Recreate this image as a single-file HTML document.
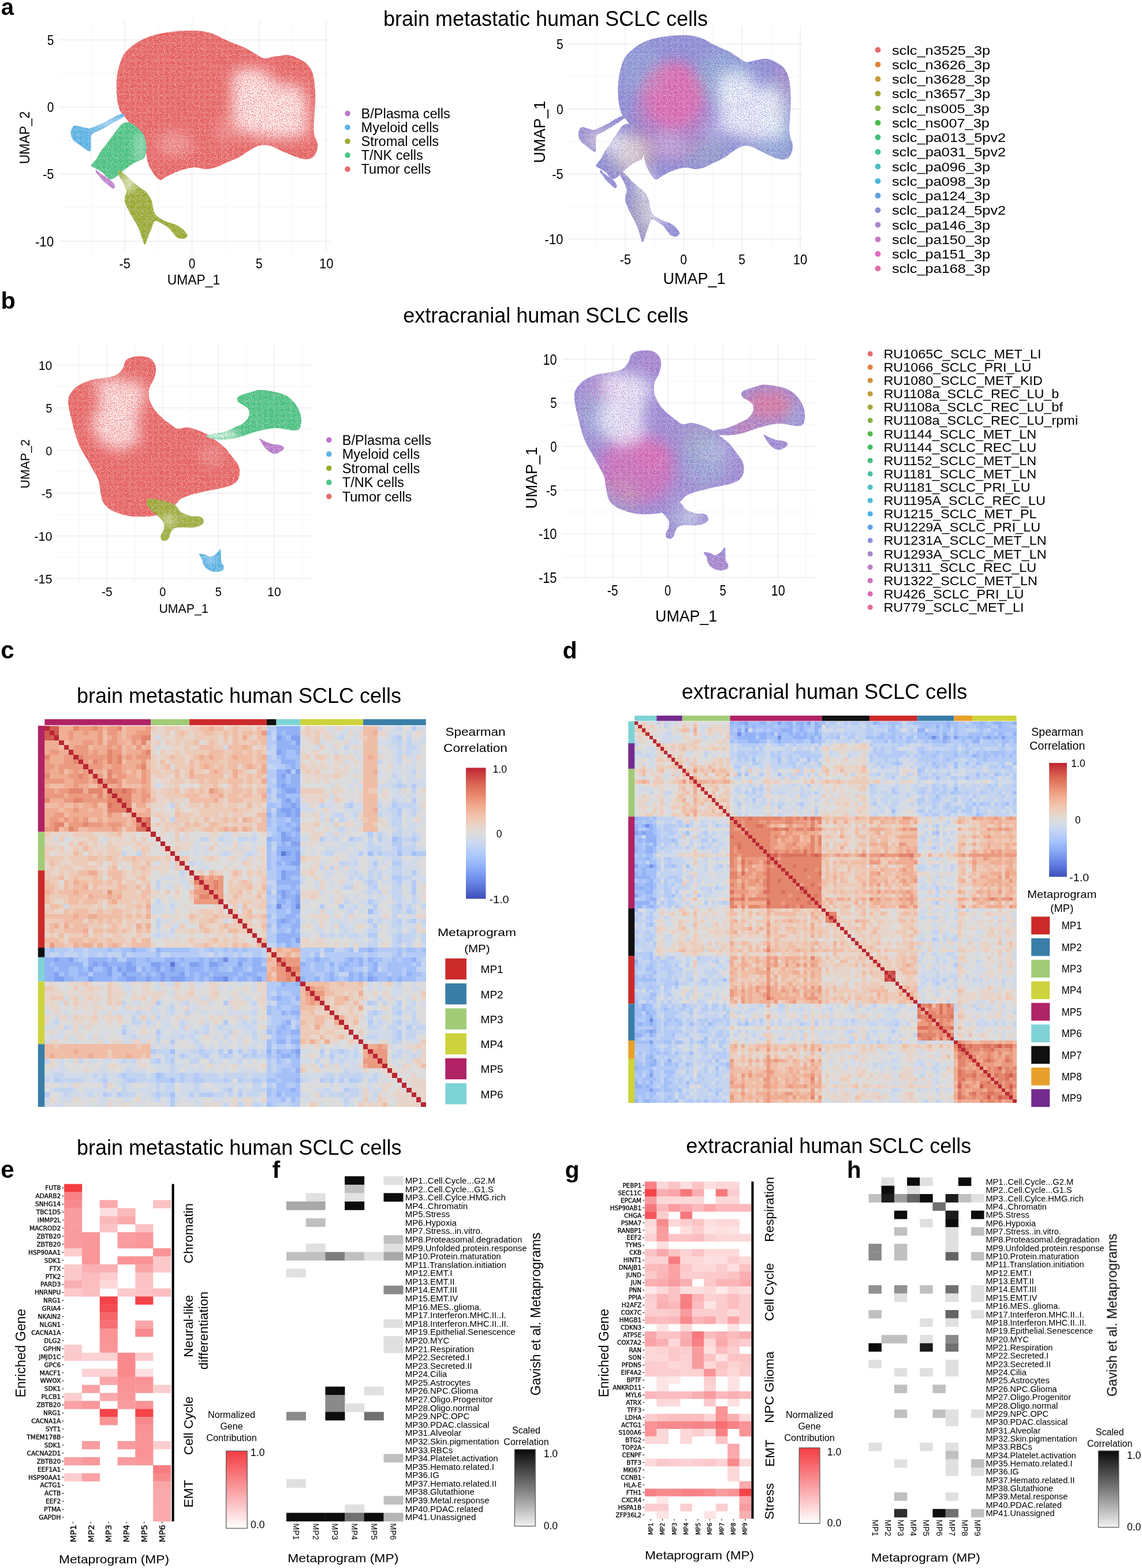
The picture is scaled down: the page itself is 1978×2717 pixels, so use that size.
<!DOCTYPE html><html><head><meta charset="utf-8"><title>SCLC figure</title><style>html,body{margin:0;padding:0;background:#fff;}svg{display:block;}</style></head><body><svg width="1978" height="2717" viewBox="0 0 1978 2717" font-family="Liberation Sans, Arial, sans-serif"><defs><filter id="blur6" x="-50%" y="-50%" width="200%" height="200%"><feGaussianBlur stdDeviation="6"/></filter><filter id="blur12" x="-50%" y="-50%" width="200%" height="200%"><feGaussianBlur stdDeviation="12"/></filter><filter id="rough" x="-5%" y="-5%" width="110%" height="110%"><feTurbulence type="fractalNoise" baseFrequency="0.9" numOctaves="1" seed="3" result="n"/><feColorMatrix in="n" type="matrix" values="0 0 0 0 1  0 0 0 0 1  0 0 0 0 1  0 0 0 3.0 -1.6" result="w"/><feComposite in="w" in2="SourceGraphic" operator="in" result="wm"/><feMerge><feMergeNode in="SourceGraphic"/><feMergeNode in="wm"/></feMerge></filter><filter id="dW" x="0" y="0" width="100%" height="100%"><feTurbulence type="fractalNoise" baseFrequency="0.7" numOctaves="1" seed="5" result="n"/><feColorMatrix in="n" type="matrix" values="0 0 0 0 1.000  0 0 0 0 1.000  0 0 0 0 1.000  0 0 0 10 -3.5"/></filter><filter id="dT" x="0" y="0" width="100%" height="100%"><feTurbulence type="fractalNoise" baseFrequency="0.7" numOctaves="1" seed="9" result="n"/><feColorMatrix in="n" type="matrix" values="0 0 0 0 0.322  0 0 0 0 0.761  0 0 0 0 0.706  0 0 0 9 -4.6"/></filter><filter id="dP" x="0" y="0" width="100%" height="100%"><feTurbulence type="fractalNoise" baseFrequency="0.7" numOctaves="1" seed="13" result="n"/><feColorMatrix in="n" type="matrix" values="0 0 0 0 0.902  0 0 0 0 0.376  0 0 0 0 0.624  0 0 0 8 -3.4"/></filter><filter id="dL" x="0" y="0" width="100%" height="100%"><feTurbulence type="fractalNoise" baseFrequency="0.7" numOctaves="1" seed="17" result="n"/><feColorMatrix in="n" type="matrix" values="0 0 0 0 0.561  0 0 0 0 0.561  0 0 0 0 0.847  0 0 0 8 -3.4"/></filter><filter id="dG" x="0" y="0" width="100%" height="100%"><feTurbulence type="fractalNoise" baseFrequency="0.7" numOctaves="1" seed="21" result="n"/><feColorMatrix in="n" type="matrix" values="0 0 0 0 0.424  0 0 0 0 0.749  0 0 0 0 0.353  0 0 0 9 -4.8"/></filter></defs>
<text x="1.7" y="25.6" font-size="40" font-weight="bold">a</text>
<text x="664.0" y="45.0" font-size="36" textLength="562.0" lengthAdjust="spacingAndGlyphs">brain metastatic human SCLC cells</text>
<text x="1.5" y="535.4" font-size="41.5" font-weight="bold">b</text>
<text x="698.3" y="558.6" font-size="36" textLength="494.0" lengthAdjust="spacingAndGlyphs">extracranial human SCLC cells</text>
<line x1="158.2" y1="36" x2="158.2" y2="438" stroke="#f4f4f4" stroke-width="1.0"/><line x1="216.3" y1="36" x2="216.3" y2="438" stroke="#ebebeb" stroke-width="1.3"/><line x1="274.5" y1="36" x2="274.5" y2="438" stroke="#f4f4f4" stroke-width="1.0"/><line x1="332.6" y1="36" x2="332.6" y2="438" stroke="#ebebeb" stroke-width="1.3"/><line x1="390.8" y1="36" x2="390.8" y2="438" stroke="#f4f4f4" stroke-width="1.0"/><line x1="448.9" y1="36" x2="448.9" y2="438" stroke="#ebebeb" stroke-width="1.3"/><line x1="507.1" y1="36" x2="507.1" y2="438" stroke="#f4f4f4" stroke-width="1.0"/><line x1="565.2" y1="36" x2="565.2" y2="438" stroke="#ebebeb" stroke-width="1.3"/><line x1="102" y1="418.0" x2="571" y2="418.0" stroke="#ebebeb" stroke-width="1.3"/><line x1="102" y1="359.9" x2="571" y2="359.9" stroke="#f4f4f4" stroke-width="1.0"/><line x1="102" y1="301.7" x2="571" y2="301.7" stroke="#ebebeb" stroke-width="1.3"/><line x1="102" y1="243.6" x2="571" y2="243.6" stroke="#f4f4f4" stroke-width="1.0"/><line x1="102" y1="185.4" x2="571" y2="185.4" stroke="#ebebeb" stroke-width="1.3"/><line x1="102" y1="127.2" x2="571" y2="127.2" stroke="#f4f4f4" stroke-width="1.0"/><line x1="102" y1="69.1" x2="571" y2="69.1" stroke="#ebebeb" stroke-width="1.3"/>
<clipPath id="clipT1"><path d="M214.8,93.8C218.5,88.0 222.8,84.8 227.9,80.7C233.0,76.6 238.6,72.5 245.4,69.1C252.1,65.7 259.9,62.7 268.6,60.4C277.3,58.0 288.0,56.3 297.7,55.1C307.4,53.9 317.6,53.2 326.8,53.1C336.0,53.0 345.2,53.3 352.9,54.5C360.7,55.7 367.0,57.9 373.3,60.4C379.6,62.8 384.9,66.4 390.7,69.1C396.5,71.7 402.4,73.9 408.2,76.3C414.0,78.8 419.8,80.7 425.6,83.6C431.4,86.5 437.7,90.9 443.1,93.8C448.4,96.7 452.3,100.3 457.6,101.1C462.9,101.8 468.3,99.1 475.0,98.1C481.8,97.2 491.5,94.8 498.3,95.2C505.1,95.7 510.4,98.6 515.7,101.1C521.1,103.5 526.2,105.9 530.3,109.8C534.4,113.7 538.0,118.5 540.5,124.3C542.9,130.1 543.9,136.9 544.8,144.7C545.8,152.4 546.3,162.1 546.3,170.8C546.3,179.6 545.3,188.8 544.8,197.0C544.3,205.2 543.4,214.0 543.4,220.3C543.4,226.6 543.7,229.9 544.8,234.8C545.9,239.6 549.6,244.5 550.1,249.3C550.5,254.2 549.6,259.7 547.7,263.9C545.9,268.0 542.9,272.1 539.0,274.0C535.1,276.0 529.8,276.2 524.5,275.5C519.1,274.8 513.3,272.1 507.0,269.7C500.7,267.3 493.5,263.9 486.7,261.0C479.9,258.0 472.6,253.7 466.3,252.2C460.0,250.8 454.7,250.8 448.9,252.2C443.1,253.7 437.2,257.6 431.4,261.0C425.6,264.3 420.3,269.2 414.0,272.6C407.7,276.0 400.4,278.4 393.6,281.3C386.9,284.2 379.6,288.1 373.3,290.0C367.0,292.0 361.7,292.9 355.8,292.9C350.0,292.9 344.2,290.0 338.4,290.0C332.6,290.0 326.8,291.5 321.0,292.9C315.1,294.4 309.3,296.3 303.5,298.8C297.7,301.2 290.4,305.3 286.1,307.5C281.7,309.7 280.3,312.3 277.3,311.8C274.4,311.3 271.0,307.2 268.6,304.6C266.2,301.9 264.7,299.2 262.8,295.8C260.9,292.5 258.4,288.1 257.0,284.2C255.5,280.3 255.1,277.4 254.1,272.6C253.1,267.7 252.6,261.0 251.2,255.1C249.7,249.3 248.8,243.5 245.4,237.7C242.0,231.9 235.7,226.1 230.8,220.3C226.0,214.4 220.2,207.7 216.3,202.8C212.4,198.0 209.8,196.0 207.6,191.2C205.4,186.3 204.2,179.6 203.2,173.7C202.2,167.9 201.9,162.6 201.8,156.3C201.6,150.0 201.6,142.7 202.3,135.9C203.1,129.2 204.0,122.6 206.1,115.6C208.2,108.6 211.2,99.6 214.8,93.8Z"/></clipPath>
<g filter="url(#rough)">
<path d="M214.8,93.8C218.5,88.0 222.8,84.8 227.9,80.7C233.0,76.6 238.6,72.5 245.4,69.1C252.1,65.7 259.9,62.7 268.6,60.4C277.3,58.0 288.0,56.3 297.7,55.1C307.4,53.9 317.6,53.2 326.8,53.1C336.0,53.0 345.2,53.3 352.9,54.5C360.7,55.7 367.0,57.9 373.3,60.4C379.6,62.8 384.9,66.4 390.7,69.1C396.5,71.7 402.4,73.9 408.2,76.3C414.0,78.8 419.8,80.7 425.6,83.6C431.4,86.5 437.7,90.9 443.1,93.8C448.4,96.7 452.3,100.3 457.6,101.1C462.9,101.8 468.3,99.1 475.0,98.1C481.8,97.2 491.5,94.8 498.3,95.2C505.1,95.7 510.4,98.6 515.7,101.1C521.1,103.5 526.2,105.9 530.3,109.8C534.4,113.7 538.0,118.5 540.5,124.3C542.9,130.1 543.9,136.9 544.8,144.7C545.8,152.4 546.3,162.1 546.3,170.8C546.3,179.6 545.3,188.8 544.8,197.0C544.3,205.2 543.4,214.0 543.4,220.3C543.4,226.6 543.7,229.9 544.8,234.8C545.9,239.6 549.6,244.5 550.1,249.3C550.5,254.2 549.6,259.7 547.7,263.9C545.9,268.0 542.9,272.1 539.0,274.0C535.1,276.0 529.8,276.2 524.5,275.5C519.1,274.8 513.3,272.1 507.0,269.7C500.7,267.3 493.5,263.9 486.7,261.0C479.9,258.0 472.6,253.7 466.3,252.2C460.0,250.8 454.7,250.8 448.9,252.2C443.1,253.7 437.2,257.6 431.4,261.0C425.6,264.3 420.3,269.2 414.0,272.6C407.7,276.0 400.4,278.4 393.6,281.3C386.9,284.2 379.6,288.1 373.3,290.0C367.0,292.0 361.7,292.9 355.8,292.9C350.0,292.9 344.2,290.0 338.4,290.0C332.6,290.0 326.8,291.5 321.0,292.9C315.1,294.4 309.3,296.3 303.5,298.8C297.7,301.2 290.4,305.3 286.1,307.5C281.7,309.7 280.3,312.3 277.3,311.8C274.4,311.3 271.0,307.2 268.6,304.6C266.2,301.9 264.7,299.2 262.8,295.8C260.9,292.5 258.4,288.1 257.0,284.2C255.5,280.3 255.1,277.4 254.1,272.6C253.1,267.7 252.6,261.0 251.2,255.1C249.7,249.3 248.8,243.5 245.4,237.7C242.0,231.9 235.7,226.1 230.8,220.3C226.0,214.4 220.2,207.7 216.3,202.8C212.4,198.0 209.8,196.0 207.6,191.2C205.4,186.3 204.2,179.6 203.2,173.7C202.2,167.9 201.9,162.6 201.8,156.3C201.6,150.0 201.6,142.7 202.3,135.9C203.1,129.2 204.0,122.6 206.1,115.6C208.2,108.6 211.2,99.6 214.8,93.8Z" fill="#e55f5e"/>
</g>
<mask id="m2" maskUnits="userSpaceOnUse" x="0" y="0" width="1978" height="2717"><g filter="url(#blur12)"><path d="M404.2,127.2C408.7,120.2 419.4,119.3 428.5,118.7C437.5,118.1 449.7,118.9 458.7,123.6C467.8,128.2 473.9,142.8 483.0,146.6C492.1,150.4 505.6,143.2 513.3,146.6C520.9,150.0 525.6,156.7 529.0,167.2C532.4,177.7 533.6,198.5 533.8,209.6C534.0,220.7 535.7,229.0 530.2,233.8C524.8,238.7 512.0,237.9 501.1,238.7C490.2,239.5 475.9,239.7 464.8,238.7C453.7,237.7 443.4,234.6 434.5,232.6C425.6,230.6 416.7,232.4 411.5,226.6C406.2,220.7 404.6,208.4 403.0,197.5C401.4,186.6 401.6,172.8 401.8,161.1C402.0,149.4 399.8,134.3 404.2,127.2Z" fill="#fff" opacity="0.85"/><ellipse cx="303.5" cy="249.3" rx="32.0" ry="20.4" fill="#fff" opacity="0.35"/><ellipse cx="390.7" cy="226.1" rx="17.4" ry="26.2" fill="#fff" opacity="0.25"/></g></mask>
<g clip-path="url(#clipT1)" mask="url(#m2)"><rect x="197" y="48" width="358" height="269" filter="url(#dW)"/></g>
<g filter="url(#rough)">
<path d="M123.3,226.1C124.2,223.3 125.7,218.8 129.1,217.9C132.5,217.1 139.5,220.1 143.6,220.8C147.7,221.6 149.9,223.1 153.8,222.6C157.7,222.1 162.3,219.8 166.9,217.9C171.5,216.1 177.0,213.7 181.4,211.5C185.8,209.4 189.2,207.2 193.0,205.1C196.9,203.1 201.3,200.7 204.7,199.3C208.1,198.0 211.5,196.8 213.4,197.0C215.2,197.2 216.7,198.9 215.7,200.5C214.7,202.0 210.9,204.2 207.6,206.3C204.3,208.4 199.8,210.8 195.9,213.0C192.1,215.2 188.2,217.5 184.3,219.7C180.4,221.9 176.8,223.9 172.7,226.1C168.6,228.2 162.1,229.6 159.6,232.5C157.1,235.4 158.0,238.8 157.6,243.5C157.1,248.3 158.3,258.3 157.0,261.0C155.6,263.6 152.6,261.2 149.4,259.5C146.2,257.8 141.4,253.4 137.8,250.8C134.2,248.1 130.0,246.2 127.6,243.5C125.2,240.8 124.0,237.7 123.3,234.8C122.5,231.9 122.3,228.9 123.3,226.1Z" fill="#55b0e2" opacity="0.9"/>
<path d="M123.3,226.1C124.2,223.3 125.7,218.8 129.1,217.9C132.5,217.1 139.5,219.9 143.6,220.8C147.7,221.8 151.6,220.9 153.8,223.7C156.0,226.6 156.2,231.5 156.7,237.7C157.2,243.9 157.9,257.5 156.7,261.0C155.5,264.4 152.6,260.3 149.4,258.6C146.3,256.9 141.4,253.3 137.8,250.8C134.2,248.3 130.0,246.2 127.6,243.5C125.2,240.8 124.0,237.7 123.3,234.8C122.5,231.9 122.3,228.9 123.3,226.1Z" fill="#55b0e2" opacity="1"/>
<path d="M157.9,286.5C158.0,283.8 164.2,279.5 166.9,275.5C169.6,271.5 171.5,266.7 174.1,262.7C176.8,258.7 180.2,255.2 182.9,251.7C185.5,248.1 187.7,244.5 190.1,241.2C192.5,237.9 195.2,234.7 197.4,231.9C199.6,229.0 200.9,226.9 203.2,224.0C205.5,221.2 208.0,216.7 211.4,214.7C214.7,212.7 219.1,211.2 223.3,212.1C227.5,213.0 233.0,217.2 236.6,220.0C240.3,222.7 243.1,225.7 245.4,228.4C247.6,231.1 248.6,231.6 250.0,236.0C251.4,240.3 253.8,248.4 253.8,254.6C253.8,260.8 252.4,269.1 250.0,273.2C247.6,277.2 242.9,277.2 239.6,279.0C236.2,280.8 233.8,281.5 230.0,283.9C226.1,286.3 221.0,289.7 216.6,293.2C212.1,296.8 207.2,302.2 203.2,305.1C199.2,308.1 195.6,310.5 192.5,310.7C189.3,310.8 186.5,307.8 184.3,306.0C182.1,304.2 181.0,301.6 179.1,299.9C177.1,298.2 174.9,297.2 172.7,295.8C170.5,294.5 168.5,293.6 166.0,292.1C163.5,290.5 157.7,289.3 157.9,286.5Z" fill="#44c07f" opacity="1"/>
<path d="M166.9,294.4C168.4,294.9 172.2,299.2 175.6,301.7C179.0,304.1 183.8,306.5 187.2,308.9C190.6,311.3 193.9,313.6 195.9,316.2C198.0,318.8 199.7,322.6 199.4,324.3C199.2,326.1 196.5,327.3 194.5,326.7C192.5,326.0 189.9,322.8 187.2,320.6C184.6,318.3 181.2,316.0 178.5,313.3C175.8,310.6 173.3,307.0 171.2,304.6C169.2,302.1 167.0,300.4 166.3,298.8C165.6,297.1 165.3,293.9 166.9,294.4Z" fill="#b874c9" opacity="0.9"/>
<path d="M204.7,295.8C206.4,295.4 212.4,298.8 216.3,301.7C220.2,304.6 223.6,309.4 227.9,313.3C232.3,317.2 238.1,321.5 242.5,324.9C246.8,328.3 250.7,329.8 254.1,333.6C257.5,337.5 260.9,343.3 262.8,348.2C264.7,353.0 264.3,358.4 265.7,362.7C267.2,367.1 268.1,370.9 271.5,374.3C274.9,377.7 280.7,380.6 286.1,383.1C291.4,385.5 298.9,386.9 303.5,388.9C308.1,390.8 310.5,392.3 313.7,394.7C316.8,397.1 320.6,401.0 322.4,403.4C324.2,405.8 325.2,407.5 324.4,409.2C323.7,410.9 320.8,413.1 318.0,413.6C315.3,414.1 310.8,413.6 307.9,412.1C305.0,410.7 303.3,407.8 300.6,404.9C297.9,402.0 295.3,397.6 291.9,394.7C288.5,391.8 284.1,389.4 280.3,387.4C276.4,385.5 271.5,381.9 268.6,383.1C265.7,384.3 264.7,390.3 262.8,394.7C260.9,399.1 258.9,404.4 257.0,409.2C255.1,414.1 252.9,422.8 251.2,423.8C249.5,424.7 248.8,419.9 246.8,415.0C244.9,410.2 242.7,401.5 239.6,394.7C236.4,387.9 231.6,381.1 227.9,374.3C224.3,367.6 219.7,359.3 217.7,354.0C215.8,348.7 216.1,346.2 216.3,342.4C216.5,338.5 219.7,335.1 219.2,330.7C218.7,326.4 215.6,320.6 213.4,316.2C211.2,311.8 207.6,308.0 206.1,304.6C204.7,301.2 203.0,296.3 204.7,295.8Z" fill="#98a82c" opacity="1"/>
</g>
<clipPath id="clipE3"><path d="M123.3,226.1C124.2,223.3 125.7,218.8 129.1,217.9C132.5,217.1 139.5,220.1 143.6,220.8C147.7,221.6 149.9,223.1 153.8,222.6C157.7,222.1 162.3,219.8 166.9,217.9C171.5,216.1 177.0,213.7 181.4,211.5C185.8,209.4 189.2,207.2 193.0,205.1C196.9,203.1 201.3,200.7 204.7,199.3C208.1,198.0 211.5,196.8 213.4,197.0C215.2,197.2 216.7,198.9 215.7,200.5C214.7,202.0 210.9,204.2 207.6,206.3C204.3,208.4 199.8,210.8 195.9,213.0C192.1,215.2 188.2,217.5 184.3,219.7C180.4,221.9 176.8,223.9 172.7,226.1C168.6,228.2 162.1,229.6 159.6,232.5C157.1,235.4 158.0,238.8 157.6,243.5C157.1,248.3 158.3,258.3 157.0,261.0C155.6,263.6 152.6,261.2 149.4,259.5C146.2,257.8 141.4,253.4 137.8,250.8C134.2,248.1 130.0,246.2 127.6,243.5C125.2,240.8 124.0,237.7 123.3,234.8C122.5,231.9 122.3,228.9 123.3,226.1Z"/><path d="M123.3,226.1C124.2,223.3 125.7,218.8 129.1,217.9C132.5,217.1 139.5,219.9 143.6,220.8C147.7,221.8 151.6,220.9 153.8,223.7C156.0,226.6 156.2,231.5 156.7,237.7C157.2,243.9 157.9,257.5 156.7,261.0C155.5,264.4 152.6,260.3 149.4,258.6C146.3,256.9 141.4,253.3 137.8,250.8C134.2,248.3 130.0,246.2 127.6,243.5C125.2,240.8 124.0,237.7 123.3,234.8C122.5,231.9 122.3,228.9 123.3,226.1Z"/><path d="M157.9,286.5C158.0,283.8 164.2,279.5 166.9,275.5C169.6,271.5 171.5,266.7 174.1,262.7C176.8,258.7 180.2,255.2 182.9,251.7C185.5,248.1 187.7,244.5 190.1,241.2C192.5,237.9 195.2,234.7 197.4,231.9C199.6,229.0 200.9,226.9 203.2,224.0C205.5,221.2 208.0,216.7 211.4,214.7C214.7,212.7 219.1,211.2 223.3,212.1C227.5,213.0 233.0,217.2 236.6,220.0C240.3,222.7 243.1,225.7 245.4,228.4C247.6,231.1 248.6,231.6 250.0,236.0C251.4,240.3 253.8,248.4 253.8,254.6C253.8,260.8 252.4,269.1 250.0,273.2C247.6,277.2 242.9,277.2 239.6,279.0C236.2,280.8 233.8,281.5 230.0,283.9C226.1,286.3 221.0,289.7 216.6,293.2C212.1,296.8 207.2,302.2 203.2,305.1C199.2,308.1 195.6,310.5 192.5,310.7C189.3,310.8 186.5,307.8 184.3,306.0C182.1,304.2 181.0,301.6 179.1,299.9C177.1,298.2 174.9,297.2 172.7,295.8C170.5,294.5 168.5,293.6 166.0,292.1C163.5,290.5 157.7,289.3 157.9,286.5Z"/><path d="M166.9,294.4C168.4,294.9 172.2,299.2 175.6,301.7C179.0,304.1 183.8,306.5 187.2,308.9C190.6,311.3 193.9,313.6 195.9,316.2C198.0,318.8 199.7,322.6 199.4,324.3C199.2,326.1 196.5,327.3 194.5,326.7C192.5,326.0 189.9,322.8 187.2,320.6C184.6,318.3 181.2,316.0 178.5,313.3C175.8,310.6 173.3,307.0 171.2,304.6C169.2,302.1 167.0,300.4 166.3,298.8C165.6,297.1 165.3,293.9 166.9,294.4Z"/><path d="M204.7,295.8C206.4,295.4 212.4,298.8 216.3,301.7C220.2,304.6 223.6,309.4 227.9,313.3C232.3,317.2 238.1,321.5 242.5,324.9C246.8,328.3 250.7,329.8 254.1,333.6C257.5,337.5 260.9,343.3 262.8,348.2C264.7,353.0 264.3,358.4 265.7,362.7C267.2,367.1 268.1,370.9 271.5,374.3C274.9,377.7 280.7,380.6 286.1,383.1C291.4,385.5 298.9,386.9 303.5,388.9C308.1,390.8 310.5,392.3 313.7,394.7C316.8,397.1 320.6,401.0 322.4,403.4C324.2,405.8 325.2,407.5 324.4,409.2C323.7,410.9 320.8,413.1 318.0,413.6C315.3,414.1 310.8,413.6 307.9,412.1C305.0,410.7 303.3,407.8 300.6,404.9C297.9,402.0 295.3,397.6 291.9,394.7C288.5,391.8 284.1,389.4 280.3,387.4C276.4,385.5 271.5,381.9 268.6,383.1C265.7,384.3 264.7,390.3 262.8,394.7C260.9,399.1 258.9,404.4 257.0,409.2C255.1,414.1 252.9,422.8 251.2,423.8C249.5,424.7 248.8,419.9 246.8,415.0C244.9,410.2 242.7,401.5 239.6,394.7C236.4,387.9 231.6,381.1 227.9,374.3C224.3,367.6 219.7,359.3 217.7,354.0C215.8,348.7 216.1,346.2 216.3,342.4C216.5,338.5 219.7,335.1 219.2,330.7C218.7,326.4 215.6,320.6 213.4,316.2C211.2,311.8 207.6,308.0 206.1,304.6C204.7,301.2 203.0,296.3 204.7,295.8Z"/></clipPath>
<mask id="m4" maskUnits="userSpaceOnUse" x="0" y="0" width="1978" height="2717"><g filter="url(#blur6)"><ellipse cx="187.2" cy="213.0" rx="23.3" ry="7.3" fill="#fff" opacity="0.5"/><ellipse cx="222.1" cy="316.2" rx="14.5" ry="17.4" fill="#fff" opacity="0.6"/><ellipse cx="242.5" cy="255.1" rx="11.6" ry="26.2" fill="#fff" opacity="0.35"/></g></mask>
<g clip-path="url(#clipE3)" mask="url(#m4)"><rect x="118" y="192" width="211" height="237" filter="url(#dW)"/></g>
<text x="216.3" y="464.5" font-size="24.2" text-anchor="middle" textLength="19.4" lengthAdjust="spacingAndGlyphs">-5</text>
<text x="332.6" y="464.5" font-size="24.2" text-anchor="middle" textLength="11.6" lengthAdjust="spacingAndGlyphs">0</text>
<text x="448.9" y="464.5" font-size="24.2" text-anchor="middle" textLength="11.6" lengthAdjust="spacingAndGlyphs">5</text>
<text x="565.2" y="464.5" font-size="24.2" text-anchor="middle" textLength="24.6" lengthAdjust="spacingAndGlyphs">10</text>
<text x="93.3" y="77.7" font-size="24.2" text-anchor="end" textLength="11.6" lengthAdjust="spacingAndGlyphs">5</text>
<text x="93.3" y="194.0" font-size="24.2" text-anchor="end" textLength="11.6" lengthAdjust="spacingAndGlyphs">0</text>
<text x="93.3" y="310.3" font-size="24.2" text-anchor="end" textLength="19.4" lengthAdjust="spacingAndGlyphs">-5</text>
<text x="93.3" y="426.6" font-size="24.2" text-anchor="end" textLength="32.4" lengthAdjust="spacingAndGlyphs">-10</text>
<text x="335.4" y="492.7" font-size="23.5" text-anchor="middle" textLength="91.5" lengthAdjust="spacingAndGlyphs">UMAP_1</text>
<text x="51.4" y="238.5" font-size="23.5" text-anchor="middle" textLength="91.5" lengthAdjust="spacingAndGlyphs" transform="rotate(-90 51.4 238.5)">UMAP_2</text>
<circle cx="602" cy="196.6" r="4.8" fill="#bb78cc"/>
<text x="625.6" y="205.0" font-size="23.5">B/Plasma cells</text>
<circle cx="602" cy="220.7" r="4.8" fill="#5ab3e6"/>
<text x="625.6" y="229.1" font-size="23.5">Myeloid cells</text>
<circle cx="602" cy="244.8" r="4.8" fill="#9dab33"/>
<text x="625.6" y="253.2" font-size="23.5">Stromal cells</text>
<circle cx="602" cy="268.9" r="4.8" fill="#4cc487"/>
<text x="625.6" y="277.3" font-size="23.5">T/NK cells</text>
<circle cx="602" cy="293.0" r="4.8" fill="#e86e6c"/>
<text x="625.6" y="301.4" font-size="23.5">Tumor cells</text>
<line x1="1032.6" y1="46" x2="1032.6" y2="434" stroke="#f4f4f4" stroke-width="1.0"/><line x1="1083.1" y1="46" x2="1083.1" y2="434" stroke="#ebebeb" stroke-width="1.3"/><line x1="1133.6" y1="46" x2="1133.6" y2="434" stroke="#f4f4f4" stroke-width="1.0"/><line x1="1184.1" y1="46" x2="1184.1" y2="434" stroke="#ebebeb" stroke-width="1.3"/><line x1="1234.6" y1="46" x2="1234.6" y2="434" stroke="#f4f4f4" stroke-width="1.0"/><line x1="1285.1" y1="46" x2="1285.1" y2="434" stroke="#ebebeb" stroke-width="1.3"/><line x1="1335.6" y1="46" x2="1335.6" y2="434" stroke="#f4f4f4" stroke-width="1.0"/><line x1="1386.1" y1="46" x2="1386.1" y2="434" stroke="#ebebeb" stroke-width="1.3"/><line x1="983.5" y1="414.0" x2="1391" y2="414.0" stroke="#ebebeb" stroke-width="1.3"/><line x1="983.5" y1="357.8" x2="1391" y2="357.8" stroke="#f4f4f4" stroke-width="1.0"/><line x1="983.5" y1="301.5" x2="1391" y2="301.5" stroke="#ebebeb" stroke-width="1.3"/><line x1="983.5" y1="245.2" x2="1391" y2="245.2" stroke="#f4f4f4" stroke-width="1.0"/><line x1="983.5" y1="189.0" x2="1391" y2="189.0" stroke="#ebebeb" stroke-width="1.3"/><line x1="983.5" y1="132.8" x2="1391" y2="132.8" stroke="#f4f4f4" stroke-width="1.0"/><line x1="983.5" y1="76.5" x2="1391" y2="76.5" stroke="#ebebeb" stroke-width="1.3"/>
<clipPath id="clipS5"><path d="M1081.8,100.4C1085.0,94.8 1088.8,91.7 1093.2,87.7C1097.6,83.7 1102.5,79.8 1108.3,76.5C1114.2,73.2 1121.0,70.3 1128.5,68.0C1136.1,65.8 1145.4,64.1 1153.8,63.0C1162.2,61.8 1171.0,61.1 1179.0,61.0C1187.0,60.9 1195.0,61.2 1201.8,62.4C1208.5,63.6 1214.0,65.7 1219.4,68.0C1224.9,70.4 1229.5,73.9 1234.6,76.5C1239.6,79.1 1244.7,81.2 1249.7,83.5C1254.8,85.8 1259.8,87.7 1264.9,90.5C1269.9,93.3 1275.4,97.6 1280.0,100.4C1284.7,103.2 1288.0,106.7 1292.7,107.4C1297.3,108.1 1301.9,105.5 1307.8,104.6C1313.7,103.7 1322.1,101.3 1328.0,101.8C1333.9,102.3 1338.5,105.1 1343.2,107.4C1347.8,109.8 1352.2,112.1 1355.8,115.8C1359.4,119.6 1362.5,124.3 1364.6,129.9C1366.7,135.5 1367.6,142.1 1368.4,149.6C1369.2,157.1 1369.7,166.5 1369.7,174.9C1369.7,183.3 1368.8,192.2 1368.4,200.2C1368.0,208.2 1367.1,216.6 1367.1,222.7C1367.1,228.8 1367.4,232.1 1368.4,236.8C1369.4,241.5 1372.5,246.2 1372.9,250.8C1373.4,255.5 1372.5,260.9 1370.9,264.9C1369.3,268.9 1366.7,272.9 1363.4,274.7C1360.0,276.6 1355.4,276.9 1350.7,276.1C1346.1,275.4 1341.0,272.9 1335.6,270.5C1330.1,268.2 1323.8,264.9 1317.9,262.1C1312.0,259.3 1305.7,255.1 1300.2,253.7C1294.8,252.2 1290.1,252.2 1285.1,253.7C1280.0,255.1 1275.0,258.8 1269.9,262.1C1264.9,265.4 1260.3,270.1 1254.8,273.3C1249.3,276.6 1243.0,279.0 1237.1,281.8C1231.2,284.6 1224.9,288.3 1219.4,290.2C1214.0,292.1 1209.3,293.0 1204.3,293.0C1199.2,293.0 1194.2,290.2 1189.1,290.2C1184.1,290.2 1179.0,291.6 1174.0,293.0C1168.9,294.4 1163.9,296.3 1158.8,298.6C1153.8,301.0 1147.5,305.0 1143.7,307.1C1139.9,309.2 1138.6,311.8 1136.1,311.3C1133.6,310.8 1130.6,306.8 1128.5,304.3C1126.4,301.7 1125.2,299.1 1123.5,295.8C1121.8,292.6 1119.7,288.3 1118.4,284.6C1117.2,280.8 1116.8,278.0 1115.9,273.3C1115.1,268.6 1114.7,262.1 1113.4,256.5C1112.1,250.8 1111.3,245.2 1108.3,239.6C1105.4,234.0 1099.9,228.3 1095.7,222.7C1091.5,217.1 1086.5,210.5 1083.1,205.8C1079.7,201.2 1077.4,199.3 1075.5,194.6C1073.6,189.9 1072.6,183.3 1071.7,177.7C1070.9,172.1 1070.6,166.9 1070.5,160.8C1070.3,154.8 1070.3,147.7 1071.0,141.2C1071.6,134.6 1072.4,128.3 1074.3,121.5C1076.1,114.7 1078.7,106.0 1081.8,100.4Z"/><path d="M1032.3,286.8C1032.5,284.2 1037.8,280.0 1040.2,276.1C1042.5,272.3 1044.2,267.6 1046.5,263.8C1048.8,259.9 1051.7,256.6 1054.1,253.1C1056.4,249.6 1058.3,246.2 1060.4,243.0C1062.5,239.8 1064.8,236.7 1066.7,234.0C1068.6,231.2 1069.7,229.1 1071.7,226.4C1073.8,223.6 1075.9,219.3 1078.8,217.4C1081.7,215.4 1085.5,214.0 1089.2,214.8C1092.8,215.7 1097.6,219.8 1100.8,222.4C1104.0,225.1 1106.4,228.0 1108.3,230.6C1110.3,233.2 1111.2,233.7 1112.4,237.9C1113.6,242.1 1115.7,249.9 1115.7,255.9C1115.7,261.9 1114.4,270.0 1112.4,273.9C1110.3,277.8 1106.2,277.8 1103.3,279.5C1100.4,281.3 1098.3,282.0 1095.0,284.3C1091.6,286.6 1087.2,289.9 1083.3,293.3C1079.5,296.7 1075.2,302.0 1071.7,304.8C1068.2,307.6 1065.1,310.0 1062.4,310.2C1059.7,310.3 1057.3,307.4 1055.3,305.7C1053.4,303.9 1052.5,301.4 1050.8,299.8C1049.1,298.1 1047.1,297.1 1045.2,295.8C1043.3,294.6 1041.6,293.7 1039.4,292.2C1037.3,290.7 1032.2,289.5 1032.3,286.8Z"/><path d="M1002.3,228.3C1003.1,225.6 1004.4,221.3 1007.3,220.5C1010.3,219.6 1016.4,222.5 1020.0,223.3C1023.5,224.0 1025.4,225.4 1028.8,225.0C1032.2,224.5 1036.2,222.2 1040.2,220.5C1044.2,218.7 1049.0,216.3 1052.8,214.3C1056.6,212.2 1059.5,210.1 1062.9,208.1C1066.3,206.1 1070.0,203.8 1073.0,202.5C1075.9,201.2 1079.0,200.0 1080.6,200.2C1082.2,200.4 1083.4,202.1 1082.6,203.6C1081.7,205.1 1078.4,207.2 1075.5,209.2C1072.7,211.2 1068.8,213.5 1065.4,215.7C1062.1,217.8 1058.7,220.0 1055.3,222.2C1052.0,224.3 1048.8,226.3 1045.2,228.3C1041.6,230.4 1036.0,231.7 1033.9,234.5C1031.7,237.3 1032.5,240.6 1032.1,245.2C1031.7,249.8 1032.8,259.5 1031.6,262.1C1030.4,264.7 1027.8,262.3 1025.0,260.7C1022.2,259.0 1018.1,254.8 1014.9,252.2C1011.8,249.7 1008.2,247.8 1006.1,245.2C1004.0,242.6 1002.9,239.6 1002.3,236.8C1001.7,234.0 1001.5,231.1 1002.3,228.3Z"/><path d="M1040.2,294.4C1041.5,294.9 1044.8,299.1 1047.7,301.5C1050.7,303.8 1054.9,306.1 1057.8,308.5C1060.8,310.8 1063.7,313.0 1065.4,315.5C1067.2,318.0 1068.7,321.7 1068.4,323.4C1068.2,325.1 1065.9,326.3 1064.2,325.6C1062.4,325.0 1060.2,321.9 1057.8,319.7C1055.5,317.6 1052.6,315.3 1050.3,312.7C1048.0,310.1 1045.7,306.6 1044.0,304.3C1042.2,301.9 1040.3,300.3 1039.7,298.6C1039.0,297.0 1038.8,294.0 1040.2,294.4Z"/><path d="M1073.0,295.8C1074.5,295.4 1079.7,298.6 1083.1,301.5C1086.5,304.3 1089.4,309.0 1093.2,312.7C1097.0,316.5 1102.0,320.7 1105.8,324.0C1109.6,327.2 1113.0,328.6 1115.9,332.4C1118.9,336.1 1121.8,341.8 1123.5,346.5C1125.2,351.1 1124.8,356.3 1126.0,360.5C1127.3,364.7 1128.1,368.5 1131.1,371.8C1134.0,375.0 1139.1,377.9 1143.7,380.2C1148.3,382.5 1154.8,384.0 1158.8,385.8C1162.8,387.7 1164.9,389.1 1167.7,391.5C1170.4,393.8 1173.7,397.5 1175.3,399.9C1176.8,402.2 1177.6,403.9 1177.0,405.5C1176.4,407.2 1173.9,409.3 1171.5,409.7C1169.1,410.2 1165.2,409.7 1162.6,408.3C1160.1,406.9 1158.6,404.1 1156.3,401.3C1154.0,398.5 1151.7,394.3 1148.7,391.5C1145.8,388.6 1142.0,386.3 1138.6,384.4C1135.3,382.5 1131.1,379.0 1128.5,380.2C1126.0,381.4 1125.2,387.2 1123.5,391.5C1121.8,395.7 1120.1,400.8 1118.4,405.5C1116.8,410.2 1114.9,418.6 1113.4,419.6C1111.9,420.5 1111.3,415.8 1109.6,411.1C1107.9,406.5 1106.0,398.0 1103.3,391.5C1100.6,384.9 1096.3,378.3 1093.2,371.8C1090.0,365.2 1086.0,357.2 1084.4,352.1C1082.7,346.9 1082.9,344.6 1083.1,340.8C1083.3,337.1 1086.0,333.8 1085.6,329.6C1085.2,325.4 1082.5,319.7 1080.6,315.5C1078.7,311.3 1075.5,307.6 1074.3,304.3C1073.0,301.0 1071.5,296.3 1073.0,295.8Z"/></clipPath>
<g filter="url(#rough)">
<path d="M1081.8,100.4C1085.0,94.8 1088.8,91.7 1093.2,87.7C1097.6,83.7 1102.5,79.8 1108.3,76.5C1114.2,73.2 1121.0,70.3 1128.5,68.0C1136.1,65.8 1145.4,64.1 1153.8,63.0C1162.2,61.8 1171.0,61.1 1179.0,61.0C1187.0,60.9 1195.0,61.2 1201.8,62.4C1208.5,63.6 1214.0,65.7 1219.4,68.0C1224.9,70.4 1229.5,73.9 1234.6,76.5C1239.6,79.1 1244.7,81.2 1249.7,83.5C1254.8,85.8 1259.8,87.7 1264.9,90.5C1269.9,93.3 1275.4,97.6 1280.0,100.4C1284.7,103.2 1288.0,106.7 1292.7,107.4C1297.3,108.1 1301.9,105.5 1307.8,104.6C1313.7,103.7 1322.1,101.3 1328.0,101.8C1333.9,102.3 1338.5,105.1 1343.2,107.4C1347.8,109.8 1352.2,112.1 1355.8,115.8C1359.4,119.6 1362.5,124.3 1364.6,129.9C1366.7,135.5 1367.6,142.1 1368.4,149.6C1369.2,157.1 1369.7,166.5 1369.7,174.9C1369.7,183.3 1368.8,192.2 1368.4,200.2C1368.0,208.2 1367.1,216.6 1367.1,222.7C1367.1,228.8 1367.4,232.1 1368.4,236.8C1369.4,241.5 1372.5,246.2 1372.9,250.8C1373.4,255.5 1372.5,260.9 1370.9,264.9C1369.3,268.9 1366.7,272.9 1363.4,274.7C1360.0,276.6 1355.4,276.9 1350.7,276.1C1346.1,275.4 1341.0,272.9 1335.6,270.5C1330.1,268.2 1323.8,264.9 1317.9,262.1C1312.0,259.3 1305.7,255.1 1300.2,253.7C1294.8,252.2 1290.1,252.2 1285.1,253.7C1280.0,255.1 1275.0,258.8 1269.9,262.1C1264.9,265.4 1260.3,270.1 1254.8,273.3C1249.3,276.6 1243.0,279.0 1237.1,281.8C1231.2,284.6 1224.9,288.3 1219.4,290.2C1214.0,292.1 1209.3,293.0 1204.3,293.0C1199.2,293.0 1194.2,290.2 1189.1,290.2C1184.1,290.2 1179.0,291.6 1174.0,293.0C1168.9,294.4 1163.9,296.3 1158.8,298.6C1153.8,301.0 1147.5,305.0 1143.7,307.1C1139.9,309.2 1138.6,311.8 1136.1,311.3C1133.6,310.8 1130.6,306.8 1128.5,304.3C1126.4,301.7 1125.2,299.1 1123.5,295.8C1121.8,292.6 1119.7,288.3 1118.4,284.6C1117.2,280.8 1116.8,278.0 1115.9,273.3C1115.1,268.6 1114.7,262.1 1113.4,256.5C1112.1,250.8 1111.3,245.2 1108.3,239.6C1105.4,234.0 1099.9,228.3 1095.7,222.7C1091.5,217.1 1086.5,210.5 1083.1,205.8C1079.7,201.2 1077.4,199.3 1075.5,194.6C1073.6,189.9 1072.6,183.3 1071.7,177.7C1070.9,172.1 1070.6,166.9 1070.5,160.8C1070.3,154.8 1070.3,147.7 1071.0,141.2C1071.6,134.6 1072.4,128.3 1074.3,121.5C1076.1,114.7 1078.7,106.0 1081.8,100.4Z" fill="#8a86d2"/>
<path d="M1032.3,286.8C1032.5,284.2 1037.8,280.0 1040.2,276.1C1042.5,272.3 1044.2,267.6 1046.5,263.8C1048.8,259.9 1051.7,256.6 1054.1,253.1C1056.4,249.6 1058.3,246.2 1060.4,243.0C1062.5,239.8 1064.8,236.7 1066.7,234.0C1068.6,231.2 1069.7,229.1 1071.7,226.4C1073.8,223.6 1075.9,219.3 1078.8,217.4C1081.7,215.4 1085.5,214.0 1089.2,214.8C1092.8,215.7 1097.6,219.8 1100.8,222.4C1104.0,225.1 1106.4,228.0 1108.3,230.6C1110.3,233.2 1111.2,233.7 1112.4,237.9C1113.6,242.1 1115.7,249.9 1115.7,255.9C1115.7,261.9 1114.4,270.0 1112.4,273.9C1110.3,277.8 1106.2,277.8 1103.3,279.5C1100.4,281.3 1098.3,282.0 1095.0,284.3C1091.6,286.6 1087.2,289.9 1083.3,293.3C1079.5,296.7 1075.2,302.0 1071.7,304.8C1068.2,307.6 1065.1,310.0 1062.4,310.2C1059.7,310.3 1057.3,307.4 1055.3,305.7C1053.4,303.9 1052.5,301.4 1050.8,299.8C1049.1,298.1 1047.1,297.1 1045.2,295.8C1043.3,294.6 1041.6,293.7 1039.4,292.2C1037.3,290.7 1032.2,289.5 1032.3,286.8Z" fill="#8a86d2"/>
<path d="M1002.3,228.3C1003.1,225.6 1004.4,221.3 1007.3,220.5C1010.3,219.6 1016.4,222.5 1020.0,223.3C1023.5,224.0 1025.4,225.4 1028.8,225.0C1032.2,224.5 1036.2,222.2 1040.2,220.5C1044.2,218.7 1049.0,216.3 1052.8,214.3C1056.6,212.2 1059.5,210.1 1062.9,208.1C1066.3,206.1 1070.0,203.8 1073.0,202.5C1075.9,201.2 1079.0,200.0 1080.6,200.2C1082.2,200.4 1083.4,202.1 1082.6,203.6C1081.7,205.1 1078.4,207.2 1075.5,209.2C1072.7,211.2 1068.8,213.5 1065.4,215.7C1062.1,217.8 1058.7,220.0 1055.3,222.2C1052.0,224.3 1048.8,226.3 1045.2,228.3C1041.6,230.4 1036.0,231.7 1033.9,234.5C1031.7,237.3 1032.5,240.6 1032.1,245.2C1031.7,249.8 1032.8,259.5 1031.6,262.1C1030.4,264.7 1027.8,262.3 1025.0,260.7C1022.2,259.0 1018.1,254.8 1014.9,252.2C1011.8,249.7 1008.2,247.8 1006.1,245.2C1004.0,242.6 1002.9,239.6 1002.3,236.8C1001.7,234.0 1001.5,231.1 1002.3,228.3Z" fill="#8a86d2"/>
<path d="M1040.2,294.4C1041.5,294.9 1044.8,299.1 1047.7,301.5C1050.7,303.8 1054.9,306.1 1057.8,308.5C1060.8,310.8 1063.7,313.0 1065.4,315.5C1067.2,318.0 1068.7,321.7 1068.4,323.4C1068.2,325.1 1065.9,326.3 1064.2,325.6C1062.4,325.0 1060.2,321.9 1057.8,319.7C1055.5,317.6 1052.6,315.3 1050.3,312.7C1048.0,310.1 1045.7,306.6 1044.0,304.3C1042.2,301.9 1040.3,300.3 1039.7,298.6C1039.0,297.0 1038.8,294.0 1040.2,294.4Z" fill="#8a86d2"/>
<path d="M1073.0,295.8C1074.5,295.4 1079.7,298.6 1083.1,301.5C1086.5,304.3 1089.4,309.0 1093.2,312.7C1097.0,316.5 1102.0,320.7 1105.8,324.0C1109.6,327.2 1113.0,328.6 1115.9,332.4C1118.9,336.1 1121.8,341.8 1123.5,346.5C1125.2,351.1 1124.8,356.3 1126.0,360.5C1127.3,364.7 1128.1,368.5 1131.1,371.8C1134.0,375.0 1139.1,377.9 1143.7,380.2C1148.3,382.5 1154.8,384.0 1158.8,385.8C1162.8,387.7 1164.9,389.1 1167.7,391.5C1170.4,393.8 1173.7,397.5 1175.3,399.9C1176.8,402.2 1177.6,403.9 1177.0,405.5C1176.4,407.2 1173.9,409.3 1171.5,409.7C1169.1,410.2 1165.2,409.7 1162.6,408.3C1160.1,406.9 1158.6,404.1 1156.3,401.3C1154.0,398.5 1151.7,394.3 1148.7,391.5C1145.8,388.6 1142.0,386.3 1138.6,384.4C1135.3,382.5 1131.1,379.0 1128.5,380.2C1126.0,381.4 1125.2,387.2 1123.5,391.5C1121.8,395.7 1120.1,400.8 1118.4,405.5C1116.8,410.2 1114.9,418.6 1113.4,419.6C1111.9,420.5 1111.3,415.8 1109.6,411.1C1107.9,406.5 1106.0,398.0 1103.3,391.5C1100.6,384.9 1096.3,378.3 1093.2,371.8C1090.0,365.2 1086.0,357.2 1084.4,352.1C1082.7,346.9 1082.9,344.6 1083.1,340.8C1083.3,337.1 1086.0,333.8 1085.6,329.6C1085.2,325.4 1082.5,319.7 1080.6,315.5C1078.7,311.3 1075.5,307.6 1074.3,304.3C1073.0,301.0 1071.5,296.3 1073.0,295.8Z" fill="#8a86d2"/>
<g clip-path="url(#clipS5)">
<ellipse cx="1165.9" cy="166.5" rx="52.5" ry="58.5" fill="#e65aa6" opacity="0.95" filter="url(#blur12)"/>
<ellipse cx="1163.9" cy="200.2" rx="64.6" ry="81.0" fill="#c56ab8" opacity="0.45" filter="url(#blur12)"/>
<ellipse cx="1355.8" cy="155.2" rx="16.2" ry="45.0" fill="#c070b8" opacity="0.5" filter="url(#blur12)"/>
<ellipse cx="1099.3" cy="267.8" rx="32.3" ry="36.0" fill="#cf7e98" opacity="0.55" filter="url(#blur12)"/>
<ellipse cx="1026.5" cy="240.8" rx="16.2" ry="20.2" fill="#b880a0" opacity="0.5" filter="url(#blur12)"/>
<ellipse cx="1115.4" cy="369.0" rx="20.2" ry="45.0" fill="#c08ab0" opacity="0.45" filter="url(#blur12)"/>
</g></g>
<mask id="m6" maskUnits="userSpaceOnUse" x="0" y="0" width="1978" height="2717"><g filter="url(#blur12)"><ellipse cx="1254.8" cy="132.8" rx="50.5" ry="45.0" fill="#fff" opacity="1.0"/><ellipse cx="1345.7" cy="211.5" rx="32.3" ry="78.8" fill="#fff" opacity="1.0"/><ellipse cx="1315.4" cy="270.0" rx="50.5" ry="18.0" fill="#fff" opacity="1.0"/><ellipse cx="1113.4" cy="121.5" rx="40.4" ry="45.0" fill="#fff" opacity="0.6"/></g></mask>
<g clip-path="url(#clipS5)" mask="url(#m6)"><rect x="997" y="56" width="381" height="369" filter="url(#dT)"/></g>
<mask id="m7" maskUnits="userSpaceOnUse" x="0" y="0" width="1978" height="2717"><g filter="url(#blur12)"><ellipse cx="1093.2" cy="267.8" rx="36.4" ry="33.8" fill="#fff" opacity="1.0"/><ellipse cx="1113.4" cy="357.8" rx="20.2" ry="56.2" fill="#fff" opacity="1.0"/><ellipse cx="1224.5" cy="267.8" rx="40.4" ry="27.0" fill="#fff" opacity="0.7"/></g></mask>
<g clip-path="url(#clipS5)" mask="url(#m7)"><rect x="997" y="56" width="381" height="369" filter="url(#dG)"/></g>
<mask id="m8" maskUnits="userSpaceOnUse" x="0" y="0" width="1978" height="2717"><g filter="url(#blur12)"><path d="M1246.3,132.7C1250.2,125.9 1259.5,125.1 1267.3,124.5C1275.2,123.9 1285.8,124.7 1293.6,129.2C1301.5,133.7 1306.8,147.8 1314.7,151.5C1322.6,155.2 1334.3,148.1 1341.0,151.5C1347.6,154.8 1351.7,161.2 1354.7,171.4C1357.6,181.5 1358.7,201.7 1358.9,212.4C1359.0,223.1 1360.4,231.2 1355.7,235.8C1351.0,240.5 1339.9,239.7 1330.5,240.5C1321.0,241.3 1308.5,241.5 1298.9,240.5C1289.3,239.6 1280.3,236.6 1272.6,234.7C1264.9,232.7 1257.2,234.5 1252.6,228.8C1248.1,223.1 1246.7,211.2 1245.3,200.7C1243.8,190.1 1244.0,176.9 1244.2,165.5C1244.4,154.2 1242.4,139.6 1246.3,132.7Z" fill="#fff" opacity="0.85"/><ellipse cx="1158.8" cy="250.8" rx="30.6" ry="21.7" fill="#fff" opacity="0.2975"/><ellipse cx="1234.6" cy="228.3" rx="16.7" ry="27.8" fill="#fff" opacity="0.2125"/><ellipse cx="1058.9" cy="245.2" rx="24.2" ry="18.0" fill="#fff" opacity="0.8"/><ellipse cx="1117.4" cy="319.5" rx="16.2" ry="27.0" fill="#fff" opacity="0.75"/><ellipse cx="1133.6" cy="369.0" rx="24.2" ry="27.0" fill="#fff" opacity="0.6"/><ellipse cx="1091.2" cy="265.5" rx="28.3" ry="29.2" fill="#fff" opacity="0.55"/><ellipse cx="1030.6" cy="243.0" rx="18.2" ry="18.0" fill="#fff" opacity="0.45"/></g></mask>
<g clip-path="url(#clipS5)" mask="url(#m8)"><rect x="997" y="56" width="381" height="369" filter="url(#dW)"/></g>
<text x="1083.1" y="457.7" font-size="24.2" text-anchor="middle" textLength="19.4" lengthAdjust="spacingAndGlyphs">-5</text>
<text x="1184.1" y="457.7" font-size="24.2" text-anchor="middle" textLength="11.6" lengthAdjust="spacingAndGlyphs">0</text>
<text x="1285.1" y="457.7" font-size="24.2" text-anchor="middle" textLength="11.6" lengthAdjust="spacingAndGlyphs">5</text>
<text x="1386.1" y="457.7" font-size="24.2" text-anchor="middle" textLength="24.6" lengthAdjust="spacingAndGlyphs">10</text>
<text x="975.6" y="85.1" font-size="24.2" text-anchor="end" textLength="11.6" lengthAdjust="spacingAndGlyphs">5</text>
<text x="975.6" y="197.6" font-size="24.2" text-anchor="end" textLength="11.6" lengthAdjust="spacingAndGlyphs">0</text>
<text x="975.6" y="310.1" font-size="24.2" text-anchor="end" textLength="19.4" lengthAdjust="spacingAndGlyphs">-5</text>
<text x="975.6" y="422.6" font-size="24.2" text-anchor="end" textLength="32.4" lengthAdjust="spacingAndGlyphs">-10</text>
<text x="1202.6" y="491.8" font-size="27.3" text-anchor="middle" textLength="108.0" lengthAdjust="spacingAndGlyphs">UMAP_1</text>
<text x="944.2" y="228.6" font-size="27.3" text-anchor="middle" textLength="108.0" lengthAdjust="spacingAndGlyphs" transform="rotate(-90 944.2 228.6)">UMAP_1</text>
<circle cx="1520.5" cy="86.5" r="4.9" fill="#e36c6c"/>
<text x="1544.9" y="94.6" font-size="22.6" textLength="170.3" lengthAdjust="spacingAndGlyphs">sclc_n3525_3p</text>
<circle cx="1520.5" cy="111.8" r="4.9" fill="#dc873a"/>
<text x="1544.9" y="119.8" font-size="22.6" textLength="170.3" lengthAdjust="spacingAndGlyphs">sclc_n3626_3p</text>
<circle cx="1520.5" cy="137.0" r="4.9" fill="#c99a3c"/>
<text x="1544.9" y="145.1" font-size="22.6" textLength="170.3" lengthAdjust="spacingAndGlyphs">sclc_n3628_3p</text>
<circle cx="1520.5" cy="162.2" r="4.9" fill="#a8a63c"/>
<text x="1544.9" y="170.3" font-size="22.6" textLength="170.3" lengthAdjust="spacingAndGlyphs">sclc_n3657_3p</text>
<circle cx="1520.5" cy="187.5" r="4.9" fill="#80b642"/>
<text x="1544.9" y="195.6" font-size="22.6" textLength="168.9" lengthAdjust="spacingAndGlyphs">sclc_ns005_3p</text>
<circle cx="1520.5" cy="212.8" r="4.9" fill="#48bb4c"/>
<text x="1544.9" y="220.8" font-size="22.6" textLength="168.9" lengthAdjust="spacingAndGlyphs">sclc_ns007_3p</text>
<circle cx="1520.5" cy="238.0" r="4.9" fill="#3fbf78"/>
<text x="1544.9" y="246.1" font-size="22.6" textLength="197.3" lengthAdjust="spacingAndGlyphs">sclc_pa013_5pv2</text>
<circle cx="1520.5" cy="263.2" r="4.9" fill="#42c09c"/>
<text x="1544.9" y="271.4" font-size="22.6" textLength="197.3" lengthAdjust="spacingAndGlyphs">sclc_pa031_5pv2</text>
<circle cx="1520.5" cy="288.5" r="4.9" fill="#4cbdc2"/>
<text x="1544.9" y="296.6" font-size="22.6" textLength="170.3" lengthAdjust="spacingAndGlyphs">sclc_pa096_3p</text>
<circle cx="1520.5" cy="313.8" r="4.9" fill="#4ab4e0"/>
<text x="1544.9" y="321.9" font-size="22.6" textLength="170.3" lengthAdjust="spacingAndGlyphs">sclc_pa098_3p</text>
<circle cx="1520.5" cy="339.0" r="4.9" fill="#5c9fdc"/>
<text x="1544.9" y="347.1" font-size="22.6" textLength="170.3" lengthAdjust="spacingAndGlyphs">sclc_pa124_3p</text>
<circle cx="1520.5" cy="364.2" r="4.9" fill="#8a8fd6"/>
<text x="1544.9" y="372.4" font-size="22.6" textLength="197.3" lengthAdjust="spacingAndGlyphs">sclc_pa124_5pv2</text>
<circle cx="1520.5" cy="389.5" r="4.9" fill="#aa86cc"/>
<text x="1544.9" y="397.6" font-size="22.6" textLength="170.3" lengthAdjust="spacingAndGlyphs">sclc_pa146_3p</text>
<circle cx="1520.5" cy="414.8" r="4.9" fill="#c47ac4"/>
<text x="1544.9" y="422.9" font-size="22.6" textLength="170.3" lengthAdjust="spacingAndGlyphs">sclc_pa150_3p</text>
<circle cx="1520.5" cy="440.0" r="4.9" fill="#de6cc0"/>
<text x="1544.9" y="448.1" font-size="22.6" textLength="170.3" lengthAdjust="spacingAndGlyphs">sclc_pa151_3p</text>
<circle cx="1520.5" cy="465.2" r="4.9" fill="#e46aa4"/>
<text x="1544.9" y="473.4" font-size="22.6" textLength="170.3" lengthAdjust="spacingAndGlyphs">sclc_pa168_3p</text>
<line x1="137.1" y1="599" x2="137.1" y2="1009" stroke="#f4f4f4" stroke-width="1.0"/><line x1="185.4" y1="599" x2="185.4" y2="1009" stroke="#ebebeb" stroke-width="1.3"/><line x1="233.6" y1="599" x2="233.6" y2="1009" stroke="#f4f4f4" stroke-width="1.0"/><line x1="281.9" y1="599" x2="281.9" y2="1009" stroke="#ebebeb" stroke-width="1.3"/><line x1="330.1" y1="599" x2="330.1" y2="1009" stroke="#f4f4f4" stroke-width="1.0"/><line x1="378.4" y1="599" x2="378.4" y2="1009" stroke="#ebebeb" stroke-width="1.3"/><line x1="426.6" y1="599" x2="426.6" y2="1009" stroke="#f4f4f4" stroke-width="1.0"/><line x1="474.9" y1="599" x2="474.9" y2="1009" stroke="#ebebeb" stroke-width="1.3"/><line x1="523.1" y1="599" x2="523.1" y2="1009" stroke="#f4f4f4" stroke-width="1.0"/><line x1="97" y1="1002.6" x2="542" y2="1002.6" stroke="#ebebeb" stroke-width="1.3"/><line x1="97" y1="965.6" x2="542" y2="965.6" stroke="#f4f4f4" stroke-width="1.0"/><line x1="97" y1="928.6" x2="542" y2="928.6" stroke="#ebebeb" stroke-width="1.3"/><line x1="97" y1="891.6" x2="542" y2="891.6" stroke="#f4f4f4" stroke-width="1.0"/><line x1="97" y1="854.6" x2="542" y2="854.6" stroke="#ebebeb" stroke-width="1.3"/><line x1="97" y1="817.6" x2="542" y2="817.6" stroke="#f4f4f4" stroke-width="1.0"/><line x1="97" y1="780.6" x2="542" y2="780.6" stroke="#ebebeb" stroke-width="1.3"/><line x1="97" y1="743.6" x2="542" y2="743.6" stroke="#f4f4f4" stroke-width="1.0"/><line x1="97" y1="706.6" x2="542" y2="706.6" stroke="#ebebeb" stroke-width="1.3"/><line x1="97" y1="669.6" x2="542" y2="669.6" stroke="#f4f4f4" stroke-width="1.0"/><line x1="97" y1="632.6" x2="542" y2="632.6" stroke="#ebebeb" stroke-width="1.3"/>
<clipPath id="clipT9"><path d="M118.1,693.9C118.5,688.7 119.8,685.5 122.5,681.3C125.2,677.1 129.3,672.3 134.5,668.7C139.6,665.2 147.1,662.0 153.4,659.9C159.7,657.8 166.0,657.3 172.3,656.1C178.6,655.0 185.9,654.3 191.2,653.0C196.4,651.7 200.1,650.9 203.8,648.3C207.5,645.6 210.9,641.2 213.2,637.2C215.6,633.3 215.3,627.7 218.0,624.6C220.6,621.6 224.0,620.1 229.0,619.0C234.0,617.8 242.6,617.3 247.9,617.7C253.1,618.1 257.1,619.3 260.5,621.5C263.9,623.7 266.8,627.3 268.3,630.9C269.9,634.6 270.3,639.1 269.9,643.5C269.6,648.0 268.0,653.0 266.1,657.7C264.3,662.4 260.3,666.9 258.9,671.9C257.5,676.9 257.4,682.9 258.0,687.6C258.5,692.4 260.1,696.0 262.0,700.2C264.0,704.4 266.5,708.6 269.9,712.8C273.3,717.0 278.3,721.8 282.5,725.4C286.7,729.1 290.9,732.0 295.1,734.9C299.3,737.8 303.0,741.8 307.7,742.8C312.4,743.7 318.2,740.3 323.5,740.6C328.7,740.8 333.4,742.4 339.2,744.3C345.0,746.3 352.3,749.1 358.1,752.2C363.9,755.4 368.6,759.3 373.9,763.2C379.1,767.2 384.9,771.1 389.6,775.8C394.3,780.6 398.3,786.3 402.2,791.6C406.1,796.8 411.1,802.1 413.2,807.3C415.3,812.6 415.6,818.3 414.8,823.1C414.0,827.8 412.2,832.3 408.5,835.7C404.8,839.1 399.1,841.4 392.8,843.5C386.5,845.6 378.1,846.7 370.7,848.3C363.4,849.8 355.5,851.4 348.7,853.0C341.8,854.6 335.5,855.9 329.8,857.7C324.0,859.6 318.2,861.4 314.0,864.0C309.8,866.6 308.2,870.1 304.6,873.5C300.9,876.9 297.2,881.3 292.0,884.5C286.7,887.6 279.4,890.6 273.1,892.4C266.8,894.1 261.5,894.5 254.2,894.9C246.8,895.3 236.3,895.6 229.0,894.9C221.6,894.2 216.4,892.8 210.1,890.8C203.8,888.8 196.4,886.3 191.2,882.9C185.9,879.5 181.5,875.6 178.6,870.3C175.7,865.1 175.2,857.7 173.9,851.4C172.5,845.1 172.5,838.3 170.7,832.5C168.9,826.7 166.2,823.1 162.8,816.8C159.4,810.5 154.4,802.1 150.2,794.7C146.0,787.4 141.0,780.0 137.6,772.7C134.2,765.3 132.0,758.0 129.8,750.6C127.6,743.3 126.0,734.9 124.4,728.6C122.8,722.3 121.4,718.6 120.3,712.8C119.3,707.1 117.7,699.2 118.1,693.9Z"/></clipPath>
<g filter="url(#rough)">
<path d="M118.1,693.9C118.5,688.7 119.8,685.5 122.5,681.3C125.2,677.1 129.3,672.3 134.5,668.7C139.6,665.2 147.1,662.0 153.4,659.9C159.7,657.8 166.0,657.3 172.3,656.1C178.6,655.0 185.9,654.3 191.2,653.0C196.4,651.7 200.1,650.9 203.8,648.3C207.5,645.6 210.9,641.2 213.2,637.2C215.6,633.3 215.3,627.7 218.0,624.6C220.6,621.6 224.0,620.1 229.0,619.0C234.0,617.8 242.6,617.3 247.9,617.7C253.1,618.1 257.1,619.3 260.5,621.5C263.9,623.7 266.8,627.3 268.3,630.9C269.9,634.6 270.3,639.1 269.9,643.5C269.6,648.0 268.0,653.0 266.1,657.7C264.3,662.4 260.3,666.9 258.9,671.9C257.5,676.9 257.4,682.9 258.0,687.6C258.5,692.4 260.1,696.0 262.0,700.2C264.0,704.4 266.5,708.6 269.9,712.8C273.3,717.0 278.3,721.8 282.5,725.4C286.7,729.1 290.9,732.0 295.1,734.9C299.3,737.8 303.0,741.8 307.7,742.8C312.4,743.7 318.2,740.3 323.5,740.6C328.7,740.8 333.4,742.4 339.2,744.3C345.0,746.3 352.3,749.1 358.1,752.2C363.9,755.4 368.6,759.3 373.9,763.2C379.1,767.2 384.9,771.1 389.6,775.8C394.3,780.6 398.3,786.3 402.2,791.6C406.1,796.8 411.1,802.1 413.2,807.3C415.3,812.6 415.6,818.3 414.8,823.1C414.0,827.8 412.2,832.3 408.5,835.7C404.8,839.1 399.1,841.4 392.8,843.5C386.5,845.6 378.1,846.7 370.7,848.3C363.4,849.8 355.5,851.4 348.7,853.0C341.8,854.6 335.5,855.9 329.8,857.7C324.0,859.6 318.2,861.4 314.0,864.0C309.8,866.6 308.2,870.1 304.6,873.5C300.9,876.9 297.2,881.3 292.0,884.5C286.7,887.6 279.4,890.6 273.1,892.4C266.8,894.1 261.5,894.5 254.2,894.9C246.8,895.3 236.3,895.6 229.0,894.9C221.6,894.2 216.4,892.8 210.1,890.8C203.8,888.8 196.4,886.3 191.2,882.9C185.9,879.5 181.5,875.6 178.6,870.3C175.7,865.1 175.2,857.7 173.9,851.4C172.5,845.1 172.5,838.3 170.7,832.5C168.9,826.7 166.2,823.1 162.8,816.8C159.4,810.5 154.4,802.1 150.2,794.7C146.0,787.4 141.0,780.0 137.6,772.7C134.2,765.3 132.0,758.0 129.8,750.6C127.6,743.3 126.0,734.9 124.4,728.6C122.8,722.3 121.4,718.6 120.3,712.8C119.3,707.1 117.7,699.2 118.1,693.9Z" fill="#e55f5e"/>
</g>
<mask id="m10" maskUnits="userSpaceOnUse" x="0" y="0" width="1978" height="2717"><g filter="url(#blur12)"><path d="M162.5,661.1C165.4,656.9 178.3,655.7 187.2,655.2C196.2,654.8 206.6,656.5 216.3,658.1C226.0,659.8 239.3,660.6 245.4,665.4C251.4,670.3 253.1,680.0 252.6,687.2C252.2,694.5 244.9,700.5 242.5,709.0C240.0,717.5 238.1,729.6 238.1,738.1C238.1,746.6 244.9,753.8 242.5,759.9C240.0,766.0 230.3,771.1 223.6,774.4C216.8,777.8 209.8,781.5 201.8,780.3C193.8,779.0 182.4,773.0 175.6,767.2C168.8,761.4 163.5,752.6 161.1,745.4C158.6,738.1 159.1,730.8 161.1,723.6C163.0,716.3 171.2,709.0 172.7,701.8C174.1,694.5 171.5,686.7 169.8,680.0C168.1,673.2 159.6,665.2 162.5,661.1Z" fill="#fff" opacity="0.8"/><ellipse cx="367.6" cy="788.4" rx="22.0" ry="18.9" fill="#fff" opacity="0.25"/><ellipse cx="298.3" cy="867.2" rx="12.6" ry="9.4" fill="#fff" opacity="0.2"/></g></mask>
<g clip-path="url(#clipT9)" mask="url(#m10)"><rect x="113" y="613" width="307" height="287" filter="url(#dW)"/></g>
<g filter="url(#rough)">
<path d="M411.0,689.2C412.0,687.2 414.2,686.1 418.0,684.5C421.7,682.9 428.5,681.2 433.7,679.8C439.0,678.3 443.1,675.9 449.4,675.7C455.7,675.4 464.1,676.7 471.5,678.2C478.8,679.7 487.2,681.3 493.5,684.5C499.8,687.6 505.1,692.4 509.3,697.1C513.5,701.8 516.6,707.6 518.7,712.8C520.8,718.1 521.9,723.6 521.9,728.6C521.9,733.6 520.8,739.9 518.7,742.8C516.6,745.6 513.5,745.7 509.3,745.9C505.1,746.1 498.8,744.4 493.5,743.7C488.3,743.0 483.6,741.7 477.8,741.8C472.0,741.9 465.2,743.1 458.9,744.3C452.6,745.5 446.3,747.2 440.0,749.1C433.7,750.9 427.4,753.5 421.1,755.4C414.8,757.2 408.5,759.0 402.2,760.1C395.9,761.1 389.1,761.7 383.3,761.7C377.5,761.7 372.0,761.0 367.6,760.1C363.1,759.2 356.5,757.6 356.5,756.3C356.5,755.0 362.6,753.4 367.6,752.2C372.5,751.0 380.2,750.9 386.5,749.1C392.8,747.2 399.6,743.8 405.4,741.2C411.1,738.6 416.9,736.5 421.1,733.3C425.3,730.2 429.0,726.2 430.6,722.3C432.1,718.3 432.1,713.1 430.6,709.7C429.0,706.3 424.1,704.0 421.1,701.8C418.1,699.6 414.0,698.6 412.3,696.5C410.6,694.4 410.1,691.2 411.0,689.2Z" fill="#44c07f" opacity="1"/>
<path d="M449.4,760.1C450.5,759.8 455.2,763.2 458.9,764.8C462.6,766.4 467.3,768.5 471.5,769.5C475.7,770.6 480.7,770.1 484.1,771.1C487.5,772.2 491.2,774.3 492.0,775.8C492.8,777.4 490.7,779.0 488.8,780.6C487.0,782.1 483.6,784.4 480.9,785.3C478.3,786.2 476.0,786.7 473.1,785.9C470.2,785.1 466.4,782.8 463.6,780.6C460.8,778.3 458.2,775.0 456.4,772.7C454.5,770.3 453.8,768.5 452.6,766.4C451.4,764.3 448.4,760.3 449.4,760.1Z" fill="#b874c9" opacity="1"/>
<path d="M257.3,864.0C260.5,862.7 267.3,864.5 273.1,865.6C278.8,866.6 286.7,868.5 292.0,870.3C297.2,872.2 300.9,873.7 304.6,876.6C308.2,879.5 309.8,884.8 314.0,887.6C318.2,890.5 324.5,892.7 329.8,893.9C335.0,895.1 341.7,893.8 345.5,894.9C349.3,895.9 351.4,898.3 352.4,900.2C353.5,902.2 353.2,904.6 351.8,906.5C350.4,908.5 347.6,910.6 343.9,911.9C340.3,913.2 334.8,914.1 329.8,914.4C324.8,914.7 318.7,913.5 314.0,913.8C309.3,914.0 304.6,914.3 301.4,916.0C298.3,917.7 296.7,921.0 295.1,923.9C293.5,926.7 293.5,931.1 292.0,933.3C290.4,935.5 287.8,936.8 285.7,937.1C283.6,937.3 280.5,936.6 279.4,934.9C278.2,933.2 278.1,929.6 278.7,927.0C279.4,924.4 282.3,922.3 283.1,919.1C284.0,916.0 284.7,911.3 284.1,908.1C283.5,905.0 281.5,902.9 279.4,900.2C277.3,897.6 274.6,895.2 271.5,892.4C268.3,889.5 263.4,886.1 260.5,882.9C257.6,879.8 254.7,876.6 254.2,873.5C253.6,870.3 254.2,865.3 257.3,864.0Z" fill="#98a82c" opacity="0.95"/>
<path d="M344.9,960.1C345.7,958.7 351.7,960.2 355.0,961.0C358.2,961.8 361.3,965.0 364.4,964.8C367.6,964.6 371.0,962.3 373.9,960.1C376.7,957.9 380.3,951.3 381.7,951.6C383.2,951.8 382.4,957.9 382.7,961.7C382.9,965.4 382.5,971.1 383.3,974.3C384.1,977.4 386.9,978.3 387.4,980.6C387.9,982.8 388.2,985.8 386.5,987.5C384.7,989.2 380.2,990.2 377.0,990.6C373.9,991.0 370.7,990.9 367.6,990.0C364.4,989.1 360.7,987.4 358.1,985.3C355.5,983.2 353.1,980.0 351.8,977.4C350.5,974.8 351.4,972.4 350.2,969.5C349.1,966.6 344.1,961.5 344.9,960.1Z" fill="#55b0e2" opacity="1"/>
</g>
<clipPath id="clipE11"><path d="M411.0,689.2C412.0,687.2 414.2,686.1 418.0,684.5C421.7,682.9 428.5,681.2 433.7,679.8C439.0,678.3 443.1,675.9 449.4,675.7C455.7,675.4 464.1,676.7 471.5,678.2C478.8,679.7 487.2,681.3 493.5,684.5C499.8,687.6 505.1,692.4 509.3,697.1C513.5,701.8 516.6,707.6 518.7,712.8C520.8,718.1 521.9,723.6 521.9,728.6C521.9,733.6 520.8,739.9 518.7,742.8C516.6,745.6 513.5,745.7 509.3,745.9C505.1,746.1 498.8,744.4 493.5,743.7C488.3,743.0 483.6,741.7 477.8,741.8C472.0,741.9 465.2,743.1 458.9,744.3C452.6,745.5 446.3,747.2 440.0,749.1C433.7,750.9 427.4,753.5 421.1,755.4C414.8,757.2 408.5,759.0 402.2,760.1C395.9,761.1 389.1,761.7 383.3,761.7C377.5,761.7 372.0,761.0 367.6,760.1C363.1,759.2 356.5,757.6 356.5,756.3C356.5,755.0 362.6,753.4 367.6,752.2C372.5,751.0 380.2,750.9 386.5,749.1C392.8,747.2 399.6,743.8 405.4,741.2C411.1,738.6 416.9,736.5 421.1,733.3C425.3,730.2 429.0,726.2 430.6,722.3C432.1,718.3 432.1,713.1 430.6,709.7C429.0,706.3 424.1,704.0 421.1,701.8C418.1,699.6 414.0,698.6 412.3,696.5C410.6,694.4 410.1,691.2 411.0,689.2Z"/><path d="M449.4,760.1C450.5,759.8 455.2,763.2 458.9,764.8C462.6,766.4 467.3,768.5 471.5,769.5C475.7,770.6 480.7,770.1 484.1,771.1C487.5,772.2 491.2,774.3 492.0,775.8C492.8,777.4 490.7,779.0 488.8,780.6C487.0,782.1 483.6,784.4 480.9,785.3C478.3,786.2 476.0,786.7 473.1,785.9C470.2,785.1 466.4,782.8 463.6,780.6C460.8,778.3 458.2,775.0 456.4,772.7C454.5,770.3 453.8,768.5 452.6,766.4C451.4,764.3 448.4,760.3 449.4,760.1Z"/><path d="M257.3,864.0C260.5,862.7 267.3,864.5 273.1,865.6C278.8,866.6 286.7,868.5 292.0,870.3C297.2,872.2 300.9,873.7 304.6,876.6C308.2,879.5 309.8,884.8 314.0,887.6C318.2,890.5 324.5,892.7 329.8,893.9C335.0,895.1 341.7,893.8 345.5,894.9C349.3,895.9 351.4,898.3 352.4,900.2C353.5,902.2 353.2,904.6 351.8,906.5C350.4,908.5 347.6,910.6 343.9,911.9C340.3,913.2 334.8,914.1 329.8,914.4C324.8,914.7 318.7,913.5 314.0,913.8C309.3,914.0 304.6,914.3 301.4,916.0C298.3,917.7 296.7,921.0 295.1,923.9C293.5,926.7 293.5,931.1 292.0,933.3C290.4,935.5 287.8,936.8 285.7,937.1C283.6,937.3 280.5,936.6 279.4,934.9C278.2,933.2 278.1,929.6 278.7,927.0C279.4,924.4 282.3,922.3 283.1,919.1C284.0,916.0 284.7,911.3 284.1,908.1C283.5,905.0 281.5,902.9 279.4,900.2C277.3,897.6 274.6,895.2 271.5,892.4C268.3,889.5 263.4,886.1 260.5,882.9C257.6,879.8 254.7,876.6 254.2,873.5C253.6,870.3 254.2,865.3 257.3,864.0Z"/><path d="M344.9,960.1C345.7,958.7 351.7,960.2 355.0,961.0C358.2,961.8 361.3,965.0 364.4,964.8C367.6,964.6 371.0,962.3 373.9,960.1C376.7,957.9 380.3,951.3 381.7,951.6C383.2,951.8 382.4,957.9 382.7,961.7C382.9,965.4 382.5,971.1 383.3,974.3C384.1,977.4 386.9,978.3 387.4,980.6C387.9,982.8 388.2,985.8 386.5,987.5C384.7,989.2 380.2,990.2 377.0,990.6C373.9,991.0 370.7,990.9 367.6,990.0C364.4,989.1 360.7,987.4 358.1,985.3C355.5,983.2 353.1,980.0 351.8,977.4C350.5,974.8 351.4,972.4 350.2,969.5C349.1,966.6 344.1,961.5 344.9,960.1Z"/></clipPath>
<mask id="m12" maskUnits="userSpaceOnUse" x="0" y="0" width="1978" height="2717"><g filter="url(#blur6)"><ellipse cx="383.3" cy="753.8" rx="29.9" ry="9.4" fill="#fff" opacity="0.8"/><ellipse cx="364.4" cy="969.5" rx="6.9" ry="4.4" fill="#fff" opacity="0.9"/><ellipse cx="292.0" cy="901.8" rx="12.6" ry="9.4" fill="#fff" opacity="0.45"/></g></mask>
<g clip-path="url(#clipE11)" mask="url(#m12)"><rect x="249" y="671" width="278" height="325" filter="url(#dW)"/></g>
<text x="185.4" y="1033.3" font-size="22.6" text-anchor="middle" textLength="18.6" lengthAdjust="spacingAndGlyphs">-5</text>
<text x="281.9" y="1033.3" font-size="22.6" text-anchor="middle" textLength="11.1" lengthAdjust="spacingAndGlyphs">0</text>
<text x="378.4" y="1033.3" font-size="22.6" text-anchor="middle" textLength="11.1" lengthAdjust="spacingAndGlyphs">5</text>
<text x="474.9" y="1033.3" font-size="22.6" text-anchor="middle" textLength="23.6" lengthAdjust="spacingAndGlyphs">10</text>
<text x="90.4" y="640.6" font-size="22.6" text-anchor="end" textLength="23.6" lengthAdjust="spacingAndGlyphs">10</text>
<text x="90.4" y="714.6" font-size="22.6" text-anchor="end" textLength="11.1" lengthAdjust="spacingAndGlyphs">5</text>
<text x="90.4" y="788.6" font-size="22.6" text-anchor="end" textLength="11.1" lengthAdjust="spacingAndGlyphs">0</text>
<text x="90.4" y="862.6" font-size="22.6" text-anchor="end" textLength="18.6" lengthAdjust="spacingAndGlyphs">-5</text>
<text x="90.4" y="936.6" font-size="22.6" text-anchor="end" textLength="31.2" lengthAdjust="spacingAndGlyphs">-10</text>
<text x="90.4" y="1010.6" font-size="22.6" text-anchor="end" textLength="31.2" lengthAdjust="spacingAndGlyphs">-15</text>
<text x="318.1" y="1061.8" font-size="21.5" text-anchor="middle" textLength="85.4" lengthAdjust="spacingAndGlyphs">UMAP_1</text>
<text x="51.4" y="803.8" font-size="21.5" text-anchor="middle" textLength="85.4" lengthAdjust="spacingAndGlyphs" transform="rotate(-90 51.4 803.8)">UMAP_2</text>
<circle cx="569.8" cy="762.3" r="4.8" fill="#bb78cc"/>
<text x="592.8" y="770.7" font-size="23.5">B/Plasma cells</text>
<circle cx="569.8" cy="786.8" r="4.8" fill="#5ab3e6"/>
<text x="592.8" y="795.2" font-size="23.5">Myeloid cells</text>
<circle cx="569.8" cy="811.3" r="4.8" fill="#9dab33"/>
<text x="592.8" y="819.7" font-size="23.5">Stromal cells</text>
<circle cx="569.8" cy="835.8" r="4.8" fill="#4cc487"/>
<text x="592.8" y="844.2" font-size="23.5">T/NK cells</text>
<circle cx="569.8" cy="860.3" r="4.8" fill="#e86e6c"/>
<text x="592.8" y="868.7" font-size="23.5">Tumor cells</text>
<line x1="1013.5" y1="594" x2="1013.5" y2="1007" stroke="#f4f4f4" stroke-width="1.0"/><line x1="1061.2" y1="594" x2="1061.2" y2="1007" stroke="#ebebeb" stroke-width="1.3"/><line x1="1109.0" y1="594" x2="1109.0" y2="1007" stroke="#f4f4f4" stroke-width="1.0"/><line x1="1156.7" y1="594" x2="1156.7" y2="1007" stroke="#ebebeb" stroke-width="1.3"/><line x1="1204.5" y1="594" x2="1204.5" y2="1007" stroke="#f4f4f4" stroke-width="1.0"/><line x1="1252.2" y1="594" x2="1252.2" y2="1007" stroke="#ebebeb" stroke-width="1.3"/><line x1="1300.0" y1="594" x2="1300.0" y2="1007" stroke="#f4f4f4" stroke-width="1.0"/><line x1="1347.7" y1="594" x2="1347.7" y2="1007" stroke="#ebebeb" stroke-width="1.3"/><line x1="1395.5" y1="594" x2="1395.5" y2="1007" stroke="#f4f4f4" stroke-width="1.0"/><line x1="974" y1="1000.5" x2="1413" y2="1000.5" stroke="#ebebeb" stroke-width="1.3"/><line x1="974" y1="962.7" x2="1413" y2="962.7" stroke="#f4f4f4" stroke-width="1.0"/><line x1="974" y1="924.9" x2="1413" y2="924.9" stroke="#ebebeb" stroke-width="1.3"/><line x1="974" y1="887.1" x2="1413" y2="887.1" stroke="#f4f4f4" stroke-width="1.0"/><line x1="974" y1="849.3" x2="1413" y2="849.3" stroke="#ebebeb" stroke-width="1.3"/><line x1="974" y1="811.5" x2="1413" y2="811.5" stroke="#f4f4f4" stroke-width="1.0"/><line x1="974" y1="773.7" x2="1413" y2="773.7" stroke="#ebebeb" stroke-width="1.3"/><line x1="974" y1="735.9" x2="1413" y2="735.9" stroke="#f4f4f4" stroke-width="1.0"/><line x1="974" y1="698.1" x2="1413" y2="698.1" stroke="#ebebeb" stroke-width="1.3"/><line x1="974" y1="660.3" x2="1413" y2="660.3" stroke="#f4f4f4" stroke-width="1.0"/><line x1="974" y1="622.5" x2="1413" y2="622.5" stroke="#ebebeb" stroke-width="1.3"/>
<clipPath id="clipS13"><path d="M994.6,685.2C995.0,679.8 996.3,676.6 999.0,672.3C1001.7,668.0 1005.7,663.1 1010.8,659.4C1015.9,655.8 1023.3,652.6 1029.5,650.4C1035.8,648.3 1042.0,647.7 1048.2,646.6C1054.5,645.4 1061.7,644.7 1066.9,643.3C1072.1,642.0 1075.8,641.2 1079.4,638.5C1083.0,635.8 1086.4,631.3 1088.7,627.2C1091.1,623.2 1090.8,617.5 1093.4,614.4C1096.0,611.3 1099.4,609.8 1104.3,608.6C1109.3,607.4 1117.8,606.9 1123.0,607.3C1128.2,607.7 1132.1,608.9 1135.5,611.2C1138.9,613.4 1141.7,617.1 1143.3,620.8C1144.8,624.6 1145.2,629.1 1144.8,633.7C1144.5,638.2 1142.9,643.3 1141.1,648.2C1139.3,653.0 1135.3,657.5 1133.9,662.6C1132.6,667.7 1132.5,673.9 1133.0,678.7C1133.5,683.6 1135.1,687.3 1137.1,691.6C1139.0,695.9 1141.5,700.2 1144.8,704.5C1148.2,708.8 1153.2,713.6 1157.3,717.3C1161.5,721.1 1165.6,724.0 1169.8,727.0C1173.9,729.9 1177.6,734.1 1182.2,735.0C1186.9,736.0 1192.6,732.5 1197.8,732.8C1203.0,733.1 1207.7,734.7 1213.4,736.6C1219.1,738.6 1226.4,741.5 1232.1,744.7C1237.8,747.9 1242.5,751.9 1247.7,756.0C1252.9,760.0 1258.6,764.0 1263.3,768.8C1268.0,773.7 1271.9,779.5 1275.8,784.9C1279.7,790.3 1284.6,795.6 1286.7,801.0C1288.7,806.4 1289.0,812.3 1288.2,817.1C1287.4,821.9 1285.6,826.5 1282.0,830.0C1278.4,833.4 1272.6,835.9 1266.4,838.0C1260.2,840.1 1251.9,841.2 1244.6,842.8C1237.3,844.4 1229.5,846.0 1222.8,847.7C1216.0,849.3 1209.8,850.6 1204.1,852.5C1198.4,854.4 1192.6,856.2 1188.5,858.9C1184.3,861.6 1182.8,865.1 1179.1,868.6C1175.5,872.1 1171.9,876.6 1166.7,879.8C1161.5,883.1 1154.2,886.1 1148.0,887.9C1141.7,889.6 1136.5,890.0 1129.3,890.5C1122.0,890.9 1111.6,891.2 1104.3,890.5C1097.1,889.8 1091.9,888.3 1085.6,886.3C1079.4,884.2 1072.1,881.7 1066.9,878.2C1061.7,874.7 1057.3,870.7 1054.5,865.4C1051.6,860.0 1051.1,852.5 1049.8,846.0C1048.5,839.6 1048.5,832.6 1046.7,826.7C1044.8,820.8 1042.2,817.1 1038.9,810.7C1035.5,804.2 1030.6,795.6 1026.4,788.1C1022.2,780.6 1017.3,773.1 1013.9,765.6C1010.6,758.1 1008.3,750.6 1006.1,743.1C1004.0,735.6 1002.4,727.0 1000.8,720.6C999.3,714.1 997.8,710.4 996.8,704.5C995.8,698.6 994.2,690.5 994.6,685.2Z"/><path d="M1284.5,680.3C1285.4,678.3 1287.6,677.1 1291.3,675.5C1295.1,673.9 1301.7,672.2 1306.9,670.7C1312.1,669.2 1316.3,666.8 1322.5,666.5C1328.7,666.2 1337.1,667.6 1344.3,669.1C1351.6,670.6 1359.9,672.3 1366.2,675.5C1372.4,678.7 1377.6,683.6 1381.7,688.4C1385.9,693.2 1389.0,699.1 1391.1,704.5C1393.2,709.8 1394.2,715.5 1394.2,720.6C1394.2,725.7 1393.2,732.1 1391.1,735.0C1389.0,738.0 1385.9,738.1 1381.7,738.3C1377.6,738.4 1371.3,736.7 1366.2,736.0C1361.0,735.3 1356.3,734.0 1350.6,734.1C1344.9,734.2 1338.1,735.4 1331.9,736.6C1325.6,737.9 1319.4,739.6 1313.2,741.5C1306.9,743.4 1300.7,746.0 1294.5,747.9C1288.2,749.8 1282.0,751.7 1275.8,752.7C1269.5,753.8 1262.8,754.3 1257.1,754.3C1251.3,754.3 1245.9,753.6 1241.5,752.7C1237.1,751.8 1230.6,750.2 1230.6,748.9C1230.6,747.5 1236.5,745.9 1241.5,744.7C1246.4,743.5 1253.9,743.4 1260.2,741.5C1266.4,739.6 1273.2,736.1 1278.9,733.4C1284.6,730.7 1290.3,728.6 1294.5,725.4C1298.6,722.2 1302.3,718.1 1303.8,714.1C1305.4,710.1 1305.4,704.7 1303.8,701.3C1302.3,697.8 1297.5,695.5 1294.5,693.2C1291.4,691.0 1287.4,689.9 1285.7,687.7C1284.1,685.6 1283.6,682.4 1284.5,680.3Z"/><path d="M1322.5,752.7C1323.6,752.5 1328.2,756.0 1331.9,757.6C1335.5,759.2 1340.2,761.3 1344.3,762.4C1348.5,763.5 1353.4,762.9 1356.8,764.0C1360.2,765.1 1363.8,767.2 1364.6,768.8C1365.4,770.4 1363.3,772.0 1361.5,773.7C1359.7,775.3 1356.3,777.6 1353.7,778.5C1351.1,779.4 1348.7,779.9 1345.9,779.1C1343.0,778.3 1339.3,775.9 1336.5,773.7C1333.8,771.4 1331.2,768.0 1329.4,765.6C1327.6,763.2 1326.8,761.3 1325.6,759.2C1324.5,757.0 1321.5,753.0 1322.5,752.7Z"/><path d="M1132.4,858.9C1135.5,857.6 1142.2,859.5 1148.0,860.5C1153.7,861.6 1161.5,863.5 1166.7,865.4C1171.9,867.2 1175.5,868.8 1179.1,871.8C1182.8,874.7 1184.3,880.1 1188.5,883.1C1192.6,886.0 1198.9,888.3 1204.1,889.5C1209.3,890.7 1215.9,889.4 1219.7,890.5C1223.4,891.5 1225.5,893.9 1226.5,895.9C1227.5,897.9 1227.3,900.4 1225.9,902.4C1224.5,904.3 1221.7,906.5 1218.1,907.8C1214.5,909.2 1209.0,910.1 1204.1,910.4C1199.1,910.7 1193.2,909.5 1188.5,909.8C1183.8,910.0 1179.1,910.3 1176.0,912.0C1172.9,913.7 1171.3,917.1 1169.8,920.1C1168.2,923.0 1168.2,927.5 1166.7,929.7C1165.1,932.0 1162.5,933.3 1160.4,933.6C1158.4,933.8 1155.3,933.0 1154.2,931.3C1153.1,929.6 1152.9,926.0 1153.6,923.3C1154.2,920.6 1157.1,918.4 1157.9,915.2C1158.8,912.0 1159.5,907.2 1158.9,904.0C1158.2,900.7 1156.3,898.6 1154.2,895.9C1152.1,893.2 1149.5,890.8 1146.4,887.9C1143.3,884.9 1138.4,881.4 1135.5,878.2C1132.6,875.0 1129.8,871.8 1129.3,868.6C1128.7,865.4 1129.3,860.3 1132.4,858.9Z"/><path d="M1219.0,957.1C1219.8,955.6 1225.8,957.2 1229.0,958.0C1232.2,958.8 1235.2,962.0 1238.4,961.9C1241.5,961.7 1244.8,959.3 1247.7,957.1C1250.6,954.8 1254.0,948.1 1255.5,948.4C1257.0,948.6 1256.2,954.8 1256.4,958.7C1256.7,962.5 1256.3,968.3 1257.1,971.5C1257.8,974.8 1260.6,975.7 1261.1,978.0C1261.6,980.2 1261.9,983.3 1260.2,985.1C1258.5,986.8 1253.9,987.8 1250.8,988.3C1247.7,988.7 1244.6,988.5 1241.5,987.6C1238.4,986.7 1234.7,984.9 1232.1,982.8C1229.5,980.7 1227.2,977.4 1225.9,974.8C1224.6,972.1 1225.5,969.7 1224.3,966.7C1223.2,963.8 1218.2,958.5 1219.0,957.1Z"/></clipPath>
<g filter="url(#rough)">
<path d="M994.6,685.2C995.0,679.8 996.3,676.6 999.0,672.3C1001.7,668.0 1005.7,663.1 1010.8,659.4C1015.9,655.8 1023.3,652.6 1029.5,650.4C1035.8,648.3 1042.0,647.7 1048.2,646.6C1054.5,645.4 1061.7,644.7 1066.9,643.3C1072.1,642.0 1075.8,641.2 1079.4,638.5C1083.0,635.8 1086.4,631.3 1088.7,627.2C1091.1,623.2 1090.8,617.5 1093.4,614.4C1096.0,611.3 1099.4,609.8 1104.3,608.6C1109.3,607.4 1117.8,606.9 1123.0,607.3C1128.2,607.7 1132.1,608.9 1135.5,611.2C1138.9,613.4 1141.7,617.1 1143.3,620.8C1144.8,624.6 1145.2,629.1 1144.8,633.7C1144.5,638.2 1142.9,643.3 1141.1,648.2C1139.3,653.0 1135.3,657.5 1133.9,662.6C1132.6,667.7 1132.5,673.9 1133.0,678.7C1133.5,683.6 1135.1,687.3 1137.1,691.6C1139.0,695.9 1141.5,700.2 1144.8,704.5C1148.2,708.8 1153.2,713.6 1157.3,717.3C1161.5,721.1 1165.6,724.0 1169.8,727.0C1173.9,729.9 1177.6,734.1 1182.2,735.0C1186.9,736.0 1192.6,732.5 1197.8,732.8C1203.0,733.1 1207.7,734.7 1213.4,736.6C1219.1,738.6 1226.4,741.5 1232.1,744.7C1237.8,747.9 1242.5,751.9 1247.7,756.0C1252.9,760.0 1258.6,764.0 1263.3,768.8C1268.0,773.7 1271.9,779.5 1275.8,784.9C1279.7,790.3 1284.6,795.6 1286.7,801.0C1288.7,806.4 1289.0,812.3 1288.2,817.1C1287.4,821.9 1285.6,826.5 1282.0,830.0C1278.4,833.4 1272.6,835.9 1266.4,838.0C1260.2,840.1 1251.9,841.2 1244.6,842.8C1237.3,844.4 1229.5,846.0 1222.8,847.7C1216.0,849.3 1209.8,850.6 1204.1,852.5C1198.4,854.4 1192.6,856.2 1188.5,858.9C1184.3,861.6 1182.8,865.1 1179.1,868.6C1175.5,872.1 1171.9,876.6 1166.7,879.8C1161.5,883.1 1154.2,886.1 1148.0,887.9C1141.7,889.6 1136.5,890.0 1129.3,890.5C1122.0,890.9 1111.6,891.2 1104.3,890.5C1097.1,889.8 1091.9,888.3 1085.6,886.3C1079.4,884.2 1072.1,881.7 1066.9,878.2C1061.7,874.7 1057.3,870.7 1054.5,865.4C1051.6,860.0 1051.1,852.5 1049.8,846.0C1048.5,839.6 1048.5,832.6 1046.7,826.7C1044.8,820.8 1042.2,817.1 1038.9,810.7C1035.5,804.2 1030.6,795.6 1026.4,788.1C1022.2,780.6 1017.3,773.1 1013.9,765.6C1010.6,758.1 1008.3,750.6 1006.1,743.1C1004.0,735.6 1002.4,727.0 1000.8,720.6C999.3,714.1 997.8,710.4 996.8,704.5C995.8,698.6 994.2,690.5 994.6,685.2Z" fill="#9a84d0"/>
<path d="M1284.5,680.3C1285.4,678.3 1287.6,677.1 1291.3,675.5C1295.1,673.9 1301.7,672.2 1306.9,670.7C1312.1,669.2 1316.3,666.8 1322.5,666.5C1328.7,666.2 1337.1,667.6 1344.3,669.1C1351.6,670.6 1359.9,672.3 1366.2,675.5C1372.4,678.7 1377.6,683.6 1381.7,688.4C1385.9,693.2 1389.0,699.1 1391.1,704.5C1393.2,709.8 1394.2,715.5 1394.2,720.6C1394.2,725.7 1393.2,732.1 1391.1,735.0C1389.0,738.0 1385.9,738.1 1381.7,738.3C1377.6,738.4 1371.3,736.7 1366.2,736.0C1361.0,735.3 1356.3,734.0 1350.6,734.1C1344.9,734.2 1338.1,735.4 1331.9,736.6C1325.6,737.9 1319.4,739.6 1313.2,741.5C1306.9,743.4 1300.7,746.0 1294.5,747.9C1288.2,749.8 1282.0,751.7 1275.8,752.7C1269.5,753.8 1262.8,754.3 1257.1,754.3C1251.3,754.3 1245.9,753.6 1241.5,752.7C1237.1,751.8 1230.6,750.2 1230.6,748.9C1230.6,747.5 1236.5,745.9 1241.5,744.7C1246.4,743.5 1253.9,743.4 1260.2,741.5C1266.4,739.6 1273.2,736.1 1278.9,733.4C1284.6,730.7 1290.3,728.6 1294.5,725.4C1298.6,722.2 1302.3,718.1 1303.8,714.1C1305.4,710.1 1305.4,704.7 1303.8,701.3C1302.3,697.8 1297.5,695.5 1294.5,693.2C1291.4,691.0 1287.4,689.9 1285.7,687.7C1284.1,685.6 1283.6,682.4 1284.5,680.3Z" fill="#9a84d0"/>
<path d="M1322.5,752.7C1323.6,752.5 1328.2,756.0 1331.9,757.6C1335.5,759.2 1340.2,761.3 1344.3,762.4C1348.5,763.5 1353.4,762.9 1356.8,764.0C1360.2,765.1 1363.8,767.2 1364.6,768.8C1365.4,770.4 1363.3,772.0 1361.5,773.7C1359.7,775.3 1356.3,777.6 1353.7,778.5C1351.1,779.4 1348.7,779.9 1345.9,779.1C1343.0,778.3 1339.3,775.9 1336.5,773.7C1333.8,771.4 1331.2,768.0 1329.4,765.6C1327.6,763.2 1326.8,761.3 1325.6,759.2C1324.5,757.0 1321.5,753.0 1322.5,752.7Z" fill="#9a84d0"/>
<path d="M1132.4,858.9C1135.5,857.6 1142.2,859.5 1148.0,860.5C1153.7,861.6 1161.5,863.5 1166.7,865.4C1171.9,867.2 1175.5,868.8 1179.1,871.8C1182.8,874.7 1184.3,880.1 1188.5,883.1C1192.6,886.0 1198.9,888.3 1204.1,889.5C1209.3,890.7 1215.9,889.4 1219.7,890.5C1223.4,891.5 1225.5,893.9 1226.5,895.9C1227.5,897.9 1227.3,900.4 1225.9,902.4C1224.5,904.3 1221.7,906.5 1218.1,907.8C1214.5,909.2 1209.0,910.1 1204.1,910.4C1199.1,910.7 1193.2,909.5 1188.5,909.8C1183.8,910.0 1179.1,910.3 1176.0,912.0C1172.9,913.7 1171.3,917.1 1169.8,920.1C1168.2,923.0 1168.2,927.5 1166.7,929.7C1165.1,932.0 1162.5,933.3 1160.4,933.6C1158.4,933.8 1155.3,933.0 1154.2,931.3C1153.1,929.6 1152.9,926.0 1153.6,923.3C1154.2,920.6 1157.1,918.4 1157.9,915.2C1158.8,912.0 1159.5,907.2 1158.9,904.0C1158.2,900.7 1156.3,898.6 1154.2,895.9C1152.1,893.2 1149.5,890.8 1146.4,887.9C1143.3,884.9 1138.4,881.4 1135.5,878.2C1132.6,875.0 1129.8,871.8 1129.3,868.6C1128.7,865.4 1129.3,860.3 1132.4,858.9Z" fill="#9a84d0"/>
<path d="M1219.0,957.1C1219.8,955.6 1225.8,957.2 1229.0,958.0C1232.2,958.8 1235.2,962.0 1238.4,961.9C1241.5,961.7 1244.8,959.3 1247.7,957.1C1250.6,954.8 1254.0,948.1 1255.5,948.4C1257.0,948.6 1256.2,954.8 1256.4,958.7C1256.7,962.5 1256.3,968.3 1257.1,971.5C1257.8,974.8 1260.6,975.7 1261.1,978.0C1261.6,980.2 1261.9,983.3 1260.2,985.1C1258.5,986.8 1253.9,987.8 1250.8,988.3C1247.7,988.7 1244.6,988.5 1241.5,987.6C1238.4,986.7 1234.7,984.9 1232.1,982.8C1229.5,980.7 1227.2,977.4 1225.9,974.8C1224.6,972.1 1225.5,969.7 1224.3,966.7C1223.2,963.8 1218.2,958.5 1219.0,957.1Z" fill="#9a84d0"/>
<g clip-path="url(#clipS13)">
<ellipse cx="1103.2" cy="813.0" rx="64.9" ry="60.5" fill="#d45eb2" opacity="0.75" filter="url(#blur12)"/>
<ellipse cx="1128.0" cy="788.8" rx="28.7" ry="22.7" fill="#e060a8" opacity="0.5" filter="url(#blur12)"/>
<ellipse cx="1045.9" cy="678.4" rx="30.6" ry="21.2" fill="#c874c4" opacity="0.55" filter="url(#blur12)"/>
<ellipse cx="1128.0" cy="625.5" rx="19.1" ry="15.1" fill="#c070c0" opacity="0.5" filter="url(#blur12)"/>
<ellipse cx="1332.4" cy="701.1" rx="42.0" ry="27.2" fill="#e36a90" opacity="0.75" filter="url(#blur12)"/>
<ellipse cx="1290.4" cy="743.5" rx="22.9" ry="12.1" fill="#e36a90" opacity="0.6" filter="url(#blur12)"/>
<ellipse cx="1246.5" cy="977.8" rx="15.3" ry="9.1" fill="#d070b0" opacity="0.5" filter="url(#blur12)"/>
</g></g>
<mask id="m14" maskUnits="userSpaceOnUse" x="0" y="0" width="1978" height="2717"><g filter="url(#blur12)"><ellipse cx="1032.5" cy="713.2" rx="28.7" ry="45.4" fill="#fff" opacity="0.9"/><ellipse cx="1223.5" cy="796.4" rx="38.2" ry="45.4" fill="#fff" opacity="1.0"/><ellipse cx="1376.4" cy="720.8" rx="15.3" ry="18.1" fill="#fff" opacity="1.0"/><ellipse cx="1185.4" cy="902.2" rx="28.7" ry="18.1" fill="#fff" opacity="1.0"/></g></mask>
<g clip-path="url(#clipS13)" mask="url(#m14)"><rect x="990" y="602" width="410" height="391" filter="url(#dT)"/></g>
<mask id="m15" maskUnits="userSpaceOnUse" x="0" y="0" width="1978" height="2717"><g filter="url(#blur12)"><ellipse cx="1080.3" cy="856.9" rx="28.7" ry="30.2" fill="#fff" opacity="0.8"/><ellipse cx="1204.5" cy="758.6" rx="28.7" ry="22.7" fill="#fff" opacity="0.7"/></g></mask>
<g clip-path="url(#clipS13)" mask="url(#m15)"><rect x="990" y="602" width="410" height="391" filter="url(#dG)"/></g>
<mask id="m16" maskUnits="userSpaceOnUse" x="0" y="0" width="1978" height="2717"><g filter="url(#blur12)"><path d="M1038.5,651.6C1041.4,647.4 1054.1,646.1 1063.0,645.6C1071.9,645.1 1082.2,646.9 1091.8,648.6C1101.4,650.3 1114.6,651.1 1120.5,656.0C1126.5,661.0 1128.2,670.9 1127.7,678.3C1127.3,685.7 1120.1,691.9 1117.7,700.6C1115.3,709.2 1113.4,721.6 1113.4,730.3C1113.4,738.9 1120.1,746.4 1117.7,752.6C1115.3,758.7 1105.7,763.9 1099.0,767.4C1092.3,770.9 1085.3,774.6 1077.4,773.4C1069.5,772.1 1058.2,765.9 1051.5,760.0C1044.8,754.0 1039.5,745.1 1037.1,737.7C1034.7,730.3 1035.2,722.9 1037.1,715.4C1039.0,708.0 1047.2,700.6 1048.6,693.2C1050.1,685.7 1047.4,677.8 1045.7,670.9C1044.1,663.9 1035.7,655.8 1038.5,651.6Z" fill="#fff" opacity="0.8"/><ellipse cx="1241.5" cy="781.7" rx="21.8" ry="19.3" fill="#fff" opacity="0.2375"/><ellipse cx="1172.9" cy="862.1" rx="12.5" ry="9.7" fill="#fff" opacity="0.19"/><ellipse cx="1194.9" cy="894.7" rx="22.9" ry="15.1" fill="#fff" opacity="0.5"/></g></mask>
<g clip-path="url(#clipS13)" mask="url(#m16)"><rect x="990" y="602" width="410" height="391" filter="url(#dW)"/></g>
<text x="1061.2" y="1031.8" font-size="26" text-anchor="middle" textLength="18.8" lengthAdjust="spacingAndGlyphs">-5</text>
<text x="1156.7" y="1031.8" font-size="26" text-anchor="middle" textLength="11.2" lengthAdjust="spacingAndGlyphs">0</text>
<text x="1252.2" y="1031.8" font-size="26" text-anchor="middle" textLength="11.2" lengthAdjust="spacingAndGlyphs">5</text>
<text x="1347.7" y="1031.8" font-size="26" text-anchor="middle" textLength="24.0" lengthAdjust="spacingAndGlyphs">10</text>
<text x="964.5" y="631.7" font-size="26" text-anchor="end" textLength="24.0" lengthAdjust="spacingAndGlyphs">10</text>
<text x="964.5" y="707.3" font-size="26" text-anchor="end" textLength="11.2" lengthAdjust="spacingAndGlyphs">5</text>
<text x="964.5" y="782.9" font-size="26" text-anchor="end" textLength="11.2" lengthAdjust="spacingAndGlyphs">0</text>
<text x="964.5" y="858.5" font-size="26" text-anchor="end" textLength="18.8" lengthAdjust="spacingAndGlyphs">-5</text>
<text x="964.5" y="934.1" font-size="26" text-anchor="end" textLength="31.6" lengthAdjust="spacingAndGlyphs">-10</text>
<text x="964.5" y="1009.7" font-size="26" text-anchor="end" textLength="31.6" lengthAdjust="spacingAndGlyphs">-15</text>
<text x="1188.6" y="1077.1" font-size="27.3" text-anchor="middle" textLength="107.0" lengthAdjust="spacingAndGlyphs">UMAP_1</text>
<text x="929.6" y="827.9" font-size="27.3" text-anchor="middle" textLength="107.0" lengthAdjust="spacingAndGlyphs" transform="rotate(-90 929.6 827.9)">UMAP_1</text>
<circle cx="1507.2" cy="613.1" r="4.5" fill="#e36c6c"/>
<text x="1530.4" y="620.9" font-size="21.5" textLength="273.0" lengthAdjust="spacingAndGlyphs">RU1065C_SCLC_MET_LI</text>
<circle cx="1507.2" cy="636.2" r="4.5" fill="#e0803e"/>
<text x="1530.4" y="644.0" font-size="21.5" textLength="256.1" lengthAdjust="spacingAndGlyphs">RU1066_SCLC_PRI_LU</text>
<circle cx="1507.2" cy="659.3" r="4.5" fill="#d48e3a"/>
<text x="1530.4" y="667.1" font-size="21.5" textLength="275.6" lengthAdjust="spacingAndGlyphs">RU1080_SCLC_MET_KID</text>
<circle cx="1507.2" cy="682.4" r="4.5" fill="#c29a3a"/>
<text x="1530.4" y="690.2" font-size="21.5" textLength="304.0" lengthAdjust="spacingAndGlyphs">RU1108a_SCLC_REC_LU_b</text>
<circle cx="1507.2" cy="705.5" r="4.5" fill="#a8a63c"/>
<text x="1530.4" y="713.3" font-size="21.5" textLength="310.5" lengthAdjust="spacingAndGlyphs">RU1108a_SCLC_REC_LU_bf</text>
<circle cx="1507.2" cy="728.6" r="4.5" fill="#84b042"/>
<text x="1530.4" y="736.4" font-size="21.5" textLength="336.7" lengthAdjust="spacingAndGlyphs">RU1108a_SCLC_REC_LU_rpmi</text>
<circle cx="1507.2" cy="751.7" r="4.5" fill="#56b84a"/>
<text x="1530.4" y="759.5" font-size="21.5" textLength="264.8" lengthAdjust="spacingAndGlyphs">RU1144_SCLC_MET_LN</text>
<circle cx="1507.2" cy="774.8" r="4.5" fill="#44bc5e"/>
<text x="1530.4" y="782.6" font-size="21.5" textLength="264.8" lengthAdjust="spacingAndGlyphs">RU1144_SCLC_REC_LU</text>
<circle cx="1507.2" cy="798.0" r="4.5" fill="#44be80"/>
<text x="1530.4" y="805.8" font-size="21.5" textLength="264.8" lengthAdjust="spacingAndGlyphs">RU1152_SCLC_MET_LN</text>
<circle cx="1507.2" cy="821.1" r="4.5" fill="#46c0a0"/>
<text x="1530.4" y="828.9" font-size="21.5" textLength="264.8" lengthAdjust="spacingAndGlyphs">RU1181_SCLC_MET_LN</text>
<circle cx="1507.2" cy="844.2" r="4.5" fill="#4cbfc0"/>
<text x="1530.4" y="852.0" font-size="21.5" textLength="254.3" lengthAdjust="spacingAndGlyphs">RU1181_SCLC_PRI_LU</text>
<circle cx="1507.2" cy="867.3" r="4.5" fill="#4cbadc"/>
<text x="1530.4" y="875.1" font-size="21.5" textLength="280.5" lengthAdjust="spacingAndGlyphs">RU1195A_SCLC_REC_LU</text>
<circle cx="1507.2" cy="890.4" r="4.5" fill="#4cb0ee"/>
<text x="1530.4" y="898.2" font-size="21.5" textLength="265.2" lengthAdjust="spacingAndGlyphs">RU1215_SCLC_MET_PL</text>
<circle cx="1507.2" cy="913.5" r="4.5" fill="#5aa2ec"/>
<text x="1530.4" y="921.3" font-size="21.5" textLength="271.7" lengthAdjust="spacingAndGlyphs">RU1229A_SCLC_PRI_LU</text>
<circle cx="1507.2" cy="936.6" r="4.5" fill="#8c92dc"/>
<text x="1530.4" y="944.4" font-size="21.5" textLength="282.2" lengthAdjust="spacingAndGlyphs">RU1231A_SCLC_MET_LN</text>
<circle cx="1507.2" cy="959.7" r="4.5" fill="#aa86d0"/>
<text x="1530.4" y="967.5" font-size="21.5" textLength="282.2" lengthAdjust="spacingAndGlyphs">RU1293A_SCLC_MET_LN</text>
<circle cx="1507.2" cy="982.8" r="4.5" fill="#c07ccc"/>
<text x="1530.4" y="990.6" font-size="21.5" textLength="264.8" lengthAdjust="spacingAndGlyphs">RU1311_SCLC_REC_LU</text>
<circle cx="1507.2" cy="1006.0" r="4.5" fill="#d070c4"/>
<text x="1530.4" y="1013.8" font-size="21.5" textLength="266.5" lengthAdjust="spacingAndGlyphs">RU1322_SCLC_MET_LN</text>
<circle cx="1507.2" cy="1029.1" r="4.5" fill="#de68b4"/>
<text x="1530.4" y="1036.9" font-size="21.5" textLength="243.0" lengthAdjust="spacingAndGlyphs">RU426_SCLC_PRI_LU</text>
<circle cx="1507.2" cy="1052.2" r="4.5" fill="#e46a98"/>
<text x="1530.4" y="1060.0" font-size="21.5" textLength="243.0" lengthAdjust="spacingAndGlyphs">RU779_SCLC_MET_LI</text>
<text x="1.2" y="1141.4" font-size="42" font-weight="bold">c</text>
<text x="133.0" y="1218.1" font-size="36" textLength="562.0" lengthAdjust="spacingAndGlyphs">brain metastatic human SCLC cells</text>
<g transform="translate(77.30 1257.50) scale(8.3600)" shape-rendering="crispEdges">
<path fill="#617bd9" d="M49 26h1v1h-1zM26 49h1v1h-1z"/>
<path fill="#718ee6" d="M48 37h1v1h-1zM52 37h1v1h-1zM37 48h1v1h-1zM37 52h1v1h-1z"/>
<path fill="#82a1f0" d="M48 2h1v1h-1zM51 2h2v1h-2zM52 3h1v1h-1zM48 5h1v1h-1zM50 9h1v1h-1zM52 9h1v1h-1zM49 10h1v1h-1zM49 12h1v1h-1zM50 13h2v1h-2zM50 15h1v1h-1zM51 16h1v1h-1zM49 17h2v1h-2zM52 17h1v1h-1zM50 18h1v1h-1zM52 18h1v1h-1zM52 21h1v1h-1zM49 22h1v1h-1zM49 23h2v1h-2zM51 24h2v1h-2zM50 26h1v1h-1zM52 26h1v1h-1zM52 27h1v1h-1zM51 28h2v1h-2zM49 30h1v1h-1zM49 31h1v1h-1zM49 34h1v1h-1zM49 35h1v1h-1zM52 35h1v1h-1zM52 36h1v1h-1zM49 40h1v1h-1zM52 44h1v1h-1zM2 48h1v1h-1zM5 48h1v1h-1zM10 49h1v1h-1zM12 49h1v1h-1zM17 49h1v1h-1zM22 49h2v1h-2zM30 49h2v1h-2zM34 49h2v1h-2zM40 49h1v1h-1zM9 50h1v1h-1zM13 50h1v1h-1zM15 50h1v1h-1zM17 50h2v1h-2zM23 50h1v1h-1zM26 50h1v1h-1zM2 51h1v1h-1zM13 51h1v1h-1zM16 51h1v1h-1zM24 51h1v1h-1zM28 51h1v1h-1zM2 52h2v1h-2zM9 52h1v1h-1zM17 52h2v1h-2zM21 52h1v1h-1zM24 52h1v1h-1zM26 52h3v1h-3zM35 52h2v1h-2zM44 52h1v1h-1zM67 52h1v1h-1zM52 67h1v1h-1z"/>
<path fill="#93b2f6" d="M48 0h5v1h-5zM48 1h1v1h-1zM50 1h3v1h-3zM49 2h1v1h-1zM48 3h3v1h-3zM48 4h5v1h-5zM49 5h1v1h-1zM52 5h1v1h-1zM49 6h1v1h-1zM49 7h3v1h-3zM51 8h1v1h-1zM48 9h2v1h-2zM48 10h1v1h-1zM51 10h2v1h-2zM48 11h2v1h-2zM51 11h2v1h-2zM48 12h1v1h-1zM50 12h3v1h-3zM49 13h1v1h-1zM52 13h1v1h-1zM48 14h2v1h-2zM49 15h1v1h-1zM52 15h1v1h-1zM49 16h2v1h-2zM52 16h1v1h-1zM48 17h1v1h-1zM51 17h1v1h-1zM46 18h1v1h-1zM48 18h2v1h-2zM51 18h1v1h-1zM51 19h2v1h-2zM50 20h1v1h-1zM52 20h1v1h-1zM48 21h1v1h-1zM51 21h1v1h-1zM50 22h1v1h-1zM52 22h1v1h-1zM46 23h1v1h-1zM51 23h2v1h-2zM49 24h1v1h-1zM48 25h5v1h-5zM48 26h1v1h-1zM51 26h1v1h-1zM49 27h3v1h-3zM48 28h1v1h-1zM50 28h1v1h-1zM52 29h1v1h-1zM50 30h3v1h-3zM50 31h1v1h-1zM48 32h5v1h-5zM51 33h1v1h-1zM48 34h1v1h-1zM50 34h1v1h-1zM52 34h1v1h-1zM50 35h2v1h-2zM48 36h2v1h-2zM51 36h1v1h-1zM51 37h1v1h-1zM51 38h2v1h-2zM50 39h2v1h-2zM48 40h1v1h-1zM50 40h1v1h-1zM52 40h1v1h-1zM48 41h1v1h-1zM51 41h2v1h-2zM51 42h1v1h-1zM48 43h5v1h-5zM48 44h3v1h-3zM50 45h1v1h-1zM18 46h1v1h-1zM23 46h1v1h-1zM67 46h1v1h-1zM0 48h2v1h-2zM3 48h2v1h-2zM9 48h4v1h-4zM14 48h1v1h-1zM17 48h2v1h-2zM21 48h1v1h-1zM25 48h2v1h-2zM28 48h1v1h-1zM32 48h1v1h-1zM34 48h1v1h-1zM36 48h1v1h-1zM40 48h2v1h-2zM43 48h2v1h-2zM56 48h1v1h-1zM63 48h1v1h-1zM65 48h1v1h-1zM67 48h1v1h-1zM76 48h1v1h-1zM0 49h1v1h-1zM2 49h6v1h-6zM9 49h1v1h-1zM11 49h1v1h-1zM13 49h4v1h-4zM18 49h1v1h-1zM24 49h2v1h-2zM27 49h1v1h-1zM32 49h1v1h-1zM36 49h1v1h-1zM43 49h2v1h-2zM53 49h1v1h-1zM59 49h1v1h-1zM62 49h1v1h-1zM65 49h1v1h-1zM68 49h1v1h-1zM0 50h2v1h-2zM3 50h2v1h-2zM7 50h1v1h-1zM12 50h1v1h-1zM16 50h1v1h-1zM20 50h1v1h-1zM22 50h1v1h-1zM25 50h1v1h-1zM27 50h2v1h-2zM30 50h3v1h-3zM34 50h2v1h-2zM39 50h2v1h-2zM43 50h3v1h-3zM61 50h1v1h-1zM68 50h1v1h-1zM0 51h2v1h-2zM4 51h1v1h-1zM7 51h2v1h-2zM10 51h3v1h-3zM17 51h3v1h-3zM21 51h1v1h-1zM23 51h1v1h-1zM25 51h3v1h-3zM30 51h1v1h-1zM32 51h2v1h-2zM35 51h5v1h-5zM41 51h3v1h-3zM59 51h1v1h-1zM63 51h1v1h-1zM65 51h1v1h-1zM67 51h1v1h-1zM75 51h1v1h-1zM0 52h2v1h-2zM4 52h2v1h-2zM10 52h4v1h-4zM15 52h2v1h-2zM19 52h2v1h-2zM22 52h2v1h-2zM25 52h1v1h-1zM29 52h2v1h-2zM32 52h1v1h-1zM34 52h1v1h-1zM38 52h1v1h-1zM40 52h2v1h-2zM43 52h1v1h-1zM53 52h1v1h-1zM56 52h1v1h-1zM59 52h1v1h-1zM63 52h1v1h-1zM65 52h1v1h-1zM68 52h1v1h-1zM71 52h1v1h-1zM73 52h1v1h-1zM49 53h1v1h-1zM52 53h1v1h-1zM48 56h1v1h-1zM52 56h1v1h-1zM49 59h1v1h-1zM51 59h2v1h-2zM50 61h1v1h-1zM49 62h1v1h-1zM48 63h1v1h-1zM51 63h2v1h-2zM48 65h2v1h-2zM51 65h2v1h-2zM46 67h1v1h-1zM48 67h1v1h-1zM51 67h1v1h-1zM49 68h2v1h-2zM52 68h1v1h-1zM52 71h1v1h-1zM52 73h1v1h-1zM51 75h1v1h-1zM48 76h1v1h-1z"/>
<path fill="#a4c0f8" d="M46 1h1v1h-1zM49 1h1v1h-1zM50 2h1v1h-1zM51 3h1v1h-1zM50 5h2v1h-2zM48 6h1v1h-1zM50 6h3v1h-3zM52 7h1v1h-1zM50 8h1v1h-1zM52 8h1v1h-1zM50 10h1v1h-1zM50 11h1v1h-1zM46 13h1v1h-1zM48 13h1v1h-1zM50 14h3v1h-3zM51 15h1v1h-1zM46 16h2v1h-2zM46 17h1v1h-1zM46 19h1v1h-1zM48 19h2v1h-2zM46 20h1v1h-1zM48 20h2v1h-2zM51 20h1v1h-1zM49 21h2v1h-2zM48 22h1v1h-1zM51 22h1v1h-1zM47 23h2v1h-2zM72 23h1v1h-1zM46 24h1v1h-1zM48 24h1v1h-1zM50 24h1v1h-1zM46 25h1v1h-1zM46 26h1v1h-1zM67 26h1v1h-1zM73 26h1v1h-1zM76 26h1v1h-1zM46 27h1v1h-1zM48 27h1v1h-1zM46 28h1v1h-1zM49 28h1v1h-1zM46 29h1v1h-1zM48 29h4v1h-4zM48 30h1v1h-1zM48 31h1v1h-1zM51 31h2v1h-2zM48 33h3v1h-3zM52 33h1v1h-1zM46 34h1v1h-1zM51 34h1v1h-1zM48 35h1v1h-1zM50 36h1v1h-1zM46 37h1v1h-1zM49 37h2v1h-2zM48 38h2v1h-2zM67 38h1v1h-1zM46 39h1v1h-1zM48 39h2v1h-2zM52 39h1v1h-1zM51 40h1v1h-1zM46 41h1v1h-1zM49 41h2v1h-2zM48 42h2v1h-2zM52 42h1v1h-1zM51 44h1v1h-1zM48 45h1v1h-1zM51 45h2v1h-2zM1 46h1v1h-1zM13 46h1v1h-1zM16 46h2v1h-2zM19 46h2v1h-2zM24 46h6v1h-6zM34 46h1v1h-1zM37 46h1v1h-1zM39 46h1v1h-1zM41 46h1v1h-1zM58 46h2v1h-2zM63 46h1v1h-1zM65 46h2v1h-2zM68 46h1v1h-1zM73 46h1v1h-1zM75 46h2v1h-2zM78 46h1v1h-1zM16 47h1v1h-1zM23 47h1v1h-1zM56 47h1v1h-1zM73 47h1v1h-1zM6 48h1v1h-1zM13 48h1v1h-1zM19 48h2v1h-2zM22 48h3v1h-3zM27 48h1v1h-1zM29 48h3v1h-3zM33 48h1v1h-1zM35 48h1v1h-1zM38 48h2v1h-2zM42 48h1v1h-1zM45 48h1v1h-1zM54 48h2v1h-2zM57 48h2v1h-2zM62 48h1v1h-1zM64 48h1v1h-1zM68 48h2v1h-2zM72 48h1v1h-1zM74 48h2v1h-2zM1 49h1v1h-1zM19 49h3v1h-3zM28 49h2v1h-2zM33 49h1v1h-1zM37 49h3v1h-3zM41 49h2v1h-2zM54 49h1v1h-1zM56 49h2v1h-2zM61 49h1v1h-1zM63 49h2v1h-2zM67 49h1v1h-1zM71 49h5v1h-5zM77 49h1v1h-1zM2 50h1v1h-1zM5 50h2v1h-2zM8 50h1v1h-1zM10 50h2v1h-2zM14 50h1v1h-1zM21 50h1v1h-1zM24 50h1v1h-1zM29 50h1v1h-1zM33 50h1v1h-1zM36 50h2v1h-2zM41 50h1v1h-1zM53 50h2v1h-2zM56 50h2v1h-2zM59 50h1v1h-1zM62 50h2v1h-2zM67 50h1v1h-1zM71 50h3v1h-3zM75 50h2v1h-2zM3 51h1v1h-1zM5 51h2v1h-2zM14 51h2v1h-2zM20 51h1v1h-1zM22 51h1v1h-1zM29 51h1v1h-1zM31 51h1v1h-1zM34 51h1v1h-1zM40 51h1v1h-1zM44 51h2v1h-2zM53 51h3v1h-3zM58 51h1v1h-1zM64 51h1v1h-1zM68 51h3v1h-3zM72 51h2v1h-2zM76 51h2v1h-2zM6 52h3v1h-3zM14 52h1v1h-1zM31 52h1v1h-1zM33 52h1v1h-1zM39 52h1v1h-1zM42 52h1v1h-1zM45 52h1v1h-1zM54 52h2v1h-2zM58 52h1v1h-1zM60 52h1v1h-1zM62 52h1v1h-1zM64 52h1v1h-1zM66 52h1v1h-1zM69 52h2v1h-2zM72 52h1v1h-1zM74 52h3v1h-3zM50 53h2v1h-2zM48 54h5v1h-5zM48 55h1v1h-1zM51 55h2v1h-2zM47 56h1v1h-1zM49 56h2v1h-2zM48 57h3v1h-3zM46 58h1v1h-1zM48 58h1v1h-1zM51 58h2v1h-2zM46 59h1v1h-1zM50 59h1v1h-1zM52 60h1v1h-1zM49 61h1v1h-1zM48 62h1v1h-1zM50 62h1v1h-1zM52 62h1v1h-1zM46 63h1v1h-1zM49 63h2v1h-2zM48 64h2v1h-2zM51 64h2v1h-2zM46 65h1v1h-1zM46 66h1v1h-1zM52 66h1v1h-1zM26 67h1v1h-1zM38 67h1v1h-1zM49 67h2v1h-2zM46 68h1v1h-1zM48 68h1v1h-1zM51 68h1v1h-1zM48 69h1v1h-1zM51 69h2v1h-2zM51 70h2v1h-2zM49 71h2v1h-2zM23 72h1v1h-1zM48 72h5v1h-5zM26 73h1v1h-1zM46 73h2v1h-2zM49 73h3v1h-3zM48 74h2v1h-2zM52 74h1v1h-1zM46 75h1v1h-1zM48 75h3v1h-3zM52 75h1v1h-1zM26 76h1v1h-1zM46 76h1v1h-1zM50 76h3v1h-3zM49 77h1v1h-1zM51 77h1v1h-1zM46 78h1v1h-1z"/>
<path fill="#b4cbf6" d="M46 0h2v1h-2zM76 0h1v1h-1zM46 2h1v1h-1zM73 2h1v1h-1zM46 3h2v1h-2zM46 4h1v1h-1zM46 6h1v1h-1zM46 7h3v1h-3zM48 8h2v1h-2zM46 9h2v1h-2zM51 9h1v1h-1zM46 10h2v1h-2zM46 11h1v1h-1zM46 12h2v1h-2zM73 12h1v1h-1zM76 12h1v1h-1zM46 14h1v1h-1zM46 15h1v1h-1zM48 15h1v1h-1zM76 15h1v1h-1zM48 16h1v1h-1zM63 16h1v1h-1zM72 16h1v1h-1zM73 17h1v1h-1zM47 18h1v1h-1zM73 18h1v1h-1zM47 19h1v1h-1zM50 19h1v1h-1zM47 20h1v1h-1zM46 21h2v1h-2zM47 22h1v1h-1zM67 22h1v1h-1zM57 23h1v1h-1zM63 23h1v1h-1zM69 23h1v1h-1zM73 23h1v1h-1zM76 23h1v1h-1zM72 24h2v1h-2zM73 25h1v1h-1zM47 26h1v1h-1zM65 26h1v1h-1zM69 26h1v1h-1zM77 26h2v1h-2zM47 27h1v1h-1zM47 28h1v1h-1zM68 28h1v1h-1zM72 28h2v1h-2zM47 29h1v1h-1zM46 30h2v1h-2zM76 30h1v1h-1zM46 31h2v1h-2zM72 31h2v1h-2zM67 32h1v1h-1zM73 32h1v1h-1zM76 32h1v1h-1zM46 33h1v1h-1zM68 33h1v1h-1zM76 33h1v1h-1zM76 34h1v1h-1zM46 35h2v1h-2zM46 36h1v1h-1zM67 36h1v1h-1zM47 37h1v1h-1zM57 37h1v1h-1zM61 37h1v1h-1zM68 37h1v1h-1zM73 37h1v1h-1zM46 38h2v1h-2zM50 38h1v1h-1zM75 38h1v1h-1zM46 40h2v1h-2zM67 40h1v1h-1zM73 40h1v1h-1zM76 40h1v1h-1zM68 41h1v1h-1zM46 42h1v1h-1zM50 42h1v1h-1zM46 43h2v1h-2zM67 43h2v1h-2zM73 43h1v1h-1zM46 44h2v1h-2zM73 44h1v1h-1zM49 45h1v1h-1zM0 46h1v1h-1zM2 46h3v1h-3zM6 46h2v1h-2zM9 46h4v1h-4zM14 46h2v1h-2zM21 46h1v1h-1zM30 46h2v1h-2zM33 46h1v1h-1zM35 46h2v1h-2zM38 46h1v1h-1zM40 46h1v1h-1zM42 46h3v1h-3zM53 46h4v1h-4zM62 46h1v1h-1zM69 46h4v1h-4zM74 46h1v1h-1zM77 46h1v1h-1zM0 47h1v1h-1zM3 47h1v1h-1zM7 47h1v1h-1zM9 47h2v1h-2zM12 47h1v1h-1zM18 47h5v1h-5zM26 47h6v1h-6zM35 47h1v1h-1zM37 47h2v1h-2zM40 47h1v1h-1zM43 47h2v1h-2zM53 47h2v1h-2zM58 47h8v1h-8zM67 47h2v1h-2zM72 47h1v1h-1zM75 47h4v1h-4zM7 48h2v1h-2zM15 48h2v1h-2zM53 48h1v1h-1zM59 48h3v1h-3zM66 48h1v1h-1zM70 48h2v1h-2zM73 48h1v1h-1zM77 48h1v1h-1zM8 49h1v1h-1zM45 49h1v1h-1zM55 49h1v1h-1zM58 49h1v1h-1zM60 49h1v1h-1zM66 49h1v1h-1zM69 49h2v1h-2zM76 49h1v1h-1zM19 50h1v1h-1zM38 50h1v1h-1zM42 50h1v1h-1zM55 50h1v1h-1zM58 50h1v1h-1zM60 50h1v1h-1zM64 50h2v1h-2zM70 50h1v1h-1zM74 50h1v1h-1zM9 51h1v1h-1zM56 51h2v1h-2zM60 51h1v1h-1zM66 51h1v1h-1zM71 51h1v1h-1zM74 51h1v1h-1zM78 51h1v1h-1zM57 52h1v1h-1zM61 52h1v1h-1zM77 52h2v1h-2zM46 53h3v1h-3zM46 54h2v1h-2zM46 55h1v1h-1zM49 55h2v1h-2zM46 56h1v1h-1zM51 56h1v1h-1zM23 57h1v1h-1zM37 57h1v1h-1zM51 57h2v1h-2zM67 57h1v1h-1zM73 57h1v1h-1zM47 58h1v1h-1zM49 58h2v1h-2zM47 59h2v1h-2zM68 59h1v1h-1zM73 59h1v1h-1zM47 60h5v1h-5zM37 61h1v1h-1zM47 61h2v1h-2zM52 61h1v1h-1zM67 61h1v1h-1zM73 61h1v1h-1zM46 62h2v1h-2zM75 62h1v1h-1zM16 63h1v1h-1zM23 63h1v1h-1zM47 63h1v1h-1zM73 63h1v1h-1zM47 64h1v1h-1zM50 64h1v1h-1zM73 64h1v1h-1zM26 65h1v1h-1zM47 65h1v1h-1zM50 65h1v1h-1zM48 66h2v1h-2zM51 66h1v1h-1zM22 67h1v1h-1zM32 67h1v1h-1zM36 67h1v1h-1zM40 67h1v1h-1zM43 67h1v1h-1zM47 67h1v1h-1zM57 67h1v1h-1zM61 67h1v1h-1zM28 68h1v1h-1zM33 68h1v1h-1zM37 68h1v1h-1zM41 68h1v1h-1zM43 68h1v1h-1zM47 68h1v1h-1zM59 68h1v1h-1zM23 69h1v1h-1zM26 69h1v1h-1zM46 69h1v1h-1zM49 69h1v1h-1zM46 70h1v1h-1zM48 70h3v1h-3zM46 71h1v1h-1zM48 71h1v1h-1zM51 71h1v1h-1zM16 72h1v1h-1zM24 72h1v1h-1zM28 72h1v1h-1zM31 72h1v1h-1zM46 72h2v1h-2zM2 73h1v1h-1zM12 73h1v1h-1zM17 73h2v1h-2zM23 73h3v1h-3zM28 73h1v1h-1zM31 73h2v1h-2zM37 73h1v1h-1zM40 73h1v1h-1zM43 73h2v1h-2zM48 73h1v1h-1zM57 73h1v1h-1zM59 73h1v1h-1zM61 73h1v1h-1zM63 73h2v1h-2zM46 74h1v1h-1zM50 74h2v1h-2zM38 75h1v1h-1zM47 75h1v1h-1zM62 75h1v1h-1zM0 76h1v1h-1zM12 76h1v1h-1zM15 76h1v1h-1zM23 76h1v1h-1zM30 76h1v1h-1zM32 76h3v1h-3zM40 76h1v1h-1zM47 76h1v1h-1zM49 76h1v1h-1zM26 77h1v1h-1zM46 77h3v1h-3zM52 77h1v1h-1zM26 78h1v1h-1zM47 78h1v1h-1zM51 78h2v1h-2z"/>
<path fill="#c3d4f1" d="M69 0h1v1h-1zM73 0h1v1h-1zM47 1h1v1h-1zM47 2h1v1h-1zM61 2h1v1h-1zM72 2h1v1h-1zM75 2h1v1h-1zM72 3h2v1h-2zM75 3h1v1h-1zM47 4h1v1h-1zM62 4h1v1h-1zM73 4h1v1h-1zM75 4h2v1h-2zM46 5h2v1h-2zM73 5h1v1h-1zM75 5h1v1h-1zM47 6h1v1h-1zM73 6h1v1h-1zM69 7h1v1h-1zM73 7h1v1h-1zM46 8h2v1h-2zM76 9h1v1h-1zM72 10h1v1h-1zM47 11h1v1h-1zM73 11h1v1h-1zM72 12h1v1h-1zM74 12h1v1h-1zM47 13h1v1h-1zM76 13h1v1h-1zM47 14h1v1h-1zM47 15h1v1h-1zM72 15h1v1h-1zM26 16h1v1h-1zM57 16h1v1h-1zM62 16h1v1h-1zM69 16h1v1h-1zM73 16h4v1h-4zM47 17h1v1h-1zM71 17h2v1h-2zM76 17h1v1h-1zM60 18h2v1h-2zM64 18h1v1h-1zM69 18h1v1h-1zM72 18h1v1h-1zM76 18h1v1h-1zM26 19h1v1h-1zM59 19h1v1h-1zM61 19h1v1h-1zM72 19h2v1h-2zM72 20h2v1h-2zM61 21h1v1h-1zM73 21h1v1h-1zM46 22h1v1h-1zM69 22h1v1h-1zM72 22h2v1h-2zM76 22h1v1h-1zM32 23h2v1h-2zM36 23h1v1h-1zM40 23h2v1h-2zM43 23h1v1h-1zM60 23h1v1h-1zM64 23h2v1h-2zM67 23h1v1h-1zM74 23h2v1h-2zM77 23h1v1h-1zM47 24h1v1h-1zM67 24h1v1h-1zM76 24h1v1h-1zM47 25h1v1h-1zM67 25h3v1h-3zM72 25h1v1h-1zM74 25h3v1h-3zM16 26h1v1h-1zM19 26h1v1h-1zM37 26h1v1h-1zM42 26h1v1h-1zM58 26h2v1h-2zM68 26h1v1h-1zM70 26h3v1h-3zM74 26h2v1h-2zM72 27h2v1h-2zM30 28h1v1h-1zM61 28h2v1h-2zM64 28h1v1h-1zM57 29h1v1h-1zM59 29h1v1h-1zM68 29h1v1h-1zM72 29h2v1h-2zM28 30h1v1h-1zM64 30h1v1h-1zM67 30h1v1h-1zM69 30h1v1h-1zM72 30h2v1h-2zM63 31h1v1h-1zM65 31h1v1h-1zM67 31h1v1h-1zM69 31h1v1h-1zM74 31h2v1h-2zM23 32h1v1h-1zM46 32h2v1h-2zM66 32h1v1h-1zM68 32h1v1h-1zM72 32h1v1h-1zM23 33h1v1h-1zM47 33h1v1h-1zM62 33h2v1h-2zM67 33h1v1h-1zM72 33h2v1h-2zM67 34h1v1h-1zM69 34h1v1h-1zM72 34h2v1h-2zM72 35h2v1h-2zM76 35h1v1h-1zM23 36h1v1h-1zM47 36h1v1h-1zM62 36h1v1h-1zM68 36h1v1h-1zM73 36h1v1h-1zM76 36h1v1h-1zM26 37h1v1h-1zM64 37h1v1h-1zM72 37h1v1h-1zM75 37h1v1h-1zM78 37h1v1h-1zM63 38h1v1h-1zM68 38h1v1h-1zM72 38h2v1h-2zM76 38h1v1h-1zM47 39h1v1h-1zM72 39h1v1h-1zM23 40h1v1h-1zM69 40h1v1h-1zM72 40h1v1h-1zM75 40h1v1h-1zM78 40h1v1h-1zM23 41h1v1h-1zM47 41h1v1h-1zM61 41h1v1h-1zM72 41h2v1h-2zM26 42h1v1h-1zM47 42h1v1h-1zM62 42h1v1h-1zM67 42h2v1h-2zM73 42h1v1h-1zM76 42h1v1h-1zM23 43h1v1h-1zM57 43h1v1h-1zM59 43h1v1h-1zM61 43h1v1h-1zM63 43h2v1h-2zM72 43h1v1h-1zM74 43h3v1h-3zM78 43h1v1h-1zM68 44h1v1h-1zM72 44h1v1h-1zM74 44h2v1h-2zM78 44h1v1h-1zM46 45h2v1h-2zM67 45h2v1h-2zM72 45h2v1h-2zM75 45h1v1h-1zM5 46h1v1h-1zM8 46h1v1h-1zM22 46h1v1h-1zM32 46h1v1h-1zM45 46h1v1h-1zM57 46h1v1h-1zM60 46h2v1h-2zM1 47h2v1h-2zM4 47h3v1h-3zM8 47h1v1h-1zM11 47h1v1h-1zM13 47h3v1h-3zM17 47h1v1h-1zM24 47h2v1h-2zM32 47h2v1h-2zM36 47h1v1h-1zM39 47h1v1h-1zM41 47h2v1h-2zM45 47h1v1h-1zM55 47h1v1h-1zM66 47h1v1h-1zM69 47h3v1h-3zM74 47h1v1h-1zM78 48h1v1h-1zM78 49h1v1h-1zM66 50h1v1h-1zM69 50h1v1h-1zM77 50h2v1h-2zM61 51h2v1h-2zM73 53h1v1h-1zM47 55h1v1h-1zM69 56h1v1h-1zM16 57h1v1h-1zM29 57h1v1h-1zM43 57h1v1h-1zM46 57h1v1h-1zM68 57h1v1h-1zM70 57h1v1h-1zM76 57h1v1h-1zM26 58h1v1h-1zM72 58h2v1h-2zM75 58h1v1h-1zM19 59h1v1h-1zM26 59h1v1h-1zM29 59h1v1h-1zM43 59h1v1h-1zM67 59h1v1h-1zM69 59h1v1h-1zM72 59h1v1h-1zM76 59h1v1h-1zM18 60h1v1h-1zM23 60h1v1h-1zM46 60h1v1h-1zM67 60h1v1h-1zM76 60h1v1h-1zM2 61h1v1h-1zM18 61h2v1h-2zM21 61h1v1h-1zM28 61h1v1h-1zM41 61h1v1h-1zM43 61h1v1h-1zM46 61h1v1h-1zM51 61h1v1h-1zM69 61h1v1h-1zM72 61h1v1h-1zM76 61h1v1h-1zM4 62h1v1h-1zM16 62h1v1h-1zM28 62h1v1h-1zM33 62h1v1h-1zM36 62h1v1h-1zM42 62h1v1h-1zM51 62h1v1h-1zM67 62h2v1h-2zM71 62h2v1h-2zM77 62h2v1h-2zM31 63h1v1h-1zM33 63h1v1h-1zM38 63h1v1h-1zM43 63h1v1h-1zM72 63h1v1h-1zM75 63h2v1h-2zM18 64h1v1h-1zM23 64h1v1h-1zM28 64h1v1h-1zM30 64h1v1h-1zM37 64h1v1h-1zM43 64h1v1h-1zM67 64h2v1h-2zM72 64h1v1h-1zM75 64h2v1h-2zM23 65h1v1h-1zM31 65h1v1h-1zM72 65h2v1h-2zM32 66h1v1h-1zM47 66h1v1h-1zM50 66h1v1h-1zM23 67h3v1h-3zM30 67h2v1h-2zM33 67h2v1h-2zM42 67h1v1h-1zM45 67h1v1h-1zM59 67h2v1h-2zM62 67h1v1h-1zM64 67h1v1h-1zM73 67h1v1h-1zM25 68h2v1h-2zM29 68h1v1h-1zM32 68h1v1h-1zM36 68h1v1h-1zM38 68h1v1h-1zM42 68h1v1h-1zM44 68h2v1h-2zM57 68h1v1h-1zM62 68h1v1h-1zM64 68h1v1h-1zM72 68h2v1h-2zM76 68h1v1h-1zM0 69h1v1h-1zM7 69h1v1h-1zM16 69h1v1h-1zM18 69h1v1h-1zM22 69h1v1h-1zM25 69h1v1h-1zM30 69h2v1h-2zM34 69h1v1h-1zM40 69h1v1h-1zM47 69h1v1h-1zM50 69h1v1h-1zM56 69h1v1h-1zM59 69h1v1h-1zM61 69h1v1h-1zM26 70h1v1h-1zM47 70h1v1h-1zM57 70h1v1h-1zM17 71h1v1h-1zM26 71h1v1h-1zM47 71h1v1h-1zM62 71h1v1h-1zM2 72h2v1h-2zM10 72h1v1h-1zM12 72h1v1h-1zM15 72h1v1h-1zM17 72h4v1h-4zM22 72h1v1h-1zM25 72h3v1h-3zM29 72h2v1h-2zM32 72h4v1h-4zM37 72h5v1h-5zM43 72h3v1h-3zM58 72h2v1h-2zM61 72h5v1h-5zM68 72h1v1h-1zM0 73h1v1h-1zM3 73h5v1h-5zM11 73h1v1h-1zM16 73h1v1h-1zM19 73h4v1h-4zM27 73h1v1h-1zM29 73h2v1h-2zM33 73h4v1h-4zM38 73h1v1h-1zM41 73h2v1h-2zM45 73h1v1h-1zM53 73h1v1h-1zM58 73h1v1h-1zM65 73h1v1h-1zM67 73h2v1h-2zM12 74h1v1h-1zM16 74h1v1h-1zM23 74h1v1h-1zM25 74h2v1h-2zM31 74h1v1h-1zM43 74h2v1h-2zM47 74h1v1h-1zM2 75h4v1h-4zM16 75h1v1h-1zM23 75h1v1h-1zM25 75h2v1h-2zM31 75h1v1h-1zM37 75h1v1h-1zM40 75h1v1h-1zM43 75h3v1h-3zM58 75h1v1h-1zM63 75h2v1h-2zM4 76h1v1h-1zM9 76h1v1h-1zM13 76h1v1h-1zM16 76h3v1h-3zM22 76h1v1h-1zM24 76h2v1h-2zM35 76h2v1h-2zM38 76h1v1h-1zM42 76h2v1h-2zM57 76h1v1h-1zM59 76h3v1h-3zM63 76h2v1h-2zM68 76h1v1h-1zM23 77h1v1h-1zM50 77h1v1h-1zM62 77h1v1h-1zM37 78h1v1h-1zM40 78h1v1h-1zM43 78h2v1h-2zM48 78h3v1h-3zM62 78h1v1h-1z"/>
<path fill="#d1dae8" d="M59 0h1v1h-1zM62 0h1v1h-1zM65 0h1v1h-1zM72 0h1v1h-1zM77 0h2v1h-2zM61 1h2v1h-2zM64 1h1v1h-1zM71 1h3v1h-3zM75 1h1v1h-1zM23 2h1v1h-1zM60 2h1v1h-1zM64 2h1v1h-1zM71 2h1v1h-1zM78 2h1v1h-1zM57 3h1v1h-1zM63 3h2v1h-2zM69 3h3v1h-3zM74 3h1v1h-1zM76 3h3v1h-3zM23 4h1v1h-1zM37 4h1v1h-1zM56 4h1v1h-1zM59 4h1v1h-1zM71 4h2v1h-2zM77 4h1v1h-1zM60 5h1v1h-1zM62 5h1v1h-1zM64 5h1v1h-1zM69 5h1v1h-1zM72 5h1v1h-1zM74 5h1v1h-1zM76 5h2v1h-2zM65 6h1v1h-1zM72 6h1v1h-1zM75 6h2v1h-2zM62 7h1v1h-1zM72 7h1v1h-1zM76 7h1v1h-1zM72 8h2v1h-2zM75 8h2v1h-2zM64 9h1v1h-1zM69 9h1v1h-1zM72 9h2v1h-2zM75 9h1v1h-1zM78 9h1v1h-1zM69 10h1v1h-1zM73 10h1v1h-1zM75 10h2v1h-2zM64 11h1v1h-1zM71 11h2v1h-2zM75 11h4v1h-4zM23 12h1v1h-1zM59 12h1v1h-1zM63 12h1v1h-1zM65 12h1v1h-1zM69 12h3v1h-3zM75 12h1v1h-1zM77 12h2v1h-2zM69 13h1v1h-1zM72 13h2v1h-2zM59 14h1v1h-1zM72 14h2v1h-2zM75 14h2v1h-2zM59 15h1v1h-1zM63 15h1v1h-1zM69 15h1v1h-1zM73 15h2v1h-2zM53 16h2v1h-2zM58 16h2v1h-2zM64 16h2v1h-2zM71 16h1v1h-1zM77 16h1v1h-1zM53 17h3v1h-3zM59 17h1v1h-1zM62 17h4v1h-4zM69 17h2v1h-2zM74 17h2v1h-2zM77 17h1v1h-1zM57 18h1v1h-1zM59 18h1v1h-1zM63 18h1v1h-1zM70 18h2v1h-2zM75 18h1v1h-1zM57 19h1v1h-1zM62 19h1v1h-1zM64 19h1v1h-1zM71 19h1v1h-1zM75 19h1v1h-1zM78 19h1v1h-1zM59 20h1v1h-1zM65 20h1v1h-1zM71 20h1v1h-1zM75 20h3v1h-3zM60 21h1v1h-1zM62 21h1v1h-1zM64 21h1v1h-1zM72 21h1v1h-1zM74 21h3v1h-3zM37 22h2v1h-2zM43 22h1v1h-1zM58 22h2v1h-2zM61 22h1v1h-1zM66 22h1v1h-1zM68 22h1v1h-1zM70 22h1v1h-1zM74 22h2v1h-2zM77 22h1v1h-1zM2 23h1v1h-1zM4 23h1v1h-1zM12 23h1v1h-1zM28 23h1v1h-1zM37 23h2v1h-2zM42 23h1v1h-1zM53 23h2v1h-2zM58 23h2v1h-2zM70 23h2v1h-2zM31 24h1v1h-1zM37 24h2v1h-2zM40 24h1v1h-1zM43 24h1v1h-1zM57 24h1v1h-1zM61 24h4v1h-4zM66 24h1v1h-1zM68 24h4v1h-4zM74 24h2v1h-2zM31 25h1v1h-1zM33 25h1v1h-1zM40 25h1v1h-1zM43 25h1v1h-1zM53 25h1v1h-1zM58 25h5v1h-5zM64 25h1v1h-1zM66 25h1v1h-1zM70 25h2v1h-2zM77 25h2v1h-2zM28 26h2v1h-2zM31 26h1v1h-1zM33 26h1v1h-1zM36 26h1v1h-1zM38 26h1v1h-1zM41 26h1v1h-1zM43 26h1v1h-1zM53 26h1v1h-1zM55 26h1v1h-1zM57 26h1v1h-1zM63 26h2v1h-2zM66 26h1v1h-1zM41 27h1v1h-1zM63 27h2v1h-2zM67 27h2v1h-2zM70 27h2v1h-2zM76 27h2v1h-2zM23 28h1v1h-1zM26 28h1v1h-1zM31 28h2v1h-2zM57 28h1v1h-1zM63 28h1v1h-1zM67 28h1v1h-1zM69 28h2v1h-2zM74 28h3v1h-3zM26 29h1v1h-1zM32 29h2v1h-2zM40 29h1v1h-1zM61 29h1v1h-1zM63 29h2v1h-2zM67 29h1v1h-1zM71 29h1v1h-1zM74 29h4v1h-4zM58 30h2v1h-2zM62 30h2v1h-2zM65 30h1v1h-1zM68 30h1v1h-1zM70 30h2v1h-2zM74 30h2v1h-2zM77 30h1v1h-1zM24 31h3v1h-3zM28 31h1v1h-1zM53 31h1v1h-1zM58 31h1v1h-1zM64 31h1v1h-1zM66 31h1v1h-1zM68 31h1v1h-1zM71 31h1v1h-1zM76 31h3v1h-3zM28 32h2v1h-2zM53 32h1v1h-1zM56 32h1v1h-1zM59 32h1v1h-1zM62 32h2v1h-2zM70 32h2v1h-2zM74 32h2v1h-2zM78 32h1v1h-1zM25 33h2v1h-2zM29 33h1v1h-1zM56 33h1v1h-1zM59 33h1v1h-1zM61 33h1v1h-1zM75 33h1v1h-1zM47 34h1v1h-1zM57 34h1v1h-1zM66 34h1v1h-1zM68 34h1v1h-1zM71 34h1v1h-1zM75 34h1v1h-1zM59 35h1v1h-1zM62 35h1v1h-1zM64 35h1v1h-1zM67 35h1v1h-1zM69 35h2v1h-2zM74 35h1v1h-1zM77 35h1v1h-1zM26 36h1v1h-1zM54 36h1v1h-1zM59 36h1v1h-1zM63 36h1v1h-1zM65 36h2v1h-2zM69 36h1v1h-1zM72 36h1v1h-1zM74 36h2v1h-2zM77 36h1v1h-1zM4 37h1v1h-1zM22 37h3v1h-3zM40 37h1v1h-1zM62 37h2v1h-2zM66 37h2v1h-2zM71 37h1v1h-1zM74 37h1v1h-1zM76 37h1v1h-1zM22 38h3v1h-3zM26 38h1v1h-1zM54 38h1v1h-1zM56 38h1v1h-1zM58 38h2v1h-2zM62 38h1v1h-1zM65 38h1v1h-1zM69 38h1v1h-1zM74 38h1v1h-1zM59 39h1v1h-1zM62 39h1v1h-1zM67 39h3v1h-3zM74 39h1v1h-1zM76 39h1v1h-1zM24 40h2v1h-2zM29 40h1v1h-1zM37 40h1v1h-1zM53 40h1v1h-1zM55 40h1v1h-1zM59 40h4v1h-4zM64 40h3v1h-3zM68 40h1v1h-1zM70 40h2v1h-2zM74 40h1v1h-1zM77 40h1v1h-1zM26 41h2v1h-2zM56 41h1v1h-1zM59 41h1v1h-1zM62 41h2v1h-2zM67 41h1v1h-1zM71 41h1v1h-1zM74 41h3v1h-3zM78 41h1v1h-1zM23 42h1v1h-1zM56 42h2v1h-2zM59 42h1v1h-1zM61 42h1v1h-1zM63 42h1v1h-1zM66 42h1v1h-1zM69 42h1v1h-1zM71 42h2v1h-2zM75 42h1v1h-1zM22 43h1v1h-1zM24 43h3v1h-3zM53 43h2v1h-2zM58 43h1v1h-1zM60 43h1v1h-1zM62 43h1v1h-1zM65 43h2v1h-2zM71 43h1v1h-1zM77 43h1v1h-1zM64 44h2v1h-2zM67 44h1v1h-1zM69 44h1v1h-1zM76 44h1v1h-1zM63 45h1v1h-1zM65 45h2v1h-2zM78 45h1v1h-1zM64 46h1v1h-1zM34 47h1v1h-1zM57 47h1v1h-1zM16 53h2v1h-2zM23 53h1v1h-1zM25 53h2v1h-2zM31 53h2v1h-2zM40 53h1v1h-1zM43 53h1v1h-1zM67 53h1v1h-1zM69 53h1v1h-1zM72 53h1v1h-1zM76 53h1v1h-1zM16 54h2v1h-2zM23 54h1v1h-1zM36 54h1v1h-1zM38 54h1v1h-1zM43 54h1v1h-1zM67 54h1v1h-1zM69 54h1v1h-1zM72 54h2v1h-2zM76 54h2v1h-2zM17 55h1v1h-1zM26 55h1v1h-1zM40 55h1v1h-1zM72 55h2v1h-2zM4 56h1v1h-1zM32 56h2v1h-2zM38 56h1v1h-1zM41 56h2v1h-2zM72 56h1v1h-1zM75 56h1v1h-1zM3 57h1v1h-1zM18 57h2v1h-2zM24 57h1v1h-1zM26 57h1v1h-1zM28 57h1v1h-1zM34 57h1v1h-1zM42 57h1v1h-1zM47 57h1v1h-1zM66 57h1v1h-1zM72 57h1v1h-1zM75 57h1v1h-1zM78 57h1v1h-1zM16 58h1v1h-1zM22 58h2v1h-2zM25 58h1v1h-1zM30 58h2v1h-2zM38 58h1v1h-1zM43 58h1v1h-1zM68 58h1v1h-1zM76 58h1v1h-1zM0 59h1v1h-1zM4 59h1v1h-1zM12 59h1v1h-1zM14 59h5v1h-5zM20 59h1v1h-1zM22 59h2v1h-2zM25 59h1v1h-1zM30 59h1v1h-1zM32 59h2v1h-2zM35 59h2v1h-2zM38 59h5v1h-5zM70 59h1v1h-1zM74 59h2v1h-2zM2 60h1v1h-1zM5 60h1v1h-1zM21 60h1v1h-1zM25 60h1v1h-1zM40 60h1v1h-1zM43 60h1v1h-1zM66 60h1v1h-1zM68 60h2v1h-2zM72 60h2v1h-2zM1 61h1v1h-1zM22 61h1v1h-1zM24 61h2v1h-2zM29 61h1v1h-1zM33 61h1v1h-1zM40 61h1v1h-1zM42 61h1v1h-1zM68 61h1v1h-1zM70 61h1v1h-1zM74 61h2v1h-2zM77 61h1v1h-1zM0 62h2v1h-2zM5 62h1v1h-1zM7 62h1v1h-1zM17 62h1v1h-1zM19 62h1v1h-1zM21 62h1v1h-1zM24 62h2v1h-2zM30 62h1v1h-1zM32 62h1v1h-1zM35 62h1v1h-1zM37 62h5v1h-5zM43 62h1v1h-1zM69 62h1v1h-1zM73 62h2v1h-2zM76 62h1v1h-1zM3 63h1v1h-1zM12 63h1v1h-1zM15 63h1v1h-1zM17 63h2v1h-2zM24 63h1v1h-1zM26 63h5v1h-5zM32 63h1v1h-1zM36 63h2v1h-2zM41 63h2v1h-2zM45 63h1v1h-1zM67 63h5v1h-5zM74 63h1v1h-1zM77 63h2v1h-2zM1 64h3v1h-3zM5 64h1v1h-1zM9 64h1v1h-1zM11 64h1v1h-1zM16 64h2v1h-2zM19 64h1v1h-1zM21 64h1v1h-1zM24 64h4v1h-4zM29 64h1v1h-1zM31 64h1v1h-1zM35 64h1v1h-1zM40 64h1v1h-1zM44 64h1v1h-1zM46 64h1v1h-1zM66 64h1v1h-1zM69 64h3v1h-3zM74 64h1v1h-1zM0 65h1v1h-1zM6 65h1v1h-1zM12 65h1v1h-1zM16 65h2v1h-2zM20 65h1v1h-1zM30 65h1v1h-1zM36 65h1v1h-1zM38 65h1v1h-1zM40 65h1v1h-1zM43 65h3v1h-3zM68 65h1v1h-1zM71 65h1v1h-1zM75 65h3v1h-3zM22 66h1v1h-1zM24 66h3v1h-3zM31 66h1v1h-1zM34 66h1v1h-1zM36 66h2v1h-2zM40 66h1v1h-1zM42 66h2v1h-2zM45 66h1v1h-1zM57 66h1v1h-1zM60 66h1v1h-1zM64 66h1v1h-1zM72 66h1v1h-1zM27 67h3v1h-3zM35 67h1v1h-1zM37 67h1v1h-1zM39 67h1v1h-1zM41 67h1v1h-1zM44 67h1v1h-1zM53 67h2v1h-2zM63 67h1v1h-1zM72 67h1v1h-1zM74 67h2v1h-2zM77 67h1v1h-1zM22 68h1v1h-1zM24 68h1v1h-1zM27 68h1v1h-1zM30 68h2v1h-2zM34 68h1v1h-1zM39 68h2v1h-2zM58 68h1v1h-1zM60 68h2v1h-2zM63 68h1v1h-1zM65 68h1v1h-1zM75 68h1v1h-1zM77 68h1v1h-1zM3 69h1v1h-1zM5 69h1v1h-1zM9 69h2v1h-2zM12 69h2v1h-2zM15 69h1v1h-1zM17 69h1v1h-1zM24 69h1v1h-1zM28 69h1v1h-1zM35 69h2v1h-2zM38 69h2v1h-2zM42 69h1v1h-1zM44 69h1v1h-1zM53 69h2v1h-2zM60 69h1v1h-1zM62 69h3v1h-3zM72 69h1v1h-1zM75 69h1v1h-1zM3 70h1v1h-1zM12 70h1v1h-1zM17 70h2v1h-2zM22 70h4v1h-4zM27 70h2v1h-2zM30 70h1v1h-1zM32 70h1v1h-1zM35 70h1v1h-1zM40 70h1v1h-1zM59 70h1v1h-1zM61 70h1v1h-1zM63 70h2v1h-2zM73 70h1v1h-1zM1 71h4v1h-4zM11 71h2v1h-2zM16 71h1v1h-1zM18 71h3v1h-3zM23 71h3v1h-3zM27 71h1v1h-1zM29 71h4v1h-4zM34 71h1v1h-1zM37 71h1v1h-1zM40 71h4v1h-4zM63 71h3v1h-3zM0 72h2v1h-2zM4 72h6v1h-6zM11 72h1v1h-1zM13 72h2v1h-2zM21 72h1v1h-1zM36 72h1v1h-1zM42 72h1v1h-1zM53 72h5v1h-5zM60 72h1v1h-1zM66 72h2v1h-2zM69 72h1v1h-1zM1 73h1v1h-1zM8 73h3v1h-3zM13 73h3v1h-3zM54 73h2v1h-2zM60 73h1v1h-1zM62 73h1v1h-1zM70 73h1v1h-1zM3 74h1v1h-1zM5 74h1v1h-1zM15 74h1v1h-1zM17 74h1v1h-1zM21 74h2v1h-2zM24 74h1v1h-1zM28 74h3v1h-3zM32 74h1v1h-1zM35 74h7v1h-7zM59 74h1v1h-1zM61 74h4v1h-4zM67 74h1v1h-1zM1 75h1v1h-1zM6 75h1v1h-1zM8 75h5v1h-5zM14 75h1v1h-1zM17 75h6v1h-6zM24 75h1v1h-1zM28 75h3v1h-3zM32 75h3v1h-3zM36 75h1v1h-1zM41 75h2v1h-2zM56 75h2v1h-2zM59 75h1v1h-1zM61 75h1v1h-1zM65 75h1v1h-1zM67 75h3v1h-3zM3 76h1v1h-1zM5 76h4v1h-4zM10 76h2v1h-2zM14 76h1v1h-1zM20 76h2v1h-2zM27 76h3v1h-3zM31 76h1v1h-1zM37 76h1v1h-1zM39 76h1v1h-1zM41 76h1v1h-1zM44 76h1v1h-1zM53 76h2v1h-2zM58 76h1v1h-1zM62 76h1v1h-1zM65 76h1v1h-1zM0 77h1v1h-1zM3 77h3v1h-3zM11 77h2v1h-2zM16 77h2v1h-2zM20 77h1v1h-1zM22 77h1v1h-1zM25 77h1v1h-1zM27 77h1v1h-1zM29 77h3v1h-3zM35 77h2v1h-2zM40 77h1v1h-1zM43 77h1v1h-1zM54 77h1v1h-1zM61 77h1v1h-1zM63 77h1v1h-1zM65 77h1v1h-1zM67 77h2v1h-2zM0 78h1v1h-1zM2 78h2v1h-2zM9 78h1v1h-1zM11 78h2v1h-2zM19 78h1v1h-1zM25 78h1v1h-1zM31 78h2v1h-2zM41 78h1v1h-1zM45 78h1v1h-1zM57 78h1v1h-1zM63 78h1v1h-1z"/>
<path fill="#dddcdc" d="M53 0h1v1h-1zM58 0h1v1h-1zM63 0h2v1h-2zM70 0h2v1h-2zM74 0h2v1h-2zM26 1h1v1h-1zM59 1h2v1h-2zM74 1h1v1h-1zM76 1h1v1h-1zM78 1h1v1h-1zM53 2h1v1h-1zM57 2h1v1h-1zM62 2h2v1h-2zM69 2h2v1h-2zM74 2h1v1h-1zM76 2h2v1h-2zM24 3h1v1h-1zM32 3h1v1h-1zM53 3h2v1h-2zM58 3h2v1h-2zM61 3h1v1h-1zM65 3h1v1h-1zM24 4h2v1h-2zM53 4h3v1h-3zM58 4h1v1h-1zM61 4h1v1h-1zM63 4h1v1h-1zM65 4h1v1h-1zM69 4h2v1h-2zM74 4h1v1h-1zM78 4h1v1h-1zM23 5h1v1h-1zM54 5h1v1h-1zM57 5h3v1h-3zM61 5h1v1h-1zM63 5h1v1h-1zM65 5h1v1h-1zM70 5h2v1h-2zM78 5h1v1h-1zM55 6h1v1h-1zM59 6h1v1h-1zM64 6h1v1h-1zM70 6h2v1h-2zM78 6h1v1h-1zM54 7h1v1h-1zM56 7h1v1h-1zM58 7h2v1h-2zM63 7h1v1h-1zM65 7h1v1h-1zM70 7h2v1h-2zM74 7h2v1h-2zM77 7h2v1h-2zM26 8h1v1h-1zM59 8h1v1h-1zM61 8h1v1h-1zM63 8h3v1h-3zM69 8h2v1h-2zM74 8h1v1h-1zM77 8h2v1h-2zM57 9h3v1h-3zM63 9h1v1h-1zM65 9h1v1h-1zM70 9h2v1h-2zM74 9h1v1h-1zM77 9h1v1h-1zM53 10h1v1h-1zM62 10h2v1h-2zM65 10h1v1h-1zM70 10h2v1h-2zM74 10h1v1h-1zM77 10h2v1h-2zM23 11h1v1h-1zM53 11h1v1h-1zM55 11h1v1h-1zM57 11h1v1h-1zM59 11h5v1h-5zM69 11h2v1h-2zM74 11h1v1h-1zM24 12h1v1h-1zM28 12h2v1h-2zM31 12h1v1h-1zM37 12h1v1h-1zM53 12h6v1h-6zM61 12h2v1h-2zM64 12h1v1h-1zM58 13h1v1h-1zM62 13h4v1h-4zM71 13h1v1h-1zM75 13h1v1h-1zM77 13h1v1h-1zM61 14h4v1h-4zM69 14h1v1h-1zM71 14h1v1h-1zM74 14h1v1h-1zM77 14h2v1h-2zM29 15h1v1h-1zM53 15h1v1h-1zM58 15h1v1h-1zM62 15h1v1h-1zM64 15h1v1h-1zM70 15h2v1h-2zM75 15h1v1h-1zM77 15h2v1h-2zM25 16h1v1h-1zM28 16h1v1h-1zM56 16h1v1h-1zM60 16h2v1h-2zM70 16h1v1h-1zM23 17h1v1h-1zM25 17h2v1h-2zM29 17h1v1h-1zM56 17h2v1h-2zM60 17h2v1h-2zM78 17h1v1h-1zM26 18h1v1h-1zM54 18h1v1h-1zM58 18h1v1h-1zM62 18h1v1h-1zM74 18h1v1h-1zM77 18h2v1h-2zM22 19h2v1h-2zM53 19h3v1h-3zM60 19h1v1h-1zM63 19h1v1h-1zM70 19h1v1h-1zM74 19h1v1h-1zM76 19h1v1h-1zM57 20h2v1h-2zM61 20h1v1h-1zM64 20h1v1h-1zM69 20h1v1h-1zM74 20h1v1h-1zM78 20h1v1h-1zM23 21h1v1h-1zM56 21h2v1h-2zM59 21h1v1h-1zM63 21h1v1h-1zM69 21h3v1h-3zM77 21h2v1h-2zM19 22h1v1h-1zM23 22h1v1h-1zM25 22h2v1h-2zM28 22h1v1h-1zM30 22h4v1h-4zM36 22h1v1h-1zM40 22h3v1h-3zM44 22h1v1h-1zM53 22h2v1h-2zM62 22h4v1h-4zM71 22h1v1h-1zM78 22h1v1h-1zM5 23h1v1h-1zM11 23h1v1h-1zM17 23h1v1h-1zM19 23h1v1h-1zM21 23h2v1h-2zM24 23h3v1h-3zM30 23h2v1h-2zM35 23h1v1h-1zM39 23h1v1h-1zM44 23h2v1h-2zM61 23h2v1h-2zM66 23h1v1h-1zM68 23h1v1h-1zM78 23h1v1h-1zM3 24h2v1h-2zM12 24h1v1h-1zM23 24h1v1h-1zM26 24h1v1h-1zM32 24h3v1h-3zM36 24h1v1h-1zM41 24h2v1h-2zM44 24h2v1h-2zM54 24h1v1h-1zM56 24h1v1h-1zM58 24h3v1h-3zM65 24h1v1h-1zM77 24h2v1h-2zM4 25h1v1h-1zM16 25h2v1h-2zM22 25h2v1h-2zM30 25h1v1h-1zM32 25h1v1h-1zM35 25h4v1h-4zM42 25h1v1h-1zM54 25h4v1h-4zM63 25h1v1h-1zM65 25h1v1h-1zM1 26h1v1h-1zM8 26h1v1h-1zM17 26h2v1h-2zM22 26h3v1h-3zM30 26h1v1h-1zM32 26h1v1h-1zM34 26h2v1h-2zM39 26h1v1h-1zM44 26h1v1h-1zM54 26h1v1h-1zM56 26h1v1h-1zM60 26h3v1h-3zM30 27h3v1h-3zM36 27h2v1h-2zM40 27h1v1h-1zM43 27h1v1h-1zM57 27h3v1h-3zM61 27h2v1h-2zM65 27h2v1h-2zM69 27h1v1h-1zM74 27h2v1h-2zM78 27h1v1h-1zM12 28h1v1h-1zM16 28h1v1h-1zM22 28h1v1h-1zM33 28h8v1h-8zM43 28h2v1h-2zM53 28h3v1h-3zM58 28h3v1h-3zM65 28h2v1h-2zM71 28h1v1h-1zM77 28h2v1h-2zM12 29h1v1h-1zM15 29h1v1h-1zM17 29h1v1h-1zM30 29h2v1h-2zM34 29h3v1h-3zM38 29h1v1h-1zM41 29h1v1h-1zM43 29h1v1h-1zM53 29h2v1h-2zM65 29h2v1h-2zM69 29h2v1h-2zM78 29h1v1h-1zM22 30h2v1h-2zM25 30h3v1h-3zM29 30h1v1h-1zM33 30h1v1h-1zM37 30h1v1h-1zM41 30h1v1h-1zM56 30h2v1h-2zM60 30h2v1h-2zM66 30h1v1h-1zM78 30h1v1h-1zM12 31h1v1h-1zM22 31h2v1h-2zM27 31h1v1h-1zM29 31h1v1h-1zM37 31h1v1h-1zM41 31h1v1h-1zM43 31h1v1h-1zM54 31h2v1h-2zM57 31h1v1h-1zM59 31h4v1h-4zM70 31h1v1h-1zM3 32h1v1h-1zM22 32h1v1h-1zM24 32h4v1h-4zM37 32h1v1h-1zM43 32h1v1h-1zM54 32h2v1h-2zM58 32h1v1h-1zM60 32h1v1h-1zM64 32h2v1h-2zM69 32h1v1h-1zM77 32h1v1h-1zM22 33h1v1h-1zM24 33h1v1h-1zM28 33h1v1h-1zM30 33h1v1h-1zM37 33h1v1h-1zM53 33h3v1h-3zM58 33h1v1h-1zM60 33h1v1h-1zM65 33h2v1h-2zM69 33h3v1h-3zM74 33h1v1h-1zM77 33h1v1h-1zM24 34h1v1h-1zM26 34h1v1h-1zM28 34h2v1h-2zM37 34h1v1h-1zM43 34h1v1h-1zM58 34h2v1h-2zM61 34h5v1h-5zM74 34h1v1h-1zM77 34h2v1h-2zM23 35h1v1h-1zM25 35h2v1h-2zM28 35h2v1h-2zM57 35h2v1h-2zM60 35h1v1h-1zM63 35h1v1h-1zM65 35h2v1h-2zM68 35h1v1h-1zM71 35h1v1h-1zM75 35h1v1h-1zM22 36h1v1h-1zM24 36h2v1h-2zM27 36h3v1h-3zM53 36h1v1h-1zM55 36h4v1h-4zM61 36h1v1h-1zM64 36h1v1h-1zM70 36h2v1h-2zM78 36h1v1h-1zM12 37h1v1h-1zM25 37h1v1h-1zM27 37h2v1h-2zM30 37h5v1h-5zM38 37h1v1h-1zM53 37h4v1h-4zM58 37h3v1h-3zM65 37h1v1h-1zM69 37h2v1h-2zM77 37h1v1h-1zM25 38h1v1h-1zM28 38h2v1h-2zM37 38h1v1h-1zM40 38h1v1h-1zM43 38h1v1h-1zM53 38h1v1h-1zM55 38h1v1h-1zM60 38h2v1h-2zM64 38h1v1h-1zM66 38h1v1h-1zM70 38h2v1h-2zM77 38h2v1h-2zM23 39h1v1h-1zM26 39h1v1h-1zM28 39h1v1h-1zM53 39h2v1h-2zM61 39h1v1h-1zM64 39h3v1h-3zM71 39h1v1h-1zM73 39h1v1h-1zM75 39h1v1h-1zM22 40h1v1h-1zM27 40h2v1h-2zM38 40h1v1h-1zM43 40h1v1h-1zM54 40h1v1h-1zM56 40h1v1h-1zM58 40h1v1h-1zM63 40h1v1h-1zM22 41h1v1h-1zM24 41h1v1h-1zM29 41h3v1h-3zM53 41h1v1h-1zM55 41h1v1h-1zM58 41h1v1h-1zM64 41h1v1h-1zM66 41h1v1h-1zM69 41h2v1h-2zM22 42h1v1h-1zM24 42h2v1h-2zM44 42h1v1h-1zM53 42h3v1h-3zM58 42h1v1h-1zM60 42h1v1h-1zM64 42h2v1h-2zM70 42h1v1h-1zM74 42h1v1h-1zM27 43h3v1h-3zM31 43h2v1h-2zM34 43h1v1h-1zM38 43h1v1h-1zM40 43h1v1h-1zM55 43h2v1h-2zM69 43h2v1h-2zM22 44h3v1h-3zM26 44h1v1h-1zM28 44h1v1h-1zM42 44h1v1h-1zM55 44h1v1h-1zM58 44h6v1h-6zM66 44h1v1h-1zM70 44h2v1h-2zM77 44h1v1h-1zM23 45h2v1h-2zM59 45h1v1h-1zM61 45h1v1h-1zM69 45h1v1h-1zM71 45h1v1h-1zM74 45h1v1h-1zM76 45h1v1h-1zM0 53h1v1h-1zM2 53h3v1h-3zM10 53h3v1h-3zM15 53h1v1h-1zM19 53h1v1h-1zM22 53h1v1h-1zM28 53h2v1h-2zM33 53h1v1h-1zM36 53h4v1h-4zM41 53h2v1h-2zM68 53h1v1h-1zM74 53h2v1h-2zM77 53h2v1h-2zM3 54h3v1h-3zM7 54h1v1h-1zM12 54h1v1h-1zM18 54h2v1h-2zM22 54h1v1h-1zM24 54h3v1h-3zM28 54h2v1h-2zM31 54h3v1h-3zM37 54h1v1h-1zM39 54h2v1h-2zM42 54h1v1h-1zM66 54h1v1h-1zM68 54h1v1h-1zM70 54h2v1h-2zM74 54h2v1h-2zM78 54h1v1h-1zM4 55h1v1h-1zM6 55h1v1h-1zM11 55h2v1h-2zM19 55h1v1h-1zM25 55h1v1h-1zM28 55h1v1h-1zM31 55h3v1h-3zM36 55h3v1h-3zM41 55h4v1h-4zM66 55h2v1h-2zM69 55h1v1h-1zM71 55h1v1h-1zM74 55h4v1h-4zM7 56h1v1h-1zM12 56h1v1h-1zM16 56h2v1h-2zM21 56h1v1h-1zM24 56h3v1h-3zM30 56h1v1h-1zM36 56h2v1h-2zM40 56h1v1h-1zM43 56h1v1h-1zM67 56h2v1h-2zM70 56h1v1h-1zM73 56h2v1h-2zM77 56h1v1h-1zM2 57h1v1h-1zM5 57h1v1h-1zM9 57h1v1h-1zM11 57h2v1h-2zM17 57h1v1h-1zM20 57h2v1h-2zM25 57h1v1h-1zM27 57h1v1h-1zM30 57h2v1h-2zM35 57h2v1h-2zM69 57h1v1h-1zM71 57h1v1h-1zM74 57h1v1h-1zM77 57h1v1h-1zM0 58h1v1h-1zM3 58h3v1h-3zM7 58h1v1h-1zM9 58h1v1h-1zM12 58h2v1h-2zM15 58h1v1h-1zM18 58h1v1h-1zM20 58h1v1h-1zM24 58h1v1h-1zM27 58h2v1h-2zM32 58h6v1h-6zM40 58h3v1h-3zM44 58h1v1h-1zM66 58h2v1h-2zM69 58h1v1h-1zM71 58h1v1h-1zM74 58h1v1h-1zM77 58h2v1h-2zM1 59h1v1h-1zM3 59h1v1h-1zM5 59h5v1h-5zM11 59h1v1h-1zM21 59h1v1h-1zM24 59h1v1h-1zM27 59h2v1h-2zM31 59h1v1h-1zM34 59h1v1h-1zM37 59h1v1h-1zM44 59h2v1h-2zM66 59h1v1h-1zM71 59h1v1h-1zM77 59h2v1h-2zM1 60h1v1h-1zM11 60h1v1h-1zM16 60h2v1h-2zM19 60h1v1h-1zM24 60h1v1h-1zM26 60h1v1h-1zM28 60h1v1h-1zM30 60h4v1h-4zM35 60h1v1h-1zM37 60h2v1h-2zM42 60h1v1h-1zM44 60h1v1h-1zM71 60h1v1h-1zM74 60h2v1h-2zM77 60h2v1h-2zM3 61h3v1h-3zM8 61h1v1h-1zM11 61h2v1h-2zM14 61h1v1h-1zM16 61h2v1h-2zM20 61h1v1h-1zM23 61h1v1h-1zM26 61h2v1h-2zM30 61h2v1h-2zM34 61h1v1h-1zM36 61h1v1h-1zM38 61h2v1h-2zM44 61h2v1h-2zM65 61h2v1h-2zM71 61h1v1h-1zM78 61h1v1h-1zM2 62h1v1h-1zM10 62h6v1h-6zM18 62h1v1h-1zM22 62h2v1h-2zM26 62h2v1h-2zM31 62h1v1h-1zM34 62h1v1h-1zM44 62h1v1h-1zM65 62h2v1h-2zM70 62h1v1h-1zM0 63h1v1h-1zM2 63h1v1h-1zM4 63h2v1h-2zM7 63h5v1h-5zM13 63h2v1h-2zM19 63h1v1h-1zM21 63h2v1h-2zM25 63h1v1h-1zM34 63h2v1h-2zM40 63h1v1h-1zM44 63h1v1h-1zM64 63h1v1h-1zM66 63h1v1h-1zM0 64h1v1h-1zM6 64h1v1h-1zM8 64h1v1h-1zM12 64h4v1h-4zM20 64h1v1h-1zM22 64h1v1h-1zM32 64h1v1h-1zM34 64h1v1h-1zM36 64h1v1h-1zM38 64h2v1h-2zM41 64h2v1h-2zM63 64h1v1h-1zM77 64h2v1h-2zM3 65h3v1h-3zM7 65h4v1h-4zM13 65h1v1h-1zM22 65h1v1h-1zM24 65h2v1h-2zM27 65h3v1h-3zM32 65h4v1h-4zM37 65h1v1h-1zM39 65h1v1h-1zM42 65h1v1h-1zM61 65h2v1h-2zM66 65h2v1h-2zM69 65h1v1h-1zM74 65h1v1h-1zM23 66h1v1h-1zM27 66h4v1h-4zM33 66h1v1h-1zM35 66h1v1h-1zM38 66h2v1h-2zM41 66h1v1h-1zM44 66h1v1h-1zM54 66h2v1h-2zM58 66h2v1h-2zM61 66h3v1h-3zM65 66h1v1h-1zM73 66h2v1h-2zM55 67h2v1h-2zM58 67h1v1h-1zM65 67h1v1h-1zM71 67h1v1h-1zM76 67h1v1h-1zM23 68h1v1h-1zM35 68h1v1h-1zM53 68h2v1h-2zM56 68h1v1h-1zM71 68h1v1h-1zM74 68h1v1h-1zM2 69h1v1h-1zM4 69h1v1h-1zM8 69h1v1h-1zM11 69h1v1h-1zM14 69h1v1h-1zM20 69h2v1h-2zM27 69h1v1h-1zM29 69h1v1h-1zM32 69h2v1h-2zM37 69h1v1h-1zM41 69h1v1h-1zM43 69h1v1h-1zM45 69h1v1h-1zM55 69h1v1h-1zM57 69h2v1h-2zM65 69h1v1h-1zM71 69h1v1h-1zM73 69h2v1h-2zM0 70h1v1h-1zM2 70h1v1h-1zM4 70h8v1h-8zM15 70h2v1h-2zM19 70h1v1h-1zM21 70h1v1h-1zM29 70h1v1h-1zM31 70h1v1h-1zM33 70h1v1h-1zM36 70h3v1h-3zM41 70h4v1h-4zM54 70h1v1h-1zM56 70h1v1h-1zM62 70h1v1h-1zM72 70h1v1h-1zM76 70h1v1h-1zM0 71h1v1h-1zM5 71h3v1h-3zM9 71h2v1h-2zM13 71h3v1h-3zM21 71h2v1h-2zM28 71h1v1h-1zM33 71h1v1h-1zM35 71h2v1h-2zM38 71h2v1h-2zM44 71h2v1h-2zM54 71h2v1h-2zM57 71h5v1h-5zM67 71h3v1h-3zM73 71h1v1h-1zM75 71h4v1h-4zM70 72h1v1h-1zM73 72h3v1h-3zM77 72h2v1h-2zM39 73h1v1h-1zM56 73h1v1h-1zM66 73h1v1h-1zM69 73h1v1h-1zM71 73h2v1h-2zM74 73h1v1h-1zM0 74h3v1h-3zM4 74h1v1h-1zM7 74h5v1h-5zM14 74h1v1h-1zM18 74h3v1h-3zM27 74h1v1h-1zM33 74h2v1h-2zM42 74h1v1h-1zM45 74h1v1h-1zM53 74h6v1h-6zM60 74h1v1h-1zM65 74h2v1h-2zM68 74h2v1h-2zM72 74h2v1h-2zM75 74h1v1h-1zM0 75h1v1h-1zM7 75h1v1h-1zM13 75h1v1h-1zM15 75h1v1h-1zM27 75h1v1h-1zM35 75h1v1h-1zM39 75h1v1h-1zM53 75h3v1h-3zM60 75h1v1h-1zM71 75h2v1h-2zM74 75h1v1h-1zM1 76h2v1h-2zM19 76h1v1h-1zM45 76h1v1h-1zM55 76h1v1h-1zM67 76h1v1h-1zM70 76h2v1h-2zM2 77h1v1h-1zM7 77h4v1h-4zM13 77h3v1h-3zM18 77h1v1h-1zM21 77h1v1h-1zM24 77h1v1h-1zM28 77h1v1h-1zM32 77h3v1h-3zM37 77h2v1h-2zM44 77h1v1h-1zM53 77h1v1h-1zM55 77h6v1h-6zM64 77h1v1h-1zM71 77h2v1h-2zM1 78h1v1h-1zM4 78h5v1h-5zM10 78h1v1h-1zM14 78h2v1h-2zM17 78h2v1h-2zM20 78h5v1h-5zM27 78h4v1h-4zM34 78h1v1h-1zM36 78h1v1h-1zM38 78h1v1h-1zM53 78h2v1h-2zM58 78h4v1h-4zM64 78h1v1h-1zM71 78h2v1h-2z"/>
<path fill="#e7d5cb" d="M23 0h2v1h-2zM28 0h2v1h-2zM37 0h1v1h-1zM43 0h1v1h-1zM55 0h3v1h-3zM60 0h2v1h-2zM22 1h3v1h-3zM30 1h1v1h-1zM53 1h1v1h-1zM55 1h1v1h-1zM57 1h2v1h-2zM63 1h1v1h-1zM65 1h1v1h-1zM69 1h2v1h-2zM77 1h1v1h-1zM22 2h1v1h-1zM24 2h3v1h-3zM29 2h2v1h-2zM36 2h1v1h-1zM38 2h1v1h-1zM43 2h1v1h-1zM54 2h2v1h-2zM58 2h2v1h-2zM65 2h1v1h-1zM22 3h1v1h-1zM26 3h1v1h-1zM28 3h1v1h-1zM33 3h1v1h-1zM36 3h1v1h-1zM38 3h1v1h-1zM55 3h1v1h-1zM60 3h1v1h-1zM62 3h1v1h-1zM22 4h1v1h-1zM26 4h3v1h-3zM30 4h2v1h-2zM43 4h2v1h-2zM60 4h1v1h-1zM64 4h1v1h-1zM22 5h1v1h-1zM25 5h2v1h-2zM28 5h1v1h-1zM53 5h1v1h-1zM55 5h2v1h-2zM23 6h2v1h-2zM29 6h1v1h-1zM53 6h1v1h-1zM58 6h1v1h-1zM61 6h3v1h-3zM69 6h1v1h-1zM74 6h1v1h-1zM77 6h1v1h-1zM23 7h1v1h-1zM25 7h1v1h-1zM29 7h1v1h-1zM53 7h1v1h-1zM55 7h1v1h-1zM57 7h1v1h-1zM60 7h2v1h-2zM64 7h1v1h-1zM23 8h1v1h-1zM40 8h1v1h-1zM54 8h5v1h-5zM60 8h1v1h-1zM62 8h1v1h-1zM71 8h1v1h-1zM24 9h1v1h-1zM28 9h1v1h-1zM33 9h1v1h-1zM42 9h2v1h-2zM53 9h1v1h-1zM55 9h1v1h-1zM60 9h3v1h-3zM22 10h1v1h-1zM25 10h2v1h-2zM28 10h1v1h-1zM37 10h1v1h-1zM54 10h6v1h-6zM61 10h1v1h-1zM64 10h1v1h-1zM22 11h1v1h-1zM24 11h2v1h-2zM29 11h1v1h-1zM54 11h1v1h-1zM56 11h1v1h-1zM58 11h1v1h-1zM65 11h1v1h-1zM22 12h1v1h-1zM25 12h2v1h-2zM30 12h1v1h-1zM36 12h1v1h-1zM41 12h1v1h-1zM43 12h1v1h-1zM60 12h1v1h-1zM23 13h1v1h-1zM28 13h1v1h-1zM43 13h1v1h-1zM59 13h3v1h-3zM70 13h1v1h-1zM74 13h1v1h-1zM78 13h1v1h-1zM23 14h2v1h-2zM53 14h6v1h-6zM60 14h1v1h-1zM65 14h1v1h-1zM70 14h1v1h-1zM23 15h3v1h-3zM27 15h2v1h-2zM37 15h1v1h-1zM54 15h3v1h-3zM61 15h1v1h-1zM65 15h1v1h-1zM22 16h3v1h-3zM29 16h1v1h-1zM32 16h1v1h-1zM37 16h1v1h-1zM40 16h2v1h-2zM43 16h1v1h-1zM45 16h1v1h-1zM55 16h1v1h-1zM78 16h1v1h-1zM22 17h1v1h-1zM24 17h1v1h-1zM28 17h1v1h-1zM30 17h2v1h-2zM43 17h2v1h-2zM58 17h1v1h-1zM22 18h1v1h-1zM24 18h2v1h-2zM31 18h1v1h-1zM36 18h1v1h-1zM38 18h1v1h-1zM41 18h3v1h-3zM53 18h1v1h-1zM55 18h2v1h-2zM65 18h1v1h-1zM25 19h1v1h-1zM30 19h1v1h-1zM32 19h1v1h-1zM34 19h1v1h-1zM40 19h1v1h-1zM44 19h1v1h-1zM56 19h1v1h-1zM58 19h1v1h-1zM65 19h1v1h-1zM69 19h1v1h-1zM77 19h1v1h-1zM22 20h1v1h-1zM24 20h1v1h-1zM28 20h1v1h-1zM33 20h1v1h-1zM38 20h1v1h-1zM43 20h1v1h-1zM53 20h3v1h-3zM62 20h2v1h-2zM70 20h1v1h-1zM22 21h1v1h-1zM24 21h1v1h-1zM26 21h1v1h-1zM31 21h1v1h-1zM43 21h1v1h-1zM53 21h3v1h-3zM58 21h1v1h-1zM65 21h1v1h-1zM1 22h5v1h-5zM10 22h3v1h-3zM16 22h3v1h-3zM20 22h2v1h-2zM24 22h1v1h-1zM29 22h1v1h-1zM34 22h2v1h-2zM39 22h1v1h-1zM45 22h1v1h-1zM55 22h3v1h-3zM60 22h1v1h-1zM0 23h2v1h-2zM6 23h3v1h-3zM13 23h4v1h-4zM29 23h1v1h-1zM34 23h1v1h-1zM55 23h2v1h-2zM0 24h3v1h-3zM6 24h1v1h-1zM9 24h1v1h-1zM11 24h1v1h-1zM14 24h5v1h-5zM20 24h3v1h-3zM25 24h1v1h-1zM27 24h4v1h-4zM35 24h1v1h-1zM39 24h1v1h-1zM53 24h1v1h-1zM55 24h1v1h-1zM2 25h1v1h-1zM5 25h1v1h-1zM7 25h1v1h-1zM10 25h3v1h-3zM15 25h1v1h-1zM18 25h2v1h-2zM24 25h1v1h-1zM26 25h1v1h-1zM28 25h2v1h-2zM39 25h1v1h-1zM41 25h1v1h-1zM44 25h2v1h-2zM2 26h4v1h-4zM10 26h1v1h-1zM12 26h1v1h-1zM21 26h1v1h-1zM25 26h1v1h-1zM27 26h1v1h-1zM40 26h1v1h-1zM45 26h1v1h-1zM4 27h1v1h-1zM15 27h1v1h-1zM24 27h1v1h-1zM26 27h1v1h-1zM33 27h1v1h-1zM35 27h1v1h-1zM38 27h2v1h-2zM42 27h1v1h-1zM44 27h2v1h-2zM54 27h3v1h-3zM60 27h1v1h-1zM0 28h1v1h-1zM3 28h3v1h-3zM9 28h2v1h-2zM13 28h1v1h-1zM15 28h1v1h-1zM17 28h1v1h-1zM20 28h1v1h-1zM24 28h2v1h-2zM29 28h1v1h-1zM42 28h1v1h-1zM45 28h1v1h-1zM56 28h1v1h-1zM0 29h1v1h-1zM2 29h1v1h-1zM6 29h2v1h-2zM11 29h1v1h-1zM16 29h1v1h-1zM22 29h4v1h-4zM28 29h1v1h-1zM37 29h1v1h-1zM39 29h1v1h-1zM42 29h1v1h-1zM44 29h2v1h-2zM55 29h2v1h-2zM58 29h1v1h-1zM60 29h1v1h-1zM62 29h1v1h-1zM1 30h2v1h-2zM4 30h1v1h-1zM12 30h1v1h-1zM17 30h1v1h-1zM19 30h1v1h-1zM24 30h1v1h-1zM31 30h1v1h-1zM36 30h1v1h-1zM38 30h1v1h-1zM43 30h1v1h-1zM45 30h1v1h-1zM53 30h2v1h-2zM4 31h1v1h-1zM17 31h2v1h-2zM21 31h1v1h-1zM30 31h1v1h-1zM38 31h1v1h-1zM40 31h1v1h-1zM42 31h1v1h-1zM44 31h1v1h-1zM56 31h1v1h-1zM16 32h1v1h-1zM19 32h1v1h-1zM39 32h1v1h-1zM44 32h1v1h-1zM57 32h1v1h-1zM61 32h1v1h-1zM3 33h1v1h-1zM9 33h1v1h-1zM20 33h1v1h-1zM27 33h1v1h-1zM43 33h2v1h-2zM57 33h1v1h-1zM64 33h1v1h-1zM78 33h1v1h-1zM19 34h1v1h-1zM22 34h2v1h-2zM41 34h1v1h-1zM53 34h4v1h-4zM60 34h1v1h-1zM70 34h1v1h-1zM22 35h1v1h-1zM24 35h1v1h-1zM27 35h1v1h-1zM37 35h2v1h-2zM41 35h3v1h-3zM45 35h1v1h-1zM53 35h2v1h-2zM56 35h1v1h-1zM61 35h1v1h-1zM78 35h1v1h-1zM2 36h2v1h-2zM12 36h1v1h-1zM18 36h1v1h-1zM30 36h1v1h-1zM37 36h1v1h-1zM40 36h1v1h-1zM43 36h2v1h-2zM60 36h1v1h-1zM0 37h1v1h-1zM10 37h1v1h-1zM15 37h2v1h-2zM29 37h1v1h-1zM35 37h2v1h-2zM42 37h2v1h-2zM2 38h2v1h-2zM18 38h1v1h-1zM20 38h1v1h-1zM27 38h1v1h-1zM30 38h2v1h-2zM35 38h1v1h-1zM44 38h2v1h-2zM57 38h1v1h-1zM22 39h1v1h-1zM24 39h2v1h-2zM27 39h1v1h-1zM29 39h1v1h-1zM32 39h1v1h-1zM55 39h4v1h-4zM60 39h1v1h-1zM63 39h1v1h-1zM70 39h1v1h-1zM77 39h2v1h-2zM8 40h1v1h-1zM16 40h1v1h-1zM19 40h1v1h-1zM26 40h1v1h-1zM31 40h1v1h-1zM36 40h1v1h-1zM44 40h1v1h-1zM57 40h1v1h-1zM12 41h1v1h-1zM16 41h1v1h-1zM18 41h1v1h-1zM25 41h1v1h-1zM34 41h2v1h-2zM43 41h2v1h-2zM54 41h1v1h-1zM57 41h1v1h-1zM60 41h1v1h-1zM65 41h1v1h-1zM77 41h1v1h-1zM9 42h1v1h-1zM18 42h1v1h-1zM27 42h3v1h-3zM31 42h1v1h-1zM35 42h1v1h-1zM37 42h1v1h-1zM43 42h1v1h-1zM77 42h2v1h-2zM0 43h1v1h-1zM2 43h1v1h-1zM4 43h1v1h-1zM9 43h1v1h-1zM12 43h2v1h-2zM16 43h3v1h-3zM20 43h2v1h-2zM30 43h1v1h-1zM33 43h1v1h-1zM35 43h3v1h-3zM41 43h2v1h-2zM44 43h2v1h-2zM4 44h1v1h-1zM17 44h1v1h-1zM19 44h1v1h-1zM25 44h1v1h-1zM27 44h1v1h-1zM29 44h1v1h-1zM31 44h3v1h-3zM36 44h1v1h-1zM38 44h1v1h-1zM40 44h2v1h-2zM43 44h1v1h-1zM53 44h2v1h-2zM56 44h2v1h-2zM16 45h1v1h-1zM22 45h1v1h-1zM25 45h6v1h-6zM35 45h1v1h-1zM38 45h1v1h-1zM43 45h1v1h-1zM53 45h6v1h-6zM60 45h1v1h-1zM62 45h1v1h-1zM64 45h1v1h-1zM70 45h1v1h-1zM77 45h1v1h-1zM1 53h1v1h-1zM5 53h3v1h-3zM9 53h1v1h-1zM14 53h1v1h-1zM18 53h1v1h-1zM20 53h2v1h-2zM24 53h1v1h-1zM30 53h1v1h-1zM34 53h2v1h-2zM44 53h2v1h-2zM66 53h1v1h-1zM70 53h1v1h-1zM2 54h1v1h-1zM8 54h1v1h-1zM10 54h2v1h-2zM14 54h2v1h-2zM20 54h2v1h-2zM27 54h1v1h-1zM30 54h1v1h-1zM34 54h2v1h-2zM41 54h1v1h-1zM44 54h2v1h-2zM0 55h4v1h-4zM5 55h1v1h-1zM7 55h4v1h-4zM14 55h3v1h-3zM18 55h1v1h-1zM20 55h5v1h-5zM27 55h1v1h-1zM29 55h1v1h-1zM34 55h1v1h-1zM39 55h1v1h-1zM45 55h1v1h-1zM62 55h1v1h-1zM64 55h1v1h-1zM68 55h1v1h-1zM70 55h1v1h-1zM0 56h1v1h-1zM5 56h1v1h-1zM8 56h1v1h-1zM10 56h2v1h-2zM14 56h2v1h-2zM18 56h2v1h-2zM22 56h2v1h-2zM27 56h3v1h-3zM31 56h1v1h-1zM34 56h2v1h-2zM39 56h1v1h-1zM44 56h2v1h-2zM59 56h1v1h-1zM64 56h1v1h-1zM66 56h1v1h-1zM71 56h1v1h-1zM76 56h1v1h-1zM78 56h1v1h-1zM0 57h2v1h-2zM7 57h2v1h-2zM10 57h1v1h-1zM14 57h1v1h-1zM22 57h1v1h-1zM32 57h2v1h-2zM38 57h4v1h-4zM44 57h2v1h-2zM59 57h1v1h-1zM63 57h1v1h-1zM65 57h1v1h-1zM1 58h2v1h-2zM6 58h1v1h-1zM8 58h1v1h-1zM10 58h2v1h-2zM14 58h1v1h-1zM17 58h1v1h-1zM19 58h1v1h-1zM21 58h1v1h-1zM29 58h1v1h-1zM39 58h1v1h-1zM45 58h1v1h-1zM61 58h2v1h-2zM64 58h1v1h-1zM70 58h1v1h-1zM2 59h1v1h-1zM10 59h1v1h-1zM13 59h1v1h-1zM56 59h2v1h-2zM61 59h2v1h-2zM64 59h2v1h-2zM0 60h1v1h-1zM3 60h2v1h-2zM7 60h3v1h-3zM12 60h3v1h-3zM22 60h1v1h-1zM27 60h1v1h-1zM29 60h1v1h-1zM34 60h1v1h-1zM36 60h1v1h-1zM39 60h1v1h-1zM41 60h1v1h-1zM45 60h1v1h-1zM63 60h1v1h-1zM65 60h1v1h-1zM70 60h1v1h-1zM0 61h1v1h-1zM6 61h2v1h-2zM9 61h2v1h-2zM13 61h1v1h-1zM15 61h1v1h-1zM32 61h1v1h-1zM35 61h1v1h-1zM58 61h2v1h-2zM63 61h1v1h-1zM3 62h1v1h-1zM6 62h1v1h-1zM8 62h2v1h-2zM20 62h1v1h-1zM29 62h1v1h-1zM45 62h1v1h-1zM55 62h1v1h-1zM58 62h2v1h-2zM63 62h2v1h-2zM1 63h1v1h-1zM6 63h1v1h-1zM20 63h1v1h-1zM39 63h1v1h-1zM57 63h1v1h-1zM60 63h3v1h-3zM4 64h1v1h-1zM7 64h1v1h-1zM10 64h1v1h-1zM33 64h1v1h-1zM45 64h1v1h-1zM55 64h2v1h-2zM58 64h2v1h-2zM62 64h1v1h-1zM65 64h1v1h-1zM1 65h2v1h-2zM11 65h1v1h-1zM14 65h2v1h-2zM18 65h2v1h-2zM21 65h1v1h-1zM41 65h1v1h-1zM57 65h1v1h-1zM59 65h2v1h-2zM64 65h1v1h-1zM70 65h1v1h-1zM53 66h1v1h-1zM56 66h1v1h-1zM71 66h1v1h-1zM75 66h2v1h-2zM78 66h1v1h-1zM78 67h1v1h-1zM55 68h1v1h-1zM78 68h1v1h-1zM1 69h1v1h-1zM6 69h1v1h-1zM19 69h1v1h-1zM76 69h1v1h-1zM78 69h1v1h-1zM1 70h1v1h-1zM13 70h2v1h-2zM20 70h1v1h-1zM34 70h1v1h-1zM39 70h1v1h-1zM45 70h1v1h-1zM53 70h1v1h-1zM55 70h1v1h-1zM58 70h1v1h-1zM60 70h1v1h-1zM65 70h1v1h-1zM71 70h1v1h-1zM74 70h2v1h-2zM77 70h1v1h-1zM8 71h1v1h-1zM56 71h1v1h-1zM66 71h1v1h-1zM70 71h1v1h-1zM72 71h1v1h-1zM74 71h1v1h-1zM71 72h1v1h-1zM76 72h1v1h-1zM75 73h4v1h-4zM6 74h1v1h-1zM13 74h1v1h-1zM70 74h2v1h-2zM76 74h3v1h-3zM66 75h1v1h-1zM70 75h1v1h-1zM73 75h1v1h-1zM76 75h3v1h-3zM56 76h1v1h-1zM66 76h1v1h-1zM69 76h1v1h-1zM72 76h4v1h-4zM77 76h2v1h-2zM1 77h1v1h-1zM6 77h1v1h-1zM19 77h1v1h-1zM39 77h1v1h-1zM41 77h2v1h-2zM45 77h1v1h-1zM70 77h1v1h-1zM73 77h4v1h-4zM78 77h1v1h-1zM13 78h1v1h-1zM16 78h1v1h-1zM33 78h1v1h-1zM35 78h1v1h-1zM39 78h1v1h-1zM42 78h1v1h-1zM56 78h1v1h-1zM66 78h4v1h-4zM73 78h5v1h-5z"/>
<path fill="#edcbb9" d="M22 0h1v1h-1zM25 0h3v1h-3zM30 0h2v1h-2zM38 0h1v1h-1zM40 0h3v1h-3zM45 0h1v1h-1zM54 0h1v1h-1zM25 1h1v1h-1zM27 1h1v1h-1zM29 1h1v1h-1zM31 1h2v1h-2zM35 1h2v1h-2zM38 1h1v1h-1zM40 1h1v1h-1zM43 1h1v1h-1zM54 1h1v1h-1zM56 1h1v1h-1zM27 2h2v1h-2zM31 2h5v1h-5zM40 2h1v1h-1zM42 2h1v1h-1zM56 2h1v1h-1zM66 2h1v1h-1zM23 3h1v1h-1zM25 3h1v1h-1zM27 3h1v1h-1zM29 3h2v1h-2zM35 3h1v1h-1zM37 3h1v1h-1zM40 3h3v1h-3zM44 3h1v1h-1zM56 3h1v1h-1zM29 4h1v1h-1zM35 4h2v1h-2zM45 4h1v1h-1zM57 4h1v1h-1zM24 5h1v1h-1zM27 5h1v1h-1zM29 5h5v1h-5zM37 5h2v1h-2zM41 5h1v1h-1zM43 5h1v1h-1zM45 5h1v1h-1zM22 6h1v1h-1zM25 6h1v1h-1zM27 6h2v1h-2zM30 6h1v1h-1zM37 6h1v1h-1zM43 6h1v1h-1zM54 6h1v1h-1zM56 6h2v1h-2zM60 6h1v1h-1zM22 7h1v1h-1zM26 7h3v1h-3zM31 7h1v1h-1zM36 7h2v1h-2zM43 7h1v1h-1zM22 8h1v1h-1zM24 8h1v1h-1zM27 8h3v1h-3zM31 8h1v1h-1zM35 8h1v1h-1zM37 8h1v1h-1zM44 8h1v1h-1zM53 8h1v1h-1zM22 9h2v1h-2zM25 9h2v1h-2zM29 9h1v1h-1zM31 9h2v1h-2zM37 9h2v1h-2zM41 9h1v1h-1zM54 9h1v1h-1zM56 9h1v1h-1zM23 10h2v1h-2zM29 10h1v1h-1zM38 10h1v1h-1zM40 10h2v1h-2zM43 10h1v1h-1zM45 10h1v1h-1zM60 10h1v1h-1zM26 11h3v1h-3zM30 11h2v1h-2zM33 11h1v1h-1zM36 11h2v1h-2zM41 11h1v1h-1zM43 11h2v1h-2zM27 12h1v1h-1zM32 12h3v1h-3zM38 12h1v1h-1zM40 12h1v1h-1zM42 12h1v1h-1zM44 12h2v1h-2zM22 13h1v1h-1zM24 13h3v1h-3zM29 13h1v1h-1zM31 13h1v1h-1zM33 13h1v1h-1zM37 13h2v1h-2zM41 13h1v1h-1zM53 13h5v1h-5zM67 13h2v1h-2zM22 14h1v1h-1zM25 14h4v1h-4zM32 14h2v1h-2zM37 14h1v1h-1zM40 14h1v1h-1zM43 14h2v1h-2zM26 15h1v1h-1zM36 15h1v1h-1zM41 15h4v1h-4zM57 15h1v1h-1zM60 15h1v1h-1zM18 16h1v1h-1zM21 16h1v1h-1zM27 16h1v1h-1zM30 16h2v1h-2zM34 16h3v1h-3zM38 16h2v1h-2zM44 16h1v1h-1zM27 17h1v1h-1zM32 17h7v1h-7zM40 17h3v1h-3zM45 17h1v1h-1zM16 18h1v1h-1zM23 18h1v1h-1zM28 18h3v1h-3zM32 18h4v1h-4zM37 18h1v1h-1zM39 18h2v1h-2zM24 19h1v1h-1zM27 19h3v1h-3zM31 19h1v1h-1zM35 19h2v1h-2zM38 19h1v1h-1zM43 19h1v1h-1zM66 19h1v1h-1zM23 20h1v1h-1zM25 20h3v1h-3zM30 20h1v1h-1zM32 20h1v1h-1zM36 20h2v1h-2zM39 20h4v1h-4zM56 20h1v1h-1zM60 20h1v1h-1zM68 20h1v1h-1zM16 21h1v1h-1zM25 21h1v1h-1zM27 21h1v1h-1zM29 21h2v1h-2zM32 21h1v1h-1zM35 21h1v1h-1zM40 21h1v1h-1zM0 22h1v1h-1zM6 22h4v1h-4zM13 22h2v1h-2zM27 22h1v1h-1zM3 23h1v1h-1zM9 23h2v1h-2zM18 23h1v1h-1zM20 23h1v1h-1zM27 23h1v1h-1zM5 24h1v1h-1zM8 24h1v1h-1zM10 24h1v1h-1zM13 24h1v1h-1zM19 24h1v1h-1zM0 25h2v1h-2zM3 25h1v1h-1zM6 25h1v1h-1zM9 25h1v1h-1zM13 25h2v1h-2zM20 25h2v1h-2zM27 25h1v1h-1zM34 25h1v1h-1zM0 26h1v1h-1zM7 26h1v1h-1zM9 26h1v1h-1zM11 26h1v1h-1zM13 26h3v1h-3zM20 26h1v1h-1zM0 27h4v1h-4zM5 27h4v1h-4zM11 27h2v1h-2zM14 27h1v1h-1zM16 27h2v1h-2zM19 27h5v1h-5zM25 27h1v1h-1zM28 27h2v1h-2zM34 27h1v1h-1zM53 27h1v1h-1zM2 28h1v1h-1zM6 28h3v1h-3zM11 28h1v1h-1zM14 28h1v1h-1zM18 28h2v1h-2zM27 28h1v1h-1zM41 28h1v1h-1zM1 29h1v1h-1zM3 29h3v1h-3zM8 29h3v1h-3zM13 29h1v1h-1zM18 29h2v1h-2zM21 29h1v1h-1zM27 29h1v1h-1zM0 30h1v1h-1zM3 30h1v1h-1zM5 30h2v1h-2zM11 30h1v1h-1zM16 30h1v1h-1zM18 30h1v1h-1zM20 30h2v1h-2zM32 30h1v1h-1zM35 30h1v1h-1zM40 30h1v1h-1zM42 30h1v1h-1zM44 30h1v1h-1zM55 30h1v1h-1zM0 31h3v1h-3zM5 31h1v1h-1zM7 31h3v1h-3zM11 31h1v1h-1zM13 31h1v1h-1zM16 31h1v1h-1zM19 31h1v1h-1zM39 31h1v1h-1zM45 31h1v1h-1zM1 32h2v1h-2zM5 32h1v1h-1zM9 32h1v1h-1zM12 32h1v1h-1zM14 32h1v1h-1zM17 32h2v1h-2zM20 32h2v1h-2zM30 32h1v1h-1zM38 32h1v1h-1zM40 32h1v1h-1zM42 32h1v1h-1zM45 32h1v1h-1zM2 33h1v1h-1zM5 33h1v1h-1zM11 33h4v1h-4zM17 33h2v1h-2zM38 33h4v1h-4zM2 34h1v1h-1zM12 34h1v1h-1zM16 34h3v1h-3zM25 34h1v1h-1zM27 34h1v1h-1zM38 34h2v1h-2zM42 34h1v1h-1zM44 34h2v1h-2zM1 35h4v1h-4zM8 35h1v1h-1zM16 35h4v1h-4zM21 35h1v1h-1zM30 35h1v1h-1zM40 35h1v1h-1zM55 35h1v1h-1zM1 36h1v1h-1zM4 36h1v1h-1zM7 36h1v1h-1zM11 36h1v1h-1zM15 36h3v1h-3zM19 36h2v1h-2zM38 36h2v1h-2zM41 36h2v1h-2zM45 36h1v1h-1zM3 37h1v1h-1zM5 37h5v1h-5zM11 37h1v1h-1zM13 37h2v1h-2zM17 37h2v1h-2zM20 37h1v1h-1zM39 37h1v1h-1zM44 37h2v1h-2zM0 38h2v1h-2zM5 38h1v1h-1zM9 38h2v1h-2zM12 38h2v1h-2zM16 38h2v1h-2zM19 38h1v1h-1zM32 38h3v1h-3zM36 38h1v1h-1zM39 38h1v1h-1zM41 38h1v1h-1zM16 39h1v1h-1zM18 39h1v1h-1zM20 39h1v1h-1zM31 39h1v1h-1zM33 39h2v1h-2zM36 39h3v1h-3zM40 39h2v1h-2zM43 39h2v1h-2zM0 40h4v1h-4zM10 40h1v1h-1zM12 40h1v1h-1zM14 40h1v1h-1zM17 40h2v1h-2zM20 40h2v1h-2zM30 40h1v1h-1zM32 40h2v1h-2zM35 40h1v1h-1zM39 40h1v1h-1zM41 40h2v1h-2zM45 40h1v1h-1zM0 41h1v1h-1zM3 41h1v1h-1zM5 41h1v1h-1zM9 41h3v1h-3zM13 41h1v1h-1zM15 41h1v1h-1zM17 41h1v1h-1zM20 41h1v1h-1zM28 41h1v1h-1zM33 41h1v1h-1zM36 41h1v1h-1zM38 41h3v1h-3zM42 41h1v1h-1zM0 42h1v1h-1zM2 42h2v1h-2zM12 42h1v1h-1zM15 42h1v1h-1zM17 42h1v1h-1zM20 42h1v1h-1zM30 42h1v1h-1zM32 42h1v1h-1zM34 42h1v1h-1zM36 42h1v1h-1zM40 42h2v1h-2zM45 42h1v1h-1zM1 43h1v1h-1zM5 43h3v1h-3zM10 43h2v1h-2zM14 43h2v1h-2zM19 43h1v1h-1zM39 43h1v1h-1zM3 44h1v1h-1zM8 44h1v1h-1zM11 44h2v1h-2zM14 44h3v1h-3zM30 44h1v1h-1zM34 44h1v1h-1zM37 44h1v1h-1zM39 44h1v1h-1zM0 45h1v1h-1zM4 45h2v1h-2zM10 45h1v1h-1zM12 45h1v1h-1zM17 45h1v1h-1zM31 45h2v1h-2zM34 45h1v1h-1zM36 45h2v1h-2zM40 45h1v1h-1zM42 45h1v1h-1zM47 46h1v1h-1zM46 47h1v1h-1zM51 47h1v1h-1zM47 51h1v1h-1zM8 53h1v1h-1zM13 53h1v1h-1zM27 53h1v1h-1zM59 53h2v1h-2zM62 53h3v1h-3zM71 53h1v1h-1zM0 54h2v1h-2zM6 54h1v1h-1zM9 54h1v1h-1zM13 54h1v1h-1zM59 54h7v1h-7zM13 55h1v1h-1zM30 55h1v1h-1zM35 55h1v1h-1zM60 55h2v1h-2zM63 55h1v1h-1zM78 55h1v1h-1zM1 56h3v1h-3zM6 56h1v1h-1zM9 56h1v1h-1zM13 56h1v1h-1zM20 56h1v1h-1zM58 56h1v1h-1zM63 56h1v1h-1zM65 56h1v1h-1zM4 57h1v1h-1zM6 57h1v1h-1zM13 57h1v1h-1zM15 57h1v1h-1zM58 57h1v1h-1zM62 57h1v1h-1zM56 58h2v1h-2zM59 58h2v1h-2zM63 58h1v1h-1zM53 59h2v1h-2zM58 59h1v1h-1zM60 59h1v1h-1zM63 59h1v1h-1zM6 60h1v1h-1zM10 60h1v1h-1zM15 60h1v1h-1zM20 60h1v1h-1zM53 60h3v1h-3zM58 60h2v1h-2zM62 60h1v1h-1zM64 60h1v1h-1zM54 61h2v1h-2zM62 61h1v1h-1zM53 62h2v1h-2zM57 62h1v1h-1zM60 62h2v1h-2zM53 63h4v1h-4zM58 63h2v1h-2zM65 63h1v1h-1zM53 64h2v1h-2zM60 64h1v1h-1zM54 65h1v1h-1zM56 65h1v1h-1zM63 65h1v1h-1zM78 65h1v1h-1zM2 66h1v1h-1zM19 66h1v1h-1zM77 66h1v1h-1zM13 67h1v1h-1zM13 68h1v1h-1zM20 68h1v1h-1zM77 69h1v1h-1zM53 71h1v1h-1zM66 77h1v1h-1zM69 77h1v1h-1zM55 78h1v1h-1zM65 78h1v1h-1z"/>
<path fill="#f0bda6" d="M16 0h1v1h-1zM32 0h2v1h-2zM35 0h2v1h-2zM39 0h1v1h-1zM44 0h1v1h-1zM66 0h3v1h-3zM12 1h1v1h-1zM16 1h1v1h-1zM28 1h1v1h-1zM33 1h2v1h-2zM37 1h1v1h-1zM39 1h1v1h-1zM41 1h2v1h-2zM44 1h1v1h-1zM66 1h2v1h-2zM12 2h1v1h-1zM16 2h1v1h-1zM37 2h1v1h-1zM39 2h1v1h-1zM44 2h2v1h-2zM67 2h2v1h-2zM4 3h1v1h-1zM12 3h1v1h-1zM17 3h1v1h-1zM21 3h1v1h-1zM31 3h1v1h-1zM34 3h1v1h-1zM39 3h1v1h-1zM43 3h1v1h-1zM45 3h1v1h-1zM66 3h3v1h-3zM3 4h1v1h-1zM9 4h1v1h-1zM16 4h1v1h-1zM18 4h1v1h-1zM20 4h1v1h-1zM32 4h3v1h-3zM38 4h3v1h-3zM42 4h1v1h-1zM66 4h3v1h-3zM16 5h1v1h-1zM34 5h3v1h-3zM39 5h2v1h-2zM42 5h1v1h-1zM44 5h1v1h-1zM66 5h3v1h-3zM26 6h1v1h-1zM31 6h1v1h-1zM33 6h1v1h-1zM35 6h2v1h-2zM38 6h1v1h-1zM40 6h3v1h-3zM44 6h1v1h-1zM66 6h1v1h-1zM68 6h1v1h-1zM16 7h1v1h-1zM21 7h1v1h-1zM24 7h1v1h-1zM30 7h1v1h-1zM32 7h4v1h-4zM38 7h5v1h-5zM44 7h2v1h-2zM66 7h3v1h-3zM21 8h1v1h-1zM25 8h1v1h-1zM30 8h1v1h-1zM32 8h1v1h-1zM34 8h1v1h-1zM36 8h1v1h-1zM38 8h2v1h-2zM41 8h1v1h-1zM43 8h1v1h-1zM66 8h3v1h-3zM4 9h1v1h-1zM12 9h1v1h-1zM17 9h1v1h-1zM19 9h1v1h-1zM27 9h1v1h-1zM34 9h1v1h-1zM36 9h1v1h-1zM40 9h1v1h-1zM44 9h1v1h-1zM66 9h2v1h-2zM12 10h1v1h-1zM19 10h1v1h-1zM27 10h1v1h-1zM31 10h6v1h-6zM42 10h1v1h-1zM44 10h1v1h-1zM66 10h3v1h-3zM16 11h1v1h-1zM32 11h1v1h-1zM34 11h2v1h-2zM38 11h3v1h-3zM42 11h1v1h-1zM66 11h3v1h-3zM1 12h3v1h-3zM9 12h2v1h-2zM16 12h4v1h-4zM35 12h1v1h-1zM39 12h1v1h-1zM66 12h3v1h-3zM27 13h1v1h-1zM30 13h1v1h-1zM32 13h1v1h-1zM36 13h1v1h-1zM39 13h2v1h-2zM42 13h1v1h-1zM44 13h2v1h-2zM66 13h1v1h-1zM29 14h3v1h-3zM34 14h2v1h-2zM38 14h2v1h-2zM41 14h2v1h-2zM66 14h3v1h-3zM22 15h1v1h-1zM30 15h5v1h-5zM38 15h3v1h-3zM45 15h1v1h-1zM66 15h3v1h-3zM0 16h3v1h-3zM4 16h2v1h-2zM7 16h1v1h-1zM11 16h2v1h-2zM33 16h1v1h-1zM42 16h1v1h-1zM66 16h3v1h-3zM3 17h1v1h-1zM9 17h1v1h-1zM12 17h1v1h-1zM18 17h3v1h-3zM39 17h1v1h-1zM66 17h2v1h-2zM4 18h1v1h-1zM12 18h1v1h-1zM17 18h1v1h-1zM27 18h1v1h-1zM44 18h2v1h-2zM66 18h3v1h-3zM9 19h2v1h-2zM12 19h1v1h-1zM17 19h1v1h-1zM33 19h1v1h-1zM37 19h1v1h-1zM39 19h1v1h-1zM42 19h1v1h-1zM45 19h1v1h-1zM67 19h2v1h-2zM4 20h1v1h-1zM17 20h1v1h-1zM29 20h1v1h-1zM31 20h1v1h-1zM34 20h2v1h-2zM44 20h2v1h-2zM66 20h2v1h-2zM3 21h1v1h-1zM7 21h2v1h-2zM28 21h1v1h-1zM33 21h2v1h-2zM36 21h1v1h-1zM38 21h1v1h-1zM42 21h1v1h-1zM44 21h2v1h-2zM66 21h3v1h-3zM15 22h1v1h-1zM7 24h1v1h-1zM8 25h1v1h-1zM6 26h1v1h-1zM9 27h2v1h-2zM13 27h1v1h-1zM18 27h1v1h-1zM1 28h1v1h-1zM21 28h1v1h-1zM14 29h1v1h-1zM20 29h1v1h-1zM7 30h2v1h-2zM13 30h3v1h-3zM34 30h1v1h-1zM39 30h1v1h-1zM3 31h1v1h-1zM6 31h1v1h-1zM10 31h1v1h-1zM14 31h2v1h-2zM20 31h1v1h-1zM0 32h1v1h-1zM4 32h1v1h-1zM7 32h2v1h-2zM10 32h2v1h-2zM13 32h1v1h-1zM15 32h1v1h-1zM41 32h1v1h-1zM0 33h2v1h-2zM4 33h1v1h-1zM6 33h2v1h-2zM10 33h1v1h-1zM15 33h2v1h-2zM19 33h1v1h-1zM21 33h1v1h-1zM42 33h1v1h-1zM45 33h1v1h-1zM1 34h1v1h-1zM3 34h3v1h-3zM7 34h5v1h-5zM14 34h2v1h-2zM20 34h2v1h-2zM30 34h1v1h-1zM40 34h1v1h-1zM0 35h1v1h-1zM5 35h3v1h-3zM10 35h3v1h-3zM14 35h1v1h-1zM20 35h1v1h-1zM39 35h1v1h-1zM44 35h1v1h-1zM0 36h1v1h-1zM5 36h2v1h-2zM8 36h3v1h-3zM13 36h1v1h-1zM21 36h1v1h-1zM1 37h2v1h-2zM19 37h1v1h-1zM41 37h1v1h-1zM4 38h1v1h-1zM6 38h3v1h-3zM11 38h1v1h-1zM14 38h2v1h-2zM21 38h1v1h-1zM42 38h1v1h-1zM0 39h6v1h-6zM7 39h2v1h-2zM11 39h5v1h-5zM17 39h1v1h-1zM19 39h1v1h-1zM30 39h1v1h-1zM35 39h1v1h-1zM42 39h1v1h-1zM45 39h1v1h-1zM4 40h4v1h-4zM9 40h1v1h-1zM11 40h1v1h-1zM13 40h1v1h-1zM15 40h1v1h-1zM34 40h1v1h-1zM1 41h1v1h-1zM6 41h3v1h-3zM14 41h1v1h-1zM32 41h1v1h-1zM37 41h1v1h-1zM45 41h1v1h-1zM1 42h1v1h-1zM4 42h4v1h-4zM10 42h2v1h-2zM13 42h2v1h-2zM16 42h1v1h-1zM19 42h1v1h-1zM21 42h1v1h-1zM33 42h1v1h-1zM38 42h2v1h-2zM3 43h1v1h-1zM8 43h1v1h-1zM0 44h3v1h-3zM5 44h3v1h-3zM9 44h2v1h-2zM13 44h1v1h-1zM18 44h1v1h-1zM20 44h2v1h-2zM35 44h1v1h-1zM45 44h1v1h-1zM2 45h2v1h-2zM7 45h1v1h-1zM13 45h1v1h-1zM15 45h1v1h-1zM18 45h4v1h-4zM33 45h1v1h-1zM39 45h1v1h-1zM41 45h1v1h-1zM44 45h1v1h-1zM49 46h2v1h-2zM48 47h2v1h-2zM52 47h1v1h-1zM47 48h1v1h-1zM46 49h2v1h-2zM46 50h1v1h-1zM47 52h1v1h-1zM54 53h5v1h-5zM61 53h1v1h-1zM65 53h1v1h-1zM53 54h1v1h-1zM58 54h1v1h-1zM53 55h1v1h-1zM58 55h2v1h-2zM53 56h1v1h-1zM60 56h2v1h-2zM53 57h1v1h-1zM60 57h2v1h-2zM64 57h1v1h-1zM53 58h3v1h-3zM55 59h1v1h-1zM56 60h2v1h-2zM53 61h1v1h-1zM56 61h2v1h-2zM64 61h1v1h-1zM57 64h1v1h-1zM61 64h1v1h-1zM53 65h1v1h-1zM0 66h2v1h-2zM3 66h16v1h-16zM20 66h2v1h-2zM0 67h6v1h-6zM7 67h6v1h-6zM14 67h8v1h-8zM0 68h1v1h-1zM2 68h7v1h-7zM10 68h3v1h-3zM14 68h3v1h-3zM18 68h2v1h-2zM21 68h1v1h-1zM78 70h1v1h-1zM70 78h1v1h-1z"/>
<path fill="#efad93" d="M3 0h3v1h-3zM12 0h1v1h-1zM17 0h4v1h-4zM34 0h1v1h-1zM3 1h2v1h-2zM6 1h2v1h-2zM9 1h2v1h-2zM15 1h1v1h-1zM17 1h2v1h-2zM68 1h1v1h-1zM3 2h2v1h-2zM6 2h5v1h-5zM13 2h1v1h-1zM15 2h1v1h-1zM17 2h1v1h-1zM41 2h1v1h-1zM0 3h3v1h-3zM5 3h3v1h-3zM10 3h1v1h-1zM15 3h2v1h-2zM19 3h1v1h-1zM0 4h3v1h-3zM5 4h1v1h-1zM10 4h3v1h-3zM14 4h1v1h-1zM17 4h1v1h-1zM21 4h1v1h-1zM41 4h1v1h-1zM0 5h1v1h-1zM3 5h2v1h-2zM9 5h1v1h-1zM11 5h2v1h-2zM17 5h3v1h-3zM1 6h3v1h-3zM16 6h1v1h-1zM18 6h1v1h-1zM32 6h1v1h-1zM34 6h1v1h-1zM39 6h1v1h-1zM45 6h1v1h-1zM67 6h1v1h-1zM1 7h3v1h-3zM9 7h1v1h-1zM12 7h1v1h-1zM17 7h3v1h-3zM2 8h1v1h-1zM12 8h2v1h-2zM16 8h3v1h-3zM33 8h1v1h-1zM42 8h1v1h-1zM45 8h1v1h-1zM1 9h2v1h-2zM5 9h1v1h-1zM7 9h1v1h-1zM10 9h2v1h-2zM16 9h1v1h-1zM18 9h1v1h-1zM21 9h1v1h-1zM30 9h1v1h-1zM35 9h1v1h-1zM39 9h1v1h-1zM45 9h1v1h-1zM68 9h1v1h-1zM1 10h4v1h-4zM9 10h1v1h-1zM14 10h1v1h-1zM17 10h2v1h-2zM21 10h1v1h-1zM30 10h1v1h-1zM39 10h1v1h-1zM4 11h2v1h-2zM9 11h1v1h-1zM17 11h3v1h-3zM21 11h1v1h-1zM45 11h1v1h-1zM0 12h1v1h-1zM4 12h2v1h-2zM7 12h2v1h-2zM13 12h2v1h-2zM20 12h2v1h-2zM2 13h1v1h-1zM8 13h1v1h-1zM12 13h1v1h-1zM19 13h1v1h-1zM21 13h1v1h-1zM35 13h1v1h-1zM4 14h1v1h-1zM10 14h1v1h-1zM12 14h1v1h-1zM18 14h2v1h-2zM36 14h1v1h-1zM45 14h1v1h-1zM1 15h3v1h-3zM18 15h2v1h-2zM21 15h1v1h-1zM35 15h1v1h-1zM3 16h1v1h-1zM6 16h1v1h-1zM8 16h2v1h-2zM19 16h2v1h-2zM0 17h3v1h-3zM4 17h2v1h-2zM7 17h2v1h-2zM10 17h2v1h-2zM21 17h1v1h-1zM68 17h1v1h-1zM0 18h2v1h-2zM5 18h7v1h-7zM14 18h2v1h-2zM19 18h3v1h-3zM0 19h1v1h-1zM3 19h1v1h-1zM5 19h1v1h-1zM7 19h1v1h-1zM11 19h1v1h-1zM13 19h4v1h-4zM18 19h1v1h-1zM41 19h1v1h-1zM0 20h1v1h-1zM12 20h1v1h-1zM16 20h1v1h-1zM18 20h1v1h-1zM4 21h1v1h-1zM9 21h5v1h-5zM15 21h1v1h-1zM17 21h2v1h-2zM37 21h1v1h-1zM39 21h1v1h-1zM41 21h1v1h-1zM9 30h2v1h-2zM33 31h1v1h-1zM35 31h1v1h-1zM6 32h1v1h-1zM8 33h1v1h-1zM31 33h1v1h-1zM0 34h1v1h-1zM6 34h1v1h-1zM9 35h1v1h-1zM13 35h1v1h-1zM15 35h1v1h-1zM31 35h1v1h-1zM14 36h1v1h-1zM21 37h1v1h-1zM6 39h1v1h-1zM9 39h2v1h-2zM21 39h1v1h-1zM2 41h1v1h-1zM4 41h1v1h-1zM19 41h1v1h-1zM21 41h1v1h-1zM8 42h1v1h-1zM6 45h1v1h-1zM8 45h2v1h-2zM11 45h1v1h-1zM14 45h1v1h-1zM48 46h1v1h-1zM51 46h2v1h-2zM50 47h1v1h-1zM46 48h1v1h-1zM47 50h1v1h-1zM46 51h1v1h-1zM46 52h1v1h-1zM56 54h2v1h-2zM65 55h1v1h-1zM54 56h1v1h-1zM57 56h1v1h-1zM62 56h1v1h-1zM54 57h1v1h-1zM56 57h1v1h-1zM65 58h1v1h-1zM61 60h1v1h-1zM60 61h1v1h-1zM56 62h1v1h-1zM55 65h1v1h-1zM58 65h1v1h-1zM67 66h2v1h-2zM70 66h1v1h-1zM6 67h1v1h-1zM66 67h1v1h-1zM1 68h1v1h-1zM9 68h1v1h-1zM17 68h1v1h-1zM66 68h1v1h-1zM66 70h1v1h-1z"/>
<path fill="#eb9a80" d="M7 0h3v1h-3zM11 0h1v1h-1zM13 0h2v1h-2zM21 0h1v1h-1zM5 1h1v1h-1zM8 1h1v1h-1zM11 1h1v1h-1zM13 1h2v1h-2zM19 1h3v1h-3zM45 1h1v1h-1zM5 2h1v1h-1zM11 2h1v1h-1zM14 2h1v1h-1zM18 2h2v1h-2zM8 3h2v1h-2zM11 3h1v1h-1zM13 3h2v1h-2zM18 3h1v1h-1zM6 4h3v1h-3zM13 4h1v1h-1zM15 4h1v1h-1zM19 4h1v1h-1zM1 5h2v1h-2zM6 5h3v1h-3zM10 5h1v1h-1zM14 5h2v1h-2zM20 5h1v1h-1zM4 6h2v1h-2zM8 6h5v1h-5zM14 6h1v1h-1zM17 6h1v1h-1zM19 6h3v1h-3zM0 7h1v1h-1zM4 7h2v1h-2zM8 7h1v1h-1zM11 7h1v1h-1zM14 7h1v1h-1zM20 7h1v1h-1zM0 8h2v1h-2zM3 8h5v1h-5zM9 8h3v1h-3zM14 8h2v1h-2zM19 8h1v1h-1zM0 9h1v1h-1zM3 9h1v1h-1zM6 9h1v1h-1zM8 9h1v1h-1zM14 9h2v1h-2zM20 9h1v1h-1zM5 10h2v1h-2zM8 10h1v1h-1zM11 10h1v1h-1zM15 10h2v1h-2zM20 10h1v1h-1zM0 11h4v1h-4zM6 11h3v1h-3zM10 11h1v1h-1zM12 11h1v1h-1zM15 11h1v1h-1zM20 11h1v1h-1zM6 12h1v1h-1zM11 12h1v1h-1zM15 12h1v1h-1zM0 13h2v1h-2zM3 13h2v1h-2zM18 13h1v1h-1zM20 13h1v1h-1zM34 13h1v1h-1zM0 14h4v1h-4zM5 14h5v1h-5zM20 14h2v1h-2zM4 15h2v1h-2zM8 15h5v1h-5zM20 15h1v1h-1zM10 16h1v1h-1zM6 17h1v1h-1zM2 18h2v1h-2zM13 18h1v1h-1zM1 19h2v1h-2zM4 19h1v1h-1zM6 19h1v1h-1zM8 19h1v1h-1zM1 20h1v1h-1zM5 20h3v1h-3zM9 20h3v1h-3zM13 20h3v1h-3zM0 21h2v1h-2zM6 21h1v1h-1zM14 21h1v1h-1zM34 31h1v1h-1zM36 31h1v1h-1zM33 32h2v1h-2zM36 32h1v1h-1zM32 33h1v1h-1zM34 33h1v1h-1zM36 33h1v1h-1zM13 34h1v1h-1zM31 34h3v1h-3zM35 34h2v1h-2zM34 35h1v1h-1zM36 35h1v1h-1zM31 36h5v1h-5zM1 45h1v1h-1zM50 48h3v1h-3zM50 49h3v1h-3zM48 50h2v1h-2zM48 51h2v1h-2zM52 51h1v1h-1zM48 52h2v1h-2zM51 52h1v1h-1zM55 54h1v1h-1zM54 55h1v1h-1zM56 55h2v1h-2zM55 56h1v1h-1zM55 57h1v1h-1zM69 66h1v1h-1zM68 67h3v1h-3zM67 68h1v1h-1zM69 68h2v1h-2zM66 69h3v1h-3zM70 69h1v1h-1zM67 70h3v1h-3z"/>
<path fill="#e3866d" d="M6 0h1v1h-1zM10 0h1v1h-1zM15 0h1v1h-1zM20 2h2v1h-2zM20 3h1v1h-1zM13 5h1v1h-1zM21 5h1v1h-1zM0 6h1v1h-1zM7 6h1v1h-1zM13 6h1v1h-1zM15 6h1v1h-1zM6 7h1v1h-1zM10 7h1v1h-1zM13 7h1v1h-1zM15 7h1v1h-1zM20 8h1v1h-1zM13 9h1v1h-1zM0 10h1v1h-1zM7 10h1v1h-1zM13 10h1v1h-1zM13 11h2v1h-2zM5 13h3v1h-3zM9 13h3v1h-3zM14 13h2v1h-2zM17 13h1v1h-1zM11 14h1v1h-1zM13 14h1v1h-1zM15 14h3v1h-3zM0 15h1v1h-1zM6 15h2v1h-2zM13 15h2v1h-2zM16 15h2v1h-2zM14 16h2v1h-2zM17 16h1v1h-1zM13 17h4v1h-4zM20 19h1v1h-1zM2 20h2v1h-2zM8 20h1v1h-1zM19 20h1v1h-1zM2 21h1v1h-1zM5 21h1v1h-1zM32 31h1v1h-1zM31 32h1v1h-1zM35 32h1v1h-1zM35 33h1v1h-1zM32 35h2v1h-2zM49 48h1v1h-1zM48 49h1v1h-1zM51 50h2v1h-2zM50 51h1v1h-1zM50 52h1v1h-1z"/>
<path fill="#db725e" d="M16 13h1v1h-1zM13 16h1v1h-1zM21 19h1v1h-1zM21 20h1v1h-1zM19 21h2v1h-2z"/>
<path fill="#d25b4f" d="M1 0h2v1h-2zM0 1h1v1h-1zM2 1h1v1h-1zM0 2h2v1h-2z"/>
<path fill="#b92734" d="M0 0h1v1h-1zM1 1h1v1h-1zM2 2h1v1h-1zM3 3h1v1h-1zM4 4h1v1h-1zM5 5h1v1h-1zM6 6h1v1h-1zM7 7h1v1h-1zM8 8h1v1h-1zM9 9h1v1h-1zM10 10h1v1h-1zM11 11h1v1h-1zM12 12h1v1h-1zM13 13h1v1h-1zM14 14h1v1h-1zM15 15h1v1h-1zM16 16h1v1h-1zM17 17h1v1h-1zM18 18h1v1h-1zM19 19h1v1h-1zM20 20h1v1h-1zM21 21h1v1h-1zM22 22h1v1h-1zM23 23h1v1h-1zM24 24h1v1h-1zM25 25h1v1h-1zM26 26h1v1h-1zM27 27h1v1h-1zM28 28h1v1h-1zM29 29h1v1h-1zM30 30h1v1h-1zM31 31h1v1h-1zM32 32h1v1h-1zM33 33h1v1h-1zM34 34h1v1h-1zM35 35h1v1h-1zM36 36h1v1h-1zM37 37h1v1h-1zM38 38h1v1h-1zM39 39h1v1h-1zM40 40h1v1h-1zM41 41h1v1h-1zM42 42h1v1h-1zM43 43h1v1h-1zM44 44h1v1h-1zM45 45h1v1h-1zM46 46h1v1h-1zM47 47h1v1h-1zM48 48h1v1h-1zM49 49h1v1h-1zM50 50h1v1h-1zM51 51h1v1h-1zM52 52h1v1h-1zM53 53h1v1h-1zM54 54h1v1h-1zM55 55h1v1h-1zM56 56h1v1h-1zM57 57h1v1h-1zM58 58h1v1h-1zM59 59h1v1h-1zM60 60h1v1h-1zM61 61h1v1h-1zM62 62h1v1h-1zM63 63h1v1h-1zM64 64h1v1h-1zM65 65h1v1h-1zM66 66h1v1h-1zM67 67h1v1h-1zM68 68h1v1h-1zM69 69h1v1h-1zM70 70h1v1h-1zM71 71h1v1h-1zM72 72h1v1h-1zM73 73h1v1h-1zM74 74h1v1h-1zM75 75h1v1h-1zM76 76h1v1h-1zM77 77h1v1h-1zM78 78h1v1h-1z"/>
</g>
<rect x="77.30" y="1246.20" width="183.92" height="10.50" fill="#b02365"/>
<rect x="65.80" y="1257.50" width="11.40" height="183.92" fill="#b02365"/>
<rect x="261.22" y="1246.20" width="66.88" height="10.50" fill="#a1cb76"/>
<rect x="65.80" y="1441.42" width="11.40" height="66.88" fill="#a1cb76"/>
<rect x="328.10" y="1246.20" width="133.76" height="10.50" fill="#cc2a2a"/>
<rect x="65.80" y="1508.30" width="11.40" height="133.76" fill="#cc2a2a"/>
<rect x="461.86" y="1246.20" width="16.72" height="10.50" fill="#111111"/>
<rect x="65.80" y="1642.06" width="11.40" height="16.72" fill="#111111"/>
<rect x="478.58" y="1246.20" width="41.80" height="10.50" fill="#7ed3d6"/>
<rect x="65.80" y="1658.78" width="11.40" height="41.80" fill="#7ed3d6"/>
<rect x="520.38" y="1246.20" width="108.68" height="10.50" fill="#cdd33c"/>
<rect x="65.80" y="1700.58" width="11.40" height="108.68" fill="#cdd33c"/>
<rect x="629.06" y="1246.20" width="108.68" height="10.50" fill="#3a7ea8"/>
<rect x="65.80" y="1809.26" width="11.40" height="108.68" fill="#3a7ea8"/>
<text x="823.5" y="1275.2" font-size="21" text-anchor="middle" textLength="104.0" lengthAdjust="spacingAndGlyphs">Spearman</text>
<text x="823.5" y="1303.0" font-size="21" text-anchor="middle" textLength="111.0" lengthAdjust="spacingAndGlyphs">Correlation</text>
<defs><linearGradient id="cg17" x1="0" y1="0" x2="0" y2="1"><stop offset="0.0000" stop-color="#be2532"/><stop offset="0.0625" stop-color="#ce4642"/><stop offset="0.1250" stop-color="#db6754"/><stop offset="0.1875" stop-color="#e47f66"/><stop offset="0.2500" stop-color="#ee9a7e"/><stop offset="0.3125" stop-color="#f2b196"/><stop offset="0.3750" stop-color="#f2c5af"/><stop offset="0.4375" stop-color="#ead3c6"/><stop offset="0.5000" stop-color="#dddcdc"/><stop offset="0.5625" stop-color="#cdd9ec"/><stop offset="0.6250" stop-color="#bbd0f6"/><stop offset="0.6875" stop-color="#a6c3fa"/><stop offset="0.7500" stop-color="#91b1f9"/><stop offset="0.8125" stop-color="#7b9cf1"/><stop offset="0.8750" stop-color="#6684e4"/><stop offset="0.9375" stop-color="#526ad1"/><stop offset="1.0000" stop-color="#3f4fb9"/></linearGradient></defs>
<rect x="807.00" y="1330.40" width="34.50" height="227.00" fill="url(#cg17)"/>
<text x="853.5" y="1339.0" font-size="17.5" textLength="24.5" lengthAdjust="spacingAndGlyphs">1.0</text>
<text x="859.8" y="1451.3" font-size="17.5">0</text>
<text x="847.5" y="1565.2" font-size="17.5" textLength="34.0" lengthAdjust="spacingAndGlyphs">-1.0</text>
<text x="826.0" y="1622.4" font-size="18.5" text-anchor="middle" textLength="136.0" lengthAdjust="spacingAndGlyphs">Metaprogram</text>
<text x="826.4" y="1650.2" font-size="18.5" text-anchor="middle" textLength="44.5" lengthAdjust="spacingAndGlyphs">(MP)</text>
<rect x="771.30" y="1660.70" width="36.60" height="36.50" fill="#cc2a2a"/>
<text x="832.6" y="1686.4" font-size="18.3" textLength="39.0" lengthAdjust="spacingAndGlyphs">MP1</text>
<rect x="771.30" y="1703.95" width="36.60" height="36.50" fill="#3a7ea8"/>
<text x="832.6" y="1729.7" font-size="18.3" textLength="39.0" lengthAdjust="spacingAndGlyphs">MP2</text>
<rect x="771.30" y="1747.20" width="36.60" height="36.50" fill="#a1cb76"/>
<text x="832.6" y="1772.9" font-size="18.3" textLength="39.0" lengthAdjust="spacingAndGlyphs">MP3</text>
<rect x="771.30" y="1790.45" width="36.60" height="36.50" fill="#cdd33c"/>
<text x="832.6" y="1816.2" font-size="18.3" textLength="39.0" lengthAdjust="spacingAndGlyphs">MP4</text>
<rect x="771.30" y="1833.70" width="36.60" height="36.50" fill="#b02365"/>
<text x="832.6" y="1859.4" font-size="18.3" textLength="39.0" lengthAdjust="spacingAndGlyphs">MP5</text>
<rect x="771.30" y="1876.95" width="36.60" height="36.50" fill="#7ed3d6"/>
<text x="832.6" y="1902.7" font-size="18.3" textLength="39.0" lengthAdjust="spacingAndGlyphs">MP6</text>
<text x="974.4" y="1141.1" font-size="41" font-weight="bold">d</text>
<text x="1180.7" y="1211.0" font-size="36" textLength="494.5" lengthAdjust="spacingAndGlyphs">extracranial human SCLC cells</text>
<g transform="translate(1099.10 1249.70) scale(6.3600)" shape-rendering="crispEdges">
<path fill="#718ee6" d="M28 3h1v1h-1zM39 4h1v1h-1zM81 4h1v1h-1zM3 28h1v1h-1zM4 39h1v1h-1zM4 81h1v1h-1z"/>
<path fill="#82a1f0" d="M30 0h1v1h-1zM39 0h1v1h-1zM47 0h1v1h-1zM30 2h1v1h-1zM84 4h1v1h-1zM87 4h1v1h-1zM96 4h1v1h-1zM100 4h1v1h-1zM0 30h1v1h-1zM2 30h1v1h-1zM0 39h1v1h-1zM0 47h1v1h-1zM4 84h1v1h-1zM4 87h1v1h-1zM4 96h1v1h-1zM4 100h1v1h-1z"/>
<path fill="#93b2f6" d="M26 0h1v1h-1zM28 0h2v1h-2zM34 0h2v1h-2zM41 0h2v1h-2zM44 0h2v1h-2zM49 0h1v1h-1zM65 0h1v1h-1zM85 0h1v1h-1zM94 0h1v1h-1zM98 0h2v1h-2zM103 0h1v1h-1zM30 1h1v1h-1zM32 1h1v1h-1zM42 1h1v1h-1zM45 1h1v1h-1zM49 1h2v1h-2zM82 1h1v1h-1zM85 1h1v1h-1zM99 1h1v1h-1zM28 2h1v1h-1zM40 2h3v1h-3zM45 2h1v1h-1zM49 2h1v1h-1zM77 2h2v1h-2zM30 3h3v1h-3zM34 3h2v1h-2zM37 3h1v1h-1zM39 3h1v1h-1zM42 3h1v1h-1zM44 3h1v1h-1zM46 3h1v1h-1zM49 3h1v1h-1zM79 3h1v1h-1zM84 3h1v1h-1zM99 3h1v1h-1zM103 3h1v1h-1zM28 4h5v1h-5zM34 4h2v1h-2zM43 4h4v1h-4zM48 4h1v1h-1zM50 4h1v1h-1zM80 4h1v1h-1zM82 4h1v1h-1zM85 4h1v1h-1zM91 4h1v1h-1zM93 4h1v1h-1zM95 4h1v1h-1zM98 4h1v1h-1zM31 5h3v1h-3zM39 5h1v1h-1zM48 5h1v1h-1zM84 5h1v1h-1zM92 5h2v1h-2zM92 9h1v1h-1zM0 26h1v1h-1zM0 28h1v1h-1zM2 28h1v1h-1zM4 28h1v1h-1zM0 29h1v1h-1zM4 29h1v1h-1zM1 30h1v1h-1zM3 30h2v1h-2zM3 31h3v1h-3zM1 32h1v1h-1zM3 32h3v1h-3zM5 33h1v1h-1zM0 34h1v1h-1zM3 34h2v1h-2zM0 35h1v1h-1zM3 35h2v1h-2zM3 37h1v1h-1zM3 39h1v1h-1zM5 39h1v1h-1zM2 40h1v1h-1zM0 41h1v1h-1zM2 41h1v1h-1zM0 42h4v1h-4zM4 43h1v1h-1zM0 44h1v1h-1zM3 44h2v1h-2zM0 45h3v1h-3zM4 45h1v1h-1zM3 46h2v1h-2zM4 48h2v1h-2zM0 49h4v1h-4zM1 50h1v1h-1zM4 50h1v1h-1zM0 65h1v1h-1zM2 77h1v1h-1zM2 78h1v1h-1zM3 79h1v1h-1zM4 80h1v1h-1zM1 82h1v1h-1zM4 82h1v1h-1zM3 84h1v1h-1zM5 84h1v1h-1zM0 85h2v1h-2zM4 85h1v1h-1zM4 91h1v1h-1zM5 92h1v1h-1zM9 92h1v1h-1zM4 93h2v1h-2zM0 94h1v1h-1zM4 95h1v1h-1zM0 98h1v1h-1zM4 98h1v1h-1zM0 99h2v1h-2zM3 99h1v1h-1zM0 103h1v1h-1zM3 103h1v1h-1z"/>
<path fill="#a4c0f8" d="M27 0h1v1h-1zM31 0h3v1h-3zM37 0h2v1h-2zM40 0h1v1h-1zM46 0h1v1h-1zM50 0h2v1h-2zM66 0h1v1h-1zM69 0h3v1h-3zM76 0h9v1h-9zM86 0h2v1h-2zM92 0h2v1h-2zM95 0h1v1h-1zM97 0h1v1h-1zM100 0h3v1h-3zM26 1h3v1h-3zM31 1h1v1h-1zM33 1h5v1h-5zM39 1h3v1h-3zM43 1h2v1h-2zM46 1h2v1h-2zM70 1h1v1h-1zM78 1h3v1h-3zM84 1h1v1h-1zM87 1h1v1h-1zM90 1h1v1h-1zM93 1h4v1h-4zM100 1h2v1h-2zM26 2h1v1h-1zM32 2h1v1h-1zM35 2h1v1h-1zM37 2h3v1h-3zM44 2h1v1h-1zM46 2h1v1h-1zM69 2h2v1h-2zM82 2h1v1h-1zM84 2h2v1h-2zM87 2h1v1h-1zM94 2h1v1h-1zM97 2h7v1h-7zM26 3h2v1h-2zM29 3h1v1h-1zM33 3h1v1h-1zM36 3h1v1h-1zM40 3h2v1h-2zM43 3h1v1h-1zM45 3h1v1h-1zM47 3h2v1h-2zM50 3h1v1h-1zM67 3h1v1h-1zM70 3h1v1h-1zM77 3h2v1h-2zM80 3h3v1h-3zM87 3h1v1h-1zM91 3h4v1h-4zM96 3h2v1h-2zM100 3h1v1h-1zM27 4h1v1h-1zM36 4h3v1h-3zM40 4h3v1h-3zM47 4h1v1h-1zM55 4h1v1h-1zM63 4h2v1h-2zM66 4h2v1h-2zM69 4h2v1h-2zM72 4h1v1h-1zM74 4h2v1h-2zM77 4h3v1h-3zM88 4h3v1h-3zM92 4h1v1h-1zM94 4h1v1h-1zM97 4h1v1h-1zM99 4h1v1h-1zM101 4h3v1h-3zM26 5h1v1h-1zM28 5h3v1h-3zM34 5h2v1h-2zM38 5h1v1h-1zM40 5h3v1h-3zM44 5h2v1h-2zM49 5h2v1h-2zM68 5h1v1h-1zM70 5h1v1h-1zM74 5h1v1h-1zM79 5h1v1h-1zM81 5h3v1h-3zM85 5h1v1h-1zM89 5h1v1h-1zM97 5h1v1h-1zM100 5h2v1h-2zM103 5h1v1h-1zM90 6h1v1h-1zM100 6h1v1h-1zM78 8h1v1h-1zM82 8h1v1h-1zM87 8h1v1h-1zM90 8h1v1h-1zM93 8h1v1h-1zM95 8h1v1h-1zM97 8h4v1h-4zM103 8h1v1h-1zM81 9h1v1h-1zM87 9h1v1h-1zM93 9h1v1h-1zM95 9h2v1h-2zM98 9h1v1h-1zM100 9h1v1h-1zM102 9h1v1h-1zM32 10h1v1h-1zM39 10h1v1h-1zM47 10h1v1h-1zM85 10h1v1h-1zM95 10h1v1h-1zM71 11h1v1h-1zM81 11h1v1h-1zM87 11h1v1h-1zM90 11h1v1h-1zM93 11h1v1h-1zM103 11h1v1h-1zM82 12h1v1h-1zM87 12h1v1h-1zM100 12h1v1h-1zM77 13h1v1h-1zM28 14h1v1h-1zM30 14h1v1h-1zM39 14h1v1h-1zM93 14h1v1h-1zM98 14h1v1h-1zM82 15h1v1h-1zM90 15h1v1h-1zM87 18h1v1h-1zM86 19h1v1h-1zM103 19h1v1h-1zM82 20h1v1h-1zM92 22h1v1h-1zM94 22h1v1h-1zM101 22h1v1h-1zM70 24h1v1h-1zM93 25h1v1h-1zM1 26h3v1h-3zM5 26h1v1h-1zM0 27h2v1h-2zM3 27h2v1h-2zM1 28h1v1h-1zM5 28h1v1h-1zM14 28h1v1h-1zM3 29h1v1h-1zM5 29h1v1h-1zM5 30h1v1h-1zM14 30h1v1h-1zM82 30h1v1h-1zM0 31h2v1h-2zM0 32h1v1h-1zM2 32h1v1h-1zM10 32h1v1h-1zM0 33h2v1h-2zM3 33h1v1h-1zM1 34h1v1h-1zM5 34h1v1h-1zM1 35h2v1h-2zM5 35h1v1h-1zM1 36h1v1h-1zM3 36h2v1h-2zM0 37h3v1h-3zM4 37h1v1h-1zM0 38h1v1h-1zM2 38h1v1h-1zM4 38h2v1h-2zM1 39h2v1h-2zM10 39h1v1h-1zM14 39h1v1h-1zM0 40h2v1h-2zM3 40h3v1h-3zM1 41h1v1h-1zM3 41h3v1h-3zM4 42h2v1h-2zM1 43h1v1h-1zM3 43h1v1h-1zM1 44h2v1h-2zM5 44h1v1h-1zM3 45h1v1h-1zM5 45h1v1h-1zM0 46h3v1h-3zM1 47h1v1h-1zM3 47h2v1h-2zM10 47h1v1h-1zM3 48h1v1h-1zM5 49h1v1h-1zM0 50h1v1h-1zM3 50h1v1h-1zM5 50h1v1h-1zM0 51h1v1h-1zM4 55h1v1h-1zM4 63h1v1h-1zM4 64h1v1h-1zM0 66h1v1h-1zM4 66h1v1h-1zM3 67h2v1h-2zM5 68h1v1h-1zM0 69h1v1h-1zM2 69h1v1h-1zM4 69h1v1h-1zM0 70h6v1h-6zM24 70h1v1h-1zM0 71h1v1h-1zM11 71h1v1h-1zM4 72h1v1h-1zM4 74h2v1h-2zM4 75h1v1h-1zM0 76h1v1h-1zM0 77h1v1h-1zM3 77h2v1h-2zM13 77h1v1h-1zM0 78h2v1h-2zM3 78h2v1h-2zM8 78h1v1h-1zM0 79h2v1h-2zM4 79h2v1h-2zM0 80h2v1h-2zM3 80h1v1h-1zM0 81h1v1h-1zM3 81h1v1h-1zM5 81h1v1h-1zM9 81h1v1h-1zM11 81h1v1h-1zM0 82h1v1h-1zM2 82h2v1h-2zM5 82h1v1h-1zM8 82h1v1h-1zM12 82h1v1h-1zM15 82h1v1h-1zM20 82h1v1h-1zM30 82h1v1h-1zM0 83h1v1h-1zM5 83h1v1h-1zM0 84h3v1h-3zM2 85h1v1h-1zM5 85h1v1h-1zM10 85h1v1h-1zM0 86h1v1h-1zM19 86h1v1h-1zM0 87h4v1h-4zM8 87h2v1h-2zM11 87h2v1h-2zM18 87h1v1h-1zM4 88h1v1h-1zM4 89h2v1h-2zM1 90h1v1h-1zM4 90h1v1h-1zM6 90h1v1h-1zM8 90h1v1h-1zM11 90h1v1h-1zM15 90h1v1h-1zM3 91h1v1h-1zM0 92h1v1h-1zM3 92h2v1h-2zM22 92h1v1h-1zM0 93h2v1h-2zM3 93h1v1h-1zM8 93h2v1h-2zM11 93h1v1h-1zM14 93h1v1h-1zM25 93h1v1h-1zM1 94h4v1h-4zM22 94h1v1h-1zM0 95h2v1h-2zM8 95h3v1h-3zM1 96h1v1h-1zM3 96h1v1h-1zM9 96h1v1h-1zM0 97h1v1h-1zM2 97h4v1h-4zM8 97h1v1h-1zM2 98h1v1h-1zM8 98h2v1h-2zM14 98h1v1h-1zM2 99h1v1h-1zM4 99h1v1h-1zM8 99h1v1h-1zM0 100h4v1h-4zM5 100h2v1h-2zM8 100h2v1h-2zM12 100h1v1h-1zM0 101h3v1h-3zM4 101h2v1h-2zM22 101h1v1h-1zM0 102h1v1h-1zM2 102h1v1h-1zM4 102h1v1h-1zM9 102h1v1h-1zM2 103h1v1h-1zM4 103h2v1h-2zM8 103h1v1h-1zM11 103h1v1h-1zM19 103h1v1h-1z"/>
<path fill="#b4cbf6" d="M36 0h1v1h-1zM43 0h1v1h-1zM48 0h1v1h-1zM53 0h2v1h-2zM57 0h1v1h-1zM59 0h2v1h-2zM63 0h2v1h-2zM67 0h2v1h-2zM72 0h1v1h-1zM74 0h2v1h-2zM88 0h2v1h-2zM91 0h1v1h-1zM96 0h1v1h-1zM29 1h1v1h-1zM38 1h1v1h-1zM48 1h1v1h-1zM52 1h1v1h-1zM63 1h1v1h-1zM66 1h2v1h-2zM69 1h1v1h-1zM72 1h1v1h-1zM77 1h1v1h-1zM81 1h1v1h-1zM83 1h1v1h-1zM86 1h1v1h-1zM88 1h2v1h-2zM91 1h2v1h-2zM97 1h2v1h-2zM102 1h2v1h-2zM27 2h1v1h-1zM29 2h1v1h-1zM33 2h2v1h-2zM36 2h1v1h-1zM43 2h1v1h-1zM47 2h2v1h-2zM50 2h1v1h-1zM63 2h2v1h-2zM71 2h1v1h-1zM75 2h1v1h-1zM80 2h2v1h-2zM83 2h1v1h-1zM88 2h2v1h-2zM93 2h1v1h-1zM95 2h1v1h-1zM53 3h1v1h-1zM55 3h1v1h-1zM57 3h1v1h-1zM59 3h1v1h-1zM63 3h2v1h-2zM66 3h1v1h-1zM68 3h2v1h-2zM71 3h3v1h-3zM75 3h2v1h-2zM83 3h1v1h-1zM85 3h2v1h-2zM88 3h3v1h-3zM95 3h1v1h-1zM98 3h1v1h-1zM101 3h2v1h-2zM26 4h1v1h-1zM33 4h1v1h-1zM49 4h1v1h-1zM52 4h3v1h-3zM58 4h2v1h-2zM65 4h1v1h-1zM68 4h1v1h-1zM71 4h1v1h-1zM83 4h1v1h-1zM86 4h1v1h-1zM27 5h1v1h-1zM37 5h1v1h-1zM43 5h1v1h-1zM46 5h2v1h-2zM51 5h1v1h-1zM60 5h1v1h-1zM65 5h3v1h-3zM71 5h3v1h-3zM75 5h2v1h-2zM78 5h1v1h-1zM80 5h1v1h-1zM86 5h3v1h-3zM90 5h2v1h-2zM95 5h2v1h-2zM98 5h2v1h-2zM102 5h1v1h-1zM29 6h5v1h-5zM39 6h2v1h-2zM43 6h1v1h-1zM50 6h1v1h-1zM64 6h1v1h-1zM72 6h1v1h-1zM81 6h4v1h-4zM87 6h1v1h-1zM89 6h1v1h-1zM92 6h7v1h-7zM102 6h2v1h-2zM32 7h1v1h-1zM34 7h1v1h-1zM49 7h1v1h-1zM65 7h1v1h-1zM67 7h1v1h-1zM70 7h1v1h-1zM77 7h2v1h-2zM86 7h2v1h-2zM90 7h2v1h-2zM94 7h1v1h-1zM99 7h2v1h-2zM103 7h1v1h-1zM28 8h2v1h-2zM31 8h3v1h-3zM37 8h1v1h-1zM39 8h1v1h-1zM43 8h5v1h-5zM65 8h3v1h-3zM70 8h4v1h-4zM77 8h1v1h-1zM79 8h3v1h-3zM83 8h4v1h-4zM89 8h1v1h-1zM92 8h1v1h-1zM94 8h1v1h-1zM96 8h1v1h-1zM101 8h2v1h-2zM28 9h3v1h-3zM32 9h1v1h-1zM37 9h3v1h-3zM42 9h1v1h-1zM45 9h6v1h-6zM64 9h1v1h-1zM66 9h7v1h-7zM74 9h1v1h-1zM76 9h1v1h-1zM78 9h3v1h-3zM82 9h1v1h-1zM84 9h3v1h-3zM88 9h4v1h-4zM94 9h1v1h-1zM97 9h1v1h-1zM99 9h1v1h-1zM101 9h1v1h-1zM103 9h1v1h-1zM28 10h1v1h-1zM30 10h1v1h-1zM42 10h1v1h-1zM44 10h1v1h-1zM49 10h1v1h-1zM64 10h1v1h-1zM68 10h1v1h-1zM71 10h1v1h-1zM77 10h6v1h-6zM84 10h1v1h-1zM86 10h1v1h-1zM91 10h1v1h-1zM93 10h2v1h-2zM96 10h8v1h-8zM32 11h2v1h-2zM39 11h1v1h-1zM42 11h2v1h-2zM46 11h1v1h-1zM50 11h1v1h-1zM66 11h1v1h-1zM70 11h1v1h-1zM72 11h1v1h-1zM79 11h1v1h-1zM82 11h3v1h-3zM94 11h1v1h-1zM99 11h2v1h-2zM27 12h2v1h-2zM43 12h1v1h-1zM67 12h1v1h-1zM78 12h1v1h-1zM81 12h1v1h-1zM84 12h1v1h-1zM92 12h1v1h-1zM97 12h2v1h-2zM101 12h2v1h-2zM78 13h1v1h-1zM102 13h1v1h-1zM34 14h1v1h-1zM66 14h1v1h-1zM77 14h1v1h-1zM81 14h1v1h-1zM85 14h1v1h-1zM95 14h1v1h-1zM99 14h1v1h-1zM101 14h1v1h-1zM103 14h1v1h-1zM70 15h1v1h-1zM78 15h2v1h-2zM86 15h2v1h-2zM93 15h1v1h-1zM97 15h1v1h-1zM103 15h1v1h-1zM47 17h1v1h-1zM64 17h1v1h-1zM81 17h1v1h-1zM84 17h1v1h-1zM87 17h1v1h-1zM96 17h1v1h-1zM98 17h1v1h-1zM103 17h1v1h-1zM32 18h1v1h-1zM34 18h1v1h-1zM70 18h1v1h-1zM78 18h1v1h-1zM81 18h2v1h-2zM84 18h1v1h-1zM97 18h1v1h-1zM30 19h1v1h-1zM32 19h1v1h-1zM49 19h1v1h-1zM70 19h2v1h-2zM77 19h2v1h-2zM81 19h1v1h-1zM83 19h2v1h-2zM87 19h2v1h-2zM90 19h1v1h-1zM94 19h2v1h-2zM99 19h1v1h-1zM92 20h1v1h-1zM100 20h1v1h-1zM32 21h1v1h-1zM77 21h2v1h-2zM81 21h2v1h-2zM87 21h1v1h-1zM91 21h1v1h-1zM103 21h1v1h-1zM28 22h1v1h-1zM45 22h1v1h-1zM65 22h1v1h-1zM77 22h1v1h-1zM81 22h1v1h-1zM85 22h1v1h-1zM90 22h1v1h-1zM95 22h2v1h-2zM98 22h1v1h-1zM100 22h1v1h-1zM103 22h1v1h-1zM39 23h1v1h-1zM81 23h1v1h-1zM84 23h2v1h-2zM87 23h2v1h-2zM90 23h2v1h-2zM93 23h1v1h-1zM100 23h1v1h-1zM49 24h1v1h-1zM77 24h2v1h-2zM80 24h1v1h-1zM86 24h2v1h-2zM89 24h3v1h-3zM93 24h1v1h-1zM103 24h1v1h-1zM79 25h1v1h-1zM81 25h2v1h-2zM85 25h1v1h-1zM94 25h1v1h-1zM4 26h1v1h-1zM2 27h1v1h-1zM5 27h1v1h-1zM12 27h1v1h-1zM8 28h3v1h-3zM12 28h1v1h-1zM22 28h1v1h-1zM82 28h1v1h-1zM1 29h2v1h-2zM6 29h1v1h-1zM8 29h2v1h-2zM6 30h1v1h-1zM9 30h2v1h-2zM19 30h1v1h-1zM81 30h1v1h-1zM6 31h1v1h-1zM8 31h1v1h-1zM6 32h4v1h-4zM11 32h1v1h-1zM18 32h2v1h-2zM21 32h1v1h-1zM2 33h1v1h-1zM4 33h1v1h-1zM6 33h1v1h-1zM8 33h1v1h-1zM11 33h1v1h-1zM2 34h1v1h-1zM7 34h1v1h-1zM14 34h1v1h-1zM18 34h1v1h-1zM81 34h1v1h-1zM0 36h1v1h-1zM2 36h1v1h-1zM5 37h1v1h-1zM8 37h2v1h-2zM1 38h1v1h-1zM9 38h1v1h-1zM6 39h1v1h-1zM8 39h2v1h-2zM11 39h1v1h-1zM23 39h1v1h-1zM6 40h1v1h-1zM9 42h3v1h-3zM0 43h1v1h-1zM2 43h1v1h-1zM5 43h2v1h-2zM8 43h1v1h-1zM11 43h2v1h-2zM8 44h1v1h-1zM10 44h1v1h-1zM8 45h2v1h-2zM22 45h1v1h-1zM82 45h1v1h-1zM5 46h1v1h-1zM8 46h2v1h-2zM11 46h1v1h-1zM2 47h1v1h-1zM5 47h1v1h-1zM8 47h2v1h-2zM17 47h1v1h-1zM0 48h3v1h-3zM9 48h1v1h-1zM4 49h1v1h-1zM7 49h1v1h-1zM9 49h2v1h-2zM19 49h1v1h-1zM24 49h1v1h-1zM82 49h1v1h-1zM2 50h1v1h-1zM6 50h1v1h-1zM9 50h1v1h-1zM11 50h1v1h-1zM5 51h1v1h-1zM1 52h1v1h-1zM4 52h1v1h-1zM0 53h1v1h-1zM3 53h2v1h-2zM0 54h1v1h-1zM4 54h1v1h-1zM3 55h1v1h-1zM0 57h1v1h-1zM3 57h1v1h-1zM4 58h1v1h-1zM0 59h1v1h-1zM3 59h2v1h-2zM81 59h1v1h-1zM0 60h1v1h-1zM5 60h1v1h-1zM0 63h4v1h-4zM0 64h1v1h-1zM2 64h2v1h-2zM6 64h1v1h-1zM9 64h2v1h-2zM17 64h1v1h-1zM4 65h2v1h-2zM7 65h2v1h-2zM22 65h1v1h-1zM1 66h1v1h-1zM3 66h1v1h-1zM5 66h1v1h-1zM8 66h2v1h-2zM11 66h1v1h-1zM14 66h1v1h-1zM87 66h1v1h-1zM0 67h2v1h-2zM5 67h1v1h-1zM7 67h3v1h-3zM12 67h1v1h-1zM0 68h1v1h-1zM3 68h2v1h-2zM9 68h2v1h-2zM1 69h1v1h-1zM3 69h1v1h-1zM9 69h1v1h-1zM7 70h3v1h-3zM11 70h1v1h-1zM15 70h1v1h-1zM18 70h2v1h-2zM84 70h1v1h-1zM2 71h4v1h-4zM8 71h3v1h-3zM19 71h1v1h-1zM82 71h1v1h-1zM0 72h2v1h-2zM3 72h1v1h-1zM5 72h2v1h-2zM8 72h2v1h-2zM11 72h1v1h-1zM3 73h1v1h-1zM5 73h1v1h-1zM8 73h1v1h-1zM0 74h1v1h-1zM9 74h1v1h-1zM0 75h1v1h-1zM2 75h2v1h-2zM5 75h1v1h-1zM3 76h1v1h-1zM5 76h1v1h-1zM9 76h1v1h-1zM1 77h1v1h-1zM7 77h2v1h-2zM10 77h1v1h-1zM14 77h1v1h-1zM19 77h1v1h-1zM21 77h2v1h-2zM24 77h1v1h-1zM5 78h1v1h-1zM7 78h1v1h-1zM9 78h2v1h-2zM12 78h2v1h-2zM15 78h1v1h-1zM18 78h2v1h-2zM21 78h1v1h-1zM24 78h1v1h-1zM8 79h4v1h-4zM15 79h1v1h-1zM25 79h1v1h-1zM2 80h1v1h-1zM5 80h1v1h-1zM8 80h3v1h-3zM24 80h1v1h-1zM1 81h2v1h-2zM6 81h1v1h-1zM8 81h1v1h-1zM10 81h1v1h-1zM12 81h1v1h-1zM14 81h1v1h-1zM17 81h3v1h-3zM21 81h3v1h-3zM25 81h1v1h-1zM30 81h1v1h-1zM34 81h1v1h-1zM59 81h1v1h-1zM6 82h1v1h-1zM9 82h3v1h-3zM18 82h1v1h-1zM21 82h1v1h-1zM25 82h1v1h-1zM28 82h1v1h-1zM45 82h1v1h-1zM49 82h1v1h-1zM71 82h1v1h-1zM1 83h4v1h-4zM6 83h1v1h-1zM8 83h1v1h-1zM11 83h1v1h-1zM19 83h1v1h-1zM6 84h1v1h-1zM8 84h5v1h-5zM17 84h3v1h-3zM23 84h1v1h-1zM70 84h1v1h-1zM3 85h1v1h-1zM8 85h2v1h-2zM14 85h1v1h-1zM22 85h2v1h-2zM25 85h1v1h-1zM1 86h1v1h-1zM3 86h3v1h-3zM7 86h4v1h-4zM15 86h1v1h-1zM24 86h1v1h-1zM5 87h3v1h-3zM15 87h1v1h-1zM17 87h1v1h-1zM19 87h1v1h-1zM21 87h1v1h-1zM23 87h2v1h-2zM66 87h1v1h-1zM0 88h4v1h-4zM5 88h1v1h-1zM9 88h1v1h-1zM19 88h1v1h-1zM23 88h1v1h-1zM0 89h4v1h-4zM6 89h1v1h-1zM8 89h2v1h-2zM24 89h1v1h-1zM3 90h1v1h-1zM5 90h1v1h-1zM7 90h1v1h-1zM9 90h1v1h-1zM19 90h1v1h-1zM22 90h3v1h-3zM0 91h2v1h-2zM5 91h1v1h-1zM7 91h1v1h-1zM9 91h2v1h-2zM21 91h1v1h-1zM23 91h2v1h-2zM1 92h1v1h-1zM6 92h1v1h-1zM8 92h1v1h-1zM12 92h1v1h-1zM20 92h1v1h-1zM2 93h1v1h-1zM6 93h1v1h-1zM10 93h1v1h-1zM15 93h1v1h-1zM23 93h2v1h-2zM6 94h6v1h-6zM19 94h1v1h-1zM25 94h1v1h-1zM2 95h2v1h-2zM5 95h2v1h-2zM14 95h1v1h-1zM19 95h1v1h-1zM22 95h1v1h-1zM0 96h1v1h-1zM5 96h2v1h-2zM8 96h1v1h-1zM10 96h1v1h-1zM17 96h1v1h-1zM22 96h1v1h-1zM1 97h1v1h-1zM6 97h1v1h-1zM9 97h2v1h-2zM12 97h1v1h-1zM15 97h1v1h-1zM18 97h1v1h-1zM1 98h1v1h-1zM3 98h1v1h-1zM5 98h2v1h-2zM10 98h1v1h-1zM12 98h1v1h-1zM17 98h1v1h-1zM22 98h1v1h-1zM5 99h1v1h-1zM7 99h1v1h-1zM9 99h3v1h-3zM14 99h1v1h-1zM19 99h1v1h-1zM7 100h1v1h-1zM10 100h2v1h-2zM20 100h1v1h-1zM22 100h2v1h-2zM3 101h1v1h-1zM8 101h3v1h-3zM12 101h1v1h-1zM14 101h1v1h-1zM1 102h1v1h-1zM3 102h1v1h-1zM5 102h2v1h-2zM8 102h1v1h-1zM10 102h1v1h-1zM12 102h2v1h-2zM1 103h1v1h-1zM6 103h2v1h-2zM9 103h2v1h-2zM14 103h2v1h-2zM17 103h1v1h-1zM21 103h2v1h-2zM24 103h1v1h-1z"/>
<path fill="#c3d4f1" d="M6 0h1v1h-1zM8 0h1v1h-1zM52 0h1v1h-1zM56 0h1v1h-1zM58 0h1v1h-1zM61 0h2v1h-2zM90 0h1v1h-1zM8 1h1v1h-1zM53 1h5v1h-5zM59 1h3v1h-3zM64 1h2v1h-2zM68 1h1v1h-1zM71 1h1v1h-1zM73 1h4v1h-4zM54 2h1v1h-1zM57 2h6v1h-6zM65 2h4v1h-4zM72 2h1v1h-1zM74 2h1v1h-1zM79 2h1v1h-1zM86 2h1v1h-1zM90 2h3v1h-3zM96 2h1v1h-1zM9 3h1v1h-1zM38 3h1v1h-1zM51 3h2v1h-2zM54 3h1v1h-1zM56 3h1v1h-1zM58 3h1v1h-1zM60 3h3v1h-3zM65 3h1v1h-1zM74 3h1v1h-1zM19 4h1v1h-1zM51 4h1v1h-1zM57 4h1v1h-1zM61 4h2v1h-2zM73 4h1v1h-1zM76 4h1v1h-1zM36 5h1v1h-1zM53 5h1v1h-1zM55 5h4v1h-4zM61 5h1v1h-1zM64 5h1v1h-1zM69 5h1v1h-1zM77 5h1v1h-1zM94 5h1v1h-1zM0 6h1v1h-1zM26 6h1v1h-1zM28 6h1v1h-1zM34 6h2v1h-2zM37 6h2v1h-2zM42 6h1v1h-1zM44 6h5v1h-5zM65 6h7v1h-7zM73 6h2v1h-2zM78 6h3v1h-3zM85 6h2v1h-2zM88 6h1v1h-1zM91 6h1v1h-1zM99 6h1v1h-1zM101 6h1v1h-1zM26 7h1v1h-1zM28 7h4v1h-4zM41 7h2v1h-2zM44 7h2v1h-2zM47 7h1v1h-1zM66 7h1v1h-1zM68 7h2v1h-2zM71 7h1v1h-1zM76 7h1v1h-1zM79 7h1v1h-1zM81 7h5v1h-5zM89 7h1v1h-1zM92 7h2v1h-2zM95 7h4v1h-4zM101 7h2v1h-2zM0 8h2v1h-2zM19 8h1v1h-1zM26 8h2v1h-2zM30 8h1v1h-1zM34 8h2v1h-2zM38 8h1v1h-1zM40 8h3v1h-3zM48 8h3v1h-3zM53 8h1v1h-1zM64 8h1v1h-1zM68 8h2v1h-2zM74 8h2v1h-2zM88 8h1v1h-1zM91 8h1v1h-1zM3 9h1v1h-1zM19 9h1v1h-1zM26 9h2v1h-2zM31 9h1v1h-1zM33 9h3v1h-3zM40 9h2v1h-2zM43 9h2v1h-2zM58 9h1v1h-1zM65 9h1v1h-1zM73 9h1v1h-1zM77 9h1v1h-1zM83 9h1v1h-1zM26 10h1v1h-1zM29 10h1v1h-1zM31 10h1v1h-1zM34 10h1v1h-1zM37 10h2v1h-2zM41 10h1v1h-1zM43 10h1v1h-1zM48 10h1v1h-1zM65 10h3v1h-3zM69 10h2v1h-2zM75 10h1v1h-1zM83 10h1v1h-1zM87 10h2v1h-2zM90 10h1v1h-1zM92 10h1v1h-1zM27 11h4v1h-4zM34 11h1v1h-1zM37 11h2v1h-2zM40 11h2v1h-2zM45 11h1v1h-1zM47 11h1v1h-1zM49 11h1v1h-1zM65 11h1v1h-1zM67 11h3v1h-3zM76 11h3v1h-3zM80 11h1v1h-1zM85 11h2v1h-2zM88 11h2v1h-2zM91 11h2v1h-2zM95 11h4v1h-4zM31 12h1v1h-1zM34 12h1v1h-1zM37 12h6v1h-6zM44 12h2v1h-2zM47 12h2v1h-2zM50 12h1v1h-1zM65 12h1v1h-1zM68 12h2v1h-2zM71 12h1v1h-1zM75 12h1v1h-1zM77 12h1v1h-1zM79 12h2v1h-2zM83 12h1v1h-1zM85 12h1v1h-1zM89 12h3v1h-3zM93 12h2v1h-2zM96 12h1v1h-1zM99 12h1v1h-1zM28 13h1v1h-1zM30 13h1v1h-1zM38 13h1v1h-1zM45 13h1v1h-1zM71 13h1v1h-1zM80 13h1v1h-1zM82 13h1v1h-1zM85 13h1v1h-1zM87 13h1v1h-1zM90 13h1v1h-1zM93 13h2v1h-2zM96 13h4v1h-4zM101 13h1v1h-1zM103 13h1v1h-1zM42 14h1v1h-1zM44 14h2v1h-2zM47 14h1v1h-1zM49 14h1v1h-1zM59 14h1v1h-1zM64 14h2v1h-2zM68 14h4v1h-4zM74 14h2v1h-2zM78 14h2v1h-2zM82 14h3v1h-3zM90 14h3v1h-3zM94 14h1v1h-1zM96 14h1v1h-1zM100 14h1v1h-1zM27 15h2v1h-2zM32 15h2v1h-2zM40 15h1v1h-1zM42 15h2v1h-2zM50 15h1v1h-1zM68 15h2v1h-2zM73 15h1v1h-1zM77 15h1v1h-1zM80 15h2v1h-2zM83 15h2v1h-2zM88 15h2v1h-2zM91 15h2v1h-2zM94 15h3v1h-3zM98 15h1v1h-1zM100 15h1v1h-1zM102 15h1v1h-1zM77 16h1v1h-1zM82 16h1v1h-1zM87 16h1v1h-1zM98 16h1v1h-1zM103 16h1v1h-1zM31 17h1v1h-1zM34 17h1v1h-1zM43 17h1v1h-1zM65 17h1v1h-1zM71 17h1v1h-1zM76 17h1v1h-1zM79 17h1v1h-1zM82 17h2v1h-2zM89 17h1v1h-1zM92 17h2v1h-2zM95 17h1v1h-1zM97 17h1v1h-1zM100 17h3v1h-3zM27 18h2v1h-2zM30 18h1v1h-1zM33 18h1v1h-1zM45 18h1v1h-1zM64 18h2v1h-2zM71 18h1v1h-1zM76 18h2v1h-2zM79 18h1v1h-1zM83 18h1v1h-1zM85 18h2v1h-2zM88 18h5v1h-5zM94 18h3v1h-3zM98 18h6v1h-6zM4 19h1v1h-1zM8 19h2v1h-2zM28 19h1v1h-1zM31 19h1v1h-1zM34 19h1v1h-1zM37 19h1v1h-1zM39 19h2v1h-2zM45 19h1v1h-1zM47 19h1v1h-1zM64 19h2v1h-2zM67 19h2v1h-2zM74 19h1v1h-1zM79 19h2v1h-2zM82 19h1v1h-1zM85 19h1v1h-1zM89 19h1v1h-1zM91 19h3v1h-3zM96 19h3v1h-3zM101 19h2v1h-2zM31 20h1v1h-1zM33 20h2v1h-2zM45 20h2v1h-2zM64 20h1v1h-1zM68 20h2v1h-2zM74 20h1v1h-1zM78 20h1v1h-1zM80 20h2v1h-2zM83 20h3v1h-3zM87 20h1v1h-1zM89 20h2v1h-2zM93 20h1v1h-1zM96 20h4v1h-4zM102 20h2v1h-2zM27 21h1v1h-1zM30 21h1v1h-1zM35 21h1v1h-1zM49 21h1v1h-1zM65 21h1v1h-1zM67 21h2v1h-2zM70 21h2v1h-2zM80 21h1v1h-1zM83 21h1v1h-1zM86 21h1v1h-1zM89 21h2v1h-2zM93 21h1v1h-1zM95 21h3v1h-3zM99 21h4v1h-4zM32 22h1v1h-1zM34 22h2v1h-2zM37 22h1v1h-1zM39 22h2v1h-2zM44 22h1v1h-1zM64 22h1v1h-1zM68 22h1v1h-1zM70 22h2v1h-2zM75 22h1v1h-1zM78 22h3v1h-3zM82 22h1v1h-1zM84 22h1v1h-1zM86 22h1v1h-1zM91 22h1v1h-1zM93 22h1v1h-1zM99 22h1v1h-1zM102 22h1v1h-1zM28 23h1v1h-1zM33 23h1v1h-1zM45 23h1v1h-1zM49 23h1v1h-1zM66 23h1v1h-1zM69 23h2v1h-2zM78 23h1v1h-1zM82 23h1v1h-1zM86 23h1v1h-1zM92 23h1v1h-1zM95 23h5v1h-5zM102 23h2v1h-2zM67 24h1v1h-1zM81 24h5v1h-5zM94 24h2v1h-2zM98 24h2v1h-2zM101 24h1v1h-1zM28 25h1v1h-1zM30 25h1v1h-1zM39 25h1v1h-1zM49 25h1v1h-1zM65 25h1v1h-1zM70 25h1v1h-1zM78 25h1v1h-1zM80 25h1v1h-1zM84 25h1v1h-1zM87 25h1v1h-1zM90 25h3v1h-3zM95 25h1v1h-1zM97 25h5v1h-5zM6 26h5v1h-5zM8 27h2v1h-2zM11 27h1v1h-1zM15 27h1v1h-1zM18 27h1v1h-1zM21 27h1v1h-1zM85 27h1v1h-1zM6 28h2v1h-2zM11 28h1v1h-1zM13 28h1v1h-1zM15 28h1v1h-1zM18 28h2v1h-2zM23 28h1v1h-1zM25 28h1v1h-1zM79 28h1v1h-1zM81 28h1v1h-1zM84 28h1v1h-1zM7 29h1v1h-1zM10 29h2v1h-2zM82 29h1v1h-1zM7 30h2v1h-2zM11 30h1v1h-1zM13 30h1v1h-1zM18 30h1v1h-1zM21 30h1v1h-1zM25 30h1v1h-1zM79 30h1v1h-1zM84 30h1v1h-1zM86 30h1v1h-1zM7 31h1v1h-1zM9 31h2v1h-2zM12 31h1v1h-1zM17 31h1v1h-1zM19 31h2v1h-2zM78 31h1v1h-1zM82 31h1v1h-1zM15 32h1v1h-1zM22 32h1v1h-1zM78 32h1v1h-1zM81 32h2v1h-2zM85 32h1v1h-1zM9 33h1v1h-1zM15 33h1v1h-1zM18 33h1v1h-1zM20 33h1v1h-1zM23 33h1v1h-1zM6 34h1v1h-1zM8 34h5v1h-5zM17 34h1v1h-1zM19 34h2v1h-2zM22 34h1v1h-1zM77 34h1v1h-1zM82 34h1v1h-1zM86 34h1v1h-1zM6 35h1v1h-1zM8 35h2v1h-2zM21 35h2v1h-2zM5 36h1v1h-1zM6 37h1v1h-1zM10 37h3v1h-3zM19 37h1v1h-1zM22 37h1v1h-1zM82 37h1v1h-1zM3 38h1v1h-1zM6 38h1v1h-1zM8 38h1v1h-1zM10 38h4v1h-4zM12 39h1v1h-1zM19 39h1v1h-1zM22 39h1v1h-1zM25 39h1v1h-1zM77 39h2v1h-2zM81 39h2v1h-2zM86 39h1v1h-1zM8 40h2v1h-2zM11 40h2v1h-2zM15 40h1v1h-1zM19 40h1v1h-1zM22 40h1v1h-1zM77 40h2v1h-2zM86 40h1v1h-1zM7 41h6v1h-6zM6 42h3v1h-3zM12 42h1v1h-1zM14 42h2v1h-2zM82 42h1v1h-1zM9 43h2v1h-2zM15 43h1v1h-1zM17 43h1v1h-1zM6 44h2v1h-2zM9 44h1v1h-1zM12 44h1v1h-1zM14 44h1v1h-1zM22 44h1v1h-1zM81 44h1v1h-1zM6 45h2v1h-2zM11 45h4v1h-4zM18 45h3v1h-3zM23 45h1v1h-1zM78 45h1v1h-1zM84 45h1v1h-1zM86 45h1v1h-1zM6 46h1v1h-1zM20 46h1v1h-1zM82 46h1v1h-1zM6 47h2v1h-2zM11 47h2v1h-2zM14 47h1v1h-1zM19 47h1v1h-1zM82 47h1v1h-1zM6 48h1v1h-1zM8 48h1v1h-1zM10 48h1v1h-1zM12 48h1v1h-1zM8 49h1v1h-1zM11 49h1v1h-1zM14 49h1v1h-1zM21 49h1v1h-1zM23 49h1v1h-1zM25 49h1v1h-1zM81 49h1v1h-1zM8 50h1v1h-1zM12 50h1v1h-1zM15 50h1v1h-1zM3 51h2v1h-2zM87 51h1v1h-1zM90 51h1v1h-1zM0 52h1v1h-1zM3 52h1v1h-1zM1 53h1v1h-1zM5 53h1v1h-1zM8 53h1v1h-1zM78 53h1v1h-1zM81 53h2v1h-2zM87 53h1v1h-1zM1 54h3v1h-3zM1 55h1v1h-1zM5 55h1v1h-1zM0 56h2v1h-2zM3 56h1v1h-1zM5 56h1v1h-1zM1 57h2v1h-2zM4 57h2v1h-2zM81 57h2v1h-2zM0 58h1v1h-1zM2 58h2v1h-2zM5 58h1v1h-1zM9 58h1v1h-1zM84 58h1v1h-1zM87 58h1v1h-1zM1 59h2v1h-2zM14 59h1v1h-1zM78 59h1v1h-1zM82 59h1v1h-1zM84 59h1v1h-1zM86 59h2v1h-2zM1 60h3v1h-3zM0 61h6v1h-6zM77 61h1v1h-1zM0 62h1v1h-1zM2 62h3v1h-3zM78 63h1v1h-1zM81 63h1v1h-1zM85 63h2v1h-2zM1 64h1v1h-1zM5 64h1v1h-1zM8 64h1v1h-1zM14 64h1v1h-1zM18 64h3v1h-3zM22 64h1v1h-1zM82 64h1v1h-1zM87 64h1v1h-1zM1 65h3v1h-3zM6 65h1v1h-1zM9 65h4v1h-4zM14 65h1v1h-1zM17 65h3v1h-3zM21 65h1v1h-1zM25 65h1v1h-1zM77 65h1v1h-1zM82 65h1v1h-1zM84 65h1v1h-1zM93 65h1v1h-1zM2 66h1v1h-1zM6 66h2v1h-2zM10 66h1v1h-1zM23 66h1v1h-1zM2 67h1v1h-1zM6 67h1v1h-1zM10 67h2v1h-2zM19 67h1v1h-1zM21 67h1v1h-1zM24 67h1v1h-1zM81 67h1v1h-1zM1 68h2v1h-2zM6 68h3v1h-3zM11 68h2v1h-2zM14 68h2v1h-2zM19 68h4v1h-4zM82 68h1v1h-1zM5 69h4v1h-4zM10 69h3v1h-3zM14 69h2v1h-2zM20 69h1v1h-1zM23 69h1v1h-1zM78 69h1v1h-1zM82 69h1v1h-1zM86 69h2v1h-2zM90 69h1v1h-1zM6 70h1v1h-1zM10 70h1v1h-1zM14 70h1v1h-1zM21 70h3v1h-3zM25 70h1v1h-1zM79 70h1v1h-1zM81 70h2v1h-2zM87 70h1v1h-1zM92 70h1v1h-1zM94 70h1v1h-1zM100 70h1v1h-1zM1 71h1v1h-1zM6 71h2v1h-2zM12 71h3v1h-3zM17 71h2v1h-2zM21 71h2v1h-2zM78 71h1v1h-1zM81 71h1v1h-1zM100 71h1v1h-1zM2 72h1v1h-1zM77 72h1v1h-1zM85 72h1v1h-1zM87 72h1v1h-1zM1 73h1v1h-1zM4 73h1v1h-1zM6 73h1v1h-1zM9 73h1v1h-1zM15 73h1v1h-1zM1 74h3v1h-3zM6 74h1v1h-1zM8 74h1v1h-1zM14 74h1v1h-1zM19 74h2v1h-2zM82 74h1v1h-1zM1 75h1v1h-1zM8 75h1v1h-1zM10 75h1v1h-1zM12 75h1v1h-1zM14 75h1v1h-1zM22 75h1v1h-1zM1 76h1v1h-1zM4 76h1v1h-1zM7 76h1v1h-1zM11 76h1v1h-1zM17 76h2v1h-2zM85 76h1v1h-1zM5 77h1v1h-1zM9 77h1v1h-1zM11 77h2v1h-2zM15 77h2v1h-2zM18 77h1v1h-1zM34 77h1v1h-1zM39 77h2v1h-2zM61 77h1v1h-1zM65 77h1v1h-1zM72 77h1v1h-1zM87 77h1v1h-1zM92 77h1v1h-1zM100 77h1v1h-1zM6 78h1v1h-1zM11 78h1v1h-1zM14 78h1v1h-1zM20 78h1v1h-1zM22 78h2v1h-2zM25 78h1v1h-1zM31 78h2v1h-2zM39 78h2v1h-2zM45 78h1v1h-1zM53 78h1v1h-1zM59 78h1v1h-1zM63 78h1v1h-1zM69 78h1v1h-1zM71 78h1v1h-1zM87 78h1v1h-1zM93 78h1v1h-1zM96 78h1v1h-1zM2 79h1v1h-1zM6 79h2v1h-2zM12 79h1v1h-1zM14 79h1v1h-1zM17 79h3v1h-3zM22 79h1v1h-1zM28 79h1v1h-1zM30 79h1v1h-1zM70 79h1v1h-1zM103 79h1v1h-1zM6 80h1v1h-1zM11 80h3v1h-3zM15 80h1v1h-1zM19 80h4v1h-4zM25 80h1v1h-1zM7 81h1v1h-1zM15 81h1v1h-1zM20 81h1v1h-1zM24 81h1v1h-1zM28 81h1v1h-1zM32 81h1v1h-1zM39 81h1v1h-1zM44 81h1v1h-1zM49 81h1v1h-1zM53 81h1v1h-1zM57 81h1v1h-1zM63 81h1v1h-1zM67 81h1v1h-1zM70 81h2v1h-2zM94 81h1v1h-1zM7 82h1v1h-1zM13 82h2v1h-2zM16 82h2v1h-2zM19 82h1v1h-1zM22 82h3v1h-3zM29 82h1v1h-1zM31 82h2v1h-2zM34 82h1v1h-1zM37 82h1v1h-1zM39 82h1v1h-1zM42 82h1v1h-1zM46 82h2v1h-2zM53 82h1v1h-1zM57 82h1v1h-1zM59 82h1v1h-1zM64 82h2v1h-2zM68 82h3v1h-3zM74 82h1v1h-1zM93 82h1v1h-1zM95 82h1v1h-1zM98 82h1v1h-1zM100 82h1v1h-1zM103 82h1v1h-1zM7 83h1v1h-1zM9 83h2v1h-2zM12 83h1v1h-1zM14 83h2v1h-2zM17 83h2v1h-2zM20 83h2v1h-2zM24 83h1v1h-1zM7 84h1v1h-1zM14 84h2v1h-2zM20 84h1v1h-1zM22 84h1v1h-1zM24 84h2v1h-2zM28 84h1v1h-1zM30 84h1v1h-1zM45 84h1v1h-1zM58 84h2v1h-2zM65 84h1v1h-1zM6 85h2v1h-2zM11 85h3v1h-3zM18 85h3v1h-3zM24 85h1v1h-1zM27 85h1v1h-1zM32 85h1v1h-1zM63 85h1v1h-1zM72 85h1v1h-1zM76 85h1v1h-1zM2 86h1v1h-1zM6 86h1v1h-1zM11 86h1v1h-1zM18 86h1v1h-1zM21 86h3v1h-3zM30 86h1v1h-1zM34 86h1v1h-1zM39 86h2v1h-2zM45 86h1v1h-1zM59 86h1v1h-1zM63 86h1v1h-1zM69 86h1v1h-1zM10 87h1v1h-1zM13 87h1v1h-1zM16 87h1v1h-1zM20 87h1v1h-1zM25 87h1v1h-1zM51 87h1v1h-1zM53 87h1v1h-1zM58 87h2v1h-2zM64 87h1v1h-1zM69 87h2v1h-2zM72 87h1v1h-1zM77 87h2v1h-2zM6 88h1v1h-1zM8 88h1v1h-1zM10 88h2v1h-2zM15 88h1v1h-1zM18 88h1v1h-1zM7 89h1v1h-1zM11 89h2v1h-2zM15 89h1v1h-1zM17 89h5v1h-5zM0 90h1v1h-1zM2 90h1v1h-1zM10 90h1v1h-1zM12 90h3v1h-3zM18 90h1v1h-1zM20 90h2v1h-2zM25 90h1v1h-1zM51 90h1v1h-1zM69 90h1v1h-1zM2 91h1v1h-1zM6 91h1v1h-1zM8 91h1v1h-1zM11 91h2v1h-2zM14 91h2v1h-2zM18 91h2v1h-2zM22 91h1v1h-1zM25 91h1v1h-1zM2 92h1v1h-1zM7 92h1v1h-1zM10 92h2v1h-2zM14 92h2v1h-2zM17 92h3v1h-3zM23 92h1v1h-1zM25 92h1v1h-1zM70 92h1v1h-1zM77 92h1v1h-1zM7 93h1v1h-1zM12 93h2v1h-2zM17 93h1v1h-1zM19 93h4v1h-4zM65 93h1v1h-1zM78 93h1v1h-1zM82 93h1v1h-1zM5 94h1v1h-1zM12 94h4v1h-4zM18 94h1v1h-1zM24 94h1v1h-1zM70 94h1v1h-1zM81 94h1v1h-1zM7 95h1v1h-1zM11 95h1v1h-1zM15 95h1v1h-1zM17 95h2v1h-2zM21 95h1v1h-1zM23 95h3v1h-3zM82 95h1v1h-1zM2 96h1v1h-1zM7 96h1v1h-1zM11 96h5v1h-5zM18 96h4v1h-4zM23 96h1v1h-1zM78 96h1v1h-1zM7 97h1v1h-1zM11 97h1v1h-1zM13 97h1v1h-1zM17 97h1v1h-1zM19 97h3v1h-3zM23 97h1v1h-1zM25 97h1v1h-1zM7 98h1v1h-1zM11 98h1v1h-1zM13 98h1v1h-1zM15 98h2v1h-2zM18 98h3v1h-3zM23 98h3v1h-3zM82 98h1v1h-1zM6 99h1v1h-1zM12 99h2v1h-2zM18 99h1v1h-1zM20 99h6v1h-6zM14 100h2v1h-2zM17 100h2v1h-2zM21 100h1v1h-1zM25 100h1v1h-1zM70 100h2v1h-2zM77 100h1v1h-1zM82 100h1v1h-1zM6 101h2v1h-2zM13 101h1v1h-1zM17 101h3v1h-3zM21 101h1v1h-1zM24 101h2v1h-2zM7 102h1v1h-1zM15 102h1v1h-1zM17 102h7v1h-7zM13 103h1v1h-1zM16 103h1v1h-1zM18 103h1v1h-1zM20 103h1v1h-1zM23 103h1v1h-1zM79 103h1v1h-1zM82 103h1v1h-1z"/>
<path fill="#d1dae8" d="M5 0h1v1h-1zM9 0h3v1h-3zM55 0h1v1h-1zM73 0h1v1h-1zM9 1h1v1h-1zM18 1h2v1h-2zM58 1h1v1h-1zM62 1h1v1h-1zM9 2h1v1h-1zM11 2h1v1h-1zM15 2h1v1h-1zM18 2h1v1h-1zM31 2h1v1h-1zM51 2h3v1h-3zM55 2h2v1h-2zM76 2h1v1h-1zM7 3h2v1h-2zM18 3h1v1h-1zM22 3h1v1h-1zM7 4h6v1h-6zM18 4h1v1h-1zM21 4h1v1h-1zM56 4h1v1h-1zM60 4h1v1h-1zM0 5h1v1h-1zM7 5h3v1h-3zM11 5h1v1h-1zM52 5h1v1h-1zM54 5h1v1h-1zM59 5h1v1h-1zM62 5h2v1h-2zM27 6h1v1h-1zM41 6h1v1h-1zM49 6h1v1h-1zM52 6h2v1h-2zM75 6h3v1h-3zM3 7h3v1h-3zM27 7h1v1h-1zM33 7h1v1h-1zM35 7h6v1h-6zM46 7h1v1h-1zM50 7h1v1h-1zM64 7h1v1h-1zM73 7h2v1h-2zM80 7h1v1h-1zM88 7h1v1h-1zM3 8h3v1h-3zM14 8h2v1h-2zM20 8h1v1h-1zM22 8h1v1h-1zM36 8h1v1h-1zM54 8h2v1h-2zM58 8h4v1h-4zM63 8h1v1h-1zM76 8h1v1h-1zM0 9h3v1h-3zM4 9h2v1h-2zM14 9h1v1h-1zM21 9h1v1h-1zM24 9h1v1h-1zM36 9h1v1h-1zM51 9h1v1h-1zM53 9h3v1h-3zM59 9h2v1h-2zM63 9h1v1h-1zM75 9h1v1h-1zM0 10h1v1h-1zM4 10h1v1h-1zM27 10h1v1h-1zM33 10h1v1h-1zM35 10h2v1h-2zM40 10h1v1h-1zM45 10h2v1h-2zM50 10h1v1h-1zM72 10h3v1h-3zM76 10h1v1h-1zM89 10h1v1h-1zM0 11h1v1h-1zM2 11h1v1h-1zM4 11h2v1h-2zM14 11h1v1h-1zM26 11h1v1h-1zM31 11h1v1h-1zM35 11h2v1h-2zM44 11h1v1h-1zM63 11h2v1h-2zM73 11h2v1h-2zM101 11h2v1h-2zM4 12h1v1h-1zM30 12h1v1h-1zM32 12h2v1h-2zM35 12h1v1h-1zM46 12h1v1h-1zM49 12h1v1h-1zM63 12h2v1h-2zM66 12h1v1h-1zM70 12h1v1h-1zM72 12h2v1h-2zM76 12h1v1h-1zM86 12h1v1h-1zM88 12h1v1h-1zM95 12h1v1h-1zM103 12h1v1h-1zM27 13h1v1h-1zM32 13h1v1h-1zM34 13h1v1h-1zM37 13h1v1h-1zM41 13h1v1h-1zM49 13h1v1h-1zM64 13h1v1h-1zM66 13h5v1h-5zM79 13h1v1h-1zM81 13h1v1h-1zM83 13h2v1h-2zM86 13h1v1h-1zM88 13h1v1h-1zM91 13h2v1h-2zM100 13h1v1h-1zM8 14h2v1h-2zM11 14h1v1h-1zM31 14h1v1h-1zM35 14h1v1h-1zM37 14h2v1h-2zM40 14h2v1h-2zM80 14h1v1h-1zM86 14h4v1h-4zM97 14h1v1h-1zM102 14h1v1h-1zM2 15h1v1h-1zM8 15h1v1h-1zM30 15h2v1h-2zM34 15h1v1h-1zM37 15h1v1h-1zM39 15h1v1h-1zM44 15h1v1h-1zM46 15h2v1h-2zM55 15h1v1h-1zM64 15h2v1h-2zM67 15h1v1h-1zM71 15h2v1h-2zM74 15h1v1h-1zM76 15h1v1h-1zM85 15h1v1h-1zM101 15h1v1h-1zM32 16h1v1h-1zM67 16h1v1h-1zM71 16h1v1h-1zM78 16h1v1h-1zM81 16h1v1h-1zM83 16h4v1h-4zM90 16h3v1h-3zM94 16h1v1h-1zM97 16h1v1h-1zM99 16h4v1h-4zM28 17h3v1h-3zM32 17h1v1h-1zM38 17h1v1h-1zM40 17h3v1h-3zM44 17h2v1h-2zM50 17h1v1h-1zM66 17h5v1h-5zM72 17h2v1h-2zM75 17h1v1h-1zM77 17h2v1h-2zM80 17h1v1h-1zM85 17h2v1h-2zM88 17h1v1h-1zM90 17h2v1h-2zM94 17h1v1h-1zM1 18h4v1h-4zM31 18h1v1h-1zM35 18h1v1h-1zM37 18h6v1h-6zM46 18h2v1h-2zM50 18h1v1h-1zM66 18h4v1h-4zM72 18h2v1h-2zM75 18h1v1h-1zM80 18h1v1h-1zM93 18h1v1h-1zM1 19h1v1h-1zM26 19h2v1h-2zM29 19h1v1h-1zM33 19h1v1h-1zM35 19h1v1h-1zM38 19h1v1h-1zM41 19h4v1h-4zM46 19h1v1h-1zM48 19h1v1h-1zM50 19h1v1h-1zM53 19h1v1h-1zM60 19h1v1h-1zM62 19h1v1h-1zM66 19h1v1h-1zM69 19h1v1h-1zM72 19h2v1h-2zM75 19h2v1h-2zM100 19h1v1h-1zM8 20h1v1h-1zM27 20h1v1h-1zM30 20h1v1h-1zM32 20h1v1h-1zM42 20h2v1h-2zM47 20h1v1h-1zM50 20h1v1h-1zM55 20h1v1h-1zM65 20h3v1h-3zM70 20h4v1h-4zM75 20h1v1h-1zM77 20h1v1h-1zM79 20h1v1h-1zM86 20h1v1h-1zM88 20h1v1h-1zM91 20h1v1h-1zM94 20h2v1h-2zM101 20h1v1h-1zM4 21h1v1h-1zM9 21h1v1h-1zM28 21h1v1h-1zM31 21h1v1h-1zM33 21h2v1h-2zM37 21h1v1h-1zM39 21h2v1h-2zM43 21h1v1h-1zM45 21h3v1h-3zM50 21h1v1h-1zM53 21h1v1h-1zM64 21h1v1h-1zM69 21h1v1h-1zM72 21h2v1h-2zM76 21h1v1h-1zM79 21h1v1h-1zM84 21h2v1h-2zM92 21h1v1h-1zM94 21h1v1h-1zM98 21h1v1h-1zM3 22h1v1h-1zM8 22h1v1h-1zM27 22h1v1h-1zM30 22h2v1h-2zM38 22h1v1h-1zM41 22h2v1h-2zM46 22h2v1h-2zM49 22h1v1h-1zM61 22h1v1h-1zM66 22h2v1h-2zM69 22h1v1h-1zM72 22h1v1h-1zM74 22h1v1h-1zM76 22h1v1h-1zM83 22h1v1h-1zM87 22h3v1h-3zM97 22h1v1h-1zM27 23h1v1h-1zM30 23h3v1h-3zM34 23h1v1h-1zM37 23h1v1h-1zM40 23h1v1h-1zM42 23h2v1h-2zM46 23h1v1h-1zM64 23h1v1h-1zM67 23h1v1h-1zM71 23h3v1h-3zM75 23h1v1h-1zM77 23h1v1h-1zM79 23h2v1h-2zM83 23h1v1h-1zM89 23h1v1h-1zM94 23h1v1h-1zM101 23h1v1h-1zM9 24h1v1h-1zM27 24h2v1h-2zM30 24h5v1h-5zM37 24h1v1h-1zM40 24h3v1h-3zM44 24h2v1h-2zM47 24h1v1h-1zM64 24h3v1h-3zM71 24h2v1h-2zM76 24h1v1h-1zM79 24h1v1h-1zM88 24h1v1h-1zM92 24h1v1h-1zM96 24h2v1h-2zM100 24h1v1h-1zM102 24h1v1h-1zM32 25h2v1h-2zM35 25h1v1h-1zM37 25h1v1h-1zM40 25h1v1h-1zM42 25h1v1h-1zM45 25h1v1h-1zM47 25h1v1h-1zM59 25h1v1h-1zM64 25h1v1h-1zM66 25h1v1h-1zM69 25h1v1h-1zM71 25h1v1h-1zM77 25h1v1h-1zM83 25h1v1h-1zM86 25h1v1h-1zM88 25h2v1h-2zM96 25h1v1h-1zM102 25h2v1h-2zM11 26h1v1h-1zM19 26h1v1h-1zM78 26h1v1h-1zM81 26h2v1h-2zM6 27h2v1h-2zM10 27h1v1h-1zM13 27h1v1h-1zM19 27h2v1h-2zM22 27h3v1h-3zM79 27h1v1h-1zM81 27h1v1h-1zM84 27h1v1h-1zM17 28h1v1h-1zM21 28h1v1h-1zM24 28h1v1h-1zM77 28h2v1h-2zM86 28h1v1h-1zM17 29h1v1h-1zM19 29h1v1h-1zM77 29h2v1h-2zM12 30h1v1h-1zM15 30h1v1h-1zM17 30h1v1h-1zM20 30h1v1h-1zM22 30h3v1h-3zM87 30h1v1h-1zM2 31h1v1h-1zM11 31h1v1h-1zM14 31h2v1h-2zM18 31h1v1h-1zM21 31h4v1h-4zM77 31h1v1h-1zM79 31h2v1h-2zM84 31h2v1h-2zM12 32h2v1h-2zM16 32h2v1h-2zM20 32h1v1h-1zM23 32h3v1h-3zM77 32h1v1h-1zM79 32h1v1h-1zM84 32h1v1h-1zM86 32h2v1h-2zM7 33h1v1h-1zM10 33h1v1h-1zM12 33h1v1h-1zM19 33h1v1h-1zM21 33h1v1h-1zM24 33h2v1h-2zM77 33h2v1h-2zM81 33h2v1h-2zM84 33h2v1h-2zM13 34h1v1h-1zM15 34h1v1h-1zM21 34h1v1h-1zM23 34h2v1h-2zM78 34h3v1h-3zM84 34h1v1h-1zM7 35h1v1h-1zM10 35h3v1h-3zM14 35h1v1h-1zM18 35h2v1h-2zM25 35h1v1h-1zM77 35h1v1h-1zM81 35h2v1h-2zM84 35h1v1h-1zM86 35h1v1h-1zM7 36h5v1h-5zM7 37h1v1h-1zM13 37h3v1h-3zM18 37h1v1h-1zM21 37h1v1h-1zM23 37h3v1h-3zM78 37h1v1h-1zM81 37h1v1h-1zM84 37h1v1h-1zM7 38h1v1h-1zM14 38h1v1h-1zM17 38h3v1h-3zM22 38h1v1h-1zM78 38h1v1h-1zM84 38h1v1h-1zM7 39h1v1h-1zM15 39h1v1h-1zM18 39h1v1h-1zM21 39h1v1h-1zM79 39h1v1h-1zM84 39h1v1h-1zM87 39h1v1h-1zM7 40h1v1h-1zM10 40h1v1h-1zM14 40h1v1h-1zM17 40h2v1h-2zM21 40h1v1h-1zM23 40h3v1h-3zM79 40h4v1h-4zM84 40h2v1h-2zM6 41h1v1h-1zM13 41h2v1h-2zM17 41h3v1h-3zM22 41h1v1h-1zM24 41h1v1h-1zM82 41h1v1h-1zM17 42h4v1h-4zM22 42h4v1h-4zM78 42h1v1h-1zM81 42h1v1h-1zM84 42h1v1h-1zM86 42h1v1h-1zM19 43h3v1h-3zM23 43h1v1h-1zM77 43h2v1h-2zM81 43h1v1h-1zM85 43h2v1h-2zM11 44h1v1h-1zM15 44h1v1h-1zM17 44h1v1h-1zM19 44h1v1h-1zM24 44h1v1h-1zM78 44h2v1h-2zM82 44h1v1h-1zM84 44h1v1h-1zM10 45h1v1h-1zM17 45h1v1h-1zM21 45h1v1h-1zM24 45h2v1h-2zM77 45h1v1h-1zM79 45h3v1h-3zM85 45h1v1h-1zM7 46h1v1h-1zM10 46h1v1h-1zM12 46h1v1h-1zM15 46h1v1h-1zM18 46h2v1h-2zM21 46h3v1h-3zM15 47h1v1h-1zM18 47h1v1h-1zM20 47h3v1h-3zM24 47h2v1h-2zM77 47h5v1h-5zM84 47h1v1h-1zM90 47h1v1h-1zM19 48h1v1h-1zM6 49h1v1h-1zM12 49h2v1h-2zM22 49h1v1h-1zM78 49h1v1h-1zM84 49h1v1h-1zM87 49h1v1h-1zM7 50h1v1h-1zM10 50h1v1h-1zM17 50h5v1h-5zM85 50h2v1h-2zM2 51h1v1h-1zM9 51h1v1h-1zM78 51h2v1h-2zM81 51h2v1h-2zM84 51h2v1h-2zM94 51h1v1h-1zM2 52h1v1h-1zM5 52h2v1h-2zM77 52h2v1h-2zM84 52h1v1h-1zM87 52h1v1h-1zM103 52h1v1h-1zM2 53h1v1h-1zM6 53h1v1h-1zM9 53h1v1h-1zM19 53h1v1h-1zM21 53h1v1h-1zM77 53h1v1h-1zM79 53h2v1h-2zM84 53h2v1h-2zM92 53h2v1h-2zM98 53h1v1h-1zM100 53h1v1h-1zM103 53h1v1h-1zM5 54h1v1h-1zM8 54h2v1h-2zM81 54h1v1h-1zM84 54h1v1h-1zM100 54h1v1h-1zM0 55h1v1h-1zM2 55h1v1h-1zM8 55h2v1h-2zM15 55h1v1h-1zM20 55h1v1h-1zM77 55h1v1h-1zM81 55h2v1h-2zM86 55h2v1h-2zM98 55h1v1h-1zM103 55h1v1h-1zM2 56h1v1h-1zM4 56h1v1h-1zM81 56h2v1h-2zM87 56h1v1h-1zM90 56h1v1h-1zM78 57h1v1h-1zM84 57h2v1h-2zM93 57h2v1h-2zM100 57h1v1h-1zM1 58h1v1h-1zM8 58h1v1h-1zM77 58h2v1h-2zM81 58h2v1h-2zM85 58h2v1h-2zM90 58h1v1h-1zM5 59h1v1h-1zM8 59h2v1h-2zM25 59h1v1h-1zM77 59h1v1h-1zM79 59h1v1h-1zM90 59h1v1h-1zM92 59h2v1h-2zM100 59h1v1h-1zM4 60h1v1h-1zM8 60h2v1h-2zM19 60h1v1h-1zM81 60h2v1h-2zM84 60h1v1h-1zM90 60h1v1h-1zM97 60h1v1h-1zM100 60h1v1h-1zM8 61h1v1h-1zM22 61h1v1h-1zM81 61h2v1h-2zM86 61h2v1h-2zM93 61h1v1h-1zM1 62h1v1h-1zM5 62h1v1h-1zM19 62h1v1h-1zM79 62h1v1h-1zM82 62h1v1h-1zM87 62h1v1h-1zM103 62h1v1h-1zM5 63h1v1h-1zM8 63h2v1h-2zM11 63h2v1h-2zM82 63h1v1h-1zM84 63h1v1h-1zM87 63h1v1h-1zM93 63h1v1h-1zM100 63h1v1h-1zM103 63h1v1h-1zM7 64h1v1h-1zM11 64h3v1h-3zM15 64h1v1h-1zM21 64h1v1h-1zM23 64h3v1h-3zM77 64h2v1h-2zM83 64h2v1h-2zM86 64h1v1h-1zM103 64h1v1h-1zM15 65h1v1h-1zM20 65h1v1h-1zM24 65h1v1h-1zM79 65h1v1h-1zM81 65h1v1h-1zM85 65h1v1h-1zM87 65h1v1h-1zM94 65h1v1h-1zM100 65h1v1h-1zM12 66h2v1h-2zM17 66h4v1h-4zM22 66h1v1h-1zM24 66h2v1h-2zM78 66h1v1h-1zM81 66h2v1h-2zM84 66h1v1h-1zM86 66h1v1h-1zM89 66h1v1h-1zM93 66h1v1h-1zM98 66h1v1h-1zM100 66h1v1h-1zM13 67h1v1h-1zM15 67h4v1h-4zM20 67h1v1h-1zM22 67h2v1h-2zM78 67h1v1h-1zM82 67h1v1h-1zM84 67h1v1h-1zM87 67h1v1h-1zM90 67h1v1h-1zM93 67h3v1h-3zM101 67h1v1h-1zM103 67h1v1h-1zM13 68h1v1h-1zM17 68h2v1h-2zM78 68h4v1h-4zM84 68h1v1h-1zM86 68h2v1h-2zM92 68h2v1h-2zM100 68h1v1h-1zM13 69h1v1h-1zM17 69h3v1h-3zM21 69h2v1h-2zM25 69h1v1h-1zM77 69h1v1h-1zM79 69h3v1h-3zM83 69h3v1h-3zM93 69h1v1h-1zM95 69h1v1h-1zM101 69h1v1h-1zM103 69h1v1h-1zM12 70h2v1h-2zM17 70h1v1h-1zM20 70h1v1h-1zM78 70h1v1h-1zM80 70h1v1h-1zM83 70h1v1h-1zM85 70h1v1h-1zM90 70h1v1h-1zM93 70h1v1h-1zM96 70h1v1h-1zM98 70h1v1h-1zM101 70h3v1h-3zM15 71h2v1h-2zM20 71h1v1h-1zM23 71h3v1h-3zM79 71h1v1h-1zM83 71h2v1h-2zM86 71h2v1h-2zM91 71h4v1h-4zM96 71h1v1h-1zM98 71h1v1h-1zM103 71h1v1h-1zM10 72h1v1h-1zM12 72h1v1h-1zM15 72h1v1h-1zM17 72h8v1h-8zM78 72h1v1h-1zM81 72h2v1h-2zM90 72h1v1h-1zM94 72h1v1h-1zM100 72h1v1h-1zM103 72h1v1h-1zM0 73h1v1h-1zM7 73h1v1h-1zM10 73h3v1h-3zM17 73h5v1h-5zM23 73h1v1h-1zM77 73h1v1h-1zM81 73h2v1h-2zM98 73h1v1h-1zM7 74h1v1h-1zM10 74h2v1h-2zM15 74h1v1h-1zM22 74h1v1h-1zM78 74h1v1h-1zM87 74h1v1h-1zM6 75h1v1h-1zM9 75h1v1h-1zM17 75h4v1h-4zM23 75h1v1h-1zM78 75h1v1h-1zM86 75h1v1h-1zM2 76h1v1h-1zM6 76h1v1h-1zM8 76h1v1h-1zM10 76h1v1h-1zM12 76h1v1h-1zM15 76h1v1h-1zM19 76h1v1h-1zM21 76h2v1h-2zM24 76h1v1h-1zM77 76h2v1h-2zM80 76h2v1h-2zM93 76h3v1h-3zM98 76h1v1h-1zM6 77h1v1h-1zM17 77h1v1h-1zM20 77h1v1h-1zM23 77h1v1h-1zM25 77h1v1h-1zM28 77h2v1h-2zM31 77h3v1h-3zM35 77h1v1h-1zM43 77h1v1h-1zM45 77h1v1h-1zM47 77h1v1h-1zM52 77h2v1h-2zM55 77h1v1h-1zM58 77h2v1h-2zM64 77h1v1h-1zM69 77h1v1h-1zM73 77h1v1h-1zM76 77h1v1h-1zM89 77h2v1h-2zM93 77h1v1h-1zM96 77h2v1h-2zM16 78h2v1h-2zM26 78h1v1h-1zM28 78h2v1h-2zM33 78h2v1h-2zM37 78h2v1h-2zM42 78h3v1h-3zM47 78h1v1h-1zM49 78h1v1h-1zM51 78h2v1h-2zM57 78h2v1h-2zM64 78h1v1h-1zM66 78h3v1h-3zM70 78h1v1h-1zM72 78h1v1h-1zM74 78h3v1h-3zM90 78h1v1h-1zM92 78h1v1h-1zM94 78h2v1h-2zM98 78h1v1h-1zM100 78h1v1h-1zM103 78h1v1h-1zM13 79h1v1h-1zM20 79h2v1h-2zM23 79h2v1h-2zM27 79h1v1h-1zM31 79h2v1h-2zM34 79h1v1h-1zM39 79h2v1h-2zM44 79h2v1h-2zM47 79h1v1h-1zM51 79h1v1h-1zM53 79h1v1h-1zM59 79h1v1h-1zM62 79h1v1h-1zM65 79h1v1h-1zM68 79h2v1h-2zM71 79h1v1h-1zM87 79h1v1h-1zM94 79h1v1h-1zM100 79h1v1h-1zM7 80h1v1h-1zM14 80h1v1h-1zM17 80h2v1h-2zM23 80h1v1h-1zM31 80h1v1h-1zM34 80h1v1h-1zM40 80h1v1h-1zM45 80h1v1h-1zM47 80h1v1h-1zM53 80h1v1h-1zM68 80h3v1h-3zM76 80h1v1h-1zM92 80h1v1h-1zM13 81h1v1h-1zM16 81h1v1h-1zM26 81h2v1h-2zM33 81h1v1h-1zM35 81h1v1h-1zM37 81h1v1h-1zM40 81h1v1h-1zM42 81h2v1h-2zM45 81h1v1h-1zM47 81h1v1h-1zM51 81h1v1h-1zM54 81h3v1h-3zM58 81h1v1h-1zM60 81h2v1h-2zM65 81h2v1h-2zM68 81h2v1h-2zM72 81h2v1h-2zM76 81h1v1h-1zM87 81h1v1h-1zM93 81h1v1h-1zM95 81h1v1h-1zM97 81h4v1h-4zM26 82h1v1h-1zM33 82h1v1h-1zM35 82h1v1h-1zM40 82h2v1h-2zM44 82h1v1h-1zM51 82h1v1h-1zM55 82h2v1h-2zM58 82h1v1h-1zM60 82h4v1h-4zM66 82h2v1h-2zM72 82h2v1h-2zM87 82h1v1h-1zM90 82h2v1h-2zM94 82h1v1h-1zM96 82h2v1h-2zM101 82h1v1h-1zM13 83h1v1h-1zM16 83h1v1h-1zM22 83h2v1h-2zM25 83h1v1h-1zM64 83h1v1h-1zM69 83h3v1h-3zM94 83h1v1h-1zM103 83h1v1h-1zM13 84h1v1h-1zM16 84h1v1h-1zM21 84h1v1h-1zM27 84h1v1h-1zM31 84h5v1h-5zM37 84h4v1h-4zM42 84h1v1h-1zM44 84h1v1h-1zM47 84h1v1h-1zM49 84h1v1h-1zM51 84h4v1h-4zM57 84h1v1h-1zM60 84h1v1h-1zM63 84h2v1h-2zM66 84h4v1h-4zM71 84h1v1h-1zM87 84h1v1h-1zM93 84h2v1h-2zM98 84h1v1h-1zM100 84h1v1h-1zM15 85h3v1h-3zM21 85h1v1h-1zM31 85h1v1h-1zM33 85h1v1h-1zM40 85h1v1h-1zM43 85h1v1h-1zM45 85h1v1h-1zM50 85h2v1h-2zM53 85h1v1h-1zM57 85h2v1h-2zM65 85h1v1h-1zM69 85h2v1h-2zM90 85h1v1h-1zM100 85h1v1h-1zM12 86h3v1h-3zM16 86h2v1h-2zM20 86h1v1h-1zM25 86h1v1h-1zM28 86h1v1h-1zM32 86h1v1h-1zM35 86h1v1h-1zM42 86h2v1h-2zM50 86h1v1h-1zM55 86h1v1h-1zM58 86h1v1h-1zM61 86h1v1h-1zM64 86h1v1h-1zM66 86h1v1h-1zM68 86h1v1h-1zM71 86h1v1h-1zM75 86h1v1h-1zM87 86h1v1h-1zM93 86h1v1h-1zM100 86h1v1h-1zM103 86h1v1h-1zM14 87h1v1h-1zM22 87h1v1h-1zM30 87h1v1h-1zM32 87h1v1h-1zM39 87h1v1h-1zM49 87h1v1h-1zM52 87h1v1h-1zM55 87h2v1h-2zM61 87h3v1h-3zM65 87h1v1h-1zM67 87h2v1h-2zM71 87h1v1h-1zM74 87h1v1h-1zM79 87h1v1h-1zM81 87h2v1h-2zM84 87h1v1h-1zM86 87h1v1h-1zM7 88h1v1h-1zM12 88h3v1h-3zM17 88h1v1h-1zM20 88h1v1h-1zM22 88h1v1h-1zM24 88h2v1h-2zM10 89h1v1h-1zM14 89h1v1h-1zM22 89h2v1h-2zM25 89h1v1h-1zM66 89h1v1h-1zM77 89h1v1h-1zM16 90h2v1h-2zM47 90h1v1h-1zM56 90h1v1h-1zM58 90h3v1h-3zM67 90h1v1h-1zM70 90h1v1h-1zM72 90h1v1h-1zM77 90h2v1h-2zM82 90h1v1h-1zM85 90h1v1h-1zM13 91h1v1h-1zM16 91h2v1h-2zM20 91h1v1h-1zM71 91h1v1h-1zM82 91h1v1h-1zM13 92h1v1h-1zM16 92h1v1h-1zM21 92h1v1h-1zM24 92h1v1h-1zM53 92h1v1h-1zM59 92h1v1h-1zM68 92h1v1h-1zM71 92h1v1h-1zM78 92h1v1h-1zM80 92h1v1h-1zM18 93h1v1h-1zM53 93h1v1h-1zM57 93h1v1h-1zM59 93h1v1h-1zM61 93h1v1h-1zM63 93h1v1h-1zM66 93h6v1h-6zM76 93h2v1h-2zM81 93h1v1h-1zM84 93h1v1h-1zM86 93h1v1h-1zM16 94h2v1h-2zM20 94h2v1h-2zM23 94h1v1h-1zM51 94h1v1h-1zM57 94h1v1h-1zM65 94h1v1h-1zM67 94h1v1h-1zM71 94h2v1h-2zM76 94h1v1h-1zM78 94h2v1h-2zM82 94h3v1h-3zM12 95h1v1h-1zM20 95h1v1h-1zM67 95h1v1h-1zM69 95h1v1h-1zM76 95h1v1h-1zM78 95h1v1h-1zM81 95h1v1h-1zM24 96h2v1h-2zM70 96h2v1h-2zM77 96h1v1h-1zM82 96h1v1h-1zM14 97h1v1h-1zM16 97h1v1h-1zM22 97h1v1h-1zM24 97h1v1h-1zM60 97h1v1h-1zM77 97h1v1h-1zM81 97h2v1h-2zM21 98h1v1h-1zM53 98h1v1h-1zM55 98h1v1h-1zM66 98h1v1h-1zM70 98h2v1h-2zM73 98h1v1h-1zM76 98h1v1h-1zM78 98h1v1h-1zM81 98h1v1h-1zM84 98h1v1h-1zM16 99h1v1h-1zM81 99h1v1h-1zM13 100h1v1h-1zM16 100h1v1h-1zM19 100h1v1h-1zM24 100h1v1h-1zM53 100h2v1h-2zM57 100h1v1h-1zM59 100h2v1h-2zM63 100h1v1h-1zM65 100h2v1h-2zM68 100h1v1h-1zM72 100h1v1h-1zM78 100h2v1h-2zM81 100h1v1h-1zM84 100h3v1h-3zM11 101h1v1h-1zM15 101h2v1h-2zM20 101h1v1h-1zM23 101h1v1h-1zM67 101h1v1h-1zM69 101h2v1h-2zM82 101h1v1h-1zM11 102h1v1h-1zM14 102h1v1h-1zM16 102h1v1h-1zM24 102h2v1h-2zM70 102h1v1h-1zM12 103h1v1h-1zM25 103h1v1h-1zM52 103h2v1h-2zM55 103h1v1h-1zM62 103h3v1h-3zM67 103h1v1h-1zM69 103h4v1h-4zM78 103h1v1h-1zM83 103h1v1h-1zM86 103h1v1h-1z"/>
<path fill="#dddcdc" d="M1 0h1v1h-1zM3 0h2v1h-2zM12 0h1v1h-1zM14 0h2v1h-2zM17 0h9v1h-9zM0 1h1v1h-1zM6 1h2v1h-2zM10 1h1v1h-1zM12 1h1v1h-1zM15 1h1v1h-1zM17 1h1v1h-1zM20 1h1v1h-1zM24 1h1v1h-1zM51 1h1v1h-1zM4 2h1v1h-1zM6 2h3v1h-3zM17 2h1v1h-1zM19 2h1v1h-1zM73 2h1v1h-1zM0 3h1v1h-1zM5 3h2v1h-2zM10 3h3v1h-3zM14 3h2v1h-2zM19 3h1v1h-1zM24 3h1v1h-1zM0 4h1v1h-1zM2 4h1v1h-1zM5 4h2v1h-2zM15 4h3v1h-3zM20 4h1v1h-1zM22 4h3v1h-3zM3 5h2v1h-2zM10 5h1v1h-1zM12 5h2v1h-2zM18 5h4v1h-4zM25 5h1v1h-1zM1 6h4v1h-4zM18 6h2v1h-2zM22 6h1v1h-1zM24 6h1v1h-1zM36 6h1v1h-1zM51 6h1v1h-1zM55 6h1v1h-1zM58 6h2v1h-2zM1 7h2v1h-2zM43 7h1v1h-1zM48 7h1v1h-1zM53 7h1v1h-1zM58 7h1v1h-1zM72 7h1v1h-1zM75 7h1v1h-1zM2 8h1v1h-1zM9 8h1v1h-1zM11 8h1v1h-1zM16 8h3v1h-3zM21 8h1v1h-1zM23 8h3v1h-3zM51 8h2v1h-2zM57 8h1v1h-1zM8 9h1v1h-1zM11 9h1v1h-1zM13 9h1v1h-1zM15 9h1v1h-1zM17 9h2v1h-2zM20 9h1v1h-1zM22 9h2v1h-2zM25 9h1v1h-1zM56 9h2v1h-2zM61 9h1v1h-1zM1 10h1v1h-1zM3 10h1v1h-1zM5 10h1v1h-1zM15 10h1v1h-1zM17 10h4v1h-4zM51 10h1v1h-1zM53 10h1v1h-1zM55 10h2v1h-2zM58 10h2v1h-2zM63 10h1v1h-1zM3 11h1v1h-1zM8 11h2v1h-2zM17 11h2v1h-2zM24 11h1v1h-1zM48 11h1v1h-1zM51 11h5v1h-5zM57 11h5v1h-5zM75 11h1v1h-1zM0 12h2v1h-2zM3 12h1v1h-1zM5 12h1v1h-1zM26 12h1v1h-1zM29 12h1v1h-1zM53 12h1v1h-1zM74 12h1v1h-1zM5 13h1v1h-1zM9 13h1v1h-1zM29 13h1v1h-1zM35 13h1v1h-1zM39 13h2v1h-2zM42 13h1v1h-1zM47 13h1v1h-1zM50 13h1v1h-1zM53 13h1v1h-1zM65 13h1v1h-1zM72 13h1v1h-1zM75 13h2v1h-2zM89 13h1v1h-1zM95 13h1v1h-1zM0 14h1v1h-1zM3 14h1v1h-1zM20 14h2v1h-2zM26 14h1v1h-1zM29 14h1v1h-1zM32 14h2v1h-2zM46 14h1v1h-1zM48 14h1v1h-1zM51 14h1v1h-1zM53 14h1v1h-1zM55 14h2v1h-2zM58 14h1v1h-1zM67 14h1v1h-1zM72 14h1v1h-1zM0 15h2v1h-2zM3 15h2v1h-2zM9 15h2v1h-2zM26 15h1v1h-1zM29 15h1v1h-1zM35 15h1v1h-1zM38 15h1v1h-1zM45 15h1v1h-1zM49 15h1v1h-1zM51 15h4v1h-4zM56 15h3v1h-3zM66 15h1v1h-1zM75 15h1v1h-1zM99 15h1v1h-1zM4 16h1v1h-1zM8 16h1v1h-1zM27 16h2v1h-2zM30 16h1v1h-1zM33 16h2v1h-2zM40 16h1v1h-1zM43 16h1v1h-1zM45 16h1v1h-1zM49 16h1v1h-1zM64 16h1v1h-1zM69 16h2v1h-2zM76 16h1v1h-1zM79 16h2v1h-2zM88 16h2v1h-2zM93 16h1v1h-1zM96 16h1v1h-1zM0 17h3v1h-3zM4 17h1v1h-1zM8 17h4v1h-4zM26 17h2v1h-2zM33 17h1v1h-1zM35 17h1v1h-1zM37 17h1v1h-1zM39 17h1v1h-1zM46 17h1v1h-1zM48 17h2v1h-2zM52 17h2v1h-2zM56 17h2v1h-2zM74 17h1v1h-1zM99 17h1v1h-1zM0 18h1v1h-1zM5 18h2v1h-2zM8 18h4v1h-4zM23 18h1v1h-1zM26 18h1v1h-1zM29 18h1v1h-1zM43 18h2v1h-2zM48 18h2v1h-2zM51 18h1v1h-1zM53 18h1v1h-1zM55 18h1v1h-1zM57 18h3v1h-3zM63 18h1v1h-1zM74 18h1v1h-1zM0 19h1v1h-1zM2 19h2v1h-2zM5 19h2v1h-2zM10 19h1v1h-1zM22 19h1v1h-1zM51 19h1v1h-1zM54 19h2v1h-2zM57 19h1v1h-1zM59 19h1v1h-1zM63 19h1v1h-1zM0 20h2v1h-2zM4 20h2v1h-2zM9 20h2v1h-2zM14 20h1v1h-1zM26 20h1v1h-1zM28 20h2v1h-2zM35 20h1v1h-1zM37 20h5v1h-5zM48 20h2v1h-2zM52 20h1v1h-1zM54 20h1v1h-1zM58 20h2v1h-2zM63 20h1v1h-1zM76 20h1v1h-1zM0 21h1v1h-1zM5 21h1v1h-1zM8 21h1v1h-1zM14 21h1v1h-1zM26 21h1v1h-1zM29 21h1v1h-1zM36 21h1v1h-1zM38 21h1v1h-1zM41 21h2v1h-2zM44 21h1v1h-1zM48 21h1v1h-1zM51 21h1v1h-1zM59 21h2v1h-2zM63 21h1v1h-1zM66 21h1v1h-1zM74 21h1v1h-1zM88 21h1v1h-1zM0 22h1v1h-1zM4 22h1v1h-1zM6 22h1v1h-1zM9 22h1v1h-1zM19 22h1v1h-1zM26 22h1v1h-1zM29 22h1v1h-1zM33 22h1v1h-1zM43 22h1v1h-1zM48 22h1v1h-1zM50 22h2v1h-2zM53 22h2v1h-2zM59 22h1v1h-1zM73 22h1v1h-1zM0 23h1v1h-1zM4 23h1v1h-1zM8 23h2v1h-2zM18 23h1v1h-1zM26 23h1v1h-1zM29 23h1v1h-1zM35 23h1v1h-1zM38 23h1v1h-1zM41 23h1v1h-1zM44 23h1v1h-1zM47 23h2v1h-2zM50 23h6v1h-6zM59 23h1v1h-1zM65 23h1v1h-1zM68 23h1v1h-1zM74 23h1v1h-1zM76 23h1v1h-1zM0 24h2v1h-2zM3 24h2v1h-2zM6 24h1v1h-1zM8 24h1v1h-1zM11 24h1v1h-1zM26 24h1v1h-1zM29 24h1v1h-1zM35 24h2v1h-2zM38 24h2v1h-2zM43 24h1v1h-1zM46 24h1v1h-1zM50 24h1v1h-1zM52 24h2v1h-2zM58 24h2v1h-2zM63 24h1v1h-1zM68 24h2v1h-2zM73 24h2v1h-2zM0 25h1v1h-1zM5 25h1v1h-1zM8 25h2v1h-2zM26 25h1v1h-1zM29 25h1v1h-1zM31 25h1v1h-1zM34 25h1v1h-1zM38 25h1v1h-1zM41 25h1v1h-1zM44 25h1v1h-1zM46 25h1v1h-1zM55 25h1v1h-1zM67 25h2v1h-2zM72 25h5v1h-5zM12 26h1v1h-1zM14 26h2v1h-2zM17 26h2v1h-2zM20 26h6v1h-6zM84 26h4v1h-4zM16 27h2v1h-2zM78 27h1v1h-1zM82 27h2v1h-2zM86 27h1v1h-1zM16 28h1v1h-1zM20 28h1v1h-1zM53 28h1v1h-1zM59 28h1v1h-1zM61 28h1v1h-1zM63 28h1v1h-1zM80 28h1v1h-1zM83 28h1v1h-1zM85 28h1v1h-1zM87 28h1v1h-1zM90 28h1v1h-1zM12 29h4v1h-4zM18 29h1v1h-1zM20 29h6v1h-6zM79 29h2v1h-2zM83 29h5v1h-5zM16 30h1v1h-1zM55 30h1v1h-1zM77 30h2v1h-2zM80 30h1v1h-1zM83 30h1v1h-1zM85 30h1v1h-1zM90 30h1v1h-1zM25 31h1v1h-1zM59 31h1v1h-1zM81 31h1v1h-1zM83 31h1v1h-1zM86 31h2v1h-2zM14 32h1v1h-1zM55 32h1v1h-1zM83 32h1v1h-1zM91 32h1v1h-1zM14 33h1v1h-1zM16 33h2v1h-2zM22 33h1v1h-1zM53 33h1v1h-1zM59 33h1v1h-1zM79 33h1v1h-1zM86 33h1v1h-1zM16 34h1v1h-1zM25 34h1v1h-1zM53 34h1v1h-1zM59 34h1v1h-1zM83 34h1v1h-1zM85 34h1v1h-1zM87 34h1v1h-1zM91 34h1v1h-1zM13 35h1v1h-1zM15 35h1v1h-1zM17 35h1v1h-1zM20 35h1v1h-1zM23 35h2v1h-2zM63 35h1v1h-1zM78 35h2v1h-2zM83 35h1v1h-1zM6 36h1v1h-1zM21 36h1v1h-1zM24 36h1v1h-1zM17 37h1v1h-1zM20 37h1v1h-1zM77 37h1v1h-1zM79 37h2v1h-2zM83 37h1v1h-1zM15 38h1v1h-1zM20 38h2v1h-2zM23 38h3v1h-3zM79 38h1v1h-1zM81 38h2v1h-2zM85 38h3v1h-3zM13 39h1v1h-1zM17 39h1v1h-1zM20 39h1v1h-1zM24 39h1v1h-1zM63 39h1v1h-1zM80 39h1v1h-1zM83 39h1v1h-1zM85 39h1v1h-1zM90 39h1v1h-1zM13 40h1v1h-1zM16 40h1v1h-1zM20 40h1v1h-1zM83 40h1v1h-1zM87 40h1v1h-1zM91 40h1v1h-1zM20 41h2v1h-2zM23 41h1v1h-1zM25 41h1v1h-1zM80 41h2v1h-2zM84 41h1v1h-1zM86 41h2v1h-2zM13 42h1v1h-1zM21 42h1v1h-1zM77 42h1v1h-1zM79 42h1v1h-1zM85 42h1v1h-1zM87 42h1v1h-1zM7 43h1v1h-1zM16 43h1v1h-1zM18 43h1v1h-1zM22 43h1v1h-1zM24 43h1v1h-1zM79 43h1v1h-1zM82 43h3v1h-3zM18 44h1v1h-1zM21 44h1v1h-1zM23 44h1v1h-1zM25 44h1v1h-1zM77 44h1v1h-1zM80 44h1v1h-1zM85 44h3v1h-3zM15 45h2v1h-2zM83 45h1v1h-1zM87 45h1v1h-1zM90 45h2v1h-2zM14 46h1v1h-1zM17 46h1v1h-1zM24 46h2v1h-2zM77 46h3v1h-3zM81 46h1v1h-1zM84 46h1v1h-1zM13 47h1v1h-1zM23 47h1v1h-1zM53 47h1v1h-1zM83 47h1v1h-1zM85 47h3v1h-3zM7 48h1v1h-1zM11 48h1v1h-1zM14 48h1v1h-1zM17 48h2v1h-2zM20 48h4v1h-4zM77 48h2v1h-2zM86 48h1v1h-1zM15 49h4v1h-4zM20 49h1v1h-1zM61 49h1v1h-1zM79 49h2v1h-2zM83 49h1v1h-1zM85 49h1v1h-1zM13 50h1v1h-1zM22 50h3v1h-3zM59 50h1v1h-1zM78 50h2v1h-2zM81 50h2v1h-2zM84 50h1v1h-1zM1 51h1v1h-1zM6 51h1v1h-1zM8 51h1v1h-1zM10 51h2v1h-2zM14 51h2v1h-2zM18 51h2v1h-2zM21 51h3v1h-3zM55 51h1v1h-1zM59 51h1v1h-1zM63 51h1v1h-1zM67 51h1v1h-1zM69 51h2v1h-2zM77 51h1v1h-1zM83 51h1v1h-1zM86 51h1v1h-1zM89 51h1v1h-1zM91 51h3v1h-3zM95 51h4v1h-4zM100 51h2v1h-2zM103 51h1v1h-1zM8 52h1v1h-1zM11 52h1v1h-1zM15 52h1v1h-1zM17 52h1v1h-1zM20 52h1v1h-1zM23 52h2v1h-2zM70 52h1v1h-1zM79 52h1v1h-1zM81 52h3v1h-3zM85 52h2v1h-2zM91 52h1v1h-1zM93 52h2v1h-2zM102 52h1v1h-1zM7 53h1v1h-1zM10 53h6v1h-6zM17 53h2v1h-2zM22 53h3v1h-3zM28 53h1v1h-1zM33 53h2v1h-2zM47 53h1v1h-1zM57 53h1v1h-1zM59 53h1v1h-1zM63 53h1v1h-1zM67 53h1v1h-1zM69 53h2v1h-2zM86 53h1v1h-1zM90 53h1v1h-1zM94 53h4v1h-4zM99 53h1v1h-1zM101 53h1v1h-1zM11 54h1v1h-1zM15 54h1v1h-1zM19 54h2v1h-2zM22 54h2v1h-2zM77 54h3v1h-3zM82 54h1v1h-1zM85 54h3v1h-3zM90 54h3v1h-3zM95 54h1v1h-1zM98 54h1v1h-1zM6 55h1v1h-1zM10 55h2v1h-2zM14 55h1v1h-1zM18 55h2v1h-2zM23 55h1v1h-1zM25 55h1v1h-1zM30 55h1v1h-1zM32 55h1v1h-1zM51 55h1v1h-1zM65 55h1v1h-1zM70 55h2v1h-2zM78 55h3v1h-3zM83 55h3v1h-3zM90 55h4v1h-4zM95 55h3v1h-3zM100 55h2v1h-2zM9 56h2v1h-2zM14 56h2v1h-2zM17 56h1v1h-1zM70 56h1v1h-1zM77 56h3v1h-3zM84 56h2v1h-2zM93 56h2v1h-2zM8 57h2v1h-2zM11 57h1v1h-1zM15 57h1v1h-1zM17 57h3v1h-3zM53 57h1v1h-1zM79 57h2v1h-2zM86 57h2v1h-2zM89 57h4v1h-4zM95 57h1v1h-1zM98 57h1v1h-1zM6 58h2v1h-2zM10 58h2v1h-2zM14 58h2v1h-2zM18 58h1v1h-1zM20 58h1v1h-1zM24 58h1v1h-1zM59 58h1v1h-1zM71 58h1v1h-1zM79 58h2v1h-2zM83 58h1v1h-1zM92 58h2v1h-2zM95 58h1v1h-1zM100 58h1v1h-1zM103 58h1v1h-1zM6 59h1v1h-1zM10 59h2v1h-2zM18 59h7v1h-7zM28 59h1v1h-1zM31 59h1v1h-1zM33 59h2v1h-2zM50 59h2v1h-2zM53 59h1v1h-1zM58 59h1v1h-1zM61 59h1v1h-1zM67 59h6v1h-6zM76 59h1v1h-1zM80 59h1v1h-1zM83 59h1v1h-1zM88 59h2v1h-2zM94 59h5v1h-5zM101 59h3v1h-3zM11 60h1v1h-1zM21 60h1v1h-1zM70 60h1v1h-1zM79 60h1v1h-1zM87 60h1v1h-1zM89 60h1v1h-1zM92 60h2v1h-2zM9 61h1v1h-1zM11 61h1v1h-1zM28 61h1v1h-1zM49 61h1v1h-1zM59 61h1v1h-1zM66 61h1v1h-1zM70 61h1v1h-1zM78 61h2v1h-2zM83 61h3v1h-3zM91 61h1v1h-1zM97 61h3v1h-3zM78 62h1v1h-1zM81 62h1v1h-1zM93 62h2v1h-2zM97 62h1v1h-1zM100 62h1v1h-1zM10 63h1v1h-1zM18 63h4v1h-4zM24 63h1v1h-1zM28 63h1v1h-1zM35 63h1v1h-1zM39 63h1v1h-1zM51 63h1v1h-1zM53 63h1v1h-1zM65 63h1v1h-1zM69 63h2v1h-2zM77 63h1v1h-1zM79 63h2v1h-2zM83 63h1v1h-1zM88 63h1v1h-1zM90 63h3v1h-3zM94 63h3v1h-3zM98 63h1v1h-1zM101 63h1v1h-1zM16 64h1v1h-1zM79 64h3v1h-3zM85 64h1v1h-1zM90 64h6v1h-6zM97 64h2v1h-2zM100 64h1v1h-1zM13 65h1v1h-1zM23 65h1v1h-1zM55 65h1v1h-1zM63 65h1v1h-1zM78 65h1v1h-1zM80 65h1v1h-1zM83 65h1v1h-1zM86 65h1v1h-1zM91 65h2v1h-2zM95 65h2v1h-2zM98 65h1v1h-1zM103 65h1v1h-1zM15 66h1v1h-1zM21 66h1v1h-1zM61 66h1v1h-1zM77 66h1v1h-1zM79 66h1v1h-1zM83 66h1v1h-1zM85 66h1v1h-1zM90 66h3v1h-3zM94 66h2v1h-2zM97 66h1v1h-1zM103 66h1v1h-1zM14 67h1v1h-1zM25 67h1v1h-1zM51 67h1v1h-1zM53 67h1v1h-1zM59 67h1v1h-1zM77 67h1v1h-1zM79 67h2v1h-2zM83 67h1v1h-1zM85 67h2v1h-2zM91 67h2v1h-2zM97 67h2v1h-2zM100 67h1v1h-1zM23 68h3v1h-3zM59 68h1v1h-1zM77 68h1v1h-1zM83 68h1v1h-1zM85 68h1v1h-1zM90 68h2v1h-2zM94 68h2v1h-2zM98 68h1v1h-1zM103 68h1v1h-1zM16 69h1v1h-1zM24 69h1v1h-1zM51 69h1v1h-1zM53 69h1v1h-1zM59 69h1v1h-1zM63 69h1v1h-1zM89 69h1v1h-1zM91 69h2v1h-2zM98 69h3v1h-3zM102 69h1v1h-1zM16 70h1v1h-1zM51 70h3v1h-3zM55 70h2v1h-2zM59 70h3v1h-3zM63 70h1v1h-1zM77 70h1v1h-1zM86 70h1v1h-1zM88 70h2v1h-2zM91 70h1v1h-1zM95 70h1v1h-1zM97 70h1v1h-1zM55 71h1v1h-1zM58 71h2v1h-2zM77 71h1v1h-1zM80 71h1v1h-1zM85 71h1v1h-1zM88 71h3v1h-3zM95 71h1v1h-1zM97 71h1v1h-1zM99 71h1v1h-1zM101 71h2v1h-2zM7 72h1v1h-1zM13 72h2v1h-2zM25 72h1v1h-1zM59 72h1v1h-1zM79 72h2v1h-2zM83 72h2v1h-2zM86 72h1v1h-1zM91 72h3v1h-3zM95 72h1v1h-1zM98 72h1v1h-1zM101 72h2v1h-2zM2 73h1v1h-1zM22 73h1v1h-1zM24 73h2v1h-2zM78 73h2v1h-2zM84 73h2v1h-2zM87 73h1v1h-1zM90 73h4v1h-4zM100 73h1v1h-1zM12 74h1v1h-1zM17 74h2v1h-2zM21 74h1v1h-1zM23 74h3v1h-3zM77 74h1v1h-1zM79 74h3v1h-3zM83 74h4v1h-4zM93 74h1v1h-1zM100 74h1v1h-1zM103 74h1v1h-1zM7 75h1v1h-1zM11 75h1v1h-1zM13 75h1v1h-1zM15 75h1v1h-1zM25 75h1v1h-1zM79 75h2v1h-2zM82 75h1v1h-1zM84 75h1v1h-1zM87 75h1v1h-1zM93 75h1v1h-1zM100 75h1v1h-1zM13 76h1v1h-1zM16 76h1v1h-1zM20 76h1v1h-1zM23 76h1v1h-1zM25 76h1v1h-1zM59 76h1v1h-1zM79 76h1v1h-1zM82 76h1v1h-1zM84 76h1v1h-1zM86 76h2v1h-2zM91 76h2v1h-2zM96 76h1v1h-1zM100 76h3v1h-3zM30 77h1v1h-1zM37 77h1v1h-1zM42 77h1v1h-1zM44 77h1v1h-1zM46 77h1v1h-1zM48 77h1v1h-1zM51 77h1v1h-1zM54 77h1v1h-1zM56 77h1v1h-1zM63 77h1v1h-1zM66 77h3v1h-3zM70 77h2v1h-2zM74 77h1v1h-1zM95 77h1v1h-1zM98 77h1v1h-1zM101 77h3v1h-3zM27 78h1v1h-1zM30 78h1v1h-1zM35 78h1v1h-1zM46 78h1v1h-1zM48 78h1v1h-1zM50 78h1v1h-1zM54 78h3v1h-3zM61 78h2v1h-2zM65 78h1v1h-1zM73 78h1v1h-1zM91 78h1v1h-1zM101 78h2v1h-2zM16 79h1v1h-1zM29 79h1v1h-1zM33 79h1v1h-1zM35 79h1v1h-1zM37 79h2v1h-2zM42 79h2v1h-2zM46 79h1v1h-1zM49 79h2v1h-2zM52 79h1v1h-1zM54 79h5v1h-5zM60 79h2v1h-2zM63 79h2v1h-2zM66 79h2v1h-2zM72 79h5v1h-5zM90 79h4v1h-4zM95 79h4v1h-4zM101 79h2v1h-2zM16 80h1v1h-1zM28 80h3v1h-3zM37 80h1v1h-1zM39 80h1v1h-1zM41 80h1v1h-1zM44 80h1v1h-1zM49 80h1v1h-1zM55 80h1v1h-1zM57 80h3v1h-3zM63 80h3v1h-3zM67 80h1v1h-1zM71 80h2v1h-2zM74 80h2v1h-2zM87 80h1v1h-1zM90 80h1v1h-1zM94 80h2v1h-2zM97 80h1v1h-1zM100 80h2v1h-2zM103 80h1v1h-1zM31 81h1v1h-1zM38 81h1v1h-1zM41 81h1v1h-1zM46 81h1v1h-1zM50 81h1v1h-1zM52 81h1v1h-1zM62 81h1v1h-1zM64 81h1v1h-1zM74 81h1v1h-1zM90 81h1v1h-1zM92 81h1v1h-1zM96 81h1v1h-1zM101 81h3v1h-3zM27 82h1v1h-1zM38 82h1v1h-1zM43 82h1v1h-1zM50 82h1v1h-1zM52 82h1v1h-1zM54 82h1v1h-1zM75 82h2v1h-2zM89 82h1v1h-1zM92 82h1v1h-1zM99 82h1v1h-1zM102 82h1v1h-1zM27 83h6v1h-6zM34 83h2v1h-2zM37 83h1v1h-1zM39 83h2v1h-2zM43 83h1v1h-1zM45 83h1v1h-1zM47 83h1v1h-1zM49 83h1v1h-1zM51 83h2v1h-2zM55 83h1v1h-1zM58 83h2v1h-2zM61 83h1v1h-1zM63 83h1v1h-1zM65 83h4v1h-4zM72 83h1v1h-1zM74 83h1v1h-1zM87 83h1v1h-1zM90 83h1v1h-1zM93 83h1v1h-1zM95 83h4v1h-4zM100 83h1v1h-1zM26 84h1v1h-1zM29 84h1v1h-1zM41 84h1v1h-1zM43 84h1v1h-1zM46 84h1v1h-1zM50 84h1v1h-1zM55 84h2v1h-2zM61 84h1v1h-1zM72 84h5v1h-5zM89 84h1v1h-1zM92 84h1v1h-1zM95 84h1v1h-1zM97 84h1v1h-1zM99 84h1v1h-1zM101 84h3v1h-3zM26 85h1v1h-1zM28 85h3v1h-3zM34 85h1v1h-1zM38 85h2v1h-2zM42 85h1v1h-1zM44 85h1v1h-1zM47 85h1v1h-1zM49 85h1v1h-1zM52 85h1v1h-1zM54 85h3v1h-3zM61 85h1v1h-1zM64 85h1v1h-1zM66 85h3v1h-3zM71 85h1v1h-1zM73 85h2v1h-2zM87 85h1v1h-1zM92 85h2v1h-2zM96 85h3v1h-3zM101 85h1v1h-1zM103 85h1v1h-1zM26 86h2v1h-2zM29 86h1v1h-1zM31 86h1v1h-1zM33 86h1v1h-1zM38 86h1v1h-1zM41 86h1v1h-1zM44 86h1v1h-1zM47 86h2v1h-2zM51 86h4v1h-4zM57 86h1v1h-1zM65 86h1v1h-1zM67 86h1v1h-1zM70 86h1v1h-1zM72 86h1v1h-1zM74 86h1v1h-1zM76 86h1v1h-1zM90 86h3v1h-3zM94 86h1v1h-1zM96 86h4v1h-4zM101 86h1v1h-1zM26 87h1v1h-1zM28 87h2v1h-2zM31 87h1v1h-1zM34 87h1v1h-1zM38 87h1v1h-1zM40 87h3v1h-3zM44 87h2v1h-2zM47 87h1v1h-1zM54 87h1v1h-1zM57 87h1v1h-1zM60 87h1v1h-1zM73 87h1v1h-1zM75 87h2v1h-2zM80 87h1v1h-1zM83 87h1v1h-1zM85 87h1v1h-1zM16 88h1v1h-1zM21 88h1v1h-1zM59 88h1v1h-1zM63 88h1v1h-1zM70 88h2v1h-2zM13 89h1v1h-1zM16 89h1v1h-1zM51 89h1v1h-1zM57 89h1v1h-1zM59 89h2v1h-2zM69 89h3v1h-3zM82 89h1v1h-1zM84 89h1v1h-1zM28 90h1v1h-1zM30 90h1v1h-1zM39 90h1v1h-1zM45 90h1v1h-1zM53 90h3v1h-3zM57 90h1v1h-1zM63 90h2v1h-2zM66 90h1v1h-1zM68 90h1v1h-1zM71 90h1v1h-1zM73 90h1v1h-1zM79 90h3v1h-3zM83 90h1v1h-1zM86 90h1v1h-1zM32 91h1v1h-1zM34 91h1v1h-1zM40 91h1v1h-1zM45 91h1v1h-1zM51 91h2v1h-2zM54 91h2v1h-2zM57 91h1v1h-1zM61 91h1v1h-1zM63 91h8v1h-8zM72 91h2v1h-2zM76 91h1v1h-1zM78 91h2v1h-2zM86 91h1v1h-1zM51 92h1v1h-1zM54 92h2v1h-2zM57 92h2v1h-2zM60 92h1v1h-1zM63 92h5v1h-5zM69 92h1v1h-1zM72 92h2v1h-2zM76 92h1v1h-1zM79 92h1v1h-1zM81 92h2v1h-2zM84 92h3v1h-3zM16 93h1v1h-1zM51 93h2v1h-2zM55 93h2v1h-2zM58 93h1v1h-1zM60 93h1v1h-1zM62 93h1v1h-1zM64 93h1v1h-1zM72 93h4v1h-4zM79 93h1v1h-1zM83 93h1v1h-1zM85 93h1v1h-1zM52 94h2v1h-2zM56 94h1v1h-1zM59 94h1v1h-1zM62 94h3v1h-3zM66 94h1v1h-1zM68 94h1v1h-1zM80 94h1v1h-1zM86 94h1v1h-1zM13 95h1v1h-1zM51 95h1v1h-1zM53 95h3v1h-3zM57 95h3v1h-3zM63 95h4v1h-4zM68 95h1v1h-1zM70 95h3v1h-3zM77 95h1v1h-1zM79 95h2v1h-2zM83 95h2v1h-2zM16 96h1v1h-1zM51 96h1v1h-1zM53 96h1v1h-1zM55 96h1v1h-1zM59 96h1v1h-1zM63 96h1v1h-1zM65 96h1v1h-1zM76 96h1v1h-1zM79 96h1v1h-1zM81 96h1v1h-1zM83 96h1v1h-1zM85 96h2v1h-2zM51 97h1v1h-1zM53 97h1v1h-1zM55 97h1v1h-1zM59 97h1v1h-1zM61 97h2v1h-2zM64 97h1v1h-1zM66 97h2v1h-2zM70 97h2v1h-2zM79 97h2v1h-2zM83 97h4v1h-4zM51 98h1v1h-1zM54 98h1v1h-1zM57 98h1v1h-1zM59 98h1v1h-1zM61 98h1v1h-1zM63 98h3v1h-3zM67 98h3v1h-3zM72 98h1v1h-1zM77 98h1v1h-1zM79 98h1v1h-1zM83 98h1v1h-1zM85 98h2v1h-2zM15 99h1v1h-1zM17 99h1v1h-1zM53 99h1v1h-1zM61 99h1v1h-1zM69 99h1v1h-1zM71 99h1v1h-1zM82 99h1v1h-1zM84 99h1v1h-1zM86 99h1v1h-1zM51 100h1v1h-1zM55 100h1v1h-1zM58 100h1v1h-1zM62 100h1v1h-1zM64 100h1v1h-1zM67 100h1v1h-1zM69 100h1v1h-1zM73 100h4v1h-4zM80 100h1v1h-1zM83 100h1v1h-1zM51 101h1v1h-1zM53 101h1v1h-1zM55 101h1v1h-1zM59 101h1v1h-1zM63 101h1v1h-1zM71 101h2v1h-2zM76 101h6v1h-6zM84 101h3v1h-3zM52 102h1v1h-1zM59 102h1v1h-1zM69 102h1v1h-1zM71 102h2v1h-2zM76 102h4v1h-4zM81 102h2v1h-2zM84 102h1v1h-1zM51 103h1v1h-1zM58 103h2v1h-2zM65 103h2v1h-2zM68 103h1v1h-1zM74 103h1v1h-1zM77 103h1v1h-1zM80 103h2v1h-2zM84 103h2v1h-2z"/>
<path fill="#e7d5cb" d="M7 0h1v1h-1zM13 0h1v1h-1zM3 1h1v1h-1zM5 1h1v1h-1zM11 1h1v1h-1zM14 1h1v1h-1zM21 1h3v1h-3zM25 1h1v1h-1zM5 2h1v1h-1zM10 2h1v1h-1zM21 2h5v1h-5zM1 3h1v1h-1zM4 3h1v1h-1zM13 3h1v1h-1zM17 3h1v1h-1zM20 3h2v1h-2zM23 3h1v1h-1zM3 4h1v1h-1zM13 4h2v1h-2zM1 5h2v1h-2zM6 5h1v1h-1zM14 5h2v1h-2zM22 5h2v1h-2zM5 6h1v1h-1zM8 6h2v1h-2zM11 6h1v1h-1zM14 6h1v1h-1zM17 6h1v1h-1zM20 6h2v1h-2zM23 6h1v1h-1zM25 6h1v1h-1zM54 6h1v1h-1zM57 6h1v1h-1zM60 6h2v1h-2zM63 6h1v1h-1zM0 7h1v1h-1zM9 7h1v1h-1zM11 7h1v1h-1zM14 7h2v1h-2zM17 7h4v1h-4zM23 7h1v1h-1zM25 7h1v1h-1zM51 7h1v1h-1zM54 7h4v1h-4zM59 7h5v1h-5zM6 8h1v1h-1zM10 8h1v1h-1zM12 8h2v1h-2zM56 8h1v1h-1zM62 8h1v1h-1zM6 9h2v1h-2zM16 9h1v1h-1zM52 9h1v1h-1zM62 9h1v1h-1zM2 10h1v1h-1zM8 10h1v1h-1zM13 10h1v1h-1zM21 10h2v1h-2zM24 10h1v1h-1zM54 10h1v1h-1zM60 10h3v1h-3zM1 11h1v1h-1zM6 11h2v1h-2zM13 11h1v1h-1zM19 11h2v1h-2zM22 11h1v1h-1zM56 11h1v1h-1zM62 11h1v1h-1zM8 12h1v1h-1zM13 12h3v1h-3zM19 12h1v1h-1zM22 12h1v1h-1zM24 12h2v1h-2zM36 12h1v1h-1zM52 12h1v1h-1zM57 12h3v1h-3zM61 12h1v1h-1zM0 13h1v1h-1zM3 13h2v1h-2zM8 13h1v1h-1zM10 13h3v1h-3zM26 13h1v1h-1zM33 13h1v1h-1zM36 13h1v1h-1zM43 13h1v1h-1zM46 13h1v1h-1zM54 13h2v1h-2zM57 13h4v1h-4zM63 13h1v1h-1zM73 13h2v1h-2zM1 14h1v1h-1zM4 14h4v1h-4zM12 14h1v1h-1zM15 14h1v1h-1zM17 14h2v1h-2zM36 14h1v1h-1zM43 14h1v1h-1zM50 14h1v1h-1zM54 14h1v1h-1zM60 14h4v1h-4zM73 14h1v1h-1zM76 14h1v1h-1zM5 15h1v1h-1zM7 15h1v1h-1zM12 15h1v1h-1zM14 15h1v1h-1zM18 15h2v1h-2zM21 15h2v1h-2zM25 15h1v1h-1zM36 15h1v1h-1zM41 15h1v1h-1zM48 15h1v1h-1zM59 15h1v1h-1zM61 15h1v1h-1zM63 15h1v1h-1zM9 16h1v1h-1zM29 16h1v1h-1zM37 16h1v1h-1zM39 16h1v1h-1zM41 16h2v1h-2zM44 16h1v1h-1zM47 16h1v1h-1zM50 16h1v1h-1zM57 16h1v1h-1zM68 16h1v1h-1zM72 16h4v1h-4zM95 16h1v1h-1zM3 17h1v1h-1zM6 17h2v1h-2zM14 17h1v1h-1zM19 17h1v1h-1zM23 17h1v1h-1zM25 17h1v1h-1zM36 17h1v1h-1zM51 17h1v1h-1zM54 17h2v1h-2zM58 17h4v1h-4zM63 17h1v1h-1zM7 18h1v1h-1zM14 18h2v1h-2zM20 18h1v1h-1zM24 18h1v1h-1zM52 18h1v1h-1zM56 18h1v1h-1zM60 18h1v1h-1zM7 19h1v1h-1zM11 19h2v1h-2zM15 19h1v1h-1zM17 19h1v1h-1zM20 19h1v1h-1zM23 19h1v1h-1zM36 19h1v1h-1zM52 19h1v1h-1zM56 19h1v1h-1zM58 19h1v1h-1zM61 19h1v1h-1zM3 20h1v1h-1zM6 20h2v1h-2zM11 20h1v1h-1zM18 20h2v1h-2zM22 20h1v1h-1zM24 20h1v1h-1zM36 20h1v1h-1zM44 20h1v1h-1zM53 20h1v1h-1zM56 20h2v1h-2zM61 20h1v1h-1zM1 21h3v1h-3zM6 21h1v1h-1zM10 21h1v1h-1zM15 21h1v1h-1zM52 21h1v1h-1zM54 21h5v1h-5zM61 21h1v1h-1zM75 21h1v1h-1zM1 22h2v1h-2zM5 22h1v1h-1zM10 22h3v1h-3zM15 22h1v1h-1zM20 22h1v1h-1zM24 22h1v1h-1zM36 22h1v1h-1zM52 22h1v1h-1zM56 22h1v1h-1zM58 22h1v1h-1zM62 22h2v1h-2zM1 23h3v1h-3zM5 23h3v1h-3zM17 23h1v1h-1zM19 23h1v1h-1zM36 23h1v1h-1zM56 23h3v1h-3zM60 23h2v1h-2zM63 23h1v1h-1zM2 24h1v1h-1zM10 24h1v1h-1zM12 24h1v1h-1zM18 24h1v1h-1zM20 24h1v1h-1zM22 24h1v1h-1zM48 24h1v1h-1zM51 24h1v1h-1zM54 24h4v1h-4zM60 24h1v1h-1zM62 24h1v1h-1zM75 24h1v1h-1zM1 25h2v1h-2zM6 25h2v1h-2zM12 25h1v1h-1zM15 25h1v1h-1zM17 25h1v1h-1zM27 25h1v1h-1zM43 25h1v1h-1zM48 25h1v1h-1zM50 25h2v1h-2zM53 25h2v1h-2zM56 25h1v1h-1zM58 25h1v1h-1zM60 25h4v1h-4zM13 26h1v1h-1zM77 26h1v1h-1zM79 26h2v1h-2zM25 27h1v1h-1zM51 27h1v1h-1zM53 27h1v1h-1zM59 27h1v1h-1zM77 27h1v1h-1zM80 27h1v1h-1zM91 27h1v1h-1zM51 28h2v1h-2zM54 28h1v1h-1zM57 28h1v1h-1zM65 28h1v1h-1zM70 28h1v1h-1zM76 28h1v1h-1zM88 28h2v1h-2zM91 28h1v1h-1zM93 28h1v1h-1zM100 28h1v1h-1zM16 29h1v1h-1zM58 29h2v1h-2zM81 29h1v1h-1zM51 30h3v1h-3zM57 30h3v1h-3zM61 30h2v1h-2zM67 30h1v1h-1zM88 30h2v1h-2zM91 30h1v1h-1zM93 30h1v1h-1zM100 30h1v1h-1zM54 31h1v1h-1zM63 31h1v1h-1zM51 32h4v1h-4zM56 32h1v1h-1zM58 32h4v1h-4zM63 32h1v1h-1zM66 32h1v1h-1zM70 32h1v1h-1zM80 32h1v1h-1zM90 32h1v1h-1zM93 32h1v1h-1zM13 33h1v1h-1zM51 33h1v1h-1zM58 33h1v1h-1zM60 33h1v1h-1zM63 33h1v1h-1zM69 33h1v1h-1zM80 33h1v1h-1zM83 33h1v1h-1zM87 33h1v1h-1zM90 33h1v1h-1zM55 34h1v1h-1zM57 34h2v1h-2zM61 34h1v1h-1zM63 34h1v1h-1zM90 34h1v1h-1zM93 34h1v1h-1zM51 35h1v1h-1zM57 35h1v1h-1zM59 35h1v1h-1zM61 35h1v1h-1zM80 35h1v1h-1zM87 35h1v1h-1zM90 35h1v1h-1zM12 36h4v1h-4zM17 36h1v1h-1zM19 36h2v1h-2zM22 36h2v1h-2zM78 36h2v1h-2zM81 36h2v1h-2zM84 36h1v1h-1zM16 37h1v1h-1zM53 37h2v1h-2zM59 37h1v1h-1zM85 37h3v1h-3zM90 37h2v1h-2zM53 38h1v1h-1zM77 38h1v1h-1zM80 38h1v1h-1zM83 38h1v1h-1zM16 39h1v1h-1zM53 39h1v1h-1zM57 39h1v1h-1zM65 39h1v1h-1zM69 39h2v1h-2zM76 39h1v1h-1zM51 40h1v1h-1zM53 40h1v1h-1zM55 40h3v1h-3zM59 40h1v1h-1zM90 40h1v1h-1zM15 41h2v1h-2zM59 41h1v1h-1zM63 41h1v1h-1zM77 41h3v1h-3zM83 41h1v1h-1zM85 41h1v1h-1zM90 41h1v1h-1zM16 42h1v1h-1zM51 42h1v1h-1zM58 42h2v1h-2zM80 42h1v1h-1zM83 42h1v1h-1zM89 42h2v1h-2zM13 43h2v1h-2zM25 43h1v1h-1zM55 43h1v1h-1zM58 43h2v1h-2zM80 43h1v1h-1zM87 43h1v1h-1zM90 43h2v1h-2zM16 44h1v1h-1zM20 44h1v1h-1zM53 44h1v1h-1zM83 44h1v1h-1zM53 45h1v1h-1zM57 45h3v1h-3zM63 45h1v1h-1zM67 45h1v1h-1zM70 45h1v1h-1zM89 45h1v1h-1zM93 45h1v1h-1zM13 46h1v1h-1zM51 46h1v1h-1zM83 46h1v1h-1zM86 46h2v1h-2zM90 46h1v1h-1zM16 47h1v1h-1zM52 47h1v1h-1zM54 47h2v1h-2zM58 47h2v1h-2zM63 47h1v1h-1zM70 47h1v1h-1zM88 47h1v1h-1zM93 47h1v1h-1zM15 48h1v1h-1zM24 48h2v1h-2zM59 48h1v1h-1zM79 48h4v1h-4zM84 48h2v1h-2zM55 49h1v1h-1zM58 49h1v1h-1zM63 49h1v1h-1zM77 49h1v1h-1zM86 49h1v1h-1zM90 49h2v1h-2zM97 49h1v1h-1zM100 49h1v1h-1zM102 49h1v1h-1zM14 50h1v1h-1zM16 50h1v1h-1zM25 50h1v1h-1zM53 50h1v1h-1zM63 50h1v1h-1zM77 50h1v1h-1zM80 50h1v1h-1zM83 50h1v1h-1zM87 50h1v1h-1zM90 50h1v1h-1zM7 51h1v1h-1zM17 51h1v1h-1zM24 51h2v1h-2zM27 51h2v1h-2zM30 51h1v1h-1zM32 51h2v1h-2zM35 51h1v1h-1zM40 51h1v1h-1zM42 51h1v1h-1zM46 51h1v1h-1zM54 51h1v1h-1zM58 51h1v1h-1zM61 51h1v1h-1zM64 51h1v1h-1zM68 51h1v1h-1zM71 51h2v1h-2zM80 51h1v1h-1zM88 51h1v1h-1zM102 51h1v1h-1zM9 52h1v1h-1zM12 52h1v1h-1zM18 52h2v1h-2zM21 52h2v1h-2zM28 52h1v1h-1zM30 52h1v1h-1zM32 52h1v1h-1zM47 52h1v1h-1zM55 52h1v1h-1zM59 52h2v1h-2zM63 52h1v1h-1zM65 52h2v1h-2zM69 52h1v1h-1zM71 52h1v1h-1zM80 52h1v1h-1zM90 52h1v1h-1zM92 52h1v1h-1zM95 52h1v1h-1zM97 52h5v1h-5zM20 53h1v1h-1zM25 53h1v1h-1zM27 53h1v1h-1zM30 53h1v1h-1zM32 53h1v1h-1zM37 53h4v1h-4zM44 53h2v1h-2zM50 53h1v1h-1zM56 53h1v1h-1zM58 53h1v1h-1zM60 53h2v1h-2zM64 53h1v1h-1zM66 53h1v1h-1zM68 53h1v1h-1zM71 53h1v1h-1zM73 53h2v1h-2zM76 53h1v1h-1zM83 53h1v1h-1zM88 53h2v1h-2zM91 53h1v1h-1zM102 53h1v1h-1zM6 54h2v1h-2zM10 54h1v1h-1zM13 54h2v1h-2zM17 54h1v1h-1zM21 54h1v1h-1zM24 54h2v1h-2zM28 54h1v1h-1zM31 54h2v1h-2zM37 54h1v1h-1zM47 54h1v1h-1zM51 54h1v1h-1zM59 54h1v1h-1zM64 54h2v1h-2zM68 54h4v1h-4zM74 54h1v1h-1zM80 54h1v1h-1zM83 54h1v1h-1zM89 54h1v1h-1zM93 54h2v1h-2zM96 54h2v1h-2zM101 54h3v1h-3zM7 55h1v1h-1zM13 55h1v1h-1zM17 55h1v1h-1zM21 55h1v1h-1zM24 55h1v1h-1zM34 55h1v1h-1zM40 55h1v1h-1zM43 55h1v1h-1zM47 55h1v1h-1zM49 55h1v1h-1zM52 55h1v1h-1zM56 55h2v1h-2zM59 55h3v1h-3zM63 55h1v1h-1zM67 55h3v1h-3zM72 55h1v1h-1zM76 55h1v1h-1zM89 55h1v1h-1zM94 55h1v1h-1zM99 55h1v1h-1zM102 55h1v1h-1zM7 56h2v1h-2zM11 56h1v1h-1zM18 56h8v1h-8zM32 56h1v1h-1zM40 56h1v1h-1zM53 56h1v1h-1zM55 56h1v1h-1zM63 56h2v1h-2zM67 56h3v1h-3zM71 56h2v1h-2zM80 56h1v1h-1zM83 56h1v1h-1zM86 56h1v1h-1zM89 56h1v1h-1zM91 56h2v1h-2zM95 56h2v1h-2zM98 56h6v1h-6zM6 57h2v1h-2zM12 57h2v1h-2zM16 57h1v1h-1zM20 57h2v1h-2zM23 57h2v1h-2zM28 57h1v1h-1zM30 57h1v1h-1zM34 57h2v1h-2zM39 57h2v1h-2zM45 57h1v1h-1zM55 57h1v1h-1zM58 57h2v1h-2zM62 57h2v1h-2zM66 57h5v1h-5zM74 57h2v1h-2zM77 57h1v1h-1zM83 57h1v1h-1zM96 57h1v1h-1zM99 57h1v1h-1zM102 57h2v1h-2zM12 58h2v1h-2zM17 58h1v1h-1zM19 58h1v1h-1zM21 58h3v1h-3zM25 58h1v1h-1zM29 58h2v1h-2zM32 58h3v1h-3zM42 58h2v1h-2zM45 58h1v1h-1zM47 58h1v1h-1zM49 58h1v1h-1zM51 58h1v1h-1zM53 58h1v1h-1zM57 58h1v1h-1zM60 58h1v1h-1zM63 58h1v1h-1zM65 58h1v1h-1zM67 58h4v1h-4zM72 58h1v1h-1zM76 58h1v1h-1zM89 58h1v1h-1zM91 58h1v1h-1zM94 58h1v1h-1zM97 58h3v1h-3zM101 58h2v1h-2zM7 59h1v1h-1zM12 59h2v1h-2zM15 59h1v1h-1zM17 59h1v1h-1zM27 59h1v1h-1zM29 59h2v1h-2zM32 59h1v1h-1zM35 59h1v1h-1zM37 59h1v1h-1zM40 59h4v1h-4zM45 59h1v1h-1zM47 59h2v1h-2zM52 59h1v1h-1zM54 59h2v1h-2zM57 59h1v1h-1zM63 59h1v1h-1zM65 59h1v1h-1zM74 59h2v1h-2zM85 59h1v1h-1zM91 59h1v1h-1zM6 60h2v1h-2zM10 60h1v1h-1zM13 60h2v1h-2zM17 60h2v1h-2zM23 60h3v1h-3zM32 60h2v1h-2zM52 60h2v1h-2zM55 60h1v1h-1zM58 60h1v1h-1zM63 60h2v1h-2zM67 60h2v1h-2zM72 60h1v1h-1zM78 60h1v1h-1zM80 60h1v1h-1zM83 60h1v1h-1zM85 60h2v1h-2zM88 60h1v1h-1zM94 60h3v1h-3zM98 60h1v1h-1zM101 60h1v1h-1zM103 60h1v1h-1zM6 61h2v1h-2zM10 61h1v1h-1zM12 61h1v1h-1zM14 61h2v1h-2zM17 61h1v1h-1zM19 61h3v1h-3zM23 61h1v1h-1zM25 61h1v1h-1zM30 61h1v1h-1zM32 61h1v1h-1zM34 61h2v1h-2zM51 61h1v1h-1zM53 61h1v1h-1zM55 61h1v1h-1zM67 61h3v1h-3zM71 61h3v1h-3zM76 61h1v1h-1zM80 61h1v1h-1zM88 61h3v1h-3zM92 61h1v1h-1zM94 61h2v1h-2zM100 61h2v1h-2zM103 61h1v1h-1zM7 62h5v1h-5zM14 62h1v1h-1zM22 62h1v1h-1zM24 62h2v1h-2zM30 62h1v1h-1zM57 62h1v1h-1zM67 62h1v1h-1zM77 62h1v1h-1zM83 62h4v1h-4zM90 62h3v1h-3zM96 62h1v1h-1zM98 62h1v1h-1zM102 62h1v1h-1zM6 63h2v1h-2zM13 63h3v1h-3zM17 63h1v1h-1zM22 63h2v1h-2zM25 63h1v1h-1zM31 63h4v1h-4zM41 63h1v1h-1zM45 63h1v1h-1zM47 63h1v1h-1zM49 63h2v1h-2zM52 63h1v1h-1zM55 63h6v1h-6zM67 63h2v1h-2zM71 63h1v1h-1zM74 63h1v1h-1zM89 63h1v1h-1zM97 63h1v1h-1zM102 63h1v1h-1zM51 64h1v1h-1zM53 64h2v1h-2zM56 64h1v1h-1zM60 64h1v1h-1zM69 64h2v1h-2zM99 64h1v1h-1zM101 64h2v1h-2zM28 65h1v1h-1zM39 65h1v1h-1zM52 65h1v1h-1zM54 65h1v1h-1zM58 65h2v1h-2zM67 65h1v1h-1zM70 65h1v1h-1zM74 65h1v1h-1zM88 65h3v1h-3zM97 65h1v1h-1zM99 65h1v1h-1zM101 65h2v1h-2zM32 66h1v1h-1zM52 66h2v1h-2zM57 66h1v1h-1zM70 66h1v1h-1zM80 66h1v1h-1zM96 66h1v1h-1zM101 66h1v1h-1zM30 67h1v1h-1zM45 67h1v1h-1zM55 67h4v1h-4zM60 67h4v1h-4zM65 67h1v1h-1zM71 67h1v1h-1zM89 67h1v1h-1zM96 67h1v1h-1zM99 67h1v1h-1zM102 67h1v1h-1zM16 68h1v1h-1zM51 68h1v1h-1zM53 68h6v1h-6zM60 68h2v1h-2zM63 68h1v1h-1zM71 68h2v1h-2zM88 68h2v1h-2zM96 68h2v1h-2zM99 68h1v1h-1zM101 68h2v1h-2zM33 69h1v1h-1zM39 69h1v1h-1zM52 69h1v1h-1zM54 69h5v1h-5zM61 69h1v1h-1zM64 69h1v1h-1zM71 69h3v1h-3zM76 69h1v1h-1zM88 69h1v1h-1zM94 69h1v1h-1zM96 69h2v1h-2zM28 70h1v1h-1zM32 70h1v1h-1zM39 70h1v1h-1zM45 70h1v1h-1zM47 70h1v1h-1zM54 70h1v1h-1zM57 70h2v1h-2zM64 70h3v1h-3zM71 70h3v1h-3zM76 70h1v1h-1zM99 70h1v1h-1zM51 71h4v1h-4zM56 71h1v1h-1zM61 71h1v1h-1zM63 71h1v1h-1zM67 71h4v1h-4zM72 71h1v1h-1zM16 72h1v1h-1zM51 72h1v1h-1zM55 72h2v1h-2zM58 72h1v1h-1zM60 72h2v1h-2zM68 72h4v1h-4zM88 72h2v1h-2zM97 72h1v1h-1zM99 72h1v1h-1zM13 73h2v1h-2zM16 73h1v1h-1zM53 73h1v1h-1zM61 73h1v1h-1zM69 73h2v1h-2zM80 73h1v1h-1zM83 73h1v1h-1zM86 73h1v1h-1zM94 73h4v1h-4zM99 73h1v1h-1zM101 73h3v1h-3zM13 74h1v1h-1zM16 74h1v1h-1zM53 74h2v1h-2zM57 74h1v1h-1zM59 74h1v1h-1zM63 74h1v1h-1zM65 74h1v1h-1zM89 74h4v1h-4zM94 74h6v1h-6zM102 74h1v1h-1zM16 75h1v1h-1zM21 75h1v1h-1zM24 75h1v1h-1zM57 75h1v1h-1zM59 75h1v1h-1zM77 75h1v1h-1zM81 75h1v1h-1zM83 75h1v1h-1zM85 75h1v1h-1zM88 75h5v1h-5zM94 75h5v1h-5zM103 75h1v1h-1zM14 76h1v1h-1zM28 76h1v1h-1zM39 76h1v1h-1zM53 76h1v1h-1zM55 76h1v1h-1zM58 76h1v1h-1zM61 76h1v1h-1zM69 76h2v1h-2zM83 76h1v1h-1zM89 76h2v1h-2zM99 76h1v1h-1zM103 76h1v1h-1zM26 77h2v1h-2zM38 77h1v1h-1zM41 77h1v1h-1zM49 77h2v1h-2zM57 77h1v1h-1zM62 77h1v1h-1zM75 77h1v1h-1zM91 77h1v1h-1zM94 77h1v1h-1zM99 77h1v1h-1zM36 78h1v1h-1zM41 78h1v1h-1zM60 78h1v1h-1zM88 78h2v1h-2zM97 78h1v1h-1zM99 78h1v1h-1zM26 79h1v1h-1zM36 79h1v1h-1zM41 79h1v1h-1zM48 79h1v1h-1zM89 79h1v1h-1zM99 79h1v1h-1zM26 80h2v1h-2zM32 80h2v1h-2zM35 80h1v1h-1zM38 80h1v1h-1zM42 80h2v1h-2zM48 80h1v1h-1zM50 80h3v1h-3zM54 80h1v1h-1zM56 80h1v1h-1zM60 80h2v1h-2zM66 80h1v1h-1zM73 80h1v1h-1zM91 80h1v1h-1zM93 80h1v1h-1zM96 80h1v1h-1zM98 80h2v1h-2zM102 80h1v1h-1zM29 81h1v1h-1zM36 81h1v1h-1zM48 81h1v1h-1zM75 81h1v1h-1zM88 81h2v1h-2zM91 81h1v1h-1zM36 82h1v1h-1zM48 82h1v1h-1zM88 82h1v1h-1zM33 83h1v1h-1zM38 83h1v1h-1zM41 83h2v1h-2zM44 83h1v1h-1zM46 83h1v1h-1zM50 83h1v1h-1zM53 83h2v1h-2zM56 83h2v1h-2zM60 83h1v1h-1zM62 83h1v1h-1zM73 83h1v1h-1zM75 83h2v1h-2zM89 83h1v1h-1zM91 83h2v1h-2zM99 83h1v1h-1zM101 83h2v1h-2zM36 84h1v1h-1zM48 84h1v1h-1zM62 84h1v1h-1zM88 84h1v1h-1zM90 84h2v1h-2zM96 84h1v1h-1zM37 85h1v1h-1zM41 85h1v1h-1zM48 85h1v1h-1zM59 85h2v1h-2zM62 85h1v1h-1zM75 85h1v1h-1zM89 85h1v1h-1zM95 85h1v1h-1zM99 85h1v1h-1zM102 85h1v1h-1zM37 86h1v1h-1zM46 86h1v1h-1zM49 86h1v1h-1zM56 86h1v1h-1zM60 86h1v1h-1zM62 86h1v1h-1zM73 86h1v1h-1zM88 86h2v1h-2zM95 86h1v1h-1zM102 86h1v1h-1zM33 87h1v1h-1zM35 87h1v1h-1zM37 87h1v1h-1zM43 87h1v1h-1zM46 87h1v1h-1zM50 87h1v1h-1zM28 88h1v1h-1zM30 88h1v1h-1zM47 88h1v1h-1zM51 88h1v1h-1zM53 88h1v1h-1zM60 88h2v1h-2zM65 88h1v1h-1zM68 88h2v1h-2zM72 88h1v1h-1zM75 88h1v1h-1zM78 88h1v1h-1zM81 88h2v1h-2zM84 88h1v1h-1zM86 88h1v1h-1zM28 89h1v1h-1zM30 89h1v1h-1zM42 89h1v1h-1zM45 89h1v1h-1zM53 89h4v1h-4zM58 89h1v1h-1zM61 89h1v1h-1zM63 89h1v1h-1zM65 89h1v1h-1zM67 89h2v1h-2zM72 89h1v1h-1zM74 89h3v1h-3zM78 89h2v1h-2zM81 89h1v1h-1zM83 89h1v1h-1zM85 89h2v1h-2zM32 90h4v1h-4zM37 90h1v1h-1zM40 90h4v1h-4zM46 90h1v1h-1zM49 90h2v1h-2zM52 90h1v1h-1zM61 90h2v1h-2zM65 90h1v1h-1zM74 90h3v1h-3zM84 90h1v1h-1zM27 91h2v1h-2zM30 91h1v1h-1zM37 91h1v1h-1zM43 91h1v1h-1zM49 91h1v1h-1zM53 91h1v1h-1zM56 91h1v1h-1zM58 91h2v1h-2zM62 91h1v1h-1zM74 91h2v1h-2zM77 91h1v1h-1zM80 91h2v1h-2zM83 91h2v1h-2zM52 92h1v1h-1zM56 92h1v1h-1zM61 92h2v1h-2zM74 92h2v1h-2zM83 92h1v1h-1zM28 93h1v1h-1zM30 93h1v1h-1zM32 93h1v1h-1zM34 93h1v1h-1zM45 93h1v1h-1zM47 93h1v1h-1zM54 93h1v1h-1zM80 93h1v1h-1zM54 94h2v1h-2zM58 94h1v1h-1zM60 94h2v1h-2zM69 94h1v1h-1zM73 94h3v1h-3zM77 94h1v1h-1zM16 95h1v1h-1zM52 95h1v1h-1zM56 95h1v1h-1zM60 95h2v1h-2zM73 95h3v1h-3zM85 95h2v1h-2zM54 96h1v1h-1zM56 96h2v1h-2zM60 96h1v1h-1zM62 96h1v1h-1zM66 96h4v1h-4zM73 96h3v1h-3zM80 96h1v1h-1zM84 96h1v1h-1zM49 97h1v1h-1zM52 97h1v1h-1zM54 97h1v1h-1zM58 97h1v1h-1zM63 97h1v1h-1zM65 97h1v1h-1zM68 97h2v1h-2zM72 97h4v1h-4zM78 97h1v1h-1zM52 98h1v1h-1zM56 98h1v1h-1zM58 98h1v1h-1zM60 98h1v1h-1zM62 98h1v1h-1zM74 98h2v1h-2zM80 98h1v1h-1zM52 99h1v1h-1zM55 99h4v1h-4zM64 99h2v1h-2zM67 99h2v1h-2zM70 99h1v1h-1zM72 99h3v1h-3zM76 99h5v1h-5zM83 99h1v1h-1zM85 99h1v1h-1zM28 100h1v1h-1zM30 100h1v1h-1zM49 100h1v1h-1zM52 100h1v1h-1zM56 100h1v1h-1zM61 100h1v1h-1zM52 101h1v1h-1zM54 101h1v1h-1zM56 101h1v1h-1zM58 101h1v1h-1zM60 101h2v1h-2zM64 101h3v1h-3zM68 101h1v1h-1zM73 101h1v1h-1zM83 101h1v1h-1zM49 102h1v1h-1zM51 102h1v1h-1zM53 102h6v1h-6zM62 102h4v1h-4zM67 102h2v1h-2zM73 102h2v1h-2zM80 102h1v1h-1zM83 102h1v1h-1zM85 102h2v1h-2zM54 103h1v1h-1zM56 103h2v1h-2zM60 103h2v1h-2zM73 103h1v1h-1zM75 103h2v1h-2z"/>
<path fill="#edcbb9" d="M2 0h1v1h-1zM16 0h1v1h-1zM2 1h1v1h-1zM4 1h1v1h-1zM13 1h1v1h-1zM0 2h2v1h-2zM3 2h1v1h-1zM12 2h1v1h-1zM20 2h1v1h-1zM2 3h1v1h-1zM25 3h1v1h-1zM1 4h1v1h-1zM25 4h1v1h-1zM16 5h2v1h-2zM24 5h1v1h-1zM7 6h1v1h-1zM10 6h1v1h-1zM12 6h2v1h-2zM15 6h2v1h-2zM56 6h1v1h-1zM62 6h1v1h-1zM6 7h1v1h-1zM8 7h1v1h-1zM10 7h1v1h-1zM12 7h1v1h-1zM16 7h1v1h-1zM21 7h2v1h-2zM24 7h1v1h-1zM52 7h1v1h-1zM7 8h1v1h-1zM10 9h1v1h-1zM12 9h1v1h-1zM6 10h2v1h-2zM9 10h1v1h-1zM11 10h2v1h-2zM14 10h1v1h-1zM16 10h1v1h-1zM23 10h1v1h-1zM25 10h1v1h-1zM52 10h1v1h-1zM57 10h1v1h-1zM10 11h1v1h-1zM15 11h2v1h-2zM21 11h1v1h-1zM23 11h1v1h-1zM25 11h1v1h-1zM2 12h1v1h-1zM6 12h2v1h-2zM9 12h2v1h-2zM17 12h2v1h-2zM21 12h1v1h-1zM23 12h1v1h-1zM51 12h1v1h-1zM54 12h3v1h-3zM60 12h1v1h-1zM1 13h1v1h-1zM6 13h1v1h-1zM15 13h1v1h-1zM17 13h1v1h-1zM19 13h2v1h-2zM22 13h1v1h-1zM25 13h1v1h-1zM31 13h1v1h-1zM44 13h1v1h-1zM48 13h1v1h-1zM51 13h1v1h-1zM61 13h1v1h-1zM10 14h1v1h-1zM16 14h1v1h-1zM23 14h2v1h-2zM27 14h1v1h-1zM52 14h1v1h-1zM57 14h1v1h-1zM6 15h1v1h-1zM11 15h1v1h-1zM13 15h1v1h-1zM17 15h1v1h-1zM20 15h1v1h-1zM23 15h1v1h-1zM60 15h1v1h-1zM62 15h1v1h-1zM0 16h1v1h-1zM5 16h3v1h-3zM10 16h2v1h-2zM14 16h1v1h-1zM26 16h1v1h-1zM31 16h1v1h-1zM35 16h2v1h-2zM38 16h1v1h-1zM46 16h1v1h-1zM51 16h1v1h-1zM53 16h2v1h-2zM56 16h1v1h-1zM58 16h6v1h-6zM65 16h2v1h-2zM5 17h1v1h-1zM12 17h2v1h-2zM15 17h1v1h-1zM18 17h1v1h-1zM20 17h3v1h-3zM24 17h1v1h-1zM62 17h1v1h-1zM12 18h1v1h-1zM17 18h1v1h-1zM19 18h1v1h-1zM21 18h1v1h-1zM25 18h1v1h-1zM36 18h1v1h-1zM54 18h1v1h-1zM61 18h2v1h-2zM13 19h1v1h-1zM18 19h1v1h-1zM24 19h2v1h-2zM2 20h1v1h-1zM13 20h1v1h-1zM15 20h1v1h-1zM17 20h1v1h-1zM21 20h1v1h-1zM23 20h1v1h-1zM25 20h1v1h-1zM51 20h1v1h-1zM60 20h1v1h-1zM62 20h1v1h-1zM7 21h1v1h-1zM11 21h2v1h-2zM17 21h2v1h-2zM20 21h1v1h-1zM22 21h2v1h-2zM25 21h1v1h-1zM62 21h1v1h-1zM7 22h1v1h-1zM13 22h1v1h-1zM17 22h1v1h-1zM21 22h1v1h-1zM23 22h1v1h-1zM25 22h1v1h-1zM55 22h1v1h-1zM57 22h1v1h-1zM60 22h1v1h-1zM10 23h3v1h-3zM14 23h2v1h-2zM20 23h3v1h-3zM24 23h1v1h-1zM62 23h1v1h-1zM5 24h1v1h-1zM7 24h1v1h-1zM14 24h1v1h-1zM17 24h1v1h-1zM19 24h1v1h-1zM23 24h1v1h-1zM25 24h1v1h-1zM61 24h1v1h-1zM3 25h2v1h-2zM10 25h2v1h-2zM13 25h1v1h-1zM18 25h5v1h-5zM24 25h1v1h-1zM36 25h1v1h-1zM52 25h1v1h-1zM57 25h1v1h-1zM16 26h1v1h-1zM53 26h1v1h-1zM58 26h2v1h-2zM63 26h1v1h-1zM83 26h1v1h-1zM90 26h2v1h-2zM100 26h1v1h-1zM14 27h1v1h-1zM55 27h2v1h-2zM58 27h1v1h-1zM60 27h4v1h-4zM65 27h2v1h-2zM71 27h1v1h-1zM75 27h1v1h-1zM87 27h1v1h-1zM90 27h1v1h-1zM92 27h2v1h-2zM40 28h1v1h-1zM55 28h2v1h-2zM58 28h1v1h-1zM60 28h1v1h-1zM64 28h1v1h-1zM67 28h3v1h-3zM71 28h2v1h-2zM75 28h1v1h-1zM92 28h1v1h-1zM96 28h2v1h-2zM102 28h1v1h-1zM52 29h2v1h-2zM55 29h1v1h-1zM57 29h1v1h-1zM61 29h3v1h-3zM70 29h1v1h-1zM89 29h2v1h-2zM93 29h2v1h-2zM54 30h1v1h-1zM63 30h2v1h-2zM70 30h3v1h-3zM92 30h1v1h-1zM97 30h1v1h-1zM103 30h1v1h-1zM13 31h1v1h-1zM16 31h1v1h-1zM51 31h1v1h-1zM53 31h1v1h-1zM55 31h1v1h-1zM57 31h2v1h-2zM60 31h1v1h-1zM65 31h1v1h-1zM69 31h2v1h-2zM88 31h1v1h-1zM90 31h2v1h-2zM94 31h1v1h-1zM57 32h1v1h-1zM62 32h1v1h-1zM69 32h1v1h-1zM71 32h1v1h-1zM88 32h2v1h-2zM92 32h1v1h-1zM94 32h2v1h-2zM98 32h1v1h-1zM100 32h2v1h-2zM103 32h1v1h-1zM54 33h3v1h-3zM71 33h1v1h-1zM91 33h1v1h-1zM93 33h1v1h-1zM51 34h2v1h-2zM54 34h1v1h-1zM60 34h1v1h-1zM62 34h1v1h-1zM64 34h1v1h-1zM66 34h1v1h-1zM70 34h1v1h-1zM89 34h1v1h-1zM92 34h1v1h-1zM94 34h1v1h-1zM97 34h1v1h-1zM100 34h1v1h-1zM103 34h1v1h-1zM16 35h1v1h-1zM52 35h5v1h-5zM58 35h1v1h-1zM67 35h1v1h-1zM69 35h2v1h-2zM85 35h1v1h-1zM89 35h1v1h-1zM91 35h1v1h-1zM94 35h1v1h-1zM16 36h1v1h-1zM18 36h1v1h-1zM25 36h1v1h-1zM85 36h2v1h-2zM52 37h1v1h-1zM55 37h4v1h-4zM60 37h2v1h-2zM63 37h1v1h-1zM67 37h1v1h-1zM69 37h1v1h-1zM71 37h1v1h-1zM88 37h2v1h-2zM16 38h1v1h-1zM51 38h1v1h-1zM55 38h1v1h-1zM58 38h1v1h-1zM63 38h1v1h-1zM67 38h2v1h-2zM90 38h1v1h-1zM51 39h1v1h-1zM54 39h3v1h-3zM59 39h3v1h-3zM67 39h1v1h-1zM71 39h2v1h-2zM88 39h2v1h-2zM91 39h1v1h-1zM93 39h2v1h-2zM97 39h1v1h-1zM100 39h1v1h-1zM103 39h1v1h-1zM28 40h1v1h-1zM60 40h4v1h-4zM66 40h1v1h-1zM71 40h1v1h-1zM76 40h1v1h-1zM88 40h1v1h-1zM93 40h3v1h-3zM98 40h1v1h-1zM100 40h1v1h-1zM51 41h1v1h-1zM53 41h1v1h-1zM55 41h1v1h-1zM57 41h2v1h-2zM60 41h2v1h-2zM67 41h1v1h-1zM70 41h1v1h-1zM88 41h1v1h-1zM91 41h1v1h-1zM93 41h1v1h-1zM100 41h1v1h-1zM53 42h1v1h-1zM55 42h1v1h-1zM57 42h1v1h-1zM62 42h2v1h-2zM69 42h2v1h-2zM92 42h2v1h-2zM100 42h1v1h-1zM53 43h1v1h-1zM60 43h1v1h-1zM63 43h1v1h-1zM69 43h1v1h-1zM71 43h1v1h-1zM13 44h1v1h-1zM52 44h1v1h-1zM55 44h7v1h-7zM63 44h1v1h-1zM67 44h1v1h-1zM70 44h1v1h-1zM72 44h1v1h-1zM76 44h1v1h-1zM88 44h4v1h-4zM51 45h2v1h-2zM54 45h3v1h-3zM60 45h2v1h-2zM65 45h1v1h-1zM68 45h1v1h-1zM71 45h1v1h-1zM73 45h2v1h-2zM76 45h1v1h-1zM88 45h1v1h-1zM92 45h1v1h-1zM95 45h1v1h-1zM97 45h2v1h-2zM100 45h1v1h-1zM103 45h1v1h-1zM16 46h1v1h-1zM52 46h2v1h-2zM55 46h1v1h-1zM57 46h3v1h-3zM61 46h1v1h-1zM80 46h1v1h-1zM85 46h1v1h-1zM91 46h2v1h-2zM100 46h1v1h-1zM51 47h1v1h-1zM56 47h2v1h-2zM60 47h3v1h-3zM64 47h1v1h-1zM66 47h1v1h-1zM68 47h2v1h-2zM72 47h1v1h-1zM89 47h1v1h-1zM91 47h1v1h-1zM95 47h1v1h-1zM100 47h1v1h-1zM103 47h1v1h-1zM13 48h1v1h-1zM51 48h1v1h-1zM54 48h1v1h-1zM63 48h1v1h-1zM83 48h1v1h-1zM87 48h1v1h-1zM91 48h1v1h-1zM52 49h1v1h-1zM54 49h1v1h-1zM56 49h2v1h-2zM59 49h1v1h-1zM70 49h1v1h-1zM89 49h1v1h-1zM92 49h1v1h-1zM51 50h1v1h-1zM55 50h2v1h-2zM60 50h1v1h-1zM62 50h1v1h-1zM66 50h1v1h-1zM71 50h1v1h-1zM91 50h1v1h-1zM94 50h1v1h-1zM101 50h1v1h-1zM12 51h2v1h-2zM16 51h1v1h-1zM20 51h1v1h-1zM31 51h1v1h-1zM34 51h1v1h-1zM38 51h2v1h-2zM41 51h1v1h-1zM45 51h1v1h-1zM47 51h2v1h-2zM50 51h1v1h-1zM52 51h2v1h-2zM56 51h2v1h-2zM60 51h1v1h-1zM65 51h2v1h-2zM73 51h4v1h-4zM99 51h1v1h-1zM7 52h1v1h-1zM10 52h1v1h-1zM14 52h1v1h-1zM25 52h1v1h-1zM29 52h1v1h-1zM34 52h2v1h-2zM37 52h1v1h-1zM44 52h3v1h-3zM49 52h1v1h-1zM51 52h1v1h-1zM56 52h3v1h-3zM61 52h1v1h-1zM68 52h1v1h-1zM72 52h1v1h-1zM75 52h1v1h-1zM88 52h2v1h-2zM96 52h1v1h-1zM16 53h1v1h-1zM26 53h1v1h-1zM29 53h1v1h-1zM31 53h1v1h-1zM35 53h1v1h-1zM41 53h3v1h-3zM46 53h1v1h-1zM51 53h1v1h-1zM55 53h1v1h-1zM62 53h1v1h-1zM65 53h1v1h-1zM72 53h1v1h-1zM75 53h1v1h-1zM12 54h1v1h-1zM16 54h1v1h-1zM18 54h1v1h-1zM30 54h1v1h-1zM33 54h3v1h-3zM39 54h1v1h-1zM45 54h1v1h-1zM48 54h2v1h-2zM55 54h4v1h-4zM66 54h2v1h-2zM76 54h1v1h-1zM88 54h1v1h-1zM99 54h1v1h-1zM12 55h1v1h-1zM22 55h1v1h-1zM27 55h3v1h-3zM31 55h1v1h-1zM33 55h1v1h-1zM35 55h1v1h-1zM37 55h3v1h-3zM41 55h2v1h-2zM44 55h3v1h-3zM50 55h1v1h-1zM53 55h2v1h-2zM58 55h1v1h-1zM64 55h1v1h-1zM66 55h1v1h-1zM73 55h3v1h-3zM88 55h1v1h-1zM6 56h1v1h-1zM12 56h1v1h-1zM16 56h1v1h-1zM27 56h2v1h-2zM33 56h1v1h-1zM35 56h1v1h-1zM37 56h1v1h-1zM39 56h1v1h-1zM44 56h2v1h-2zM47 56h1v1h-1zM49 56h4v1h-4zM54 56h1v1h-1zM57 56h3v1h-3zM61 56h1v1h-1zM66 56h1v1h-1zM73 56h2v1h-2zM76 56h1v1h-1zM88 56h1v1h-1zM97 56h1v1h-1zM10 57h1v1h-1zM14 57h1v1h-1zM22 57h1v1h-1zM25 57h1v1h-1zM29 57h1v1h-1zM31 57h2v1h-2zM37 57h1v1h-1zM41 57h2v1h-2zM44 57h1v1h-1zM46 57h2v1h-2zM49 57h1v1h-1zM51 57h2v1h-2zM54 57h1v1h-1zM56 57h1v1h-1zM60 57h2v1h-2zM64 57h1v1h-1zM71 57h3v1h-3zM88 57h1v1h-1zM97 57h1v1h-1zM101 57h1v1h-1zM16 58h1v1h-1zM26 58h3v1h-3zM31 58h1v1h-1zM35 58h1v1h-1zM37 58h2v1h-2zM41 58h1v1h-1zM44 58h1v1h-1zM46 58h1v1h-1zM52 58h1v1h-1zM54 58h3v1h-3zM61 58h2v1h-2zM64 58h1v1h-1zM66 58h1v1h-1zM73 58h2v1h-2zM88 58h1v1h-1zM96 58h1v1h-1zM16 59h1v1h-1zM26 59h1v1h-1zM39 59h1v1h-1zM44 59h1v1h-1zM46 59h1v1h-1zM49 59h1v1h-1zM56 59h1v1h-1zM60 59h1v1h-1zM62 59h1v1h-1zM64 59h1v1h-1zM66 59h1v1h-1zM73 59h1v1h-1zM99 59h1v1h-1zM12 60h1v1h-1zM15 60h2v1h-2zM20 60h1v1h-1zM22 60h1v1h-1zM27 60h2v1h-2zM31 60h1v1h-1zM34 60h1v1h-1zM37 60h1v1h-1zM39 60h3v1h-3zM43 60h3v1h-3zM47 60h1v1h-1zM50 60h2v1h-2zM57 60h1v1h-1zM59 60h1v1h-1zM61 60h2v1h-2zM65 60h1v1h-1zM69 60h1v1h-1zM71 60h1v1h-1zM73 60h2v1h-2zM76 60h2v1h-2zM91 60h1v1h-1zM13 61h1v1h-1zM16 61h1v1h-1zM18 61h1v1h-1zM24 61h1v1h-1zM27 61h1v1h-1zM29 61h1v1h-1zM37 61h1v1h-1zM39 61h3v1h-3zM44 61h4v1h-4zM52 61h1v1h-1zM56 61h3v1h-3zM60 61h1v1h-1zM62 61h2v1h-2zM65 61h1v1h-1zM74 61h1v1h-1zM96 61h1v1h-1zM102 61h1v1h-1zM6 62h1v1h-1zM15 62h4v1h-4zM20 62h2v1h-2zM23 62h1v1h-1zM27 62h1v1h-1zM29 62h1v1h-1zM32 62h1v1h-1zM34 62h1v1h-1zM40 62h1v1h-1zM42 62h1v1h-1zM47 62h1v1h-1zM50 62h1v1h-1zM53 62h1v1h-1zM58 62h4v1h-4zM63 62h3v1h-3zM69 62h8v1h-8zM80 62h1v1h-1zM88 62h2v1h-2zM95 62h1v1h-1zM99 62h1v1h-1zM101 62h1v1h-1zM16 63h1v1h-1zM26 63h2v1h-2zM29 63h2v1h-2zM37 63h2v1h-2zM40 63h1v1h-1zM42 63h3v1h-3zM48 63h1v1h-1zM61 63h2v1h-2zM64 63h1v1h-1zM66 63h1v1h-1zM72 63h2v1h-2zM75 63h2v1h-2zM99 63h1v1h-1zM28 64h1v1h-1zM30 64h1v1h-1zM34 64h1v1h-1zM47 64h1v1h-1zM55 64h1v1h-1zM57 64h3v1h-3zM62 64h2v1h-2zM65 64h3v1h-3zM71 64h2v1h-2zM74 64h1v1h-1zM88 64h2v1h-2zM96 64h1v1h-1zM16 65h1v1h-1zM27 65h1v1h-1zM31 65h1v1h-1zM45 65h1v1h-1zM51 65h1v1h-1zM53 65h1v1h-1zM60 65h3v1h-3zM64 65h1v1h-1zM68 65h2v1h-2zM71 65h2v1h-2zM75 65h1v1h-1zM16 66h1v1h-1zM27 66h1v1h-1zM34 66h1v1h-1zM40 66h1v1h-1zM47 66h1v1h-1zM50 66h2v1h-2zM54 66h3v1h-3zM58 66h2v1h-2zM63 66h2v1h-2zM67 66h3v1h-3zM71 66h2v1h-2zM76 66h1v1h-1zM88 66h1v1h-1zM99 66h1v1h-1zM102 66h1v1h-1zM28 67h1v1h-1zM35 67h1v1h-1zM37 67h3v1h-3zM41 67h1v1h-1zM44 67h1v1h-1zM54 67h1v1h-1zM64 67h1v1h-1zM66 67h1v1h-1zM68 67h3v1h-3zM74 67h3v1h-3zM88 67h1v1h-1zM28 68h1v1h-1zM38 68h1v1h-1zM45 68h1v1h-1zM47 68h1v1h-1zM52 68h1v1h-1zM65 68h3v1h-3zM28 69h1v1h-1zM31 69h2v1h-2zM35 69h1v1h-1zM37 69h1v1h-1zM42 69h2v1h-2zM47 69h1v1h-1zM60 69h1v1h-1zM62 69h1v1h-1zM65 69h3v1h-3zM74 69h2v1h-2zM29 70h3v1h-3zM34 70h2v1h-2zM41 70h2v1h-2zM44 70h1v1h-1zM49 70h1v1h-1zM62 70h1v1h-1zM67 70h1v1h-1zM74 70h2v1h-2zM27 71h2v1h-2zM30 71h1v1h-1zM32 71h2v1h-2zM37 71h1v1h-1zM39 71h2v1h-2zM43 71h1v1h-1zM45 71h1v1h-1zM50 71h1v1h-1zM57 71h1v1h-1zM60 71h1v1h-1zM62 71h1v1h-1zM64 71h3v1h-3zM73 71h4v1h-4zM28 72h1v1h-1zM30 72h1v1h-1zM39 72h1v1h-1zM44 72h1v1h-1zM47 72h1v1h-1zM52 72h2v1h-2zM57 72h1v1h-1zM62 72h5v1h-5zM75 72h1v1h-1zM96 72h1v1h-1zM45 73h1v1h-1zM51 73h1v1h-1zM55 73h6v1h-6zM62 73h2v1h-2zM71 73h1v1h-1zM74 73h1v1h-1zM89 73h1v1h-1zM45 74h1v1h-1zM51 74h1v1h-1zM55 74h2v1h-2zM58 74h1v1h-1zM60 74h3v1h-3zM64 74h1v1h-1zM67 74h1v1h-1zM69 74h3v1h-3zM73 74h1v1h-1zM76 74h1v1h-1zM88 74h1v1h-1zM101 74h1v1h-1zM27 75h2v1h-2zM51 75h3v1h-3zM55 75h1v1h-1zM62 75h2v1h-2zM65 75h1v1h-1zM67 75h1v1h-1zM69 75h4v1h-4zM99 75h1v1h-1zM101 75h2v1h-2zM40 76h1v1h-1zM44 76h2v1h-2zM51 76h1v1h-1zM54 76h1v1h-1zM56 76h1v1h-1zM60 76h1v1h-1zM62 76h2v1h-2zM66 76h2v1h-2zM71 76h1v1h-1zM74 76h1v1h-1zM88 76h1v1h-1zM97 76h1v1h-1zM60 77h1v1h-1zM88 77h1v1h-1zM88 79h1v1h-1zM46 80h1v1h-1zM62 80h1v1h-1zM89 80h1v1h-1zM26 83h1v1h-1zM48 83h1v1h-1zM35 85h2v1h-2zM46 85h1v1h-1zM88 85h1v1h-1zM94 85h1v1h-1zM36 86h1v1h-1zM27 87h1v1h-1zM48 87h1v1h-1zM31 88h2v1h-2zM37 88h1v1h-1zM39 88h3v1h-3zM44 88h2v1h-2zM52 88h1v1h-1zM54 88h5v1h-5zM62 88h1v1h-1zM64 88h1v1h-1zM66 88h2v1h-2zM74 88h1v1h-1zM76 88h2v1h-2zM79 88h1v1h-1zM85 88h1v1h-1zM29 89h1v1h-1zM32 89h1v1h-1zM34 89h2v1h-2zM37 89h1v1h-1zM39 89h1v1h-1zM44 89h1v1h-1zM47 89h1v1h-1zM49 89h1v1h-1zM52 89h1v1h-1zM62 89h1v1h-1zM64 89h1v1h-1zM73 89h1v1h-1zM80 89h1v1h-1zM26 90h2v1h-2zM29 90h1v1h-1zM31 90h1v1h-1zM38 90h1v1h-1zM44 90h1v1h-1zM26 91h1v1h-1zM31 91h1v1h-1zM33 91h1v1h-1zM35 91h1v1h-1zM39 91h1v1h-1zM41 91h1v1h-1zM44 91h1v1h-1zM46 91h3v1h-3zM50 91h1v1h-1zM60 91h1v1h-1zM27 92h2v1h-2zM30 92h1v1h-1zM32 92h1v1h-1zM34 92h1v1h-1zM42 92h1v1h-1zM45 92h2v1h-2zM49 92h1v1h-1zM27 93h1v1h-1zM29 93h1v1h-1zM33 93h1v1h-1zM39 93h4v1h-4zM29 94h1v1h-1zM31 94h2v1h-2zM34 94h2v1h-2zM39 94h2v1h-2zM50 94h1v1h-1zM85 94h1v1h-1zM32 95h1v1h-1zM40 95h1v1h-1zM45 95h1v1h-1zM47 95h1v1h-1zM62 95h1v1h-1zM28 96h1v1h-1zM52 96h1v1h-1zM58 96h1v1h-1zM61 96h1v1h-1zM64 96h1v1h-1zM72 96h1v1h-1zM28 97h1v1h-1zM30 97h1v1h-1zM34 97h1v1h-1zM39 97h1v1h-1zM45 97h1v1h-1zM56 97h2v1h-2zM76 97h1v1h-1zM32 98h1v1h-1zM40 98h1v1h-1zM45 98h1v1h-1zM51 99h1v1h-1zM54 99h1v1h-1zM59 99h1v1h-1zM62 99h2v1h-2zM66 99h1v1h-1zM75 99h1v1h-1zM26 100h1v1h-1zM32 100h1v1h-1zM34 100h1v1h-1zM39 100h4v1h-4zM45 100h3v1h-3zM32 101h1v1h-1zM50 101h1v1h-1zM57 101h1v1h-1zM62 101h1v1h-1zM74 101h2v1h-2zM28 102h1v1h-1zM61 102h1v1h-1zM66 102h1v1h-1zM75 102h1v1h-1zM30 103h1v1h-1zM32 103h1v1h-1zM34 103h1v1h-1zM39 103h1v1h-1zM45 103h1v1h-1zM47 103h1v1h-1z"/>
<path fill="#f0bda6" d="M16 1h1v1h-1zM13 2h2v1h-2zM16 3h1v1h-1zM13 7h1v1h-1zM12 11h1v1h-1zM11 12h1v1h-1zM16 12h1v1h-1zM20 12h1v1h-1zM62 12h1v1h-1zM2 13h1v1h-1zM7 13h1v1h-1zM14 13h1v1h-1zM18 13h1v1h-1zM23 13h2v1h-2zM52 13h1v1h-1zM56 13h1v1h-1zM62 13h1v1h-1zM2 14h1v1h-1zM13 14h1v1h-1zM19 14h1v1h-1zM22 14h1v1h-1zM24 15h1v1h-1zM1 16h1v1h-1zM3 16h1v1h-1zM12 16h1v1h-1zM20 16h1v1h-1zM22 16h2v1h-2zM48 16h1v1h-1zM52 16h1v1h-1zM55 16h1v1h-1zM13 18h1v1h-1zM22 18h1v1h-1zM14 19h1v1h-1zM21 19h1v1h-1zM12 20h1v1h-1zM16 20h1v1h-1zM19 21h1v1h-1zM24 21h1v1h-1zM14 22h1v1h-1zM16 22h1v1h-1zM18 22h1v1h-1zM13 23h1v1h-1zM16 23h1v1h-1zM25 23h1v1h-1zM13 24h1v1h-1zM15 24h1v1h-1zM21 24h1v1h-1zM23 25h1v1h-1zM51 26h2v1h-2zM54 26h4v1h-4zM61 26h2v1h-2zM67 26h1v1h-1zM69 26h1v1h-1zM71 26h2v1h-2zM76 26h1v1h-1zM88 26h2v1h-2zM95 26h1v1h-1zM52 27h1v1h-1zM68 27h3v1h-3zM89 27h1v1h-1zM94 27h3v1h-3zM98 27h1v1h-1zM100 27h4v1h-4zM37 28h1v1h-1zM39 28h1v1h-1zM43 28h1v1h-1zM50 28h1v1h-1zM62 28h1v1h-1zM66 28h1v1h-1zM73 28h2v1h-2zM94 28h2v1h-2zM98 28h1v1h-1zM101 28h1v1h-1zM103 28h1v1h-1zM51 29h1v1h-1zM54 29h1v1h-1zM56 29h1v1h-1zM60 29h1v1h-1zM68 29h2v1h-2zM71 29h1v1h-1zM91 29h2v1h-2zM95 29h1v1h-1zM103 29h1v1h-1zM40 30h1v1h-1zM50 30h1v1h-1zM56 30h1v1h-1zM60 30h1v1h-1zM65 30h1v1h-1zM68 30h2v1h-2zM73 30h4v1h-4zM94 30h3v1h-3zM98 30h2v1h-2zM101 30h2v1h-2zM45 31h1v1h-1zM52 31h1v1h-1zM61 31h2v1h-2zM64 31h1v1h-1zM66 31h3v1h-3zM71 31h1v1h-1zM89 31h1v1h-1zM93 31h1v1h-1zM97 31h5v1h-5zM103 31h1v1h-1zM39 32h1v1h-1zM45 32h1v1h-1zM47 32h1v1h-1zM64 32h2v1h-2zM67 32h2v1h-2zM72 32h5v1h-5zM96 32h2v1h-2zM99 32h1v1h-1zM102 32h1v1h-1zM52 33h1v1h-1zM57 33h1v1h-1zM61 33h2v1h-2zM66 33h1v1h-1zM70 33h1v1h-1zM74 33h3v1h-3zM88 33h1v1h-1zM94 33h2v1h-2zM97 33h4v1h-4zM102 33h1v1h-1zM65 34h1v1h-1zM67 34h1v1h-1zM69 34h1v1h-1zM71 34h1v1h-1zM73 34h1v1h-1zM75 34h1v1h-1zM88 34h1v1h-1zM95 34h1v1h-1zM98 34h2v1h-2zM102 34h1v1h-1zM60 35h1v1h-1zM64 35h3v1h-3zM71 35h1v1h-1zM73 35h1v1h-1zM88 35h1v1h-1zM93 35h1v1h-1zM96 35h1v1h-1zM100 35h1v1h-1zM53 36h1v1h-1zM59 36h1v1h-1zM63 36h1v1h-1zM83 36h1v1h-1zM87 36h1v1h-1zM90 36h1v1h-1zM28 37h1v1h-1zM51 37h1v1h-1zM62 37h1v1h-1zM65 37h1v1h-1zM68 37h1v1h-1zM70 37h1v1h-1zM76 37h1v1h-1zM93 37h2v1h-2zM97 37h2v1h-2zM100 37h2v1h-2zM103 37h1v1h-1zM52 38h1v1h-1zM54 38h1v1h-1zM56 38h2v1h-2zM59 38h4v1h-4zM70 38h1v1h-1zM88 38h2v1h-2zM91 38h1v1h-1zM93 38h4v1h-4zM100 38h1v1h-1zM103 38h1v1h-1zM28 39h1v1h-1zM32 39h1v1h-1zM52 39h1v1h-1zM58 39h1v1h-1zM62 39h1v1h-1zM64 39h1v1h-1zM66 39h1v1h-1zM68 39h1v1h-1zM73 39h1v1h-1zM95 39h2v1h-2zM98 39h2v1h-2zM101 39h1v1h-1zM30 40h1v1h-1zM52 40h1v1h-1zM54 40h1v1h-1zM58 40h1v1h-1zM64 40h2v1h-2zM68 40h3v1h-3zM74 40h1v1h-1zM89 40h1v1h-1zM96 40h2v1h-2zM99 40h1v1h-1zM103 40h1v1h-1zM52 41h1v1h-1zM54 41h1v1h-1zM56 41h1v1h-1zM62 41h1v1h-1zM68 41h2v1h-2zM71 41h2v1h-2zM76 41h1v1h-1zM89 41h1v1h-1zM92 41h1v1h-1zM94 41h3v1h-3zM52 42h1v1h-1zM56 42h1v1h-1zM60 42h2v1h-2zM65 42h4v1h-4zM72 42h3v1h-3zM88 42h1v1h-1zM91 42h1v1h-1zM96 42h3v1h-3zM102 42h2v1h-2zM28 43h1v1h-1zM51 43h2v1h-2zM54 43h1v1h-1zM56 43h2v1h-2zM61 43h2v1h-2zM66 43h2v1h-2zM70 43h1v1h-1zM74 43h1v1h-1zM88 43h1v1h-1zM93 43h3v1h-3zM100 43h2v1h-2zM103 43h1v1h-1zM51 44h1v1h-1zM54 44h1v1h-1zM65 44h1v1h-1zM69 44h1v1h-1zM71 44h1v1h-1zM75 44h1v1h-1zM92 44h3v1h-3zM96 44h1v1h-1zM98 44h1v1h-1zM100 44h1v1h-1zM102 44h2v1h-2zM31 45h2v1h-2zM62 45h1v1h-1zM64 45h1v1h-1zM66 45h1v1h-1zM69 45h1v1h-1zM72 45h1v1h-1zM75 45h1v1h-1zM94 45h1v1h-1zM96 45h1v1h-1zM101 45h1v1h-1zM54 46h1v1h-1zM56 46h1v1h-1zM60 46h1v1h-1zM62 46h2v1h-2zM65 46h1v1h-1zM67 46h1v1h-1zM69 46h1v1h-1zM71 46h1v1h-1zM76 46h1v1h-1zM89 46h1v1h-1zM95 46h1v1h-1zM97 46h2v1h-2zM101 46h1v1h-1zM103 46h1v1h-1zM32 47h1v1h-1zM65 47h1v1h-1zM67 47h1v1h-1zM71 47h1v1h-1zM74 47h1v1h-1zM76 47h1v1h-1zM92 47h1v1h-1zM94 47h1v1h-1zM97 47h3v1h-3zM102 47h1v1h-1zM16 48h1v1h-1zM53 48h1v1h-1zM57 48h1v1h-1zM60 48h2v1h-2zM67 48h1v1h-1zM70 48h2v1h-2zM90 48h1v1h-1zM94 48h1v1h-1zM103 48h1v1h-1zM51 49h1v1h-1zM62 49h1v1h-1zM64 49h1v1h-1zM67 49h3v1h-3zM71 49h2v1h-2zM74 49h1v1h-1zM76 49h1v1h-1zM88 49h1v1h-1zM93 49h1v1h-1zM95 49h2v1h-2zM98 49h1v1h-1zM101 49h1v1h-1zM103 49h1v1h-1zM28 50h1v1h-1zM30 50h1v1h-1zM52 50h1v1h-1zM54 50h1v1h-1zM57 50h2v1h-2zM61 50h1v1h-1zM64 50h2v1h-2zM68 50h3v1h-3zM75 50h1v1h-1zM88 50h1v1h-1zM93 50h1v1h-1zM95 50h1v1h-1zM100 50h1v1h-1zM26 51h1v1h-1zM29 51h1v1h-1zM37 51h1v1h-1zM43 51h2v1h-2zM49 51h1v1h-1zM62 51h1v1h-1zM13 52h1v1h-1zM16 52h1v1h-1zM26 52h2v1h-2zM31 52h1v1h-1zM33 52h1v1h-1zM38 52h6v1h-6zM50 52h1v1h-1zM62 52h1v1h-1zM64 52h1v1h-1zM67 52h1v1h-1zM73 52h2v1h-2zM76 52h1v1h-1zM36 53h1v1h-1zM48 53h1v1h-1zM26 54h1v1h-1zM29 54h1v1h-1zM38 54h1v1h-1zM40 54h2v1h-2zM43 54h2v1h-2zM46 54h1v1h-1zM50 54h1v1h-1zM61 54h3v1h-3zM72 54h2v1h-2zM75 54h1v1h-1zM16 55h1v1h-1zM26 55h1v1h-1zM62 55h1v1h-1zM13 56h1v1h-1zM26 56h1v1h-1zM29 56h2v1h-2zM38 56h1v1h-1zM41 56h3v1h-3zM46 56h1v1h-1zM60 56h1v1h-1zM62 56h1v1h-1zM65 56h1v1h-1zM75 56h1v1h-1zM26 57h1v1h-1zM33 57h1v1h-1zM38 57h1v1h-1zM43 57h1v1h-1zM48 57h1v1h-1zM50 57h1v1h-1zM65 57h1v1h-1zM76 57h1v1h-1zM39 58h2v1h-2zM50 58h1v1h-1zM75 58h1v1h-1zM36 59h1v1h-1zM38 59h1v1h-1zM29 60h2v1h-2zM35 60h1v1h-1zM38 60h1v1h-1zM42 60h1v1h-1zM46 60h1v1h-1zM48 60h1v1h-1zM56 60h1v1h-1zM66 60h1v1h-1zM75 60h1v1h-1zM99 60h1v1h-1zM102 60h1v1h-1zM26 61h1v1h-1zM31 61h1v1h-1zM33 61h1v1h-1zM38 61h1v1h-1zM42 61h2v1h-2zM48 61h1v1h-1zM50 61h1v1h-1zM54 61h1v1h-1zM64 61h1v1h-1zM75 61h1v1h-1zM12 62h2v1h-2zM26 62h1v1h-1zM28 62h1v1h-1zM31 62h1v1h-1zM33 62h1v1h-1zM37 62h3v1h-3zM41 62h1v1h-1zM43 62h1v1h-1zM45 62h2v1h-2zM49 62h1v1h-1zM51 62h2v1h-2zM54 62h3v1h-3zM66 62h1v1h-1zM68 62h1v1h-1zM36 63h1v1h-1zM46 63h1v1h-1zM54 63h1v1h-1zM31 64h2v1h-2zM35 64h1v1h-1zM39 64h2v1h-2zM45 64h1v1h-1zM49 64h2v1h-2zM52 64h1v1h-1zM61 64h1v1h-1zM68 64h1v1h-1zM73 64h1v1h-1zM75 64h2v1h-2zM30 65h1v1h-1zM32 65h1v1h-1zM34 65h2v1h-2zM37 65h1v1h-1zM40 65h1v1h-1zM42 65h1v1h-1zM44 65h1v1h-1zM46 65h2v1h-2zM50 65h1v1h-1zM56 65h2v1h-2zM66 65h1v1h-1zM73 65h1v1h-1zM76 65h1v1h-1zM28 66h1v1h-1zM31 66h1v1h-1zM33 66h1v1h-1zM35 66h1v1h-1zM39 66h1v1h-1zM42 66h2v1h-2zM45 66h1v1h-1zM60 66h1v1h-1zM62 66h1v1h-1zM65 66h1v1h-1zM73 66h1v1h-1zM75 66h1v1h-1zM26 67h1v1h-1zM31 67h2v1h-2zM34 67h1v1h-1zM42 67h2v1h-2zM46 67h4v1h-4zM52 67h1v1h-1zM72 67h2v1h-2zM27 68h1v1h-1zM29 68h4v1h-4zM37 68h1v1h-1zM39 68h4v1h-4zM49 68h2v1h-2zM62 68h1v1h-1zM64 68h1v1h-1zM73 68h4v1h-4zM26 69h2v1h-2zM29 69h2v1h-2zM34 69h1v1h-1zM40 69h2v1h-2zM44 69h3v1h-3zM49 69h2v1h-2zM27 70h1v1h-1zM33 70h1v1h-1zM37 70h2v1h-2zM40 70h1v1h-1zM43 70h1v1h-1zM48 70h1v1h-1zM50 70h1v1h-1zM26 71h1v1h-1zM29 71h1v1h-1zM31 71h1v1h-1zM34 71h2v1h-2zM41 71h1v1h-1zM44 71h1v1h-1zM46 71h4v1h-4zM26 72h1v1h-1zM32 72h1v1h-1zM41 72h2v1h-2zM45 72h1v1h-1zM49 72h1v1h-1zM54 72h1v1h-1zM67 72h1v1h-1zM73 72h1v1h-1zM76 72h1v1h-1zM28 73h1v1h-1zM30 73h1v1h-1zM32 73h1v1h-1zM34 73h2v1h-2zM39 73h1v1h-1zM42 73h1v1h-1zM52 73h1v1h-1zM54 73h1v1h-1zM64 73h5v1h-5zM72 73h1v1h-1zM75 73h2v1h-2zM88 73h1v1h-1zM28 74h1v1h-1zM30 74h1v1h-1zM32 74h2v1h-2zM40 74h1v1h-1zM42 74h2v1h-2zM47 74h1v1h-1zM49 74h1v1h-1zM52 74h1v1h-1zM68 74h1v1h-1zM30 75h1v1h-1zM32 75h3v1h-3zM44 75h2v1h-2zM50 75h1v1h-1zM54 75h1v1h-1zM56 75h1v1h-1zM58 75h1v1h-1zM60 75h2v1h-2zM64 75h1v1h-1zM66 75h1v1h-1zM68 75h1v1h-1zM73 75h1v1h-1zM76 75h1v1h-1zM26 76h1v1h-1zM30 76h1v1h-1zM32 76h2v1h-2zM37 76h1v1h-1zM41 76h1v1h-1zM46 76h2v1h-2zM49 76h1v1h-1zM52 76h1v1h-1zM57 76h1v1h-1zM64 76h2v1h-2zM68 76h1v1h-1zM72 76h2v1h-2zM75 76h1v1h-1zM81 77h1v1h-1zM88 80h1v1h-1zM77 81h1v1h-1zM36 83h1v1h-1zM88 83h1v1h-1zM91 85h1v1h-1zM36 87h1v1h-1zM92 87h2v1h-2zM98 87h1v1h-1zM100 87h1v1h-1zM103 87h1v1h-1zM26 88h1v1h-1zM33 88h3v1h-3zM38 88h1v1h-1zM42 88h2v1h-2zM49 88h2v1h-2zM73 88h1v1h-1zM80 88h1v1h-1zM83 88h1v1h-1zM26 89h2v1h-2zM31 89h1v1h-1zM38 89h1v1h-1zM40 89h2v1h-2zM46 89h1v1h-1zM36 90h1v1h-1zM48 90h1v1h-1zM29 91h1v1h-1zM38 91h1v1h-1zM42 91h1v1h-1zM85 91h1v1h-1zM29 92h1v1h-1zM41 92h1v1h-1zM44 92h1v1h-1zM47 92h1v1h-1zM87 92h1v1h-1zM31 93h1v1h-1zM35 93h1v1h-1zM37 93h2v1h-2zM43 93h2v1h-2zM49 93h2v1h-2zM87 93h1v1h-1zM27 94h2v1h-2zM30 94h1v1h-1zM33 94h1v1h-1zM37 94h2v1h-2zM41 94h1v1h-1zM43 94h3v1h-3zM47 94h2v1h-2zM26 95h5v1h-5zM33 95h2v1h-2zM38 95h2v1h-2zM41 95h1v1h-1zM43 95h1v1h-1zM46 95h1v1h-1zM49 95h2v1h-2zM27 96h1v1h-1zM30 96h1v1h-1zM32 96h1v1h-1zM35 96h1v1h-1zM38 96h5v1h-5zM44 96h2v1h-2zM49 96h1v1h-1zM31 97h3v1h-3zM37 97h1v1h-1zM40 97h1v1h-1zM42 97h1v1h-1zM46 97h2v1h-2zM27 98h2v1h-2zM30 98h2v1h-2zM33 98h2v1h-2zM37 98h1v1h-1zM39 98h1v1h-1zM42 98h1v1h-1zM44 98h1v1h-1zM46 98h2v1h-2zM49 98h1v1h-1zM87 98h1v1h-1zM30 99h5v1h-5zM39 99h2v1h-2zM47 99h1v1h-1zM60 99h1v1h-1zM27 100h1v1h-1zM31 100h1v1h-1zM33 100h1v1h-1zM35 100h1v1h-1zM37 100h2v1h-2zM43 100h2v1h-2zM50 100h1v1h-1zM87 100h1v1h-1zM27 101h2v1h-2zM30 101h2v1h-2zM37 101h1v1h-1zM39 101h1v1h-1zM43 101h1v1h-1zM45 101h2v1h-2zM49 101h1v1h-1zM27 102h1v1h-1zM30 102h1v1h-1zM32 102h3v1h-3zM42 102h1v1h-1zM44 102h1v1h-1zM47 102h1v1h-1zM60 102h1v1h-1zM27 103h3v1h-3zM31 103h1v1h-1zM37 103h2v1h-2zM40 103h1v1h-1zM42 103h3v1h-3zM46 103h1v1h-1zM48 103h2v1h-2zM87 103h1v1h-1z"/>
<path fill="#efad93" d="M16 2h1v1h-1zM21 13h1v1h-1zM25 14h1v1h-1zM16 15h1v1h-1zM2 16h1v1h-1zM15 16h1v1h-1zM17 16h3v1h-3zM21 16h1v1h-1zM24 16h2v1h-2zM16 17h1v1h-1zM16 18h1v1h-1zM16 19h1v1h-1zM13 21h1v1h-1zM16 21h1v1h-1zM16 24h1v1h-1zM14 25h1v1h-1zM16 25h1v1h-1zM60 26h1v1h-1zM64 26h3v1h-3zM68 26h1v1h-1zM70 26h1v1h-1zM75 26h1v1h-1zM93 26h2v1h-2zM96 26h2v1h-2zM99 26h1v1h-1zM101 26h1v1h-1zM103 26h1v1h-1zM47 27h1v1h-1zM49 27h1v1h-1zM54 27h1v1h-1zM57 27h1v1h-1zM64 27h1v1h-1zM67 27h1v1h-1zM72 27h3v1h-3zM76 27h1v1h-1zM88 27h1v1h-1zM97 27h1v1h-1zM99 27h1v1h-1zM38 28h1v1h-1zM41 28h1v1h-1zM44 28h2v1h-2zM47 28h1v1h-1zM49 28h1v1h-1zM99 28h1v1h-1zM64 29h4v1h-4zM72 29h1v1h-1zM74 29h1v1h-1zM88 29h1v1h-1zM97 29h2v1h-2zM100 29h1v1h-1zM102 29h1v1h-1zM43 30h3v1h-3zM47 30h3v1h-3zM66 30h1v1h-1zM42 31h1v1h-1zM46 31h2v1h-2zM49 31h1v1h-1zM56 31h1v1h-1zM72 31h5v1h-5zM92 31h1v1h-1zM95 31h1v1h-1zM102 31h1v1h-1zM41 32h2v1h-2zM46 32h1v1h-1zM49 32h1v1h-1zM39 33h2v1h-2zM44 33h3v1h-3zM49 33h1v1h-1zM64 33h2v1h-2zM67 33h2v1h-2zM89 33h1v1h-1zM92 33h1v1h-1zM96 33h1v1h-1zM101 33h1v1h-1zM103 33h1v1h-1zM38 34h3v1h-3zM43 34h1v1h-1zM45 34h1v1h-1zM49 34h1v1h-1zM56 34h1v1h-1zM68 34h1v1h-1zM72 34h1v1h-1zM74 34h1v1h-1zM76 34h1v1h-1zM96 34h1v1h-1zM101 34h1v1h-1zM49 35h1v1h-1zM62 35h1v1h-1zM68 35h1v1h-1zM72 35h1v1h-1zM75 35h2v1h-2zM92 35h1v1h-1zM95 35h1v1h-1zM98 35h1v1h-1zM101 35h3v1h-3zM51 36h2v1h-2zM54 36h1v1h-1zM56 36h1v1h-1zM58 36h1v1h-1zM60 36h1v1h-1zM76 36h2v1h-2zM80 36h1v1h-1zM88 36h1v1h-1zM100 36h1v1h-1zM64 37h1v1h-1zM66 37h1v1h-1zM72 37h3v1h-3zM92 37h1v1h-1zM96 37h1v1h-1zM99 37h1v1h-1zM102 37h1v1h-1zM28 38h1v1h-1zM34 38h1v1h-1zM69 38h1v1h-1zM71 38h5v1h-5zM97 38h3v1h-3zM101 38h2v1h-2zM33 39h2v1h-2zM74 39h2v1h-2zM92 39h1v1h-1zM102 39h1v1h-1zM33 40h2v1h-2zM67 40h1v1h-1zM72 40h1v1h-1zM75 40h1v1h-1zM92 40h1v1h-1zM101 40h2v1h-2zM28 41h1v1h-1zM32 41h1v1h-1zM64 41h2v1h-2zM73 41h3v1h-3zM97 41h3v1h-3zM102 41h2v1h-2zM31 42h2v1h-2zM54 42h1v1h-1zM64 42h1v1h-1zM71 42h1v1h-1zM75 42h2v1h-2zM94 42h2v1h-2zM30 43h1v1h-1zM34 43h1v1h-1zM64 43h2v1h-2zM68 43h1v1h-1zM72 43h1v1h-1zM75 43h1v1h-1zM89 43h1v1h-1zM92 43h1v1h-1zM96 43h4v1h-4zM28 44h1v1h-1zM30 44h1v1h-1zM33 44h1v1h-1zM62 44h1v1h-1zM64 44h1v1h-1zM68 44h1v1h-1zM73 44h2v1h-2zM95 44h1v1h-1zM97 44h1v1h-1zM99 44h1v1h-1zM101 44h1v1h-1zM28 45h1v1h-1zM30 45h1v1h-1zM33 45h2v1h-2zM99 45h1v1h-1zM102 45h1v1h-1zM31 46h3v1h-3zM64 46h1v1h-1zM68 46h1v1h-1zM70 46h1v1h-1zM72 46h2v1h-2zM75 46h1v1h-1zM88 46h1v1h-1zM93 46h2v1h-2zM96 46h1v1h-1zM102 46h1v1h-1zM27 47h2v1h-2zM30 47h2v1h-2zM73 47h1v1h-1zM96 47h1v1h-1zM101 47h1v1h-1zM30 48h1v1h-1zM52 48h1v1h-1zM55 48h2v1h-2zM58 48h1v1h-1zM62 48h1v1h-1zM65 48h1v1h-1zM68 48h2v1h-2zM73 48h1v1h-1zM76 48h1v1h-1zM88 48h2v1h-2zM93 48h1v1h-1zM95 48h1v1h-1zM99 48h1v1h-1zM27 49h2v1h-2zM30 49h6v1h-6zM53 49h1v1h-1zM60 49h1v1h-1zM65 49h2v1h-2zM73 49h1v1h-1zM94 49h1v1h-1zM99 49h1v1h-1zM67 50h1v1h-1zM74 50h1v1h-1zM92 50h1v1h-1zM96 50h4v1h-4zM103 50h1v1h-1zM36 51h1v1h-1zM36 52h1v1h-1zM48 52h1v1h-1zM49 53h1v1h-1zM27 54h1v1h-1zM36 54h1v1h-1zM42 54h1v1h-1zM60 54h1v1h-1zM48 55h1v1h-1zM31 56h1v1h-1zM34 56h1v1h-1zM36 56h1v1h-1zM48 56h1v1h-1zM27 57h1v1h-1zM36 58h1v1h-1zM48 58h1v1h-1zM26 60h1v1h-1zM36 60h1v1h-1zM49 60h1v1h-1zM54 60h1v1h-1zM35 62h1v1h-1zM44 62h1v1h-1zM48 62h1v1h-1zM26 64h2v1h-2zM29 64h1v1h-1zM33 64h1v1h-1zM37 64h1v1h-1zM41 64h4v1h-4zM46 64h1v1h-1zM26 65h1v1h-1zM29 65h1v1h-1zM33 65h1v1h-1zM41 65h1v1h-1zM43 65h1v1h-1zM48 65h2v1h-2zM26 66h1v1h-1zM29 66h2v1h-2zM37 66h1v1h-1zM49 66h1v1h-1zM74 66h1v1h-1zM27 67h1v1h-1zM29 67h1v1h-1zM33 67h1v1h-1zM40 67h1v1h-1zM50 67h1v1h-1zM26 68h1v1h-1zM33 68h3v1h-3zM43 68h2v1h-2zM46 68h1v1h-1zM48 68h1v1h-1zM38 69h1v1h-1zM48 69h1v1h-1zM26 70h1v1h-1zM46 70h1v1h-1zM38 71h1v1h-1zM42 71h1v1h-1zM27 72h1v1h-1zM29 72h1v1h-1zM31 72h1v1h-1zM34 72h2v1h-2zM37 72h2v1h-2zM40 72h1v1h-1zM43 72h1v1h-1zM46 72h1v1h-1zM74 72h1v1h-1zM27 73h1v1h-1zM31 73h1v1h-1zM37 73h2v1h-2zM41 73h1v1h-1zM44 73h1v1h-1zM46 73h4v1h-4zM27 74h1v1h-1zM29 74h1v1h-1zM31 74h1v1h-1zM34 74h1v1h-1zM37 74h3v1h-3zM41 74h1v1h-1zM44 74h1v1h-1zM50 74h1v1h-1zM66 74h1v1h-1zM72 74h1v1h-1zM75 74h1v1h-1zM26 75h1v1h-1zM31 75h1v1h-1zM35 75h1v1h-1zM38 75h6v1h-6zM46 75h1v1h-1zM74 75h1v1h-1zM27 76h1v1h-1zM31 76h1v1h-1zM34 76h3v1h-3zM42 76h1v1h-1zM48 76h1v1h-1zM36 77h1v1h-1zM79 78h1v1h-1zM78 79h1v1h-1zM36 80h1v1h-1zM82 81h1v1h-1zM81 82h1v1h-1zM86 82h1v1h-1zM86 84h1v1h-1zM82 86h1v1h-1zM84 86h1v1h-1zM90 87h2v1h-2zM94 87h4v1h-4zM99 87h1v1h-1zM101 87h2v1h-2zM27 88h1v1h-1zM29 88h1v1h-1zM36 88h1v1h-1zM46 88h1v1h-1zM48 88h1v1h-1zM33 89h1v1h-1zM43 89h1v1h-1zM48 89h1v1h-1zM103 89h1v1h-1zM87 90h1v1h-1zM94 90h1v1h-1zM98 90h1v1h-1zM100 90h2v1h-2zM103 90h1v1h-1zM87 91h1v1h-1zM93 91h1v1h-1zM98 91h1v1h-1zM100 91h1v1h-1zM103 91h1v1h-1zM31 92h1v1h-1zM33 92h1v1h-1zM35 92h1v1h-1zM37 92h1v1h-1zM39 92h2v1h-2zM43 92h1v1h-1zM50 92h1v1h-1zM94 92h1v1h-1zM99 92h1v1h-1zM103 92h1v1h-1zM26 93h1v1h-1zM46 93h1v1h-1zM48 93h1v1h-1zM91 93h1v1h-1zM98 93h2v1h-2zM103 93h1v1h-1zM26 94h1v1h-1zM42 94h1v1h-1zM46 94h1v1h-1zM49 94h1v1h-1zM87 94h1v1h-1zM90 94h1v1h-1zM92 94h1v1h-1zM95 94h1v1h-1zM31 95h1v1h-1zM35 95h1v1h-1zM42 95h1v1h-1zM44 95h1v1h-1zM48 95h1v1h-1zM87 95h1v1h-1zM94 95h1v1h-1zM100 95h1v1h-1zM26 96h1v1h-1zM33 96h2v1h-2zM37 96h1v1h-1zM43 96h1v1h-1zM46 96h2v1h-2zM50 96h1v1h-1zM87 96h1v1h-1zM26 97h2v1h-2zM29 97h1v1h-1zM38 97h1v1h-1zM41 97h1v1h-1zM43 97h2v1h-2zM50 97h1v1h-1zM87 97h1v1h-1zM29 98h1v1h-1zM35 98h1v1h-1zM38 98h1v1h-1zM41 98h1v1h-1zM43 98h1v1h-1zM50 98h1v1h-1zM90 98h2v1h-2zM93 98h1v1h-1zM26 99h3v1h-3zM37 99h2v1h-2zM41 99h1v1h-1zM43 99h3v1h-3zM48 99h3v1h-3zM87 99h1v1h-1zM92 99h2v1h-2zM29 100h1v1h-1zM36 100h1v1h-1zM90 100h2v1h-2zM95 100h1v1h-1zM103 100h1v1h-1zM26 101h1v1h-1zM33 101h3v1h-3zM38 101h1v1h-1zM40 101h1v1h-1zM44 101h1v1h-1zM47 101h1v1h-1zM87 101h1v1h-1zM90 101h1v1h-1zM29 102h1v1h-1zM31 102h1v1h-1zM35 102h1v1h-1zM37 102h5v1h-5zM45 102h2v1h-2zM87 102h1v1h-1zM26 103h1v1h-1zM33 103h1v1h-1zM35 103h1v1h-1zM41 103h1v1h-1zM50 103h1v1h-1zM89 103h5v1h-5zM100 103h1v1h-1z"/>
<path fill="#eb9a80" d="M16 13h1v1h-1zM13 16h1v1h-1zM40 26h1v1h-1zM43 26h1v1h-1zM45 26h1v1h-1zM47 26h1v1h-1zM73 26h2v1h-2zM92 26h1v1h-1zM98 26h1v1h-1zM102 26h1v1h-1zM29 27h1v1h-1zM34 27h2v1h-2zM37 27h4v1h-4zM43 27h4v1h-4zM29 28h1v1h-1zM36 28h1v1h-1zM42 28h1v1h-1zM46 28h1v1h-1zM27 29h2v1h-2zM30 29h1v1h-1zM42 29h2v1h-2zM46 29h1v1h-1zM49 29h1v1h-1zM73 29h1v1h-1zM75 29h2v1h-2zM96 29h1v1h-1zM99 29h1v1h-1zM101 29h1v1h-1zM29 30h1v1h-1zM37 30h3v1h-3zM41 30h2v1h-2zM46 30h1v1h-1zM37 31h1v1h-1zM39 31h3v1h-3zM43 31h2v1h-2zM96 31h1v1h-1zM37 32h2v1h-2zM40 32h1v1h-1zM43 32h2v1h-2zM37 33h2v1h-2zM41 33h2v1h-2zM47 33h1v1h-1zM72 33h2v1h-2zM27 34h1v1h-1zM37 34h1v1h-1zM41 34h2v1h-2zM44 34h1v1h-1zM46 34h2v1h-2zM50 34h1v1h-1zM27 35h1v1h-1zM37 35h1v1h-1zM39 35h2v1h-2zM42 35h1v1h-1zM45 35h1v1h-1zM47 35h1v1h-1zM50 35h1v1h-1zM74 35h1v1h-1zM97 35h1v1h-1zM99 35h1v1h-1zM28 36h1v1h-1zM55 36h1v1h-1zM57 36h1v1h-1zM61 36h1v1h-1zM64 36h3v1h-3zM68 36h4v1h-4zM89 36h1v1h-1zM91 36h9v1h-9zM101 36h3v1h-3zM27 37h1v1h-1zM30 37h6v1h-6zM39 37h1v1h-1zM75 37h1v1h-1zM95 37h1v1h-1zM27 38h1v1h-1zM30 38h1v1h-1zM32 38h2v1h-2zM64 38h3v1h-3zM76 38h1v1h-1zM92 38h1v1h-1zM27 39h1v1h-1zM30 39h2v1h-2zM35 39h1v1h-1zM37 39h1v1h-1zM26 40h2v1h-2zM31 40h2v1h-2zM35 40h1v1h-1zM49 40h1v1h-1zM73 40h1v1h-1zM30 41h2v1h-2zM33 41h2v1h-2zM66 41h1v1h-1zM101 41h1v1h-1zM28 42h3v1h-3zM33 42h3v1h-3zM47 42h1v1h-1zM99 42h1v1h-1zM101 42h1v1h-1zM26 43h2v1h-2zM29 43h1v1h-1zM31 43h2v1h-2zM73 43h1v1h-1zM76 43h1v1h-1zM102 43h1v1h-1zM27 44h1v1h-1zM31 44h2v1h-2zM34 44h1v1h-1zM45 44h1v1h-1zM50 44h1v1h-1zM66 44h1v1h-1zM26 45h2v1h-2zM35 45h1v1h-1zM44 45h1v1h-1zM27 46h4v1h-4zM34 46h1v1h-1zM66 46h1v1h-1zM74 46h1v1h-1zM99 46h1v1h-1zM26 47h1v1h-1zM33 47h3v1h-3zM42 47h1v1h-1zM75 47h1v1h-1zM66 48h1v1h-1zM72 48h1v1h-1zM74 48h2v1h-2zM92 48h1v1h-1zM96 48h1v1h-1zM98 48h1v1h-1zM100 48h2v1h-2zM29 49h1v1h-1zM40 49h1v1h-1zM75 49h1v1h-1zM34 50h2v1h-2zM44 50h1v1h-1zM72 50h2v1h-2zM76 50h1v1h-1zM89 50h1v1h-1zM102 50h1v1h-1zM36 55h1v1h-1zM36 57h1v1h-1zM36 61h1v1h-1zM36 64h1v1h-1zM38 64h1v1h-1zM36 65h1v1h-1zM38 65h1v1h-1zM36 66h1v1h-1zM38 66h1v1h-1zM41 66h1v1h-1zM44 66h1v1h-1zM46 66h1v1h-1zM48 66h1v1h-1zM36 68h1v1h-1zM36 69h1v1h-1zM36 70h1v1h-1zM36 71h1v1h-1zM33 72h1v1h-1zM48 72h1v1h-1zM50 72h1v1h-1zM26 73h1v1h-1zM29 73h1v1h-1zM33 73h1v1h-1zM40 73h1v1h-1zM43 73h1v1h-1zM50 73h1v1h-1zM26 74h1v1h-1zM35 74h1v1h-1zM46 74h1v1h-1zM48 74h1v1h-1zM29 75h1v1h-1zM37 75h1v1h-1zM47 75h3v1h-3zM29 76h1v1h-1zM38 76h1v1h-1zM43 76h1v1h-1zM50 76h1v1h-1zM82 77h1v1h-1zM84 77h1v1h-1zM86 77h1v1h-1zM81 78h2v1h-2zM84 78h1v1h-1zM82 79h1v1h-1zM84 79h1v1h-1zM78 81h1v1h-1zM84 81h1v1h-1zM86 81h1v1h-1zM77 82h3v1h-3zM84 82h2v1h-2zM77 84h3v1h-3zM81 84h2v1h-2zM85 84h1v1h-1zM82 85h1v1h-1zM84 85h1v1h-1zM77 86h1v1h-1zM81 86h1v1h-1zM89 87h1v1h-1zM103 88h1v1h-1zM36 89h1v1h-1zM50 89h1v1h-1zM87 89h1v1h-1zM94 89h1v1h-1zM98 89h4v1h-4zM92 90h2v1h-2zM95 90h1v1h-1zM97 90h1v1h-1zM102 90h1v1h-1zM36 91h1v1h-1zM94 91h2v1h-2zM97 91h1v1h-1zM99 91h1v1h-1zM102 91h1v1h-1zM26 92h1v1h-1zM36 92h1v1h-1zM38 92h1v1h-1zM48 92h1v1h-1zM90 92h1v1h-1zM93 92h1v1h-1zM98 92h1v1h-1zM100 92h1v1h-1zM36 93h1v1h-1zM90 93h1v1h-1zM92 93h1v1h-1zM94 93h4v1h-4zM100 93h3v1h-3zM36 94h1v1h-1zM89 94h1v1h-1zM91 94h1v1h-1zM93 94h1v1h-1zM97 94h1v1h-1zM100 94h1v1h-1zM102 94h1v1h-1zM36 95h2v1h-2zM90 95h2v1h-2zM93 95h1v1h-1zM97 95h1v1h-1zM103 95h1v1h-1zM29 96h1v1h-1zM31 96h1v1h-1zM36 96h1v1h-1zM48 96h1v1h-1zM93 96h1v1h-1zM97 96h1v1h-1zM35 97h2v1h-2zM90 97h2v1h-2zM93 97h4v1h-4zM98 97h1v1h-1zM102 97h1v1h-1zM26 98h1v1h-1zM36 98h1v1h-1zM48 98h1v1h-1zM89 98h1v1h-1zM92 98h1v1h-1zM97 98h1v1h-1zM100 98h1v1h-1zM103 98h1v1h-1zM29 99h1v1h-1zM35 99h2v1h-2zM42 99h1v1h-1zM46 99h1v1h-1zM89 99h1v1h-1zM91 99h1v1h-1zM100 99h1v1h-1zM48 100h1v1h-1zM89 100h1v1h-1zM92 100h3v1h-3zM98 100h2v1h-2zM101 100h1v1h-1zM29 101h1v1h-1zM36 101h1v1h-1zM41 101h2v1h-2zM48 101h1v1h-1zM89 101h1v1h-1zM93 101h1v1h-1zM100 101h1v1h-1zM103 101h1v1h-1zM26 102h1v1h-1zM36 102h1v1h-1zM43 102h1v1h-1zM50 102h1v1h-1zM90 102h2v1h-2zM93 102h2v1h-2zM97 102h1v1h-1zM103 102h1v1h-1zM36 103h1v1h-1zM88 103h1v1h-1zM95 103h1v1h-1zM98 103h1v1h-1zM101 103h2v1h-2z"/>
<path fill="#e3866d" d="M27 26h4v1h-4zM32 26h8v1h-8zM41 26h2v1h-2zM44 26h1v1h-1zM49 26h2v1h-2zM26 27h1v1h-1zM28 27h1v1h-1zM30 27h4v1h-4zM36 27h1v1h-1zM41 27h2v1h-2zM48 27h1v1h-1zM50 27h1v1h-1zM26 28h2v1h-2zM30 28h3v1h-3zM35 28h1v1h-1zM48 28h1v1h-1zM26 29h1v1h-1zM31 29h7v1h-7zM39 29h2v1h-2zM44 29h2v1h-2zM47 29h1v1h-1zM50 29h1v1h-1zM26 30h3v1h-3zM31 30h6v1h-6zM27 31h4v1h-4zM32 31h5v1h-5zM38 31h1v1h-1zM48 31h1v1h-1zM50 31h1v1h-1zM26 32h6v1h-6zM33 32h4v1h-4zM48 32h1v1h-1zM50 32h1v1h-1zM26 33h2v1h-2zM29 33h4v1h-4zM34 33h3v1h-3zM43 33h1v1h-1zM48 33h1v1h-1zM50 33h1v1h-1zM26 34h1v1h-1zM29 34h5v1h-5zM35 34h2v1h-2zM48 34h1v1h-1zM26 35h1v1h-1zM28 35h7v1h-7zM36 35h1v1h-1zM38 35h1v1h-1zM41 35h1v1h-1zM43 35h2v1h-2zM48 35h1v1h-1zM26 36h2v1h-2zM29 36h7v1h-7zM39 36h1v1h-1zM47 36h1v1h-1zM62 36h1v1h-1zM67 36h1v1h-1zM72 36h3v1h-3zM26 37h1v1h-1zM29 37h1v1h-1zM38 37h1v1h-1zM40 37h11v1h-11zM26 38h1v1h-1zM31 38h1v1h-1zM35 38h1v1h-1zM37 38h1v1h-1zM39 38h12v1h-12zM26 39h1v1h-1zM29 39h1v1h-1zM36 39h1v1h-1zM38 39h1v1h-1zM40 39h3v1h-3zM44 39h7v1h-7zM29 40h1v1h-1zM37 40h3v1h-3zM41 40h5v1h-5zM47 40h2v1h-2zM50 40h1v1h-1zM26 41h2v1h-2zM35 41h1v1h-1zM37 41h4v1h-4zM42 41h8v1h-8zM26 42h2v1h-2zM37 42h5v1h-5zM43 42h4v1h-4zM48 42h3v1h-3zM33 43h1v1h-1zM35 43h1v1h-1zM37 43h2v1h-2zM40 43h3v1h-3zM44 43h7v1h-7zM26 44h1v1h-1zM29 44h1v1h-1zM35 44h1v1h-1zM37 44h7v1h-7zM46 44h2v1h-2zM49 44h1v1h-1zM29 45h1v1h-1zM37 45h7v1h-7zM47 45h3v1h-3zM37 46h3v1h-3zM41 46h4v1h-4zM47 46h4v1h-4zM29 47h1v1h-1zM36 47h6v1h-6zM43 47h4v1h-4zM48 47h1v1h-1zM50 47h1v1h-1zM27 48h2v1h-2zM31 48h5v1h-5zM37 48h7v1h-7zM45 48h3v1h-3zM49 48h2v1h-2zM64 48h1v1h-1zM97 48h1v1h-1zM102 48h1v1h-1zM26 49h1v1h-1zM37 49h3v1h-3zM41 49h6v1h-6zM48 49h1v1h-1zM50 49h1v1h-1zM26 50h2v1h-2zM29 50h1v1h-1zM31 50h3v1h-3zM37 50h4v1h-4zM42 50h2v1h-2zM46 50h4v1h-4zM53 52h2v1h-2zM52 53h1v1h-1zM52 54h1v1h-1zM36 62h1v1h-1zM48 64h1v1h-1zM36 67h1v1h-1zM36 72h1v1h-1zM36 73h1v1h-1zM36 74h1v1h-1zM78 77h2v1h-2zM77 78h1v1h-1zM80 78h1v1h-1zM85 78h2v1h-2zM77 79h1v1h-1zM80 79h2v1h-2zM85 79h2v1h-2zM78 80h2v1h-2zM81 80h5v1h-5zM79 81h2v1h-2zM83 81h1v1h-1zM85 81h1v1h-1zM80 82h1v1h-1zM83 82h1v1h-1zM80 83h3v1h-3zM84 83h2v1h-2zM80 84h1v1h-1zM83 84h1v1h-1zM78 85h4v1h-4zM83 85h1v1h-1zM86 85h1v1h-1zM78 86h2v1h-2zM85 86h1v1h-1zM88 87h1v1h-1zM87 88h1v1h-1zM90 88h1v1h-1zM92 88h3v1h-3zM97 88h1v1h-1zM100 88h1v1h-1zM91 89h3v1h-3zM95 89h2v1h-2zM102 89h1v1h-1zM88 90h1v1h-1zM91 90h1v1h-1zM96 90h1v1h-1zM99 90h1v1h-1zM89 91h2v1h-2zM92 91h1v1h-1zM96 91h1v1h-1zM101 91h1v1h-1zM88 92h2v1h-2zM91 92h1v1h-1zM95 92h1v1h-1zM97 92h1v1h-1zM102 92h1v1h-1zM88 93h2v1h-2zM88 94h1v1h-1zM96 94h1v1h-1zM98 94h1v1h-1zM101 94h1v1h-1zM103 94h1v1h-1zM89 95h1v1h-1zM92 95h1v1h-1zM96 95h1v1h-1zM98 95h2v1h-2zM101 95h2v1h-2zM89 96h3v1h-3zM94 96h2v1h-2zM99 96h2v1h-2zM103 96h1v1h-1zM48 97h1v1h-1zM88 97h1v1h-1zM92 97h1v1h-1zM99 97h2v1h-2zM103 97h1v1h-1zM94 98h2v1h-2zM99 98h1v1h-1zM101 98h2v1h-2zM90 99h1v1h-1zM95 99h4v1h-4zM101 99h1v1h-1zM103 99h1v1h-1zM88 100h1v1h-1zM96 100h2v1h-2zM91 101h1v1h-1zM94 101h2v1h-2zM98 101h2v1h-2zM48 102h1v1h-1zM89 102h1v1h-1zM92 102h1v1h-1zM95 102h1v1h-1zM98 102h1v1h-1zM94 103h1v1h-1zM96 103h2v1h-2zM99 103h1v1h-1z"/>
<path fill="#db725e" d="M31 26h1v1h-1zM46 26h1v1h-1zM48 26h1v1h-1zM33 28h2v1h-2zM38 29h1v1h-1zM41 29h1v1h-1zM48 29h1v1h-1zM26 31h1v1h-1zM28 33h1v1h-1zM28 34h1v1h-1zM46 35h1v1h-1zM37 36h1v1h-1zM40 36h7v1h-7zM48 36h1v1h-1zM50 36h1v1h-1zM75 36h1v1h-1zM36 37h1v1h-1zM29 38h1v1h-1zM43 39h1v1h-1zM36 40h1v1h-1zM46 40h1v1h-1zM29 41h1v1h-1zM36 41h1v1h-1zM50 41h1v1h-1zM36 42h1v1h-1zM36 43h1v1h-1zM39 43h1v1h-1zM36 44h1v1h-1zM48 44h1v1h-1zM36 45h1v1h-1zM46 45h1v1h-1zM50 45h1v1h-1zM26 46h1v1h-1zM35 46h2v1h-2zM40 46h1v1h-1zM45 46h1v1h-1zM49 47h1v1h-1zM26 48h1v1h-1zM29 48h1v1h-1zM36 48h1v1h-1zM44 48h1v1h-1zM47 49h1v1h-1zM36 50h1v1h-1zM41 50h1v1h-1zM45 50h1v1h-1zM54 53h1v1h-1zM53 54h1v1h-1zM36 75h1v1h-1zM80 77h1v1h-1zM83 77h1v1h-1zM85 77h1v1h-1zM83 78h1v1h-1zM83 79h1v1h-1zM77 80h1v1h-1zM86 80h1v1h-1zM77 83h3v1h-3zM86 83h1v1h-1zM77 85h1v1h-1zM80 86h1v1h-1zM83 86h1v1h-1zM91 88h1v1h-1zM95 88h2v1h-2zM98 88h1v1h-1zM101 88h2v1h-2zM90 89h1v1h-1zM97 89h1v1h-1zM89 90h1v1h-1zM88 91h1v1h-1zM96 92h1v1h-1zM101 92h1v1h-1zM88 95h1v1h-1zM88 96h1v1h-1zM92 96h1v1h-1zM98 96h1v1h-1zM101 96h1v1h-1zM89 97h1v1h-1zM101 97h1v1h-1zM88 98h1v1h-1zM96 98h1v1h-1zM102 100h1v1h-1zM88 101h1v1h-1zM92 101h1v1h-1zM96 101h2v1h-2zM102 101h1v1h-1zM88 102h1v1h-1zM100 102h2v1h-2z"/>
<path fill="#d25b4f" d="M38 36h1v1h-1zM49 36h1v1h-1zM36 38h1v1h-1zM36 49h1v1h-1zM69 68h1v1h-1zM68 69h1v1h-1zM70 69h1v1h-1zM69 70h1v1h-1zM89 88h1v1h-1zM99 88h1v1h-1zM88 89h1v1h-1zM99 94h1v1h-1zM102 96h1v1h-1zM88 99h1v1h-1zM94 99h1v1h-1zM102 99h1v1h-1zM96 102h1v1h-1zM99 102h1v1h-1z"/>
<path fill="#c74141" d="M70 68h1v1h-1zM68 70h1v1h-1z"/>
<path fill="#b92734" d="M0 0h1v1h-1zM1 1h1v1h-1zM2 2h1v1h-1zM3 3h1v1h-1zM4 4h1v1h-1zM5 5h1v1h-1zM6 6h1v1h-1zM7 7h1v1h-1zM8 8h1v1h-1zM9 9h1v1h-1zM10 10h1v1h-1zM11 11h1v1h-1zM12 12h1v1h-1zM13 13h1v1h-1zM14 14h1v1h-1zM15 15h1v1h-1zM16 16h1v1h-1zM17 17h1v1h-1zM18 18h1v1h-1zM19 19h1v1h-1zM20 20h1v1h-1zM21 21h1v1h-1zM22 22h1v1h-1zM23 23h1v1h-1zM24 24h1v1h-1zM25 25h1v1h-1zM26 26h1v1h-1zM27 27h1v1h-1zM28 28h1v1h-1zM29 29h1v1h-1zM30 30h1v1h-1zM31 31h1v1h-1zM32 32h1v1h-1zM33 33h1v1h-1zM34 34h1v1h-1zM35 35h1v1h-1zM36 36h1v1h-1zM37 37h1v1h-1zM38 38h1v1h-1zM39 39h1v1h-1zM40 40h1v1h-1zM41 41h1v1h-1zM42 42h1v1h-1zM43 43h1v1h-1zM44 44h1v1h-1zM45 45h1v1h-1zM46 46h1v1h-1zM47 47h1v1h-1zM48 48h1v1h-1zM49 49h1v1h-1zM50 50h1v1h-1zM51 51h1v1h-1zM52 52h1v1h-1zM53 53h1v1h-1zM54 54h1v1h-1zM55 55h1v1h-1zM56 56h1v1h-1zM57 57h1v1h-1zM58 58h1v1h-1zM59 59h1v1h-1zM60 60h1v1h-1zM61 61h1v1h-1zM62 62h1v1h-1zM63 63h1v1h-1zM64 64h1v1h-1zM65 65h1v1h-1zM66 66h1v1h-1zM67 67h1v1h-1zM68 68h1v1h-1zM69 69h1v1h-1zM70 70h1v1h-1zM71 71h1v1h-1zM72 72h1v1h-1zM73 73h1v1h-1zM74 74h1v1h-1zM75 75h1v1h-1zM76 76h1v1h-1zM77 77h1v1h-1zM78 78h1v1h-1zM79 79h1v1h-1zM80 80h1v1h-1zM81 81h1v1h-1zM82 82h1v1h-1zM83 83h1v1h-1zM84 84h1v1h-1zM85 85h1v1h-1zM86 86h1v1h-1zM87 87h1v1h-1zM88 88h1v1h-1zM89 89h1v1h-1zM90 90h1v1h-1zM91 91h1v1h-1zM92 92h1v1h-1zM93 93h1v1h-1zM94 94h1v1h-1zM95 95h1v1h-1zM96 96h1v1h-1zM97 97h1v1h-1zM98 98h1v1h-1zM99 99h1v1h-1zM100 100h1v1h-1zM101 101h1v1h-1zM102 102h1v1h-1zM103 103h1v1h-1z"/>
</g>
<rect x="1099.10" y="1240.00" width="38.16" height="9.30" fill="#7ed3d6"/>
<rect x="1088.20" y="1249.70" width="10.90" height="38.16" fill="#7ed3d6"/>
<rect x="1137.26" y="1240.00" width="44.52" height="9.30" fill="#742b8e"/>
<rect x="1088.20" y="1287.86" width="10.90" height="44.52" fill="#742b8e"/>
<rect x="1181.78" y="1240.00" width="82.68" height="9.30" fill="#a1cb76"/>
<rect x="1088.20" y="1332.38" width="10.90" height="82.68" fill="#a1cb76"/>
<rect x="1264.46" y="1240.00" width="159.00" height="9.30" fill="#b02365"/>
<rect x="1088.20" y="1415.06" width="10.90" height="159.00" fill="#b02365"/>
<rect x="1423.46" y="1240.00" width="82.68" height="9.30" fill="#111111"/>
<rect x="1088.20" y="1574.06" width="10.90" height="82.68" fill="#111111"/>
<rect x="1506.14" y="1240.00" width="82.68" height="9.30" fill="#cc2a2a"/>
<rect x="1088.20" y="1656.74" width="10.90" height="82.68" fill="#cc2a2a"/>
<rect x="1588.82" y="1240.00" width="63.60" height="9.30" fill="#3a7ea8"/>
<rect x="1088.20" y="1739.42" width="10.90" height="63.60" fill="#3a7ea8"/>
<rect x="1652.42" y="1240.00" width="31.80" height="9.30" fill="#e8a02c"/>
<rect x="1088.20" y="1803.02" width="10.90" height="31.80" fill="#e8a02c"/>
<rect x="1684.22" y="1240.00" width="76.32" height="9.30" fill="#cdd33c"/>
<rect x="1088.20" y="1834.82" width="10.90" height="76.32" fill="#cdd33c"/>
<text x="1831.3" y="1274.5" font-size="20" text-anchor="middle" textLength="90.0" lengthAdjust="spacingAndGlyphs">Spearman</text>
<text x="1831.3" y="1298.5" font-size="20" text-anchor="middle" textLength="96.0" lengthAdjust="spacingAndGlyphs">Correlation</text>
<defs><linearGradient id="cg18" x1="0" y1="0" x2="0" y2="1"><stop offset="0.0000" stop-color="#be2532"/><stop offset="0.0625" stop-color="#ce4642"/><stop offset="0.1250" stop-color="#db6754"/><stop offset="0.1875" stop-color="#e47f66"/><stop offset="0.2500" stop-color="#ee9a7e"/><stop offset="0.3125" stop-color="#f2b196"/><stop offset="0.3750" stop-color="#f2c5af"/><stop offset="0.4375" stop-color="#ead3c6"/><stop offset="0.5000" stop-color="#dddcdc"/><stop offset="0.5625" stop-color="#cdd9ec"/><stop offset="0.6250" stop-color="#bbd0f6"/><stop offset="0.6875" stop-color="#a6c3fa"/><stop offset="0.7500" stop-color="#91b1f9"/><stop offset="0.8125" stop-color="#7b9cf1"/><stop offset="0.8750" stop-color="#6684e4"/><stop offset="0.9375" stop-color="#526ad1"/><stop offset="1.0000" stop-color="#3f4fb9"/></linearGradient></defs>
<rect x="1817.07" y="1321.98" width="30.83" height="197.31" fill="url(#cg18)"/>
<text x="1855.3" y="1329.4" font-size="17.5" textLength="24.5" lengthAdjust="spacingAndGlyphs">1.0</text>
<text x="1862.1" y="1427.4" font-size="17.5">0</text>
<text x="1852.2" y="1526.7" font-size="17.5" textLength="34.0" lengthAdjust="spacingAndGlyphs">-1.0</text>
<text x="1839.3" y="1556.3" font-size="18.5" text-anchor="middle" textLength="120.0" lengthAdjust="spacingAndGlyphs">Metaprogram</text>
<text x="1839.3" y="1580.3" font-size="18.5" text-anchor="middle" textLength="40.0" lengthAdjust="spacingAndGlyphs">(MP)</text>
<rect x="1786.24" y="1588.35" width="32.06" height="30.83" fill="#cc2a2a"/>
<text x="1838.7" y="1610.3" font-size="17.5" textLength="35.0" lengthAdjust="spacingAndGlyphs">MP1</text>
<rect x="1786.24" y="1625.71" width="32.06" height="30.83" fill="#3a7ea8"/>
<text x="1838.7" y="1647.7" font-size="17.5" textLength="35.0" lengthAdjust="spacingAndGlyphs">MP2</text>
<rect x="1786.24" y="1663.08" width="32.06" height="30.83" fill="#a1cb76"/>
<text x="1838.7" y="1685.1" font-size="17.5" textLength="35.0" lengthAdjust="spacingAndGlyphs">MP3</text>
<rect x="1786.24" y="1700.44" width="32.06" height="30.83" fill="#cdd33c"/>
<text x="1838.7" y="1722.4" font-size="17.5" textLength="35.0" lengthAdjust="spacingAndGlyphs">MP4</text>
<rect x="1786.24" y="1737.81" width="32.06" height="30.83" fill="#b02365"/>
<text x="1838.7" y="1759.8" font-size="17.5" textLength="35.0" lengthAdjust="spacingAndGlyphs">MP5</text>
<rect x="1786.24" y="1775.18" width="32.06" height="30.83" fill="#7ed3d6"/>
<text x="1838.7" y="1797.2" font-size="17.5" textLength="35.0" lengthAdjust="spacingAndGlyphs">MP6</text>
<rect x="1786.24" y="1812.54" width="32.06" height="30.83" fill="#111111"/>
<text x="1838.7" y="1834.5" font-size="17.5" textLength="35.0" lengthAdjust="spacingAndGlyphs">MP7</text>
<rect x="1786.24" y="1849.91" width="32.06" height="30.83" fill="#e8a02c"/>
<text x="1838.7" y="1871.9" font-size="17.5" textLength="35.0" lengthAdjust="spacingAndGlyphs">MP8</text>
<rect x="1786.24" y="1887.27" width="32.06" height="30.83" fill="#742b8e"/>
<text x="1838.7" y="1909.3" font-size="17.5" textLength="35.0" lengthAdjust="spacingAndGlyphs">MP9</text>
<text x="133.0" y="2001.0" font-size="36" textLength="562.5" lengthAdjust="spacingAndGlyphs">brain metastatic human SCLC cells</text>
<text x="1188.2" y="1997.7" font-size="36" textLength="494.0" lengthAdjust="spacingAndGlyphs">extracranial human SCLC cells</text>
<text x="1.2" y="2041.4" font-size="42" font-weight="bold">e</text>
<text x="471.6" y="2041.3" font-size="41" font-weight="bold">f</text>
<text x="978.4" y="2040.6" font-size="41" font-weight="bold">g</text>
<text x="1466.9" y="2041.0" font-size="40" font-weight="bold">h</text>
<rect x="111.10" y="2051.60" width="31.10" height="14.22" fill="#f43c42"/>
<rect x="111.10" y="2065.52" width="31.10" height="14.22" fill="#f88185"/>
<rect x="111.10" y="2079.44" width="31.10" height="14.22" fill="#f88a8d"/>
<rect x="172.70" y="2079.44" width="31.10" height="14.22" fill="#faa9ac"/>
<rect x="265.10" y="2079.44" width="31.10" height="14.22" fill="#fcc3c5"/>
<rect x="111.10" y="2093.36" width="31.10" height="14.22" fill="#f99c9f"/>
<rect x="172.70" y="2093.36" width="31.10" height="14.22" fill="#fddfe0"/>
<rect x="203.50" y="2093.36" width="31.10" height="14.22" fill="#fbb9bb"/>
<rect x="111.10" y="2107.28" width="31.10" height="14.22" fill="#f99c9f"/>
<rect x="172.70" y="2107.28" width="31.10" height="14.22" fill="#fbb9bb"/>
<rect x="203.50" y="2107.28" width="31.10" height="14.22" fill="#faa9ac"/>
<rect x="111.10" y="2121.20" width="31.10" height="14.22" fill="#f99c9f"/>
<rect x="172.70" y="2121.20" width="31.10" height="14.22" fill="#fcc3c5"/>
<rect x="234.30" y="2121.20" width="31.10" height="14.22" fill="#fcc3c5"/>
<rect x="111.10" y="2135.12" width="31.10" height="14.22" fill="#f99c9f"/>
<rect x="141.90" y="2135.12" width="31.10" height="14.22" fill="#f9979a"/>
<rect x="203.50" y="2135.12" width="31.10" height="14.22" fill="#f99c9f"/>
<rect x="234.30" y="2135.12" width="31.10" height="14.22" fill="#f9979a"/>
<rect x="111.10" y="2149.04" width="31.10" height="14.22" fill="#f99c9f"/>
<rect x="141.90" y="2149.04" width="31.10" height="14.22" fill="#f9979a"/>
<rect x="203.50" y="2149.04" width="31.10" height="14.22" fill="#f99c9f"/>
<rect x="234.30" y="2149.04" width="31.10" height="14.22" fill="#f9979a"/>
<rect x="111.10" y="2162.96" width="31.10" height="14.22" fill="#fccdcf"/>
<rect x="141.90" y="2162.96" width="31.10" height="14.22" fill="#f9979a"/>
<rect x="265.10" y="2162.96" width="31.10" height="14.22" fill="#f99396"/>
<rect x="141.90" y="2176.88" width="31.10" height="14.22" fill="#f9979a"/>
<rect x="203.50" y="2176.88" width="31.10" height="14.22" fill="#f99396"/>
<rect x="234.30" y="2176.88" width="31.10" height="14.22" fill="#f99396"/>
<rect x="265.10" y="2176.88" width="31.10" height="14.22" fill="#fcc9cb"/>
<rect x="111.10" y="2190.80" width="31.10" height="14.22" fill="#fcc9cb"/>
<rect x="141.90" y="2190.80" width="31.10" height="14.22" fill="#faafb2"/>
<rect x="172.70" y="2190.80" width="31.10" height="14.22" fill="#faafb2"/>
<rect x="234.30" y="2190.80" width="31.10" height="14.22" fill="#faa6a8"/>
<rect x="265.10" y="2190.80" width="31.10" height="14.22" fill="#fcc9cb"/>
<rect x="111.10" y="2204.72" width="31.10" height="14.22" fill="#fcc9cb"/>
<rect x="141.90" y="2204.72" width="31.10" height="14.22" fill="#fbbdbf"/>
<rect x="172.70" y="2204.72" width="31.10" height="14.22" fill="#fccdcf"/>
<rect x="234.30" y="2204.72" width="31.10" height="14.22" fill="#fcc3c5"/>
<rect x="111.10" y="2218.64" width="31.10" height="14.22" fill="#faafb2"/>
<rect x="141.90" y="2218.64" width="31.10" height="14.22" fill="#fbbdbf"/>
<rect x="172.70" y="2218.64" width="31.10" height="14.22" fill="#fdd8d9"/>
<rect x="234.30" y="2218.64" width="31.10" height="14.22" fill="#fcc3c5"/>
<rect x="111.10" y="2232.56" width="31.10" height="14.22" fill="#fcc9cb"/>
<rect x="141.90" y="2232.56" width="31.10" height="14.22" fill="#fbbdbf"/>
<rect x="203.50" y="2232.56" width="31.10" height="14.22" fill="#fcc9cb"/>
<rect x="234.30" y="2232.56" width="31.10" height="14.22" fill="#fcc3c5"/>
<rect x="265.10" y="2232.56" width="31.10" height="14.22" fill="#fbbdbf"/>
<rect x="172.70" y="2246.48" width="31.10" height="14.22" fill="#f4444a"/>
<rect x="234.30" y="2246.48" width="31.10" height="14.22" fill="#f4444a"/>
<rect x="172.70" y="2260.40" width="31.10" height="14.22" fill="#f54d52"/>
<rect x="172.70" y="2274.32" width="31.10" height="14.22" fill="#f6666b"/>
<rect x="172.70" y="2288.24" width="31.10" height="14.22" fill="#f76f73"/>
<rect x="234.30" y="2288.24" width="31.10" height="14.22" fill="#faa6a8"/>
<rect x="172.70" y="2302.16" width="31.10" height="14.22" fill="#f99396"/>
<rect x="234.30" y="2302.16" width="31.10" height="14.22" fill="#f88a8d"/>
<rect x="172.70" y="2316.08" width="31.10" height="14.22" fill="#f99396"/>
<rect x="111.10" y="2330.00" width="31.10" height="14.22" fill="#fccdcf"/>
<rect x="172.70" y="2330.00" width="31.10" height="14.22" fill="#f9979a"/>
<rect x="111.10" y="2343.92" width="31.10" height="14.22" fill="#fcc9cb"/>
<rect x="141.90" y="2343.92" width="31.10" height="14.22" fill="#fcd2d3"/>
<rect x="172.70" y="2343.92" width="31.10" height="14.22" fill="#fcd2d3"/>
<rect x="203.50" y="2343.92" width="31.10" height="14.22" fill="#f88a8d"/>
<rect x="234.30" y="2343.92" width="31.10" height="14.22" fill="#fcc9cb"/>
<rect x="203.50" y="2357.84" width="31.10" height="14.22" fill="#f88a8d"/>
<rect x="141.90" y="2371.76" width="31.10" height="14.22" fill="#fcd2d3"/>
<rect x="172.70" y="2371.76" width="31.10" height="14.22" fill="#fcd2d3"/>
<rect x="203.50" y="2371.76" width="31.10" height="14.22" fill="#f88a8d"/>
<rect x="234.30" y="2371.76" width="31.10" height="14.22" fill="#fddfe0"/>
<rect x="172.70" y="2385.68" width="31.10" height="14.22" fill="#faa6a8"/>
<rect x="203.50" y="2385.68" width="31.10" height="14.22" fill="#f99396"/>
<rect x="234.30" y="2385.68" width="31.10" height="14.22" fill="#f99396"/>
<rect x="141.90" y="2399.60" width="31.10" height="14.22" fill="#faa2a5"/>
<rect x="203.50" y="2399.60" width="31.10" height="14.22" fill="#f99396"/>
<rect x="234.30" y="2399.60" width="31.10" height="14.22" fill="#f9979a"/>
<rect x="265.10" y="2399.60" width="31.10" height="14.22" fill="#fccdcf"/>
<rect x="111.10" y="2413.52" width="31.10" height="14.22" fill="#fccdcf"/>
<rect x="172.70" y="2413.52" width="31.10" height="14.22" fill="#faa9ac"/>
<rect x="203.50" y="2413.52" width="31.10" height="14.22" fill="#f9979a"/>
<rect x="111.10" y="2427.44" width="31.10" height="14.22" fill="#faa2a5"/>
<rect x="141.90" y="2427.44" width="31.10" height="14.22" fill="#f9979a"/>
<rect x="203.50" y="2427.44" width="31.10" height="14.22" fill="#f99c9f"/>
<rect x="234.30" y="2427.44" width="31.10" height="14.22" fill="#f99396"/>
<rect x="172.70" y="2441.36" width="31.10" height="14.22" fill="#f4444a"/>
<rect x="234.30" y="2441.36" width="31.10" height="14.22" fill="#f4444a"/>
<rect x="172.70" y="2455.28" width="31.10" height="14.22" fill="#f99396"/>
<rect x="234.30" y="2455.28" width="31.10" height="14.22" fill="#f88a8d"/>
<rect x="234.30" y="2469.20" width="31.10" height="14.22" fill="#f99396"/>
<rect x="234.30" y="2483.12" width="31.10" height="14.22" fill="#f99396"/>
<rect x="141.90" y="2497.04" width="31.10" height="14.22" fill="#f99c9f"/>
<rect x="203.50" y="2497.04" width="31.10" height="14.22" fill="#f99c9f"/>
<rect x="234.30" y="2497.04" width="31.10" height="14.22" fill="#f99396"/>
<rect x="265.10" y="2497.04" width="31.10" height="14.22" fill="#fccdcf"/>
<rect x="234.30" y="2510.96" width="31.10" height="14.22" fill="#f99396"/>
<rect x="111.10" y="2524.88" width="31.10" height="14.22" fill="#faa2a5"/>
<rect x="141.90" y="2524.88" width="31.10" height="14.22" fill="#f9979a"/>
<rect x="203.50" y="2524.88" width="31.10" height="14.22" fill="#f99c9f"/>
<rect x="234.30" y="2524.88" width="31.10" height="14.22" fill="#f9979a"/>
<rect x="265.10" y="2538.80" width="31.10" height="14.22" fill="#f87d81"/>
<rect x="111.10" y="2552.72" width="31.10" height="14.22" fill="#fccdcf"/>
<rect x="141.90" y="2552.72" width="31.10" height="14.22" fill="#faa2a5"/>
<rect x="265.10" y="2552.72" width="31.10" height="14.22" fill="#f88a8d"/>
<rect x="265.10" y="2566.64" width="31.10" height="14.22" fill="#faa6a8"/>
<rect x="265.10" y="2580.56" width="31.10" height="14.22" fill="#faa9ac"/>
<rect x="265.10" y="2594.48" width="31.10" height="14.22" fill="#faa9ac"/>
<rect x="265.10" y="2608.40" width="31.10" height="14.22" fill="#faa9ac"/>
<rect x="265.10" y="2622.32" width="31.10" height="14.22" fill="#faa9ac"/>
<text x="105.3" y="2062.4" font-size="10.4" text-anchor="end" textLength="27.1" lengthAdjust="spacingAndGlyphs" font-family="'DejaVu Sans', 'Liberation Sans', sans-serif" stroke="#000" stroke-width="0.32">FUT8</text>
<rect x="107.70" y="2058.01" width="2.60" height="1.10" fill="#000"/>
<text x="105.3" y="2076.3" font-size="10.4" text-anchor="end" textLength="43.9" lengthAdjust="spacingAndGlyphs" font-family="'DejaVu Sans', 'Liberation Sans', sans-serif" stroke="#000" stroke-width="0.32">ADARB2</text>
<rect x="107.70" y="2071.93" width="2.60" height="1.10" fill="#000"/>
<text x="105.3" y="2090.2" font-size="10.4" text-anchor="end" textLength="44.4" lengthAdjust="spacingAndGlyphs" font-family="'DejaVu Sans', 'Liberation Sans', sans-serif" stroke="#000" stroke-width="0.32">SNHG14</text>
<rect x="107.70" y="2085.85" width="2.60" height="1.10" fill="#000"/>
<text x="105.3" y="2104.1" font-size="10.4" text-anchor="end" textLength="42.6" lengthAdjust="spacingAndGlyphs" font-family="'DejaVu Sans', 'Liberation Sans', sans-serif" stroke="#000" stroke-width="0.32">TBC1D5</text>
<rect x="107.70" y="2099.77" width="2.60" height="1.10" fill="#000"/>
<text x="105.3" y="2118.0" font-size="10.4" text-anchor="end" textLength="40.5" lengthAdjust="spacingAndGlyphs" font-family="'DejaVu Sans', 'Liberation Sans', sans-serif" stroke="#000" stroke-width="0.32">IMMP2L</text>
<rect x="107.70" y="2113.69" width="2.60" height="1.10" fill="#000"/>
<text x="105.3" y="2132.0" font-size="10.4" text-anchor="end" textLength="54.3" lengthAdjust="spacingAndGlyphs" font-family="'DejaVu Sans', 'Liberation Sans', sans-serif" stroke="#000" stroke-width="0.32">MACROD2</text>
<rect x="107.70" y="2127.61" width="2.60" height="1.10" fill="#000"/>
<text x="105.3" y="2145.9" font-size="10.4" text-anchor="end" textLength="41.8" lengthAdjust="spacingAndGlyphs" font-family="'DejaVu Sans', 'Liberation Sans', sans-serif" stroke="#000" stroke-width="0.32">ZBTB20</text>
<rect x="107.70" y="2141.53" width="2.60" height="1.10" fill="#000"/>
<text x="105.3" y="2159.8" font-size="10.4" text-anchor="end" textLength="41.8" lengthAdjust="spacingAndGlyphs" font-family="'DejaVu Sans', 'Liberation Sans', sans-serif" stroke="#000" stroke-width="0.32">ZBTB20</text>
<rect x="107.70" y="2155.45" width="2.60" height="1.10" fill="#000"/>
<text x="105.3" y="2173.7" font-size="10.4" text-anchor="end" textLength="56.2" lengthAdjust="spacingAndGlyphs" font-family="'DejaVu Sans', 'Liberation Sans', sans-serif" stroke="#000" stroke-width="0.32">HSP90AA1</text>
<rect x="107.70" y="2169.37" width="2.60" height="1.10" fill="#000"/>
<text x="105.3" y="2187.6" font-size="10.4" text-anchor="end" textLength="28.6" lengthAdjust="spacingAndGlyphs" font-family="'DejaVu Sans', 'Liberation Sans', sans-serif" stroke="#000" stroke-width="0.32">SDK1</text>
<rect x="107.70" y="2183.29" width="2.60" height="1.10" fill="#000"/>
<text x="105.3" y="2201.6" font-size="10.4" text-anchor="end" textLength="19.7" lengthAdjust="spacingAndGlyphs" font-family="'DejaVu Sans', 'Liberation Sans', sans-serif" stroke="#000" stroke-width="0.32">FTX</text>
<rect x="107.70" y="2197.21" width="2.60" height="1.10" fill="#000"/>
<text x="105.3" y="2215.5" font-size="10.4" text-anchor="end" textLength="26.6" lengthAdjust="spacingAndGlyphs" font-family="'DejaVu Sans', 'Liberation Sans', sans-serif" stroke="#000" stroke-width="0.32">PTK2</text>
<rect x="107.70" y="2211.13" width="2.60" height="1.10" fill="#000"/>
<text x="105.3" y="2229.4" font-size="10.4" text-anchor="end" textLength="35.3" lengthAdjust="spacingAndGlyphs" font-family="'DejaVu Sans', 'Liberation Sans', sans-serif" stroke="#000" stroke-width="0.32">PARD3</text>
<rect x="107.70" y="2225.05" width="2.60" height="1.10" fill="#000"/>
<text x="105.3" y="2243.3" font-size="10.4" text-anchor="end" textLength="45.4" lengthAdjust="spacingAndGlyphs" font-family="'DejaVu Sans', 'Liberation Sans', sans-serif" stroke="#000" stroke-width="0.32">HNRNPU</text>
<rect x="107.70" y="2238.97" width="2.60" height="1.10" fill="#000"/>
<text x="105.3" y="2257.2" font-size="10.4" text-anchor="end" textLength="30.3" lengthAdjust="spacingAndGlyphs" font-family="'DejaVu Sans', 'Liberation Sans', sans-serif" stroke="#000" stroke-width="0.32">NRG1</text>
<rect x="107.70" y="2252.89" width="2.60" height="1.10" fill="#000"/>
<text x="105.3" y="2271.2" font-size="10.4" text-anchor="end" textLength="32.7" lengthAdjust="spacingAndGlyphs" font-family="'DejaVu Sans', 'Liberation Sans', sans-serif" stroke="#000" stroke-width="0.32">GRIA4</text>
<rect x="107.70" y="2266.81" width="2.60" height="1.10" fill="#000"/>
<text x="105.3" y="2285.1" font-size="10.4" text-anchor="end" textLength="39.8" lengthAdjust="spacingAndGlyphs" font-family="'DejaVu Sans', 'Liberation Sans', sans-serif" stroke="#000" stroke-width="0.32">NKAIN2</text>
<rect x="107.70" y="2280.73" width="2.60" height="1.10" fill="#000"/>
<text x="105.3" y="2299.0" font-size="10.4" text-anchor="end" textLength="36.8" lengthAdjust="spacingAndGlyphs" font-family="'DejaVu Sans', 'Liberation Sans', sans-serif" stroke="#000" stroke-width="0.32">NLGN1</text>
<rect x="107.70" y="2294.65" width="2.60" height="1.10" fill="#000"/>
<text x="105.3" y="2312.9" font-size="10.4" text-anchor="end" textLength="51.1" lengthAdjust="spacingAndGlyphs" font-family="'DejaVu Sans', 'Liberation Sans', sans-serif" stroke="#000" stroke-width="0.32">CACNA1A</text>
<rect x="107.70" y="2308.57" width="2.60" height="1.10" fill="#000"/>
<text x="105.3" y="2326.8" font-size="10.4" text-anchor="end" textLength="29.0" lengthAdjust="spacingAndGlyphs" font-family="'DejaVu Sans', 'Liberation Sans', sans-serif" stroke="#000" stroke-width="0.32">DLG2</text>
<rect x="107.70" y="2322.49" width="2.60" height="1.10" fill="#000"/>
<text x="105.3" y="2340.8" font-size="10.4" text-anchor="end" textLength="30.5" lengthAdjust="spacingAndGlyphs" font-family="'DejaVu Sans', 'Liberation Sans', sans-serif" stroke="#000" stroke-width="0.32">GPHN</text>
<rect x="107.70" y="2336.41" width="2.60" height="1.10" fill="#000"/>
<text x="105.3" y="2354.7" font-size="10.4" text-anchor="end" textLength="37.7" lengthAdjust="spacingAndGlyphs" font-family="'DejaVu Sans', 'Liberation Sans', sans-serif" stroke="#000" stroke-width="0.32">JMJD1C</text>
<rect x="107.70" y="2350.33" width="2.60" height="1.10" fill="#000"/>
<text x="105.3" y="2368.6" font-size="10.4" text-anchor="end" textLength="28.8" lengthAdjust="spacingAndGlyphs" font-family="'DejaVu Sans', 'Liberation Sans', sans-serif" stroke="#000" stroke-width="0.32">GPC6</text>
<rect x="107.70" y="2364.25" width="2.60" height="1.10" fill="#000"/>
<text x="105.3" y="2382.5" font-size="10.4" text-anchor="end" textLength="36.5" lengthAdjust="spacingAndGlyphs" font-family="'DejaVu Sans', 'Liberation Sans', sans-serif" stroke="#000" stroke-width="0.32">MACF1</text>
<rect x="107.70" y="2378.17" width="2.60" height="1.10" fill="#000"/>
<text x="105.3" y="2396.4" font-size="10.4" text-anchor="end" textLength="35.9" lengthAdjust="spacingAndGlyphs" font-family="'DejaVu Sans', 'Liberation Sans', sans-serif" stroke="#000" stroke-width="0.32">WWOX</text>
<rect x="107.70" y="2392.09" width="2.60" height="1.10" fill="#000"/>
<text x="105.3" y="2410.4" font-size="10.4" text-anchor="end" textLength="28.6" lengthAdjust="spacingAndGlyphs" font-family="'DejaVu Sans', 'Liberation Sans', sans-serif" stroke="#000" stroke-width="0.32">SDK1</text>
<rect x="107.70" y="2406.01" width="2.60" height="1.10" fill="#000"/>
<text x="105.3" y="2424.3" font-size="10.4" text-anchor="end" textLength="33.7" lengthAdjust="spacingAndGlyphs" font-family="'DejaVu Sans', 'Liberation Sans', sans-serif" stroke="#000" stroke-width="0.32">PLCB1</text>
<rect x="107.70" y="2419.93" width="2.60" height="1.10" fill="#000"/>
<text x="105.3" y="2438.2" font-size="10.4" text-anchor="end" textLength="41.8" lengthAdjust="spacingAndGlyphs" font-family="'DejaVu Sans', 'Liberation Sans', sans-serif" stroke="#000" stroke-width="0.32">ZBTB20</text>
<rect x="107.70" y="2433.85" width="2.60" height="1.10" fill="#000"/>
<text x="105.3" y="2452.1" font-size="10.4" text-anchor="end" textLength="30.3" lengthAdjust="spacingAndGlyphs" font-family="'DejaVu Sans', 'Liberation Sans', sans-serif" stroke="#000" stroke-width="0.32">NRG1</text>
<rect x="107.70" y="2447.77" width="2.60" height="1.10" fill="#000"/>
<text x="105.3" y="2466.0" font-size="10.4" text-anchor="end" textLength="51.1" lengthAdjust="spacingAndGlyphs" font-family="'DejaVu Sans', 'Liberation Sans', sans-serif" stroke="#000" stroke-width="0.32">CACNA1A</text>
<rect x="107.70" y="2461.69" width="2.60" height="1.10" fill="#000"/>
<text x="105.3" y="2480.0" font-size="10.4" text-anchor="end" textLength="26.4" lengthAdjust="spacingAndGlyphs" font-family="'DejaVu Sans', 'Liberation Sans', sans-serif" stroke="#000" stroke-width="0.32">SYT1</text>
<rect x="107.70" y="2475.61" width="2.60" height="1.10" fill="#000"/>
<text x="105.3" y="2493.9" font-size="10.4" text-anchor="end" textLength="59.0" lengthAdjust="spacingAndGlyphs" font-family="'DejaVu Sans', 'Liberation Sans', sans-serif" stroke="#000" stroke-width="0.32">TMEM178B</text>
<rect x="107.70" y="2489.53" width="2.60" height="1.10" fill="#000"/>
<text x="105.3" y="2507.8" font-size="10.4" text-anchor="end" textLength="28.6" lengthAdjust="spacingAndGlyphs" font-family="'DejaVu Sans', 'Liberation Sans', sans-serif" stroke="#000" stroke-width="0.32">SDK1</text>
<rect x="107.70" y="2503.45" width="2.60" height="1.10" fill="#000"/>
<text x="105.3" y="2521.7" font-size="10.4" text-anchor="end" textLength="58.7" lengthAdjust="spacingAndGlyphs" font-family="'DejaVu Sans', 'Liberation Sans', sans-serif" stroke="#000" stroke-width="0.32">CACNA2D1</text>
<rect x="107.70" y="2517.37" width="2.60" height="1.10" fill="#000"/>
<text x="105.3" y="2535.6" font-size="10.4" text-anchor="end" textLength="41.8" lengthAdjust="spacingAndGlyphs" font-family="'DejaVu Sans', 'Liberation Sans', sans-serif" stroke="#000" stroke-width="0.32">ZBTB20</text>
<rect x="107.70" y="2531.29" width="2.60" height="1.10" fill="#000"/>
<text x="105.3" y="2549.6" font-size="10.4" text-anchor="end" textLength="40.3" lengthAdjust="spacingAndGlyphs" font-family="'DejaVu Sans', 'Liberation Sans', sans-serif" stroke="#000" stroke-width="0.32">EEF1A1</text>
<rect x="107.70" y="2545.21" width="2.60" height="1.10" fill="#000"/>
<text x="105.3" y="2563.5" font-size="10.4" text-anchor="end" textLength="56.2" lengthAdjust="spacingAndGlyphs" font-family="'DejaVu Sans', 'Liberation Sans', sans-serif" stroke="#000" stroke-width="0.32">HSP90AA1</text>
<rect x="107.70" y="2559.13" width="2.60" height="1.10" fill="#000"/>
<text x="105.3" y="2577.4" font-size="10.4" text-anchor="end" textLength="35.9" lengthAdjust="spacingAndGlyphs" font-family="'DejaVu Sans', 'Liberation Sans', sans-serif" stroke="#000" stroke-width="0.32">ACTG1</text>
<rect x="107.70" y="2573.05" width="2.60" height="1.10" fill="#000"/>
<text x="105.3" y="2591.3" font-size="10.4" text-anchor="end" textLength="28.2" lengthAdjust="spacingAndGlyphs" font-family="'DejaVu Sans', 'Liberation Sans', sans-serif" stroke="#000" stroke-width="0.32">ACTB</text>
<rect x="107.70" y="2586.97" width="2.60" height="1.10" fill="#000"/>
<text x="105.3" y="2605.2" font-size="10.4" text-anchor="end" textLength="26.3" lengthAdjust="spacingAndGlyphs" font-family="'DejaVu Sans', 'Liberation Sans', sans-serif" stroke="#000" stroke-width="0.32">EEF2</text>
<rect x="107.70" y="2600.89" width="2.60" height="1.10" fill="#000"/>
<text x="105.3" y="2619.2" font-size="10.4" text-anchor="end" textLength="29.3" lengthAdjust="spacingAndGlyphs" font-family="'DejaVu Sans', 'Liberation Sans', sans-serif" stroke="#000" stroke-width="0.32">PTMA</text>
<rect x="107.70" y="2614.81" width="2.60" height="1.10" fill="#000"/>
<text x="105.3" y="2633.1" font-size="10.4" text-anchor="end" textLength="38.0" lengthAdjust="spacingAndGlyphs" font-family="'DejaVu Sans', 'Liberation Sans', sans-serif" stroke="#000" stroke-width="0.32">GAPDH</text>
<rect x="107.70" y="2628.73" width="2.60" height="1.10" fill="#000"/>
<rect x="125.95" y="2637.04" width="1.10" height="2.40" fill="#000"/>
<text x="131.8" y="2642.0" font-size="14.5" text-anchor="end" textLength="30.5" lengthAdjust="spacingAndGlyphs" transform="rotate(-90 131.8 2642.0)" font-family="'DejaVu Sans', 'Liberation Sans', sans-serif" stroke="#000" stroke-width="0.3">MP1</text>
<rect x="156.75" y="2637.04" width="1.10" height="2.40" fill="#000"/>
<text x="162.6" y="2642.0" font-size="14.5" text-anchor="end" textLength="30.5" lengthAdjust="spacingAndGlyphs" transform="rotate(-90 162.6 2642.0)" font-family="'DejaVu Sans', 'Liberation Sans', sans-serif" stroke="#000" stroke-width="0.3">MP2</text>
<rect x="187.55" y="2637.04" width="1.10" height="2.40" fill="#000"/>
<text x="193.4" y="2642.0" font-size="14.5" text-anchor="end" textLength="30.5" lengthAdjust="spacingAndGlyphs" transform="rotate(-90 193.4 2642.0)" font-family="'DejaVu Sans', 'Liberation Sans', sans-serif" stroke="#000" stroke-width="0.3">MP3</text>
<rect x="218.35" y="2637.04" width="1.10" height="2.40" fill="#000"/>
<text x="224.2" y="2642.0" font-size="14.5" text-anchor="end" textLength="30.5" lengthAdjust="spacingAndGlyphs" transform="rotate(-90 224.2 2642.0)" font-family="'DejaVu Sans', 'Liberation Sans', sans-serif" stroke="#000" stroke-width="0.3">MP4</text>
<rect x="249.15" y="2637.04" width="1.10" height="2.40" fill="#000"/>
<text x="255.0" y="2642.0" font-size="14.5" text-anchor="end" textLength="30.5" lengthAdjust="spacingAndGlyphs" transform="rotate(-90 255.0 2642.0)" font-family="'DejaVu Sans', 'Liberation Sans', sans-serif" stroke="#000" stroke-width="0.3">MP5</text>
<rect x="279.95" y="2637.04" width="1.10" height="2.40" fill="#000"/>
<text x="285.8" y="2642.0" font-size="14.5" text-anchor="end" textLength="30.5" lengthAdjust="spacingAndGlyphs" transform="rotate(-90 285.8 2642.0)" font-family="'DejaVu Sans', 'Liberation Sans', sans-serif" stroke="#000" stroke-width="0.3">MP6</text>
<rect x="297.60" y="2051.60" width="4.00" height="584.64" fill="#000"/>
<text x="334.0" y="2137.0" font-size="22.6" text-anchor="middle" transform="rotate(-90 334.0 2137.0)">Chromatin</text>
<text x="334.0" y="2297.8" font-size="22.6" text-anchor="middle" transform="rotate(-90 334.0 2297.8)">Neural-like</text>
<text x="360.5" y="2305.6" font-size="22.6" text-anchor="middle" transform="rotate(-90 360.5 2305.6)">differentiation</text>
<text x="334.0" y="2470.4" font-size="22.6" text-anchor="middle" transform="rotate(-90 334.0 2470.4)">Cell Cycle</text>
<text x="334.0" y="2588.4" font-size="22.6" text-anchor="middle" transform="rotate(-90 334.0 2588.4)">EMT</text>
<text x="44.0" y="2344.7" font-size="23" text-anchor="middle" transform="rotate(-90 44.0 2344.7)">Enriched Gene</text>
<text x="197.5" y="2709.0" font-size="20.5" text-anchor="middle" textLength="191.0" lengthAdjust="spacingAndGlyphs">Metaprogram (MP)</text>
<text x="401.0" y="2457.3" font-size="16" text-anchor="middle" textLength="82.0" lengthAdjust="spacingAndGlyphs">Normalized</text>
<text x="401.0" y="2476.8" font-size="16" text-anchor="middle">Gene</text>
<text x="401.0" y="2496.8" font-size="16" text-anchor="middle" textLength="87.7" lengthAdjust="spacingAndGlyphs">Contribution</text>
<defs><linearGradient id="rg19" x1="0" y1="0" x2="0" y2="1"><stop offset="0" stop-color="#f43c42"/><stop offset="1" stop-color="#ffffff"/></linearGradient></defs>
<rect x="391.70" y="2514.20" width="36.50" height="134.00" fill="url(#rg19)" stroke="#555" stroke-width="1.2"/>
<text x="434.1" y="2522.6" font-size="17.5">1.0</text>
<text x="434.1" y="2648.2" font-size="17.5">0.0</text>
<rect x="597.10" y="2038.20" width="34.00" height="14.88" fill="#0c0c0c"/>
<rect x="664.50" y="2038.20" width="34.00" height="14.88" fill="#e0e0e0"/>
<rect x="597.10" y="2052.78" width="34.00" height="14.88" fill="#c0c0c0"/>
<rect x="529.70" y="2067.36" width="34.00" height="14.88" fill="#e0e0e0"/>
<rect x="597.10" y="2067.36" width="34.00" height="14.88" fill="#e2e2e2"/>
<rect x="664.50" y="2067.36" width="34.00" height="14.88" fill="#0c0c0c"/>
<rect x="496.00" y="2081.94" width="34.00" height="14.88" fill="#a8a8a8"/>
<rect x="529.70" y="2081.94" width="34.00" height="14.88" fill="#a8a8a8"/>
<rect x="597.10" y="2081.94" width="34.00" height="14.88" fill="#0c0c0c"/>
<rect x="529.70" y="2111.10" width="34.00" height="14.88" fill="#c0c0c0"/>
<rect x="664.50" y="2140.26" width="34.00" height="14.88" fill="#c0c0c0"/>
<rect x="529.70" y="2154.84" width="34.00" height="14.88" fill="#e0e0e0"/>
<rect x="664.50" y="2154.84" width="34.00" height="14.88" fill="#e0e0e0"/>
<rect x="496.00" y="2169.42" width="34.00" height="14.88" fill="#c0c0c0"/>
<rect x="529.70" y="2169.42" width="34.00" height="14.88" fill="#c0c0c0"/>
<rect x="563.40" y="2169.42" width="34.00" height="14.88" fill="#7d7d7d"/>
<rect x="597.10" y="2169.42" width="34.00" height="14.88" fill="#c0c0c0"/>
<rect x="630.80" y="2169.42" width="34.00" height="14.88" fill="#e0e0e0"/>
<rect x="664.50" y="2169.42" width="34.00" height="14.88" fill="#a8a8a8"/>
<rect x="496.00" y="2198.58" width="34.00" height="14.88" fill="#e0e0e0"/>
<rect x="664.50" y="2227.74" width="34.00" height="14.88" fill="#8a8a8a"/>
<rect x="664.50" y="2286.06" width="34.00" height="14.88" fill="#e0e0e0"/>
<rect x="664.50" y="2315.22" width="34.00" height="14.88" fill="#e0e0e0"/>
<rect x="664.50" y="2329.80" width="34.00" height="14.88" fill="#e0e0e0"/>
<rect x="563.40" y="2402.70" width="34.00" height="14.88" fill="#0c0c0c"/>
<rect x="630.80" y="2402.70" width="34.00" height="14.88" fill="#e0e0e0"/>
<rect x="563.40" y="2417.28" width="34.00" height="14.88" fill="#8a8a8a"/>
<rect x="563.40" y="2431.86" width="34.00" height="14.88" fill="#8a8a8a"/>
<rect x="597.10" y="2431.86" width="34.00" height="14.88" fill="#e0e0e0"/>
<rect x="496.00" y="2446.44" width="34.00" height="14.88" fill="#8a8a8a"/>
<rect x="563.40" y="2446.44" width="34.00" height="14.88" fill="#0c0c0c"/>
<rect x="630.80" y="2446.44" width="34.00" height="14.88" fill="#707070"/>
<rect x="664.50" y="2519.34" width="34.00" height="14.88" fill="#c0c0c0"/>
<rect x="496.00" y="2563.08" width="34.00" height="14.88" fill="#e0e0e0"/>
<rect x="664.50" y="2592.24" width="34.00" height="14.88" fill="#c0c0c0"/>
<rect x="597.10" y="2606.82" width="34.00" height="14.88" fill="#e0e0e0"/>
<rect x="496.00" y="2621.40" width="34.00" height="14.88" fill="#0c0c0c"/>
<rect x="529.70" y="2621.40" width="34.00" height="14.88" fill="#0c0c0c"/>
<rect x="563.40" y="2621.40" width="34.00" height="14.88" fill="#0c0c0c"/>
<rect x="597.10" y="2621.40" width="34.00" height="14.88" fill="#707070"/>
<rect x="630.80" y="2621.40" width="34.00" height="14.88" fill="#0c0c0c"/>
<rect x="664.50" y="2621.40" width="34.00" height="14.88" fill="#b4b4b4"/>
<text x="701.7" y="2050.9" font-size="15">MP1..Cell.Cycle...G2.M</text>
<text x="701.7" y="2065.5" font-size="15">MP2..Cell.Cycle...G1.S</text>
<text x="701.7" y="2080.1" font-size="15">MP3..Cell.Cylce.HMG.rich</text>
<text x="701.7" y="2094.6" font-size="15">MP4..Chromatin</text>
<text x="701.7" y="2109.2" font-size="15">MP5.Stress</text>
<text x="701.7" y="2123.8" font-size="15">MP6.Hypoxia</text>
<text x="701.7" y="2138.4" font-size="15">MP7.Stress..in.vitro.</text>
<text x="701.7" y="2153.0" font-size="15">MP8.Proteasomal.degradation</text>
<text x="701.7" y="2167.5" font-size="15">MP9.Unfolded.protein.response</text>
<text x="701.7" y="2182.1" font-size="15">MP10.Protein.maturation</text>
<text x="701.7" y="2196.7" font-size="15">MP11.Translation.initiation</text>
<text x="701.7" y="2211.3" font-size="15">MP12.EMT.I</text>
<text x="701.7" y="2225.8" font-size="15">MP13.EMT.II</text>
<text x="701.7" y="2240.4" font-size="15">MP14.EMT.III</text>
<text x="701.7" y="2255.0" font-size="15">MP15.EMT.IV</text>
<text x="701.7" y="2269.6" font-size="15">MP16.MES..glioma.</text>
<text x="701.7" y="2284.2" font-size="15">MP17.Interferon.MHC.II..I.</text>
<text x="701.7" y="2298.8" font-size="15">MP18.Interferon.MHC.II..II.</text>
<text x="701.7" y="2313.3" font-size="15">MP19.Epithelial.Senescence</text>
<text x="701.7" y="2327.9" font-size="15">MP20.MYC</text>
<text x="701.7" y="2342.5" font-size="15">MP21.Respiration</text>
<text x="701.7" y="2357.1" font-size="15">MP22.Secreted.I</text>
<text x="701.7" y="2371.7" font-size="15">MP23.Secreted.II</text>
<text x="701.7" y="2386.2" font-size="15">MP24.Cilia</text>
<text x="701.7" y="2400.8" font-size="15">MP25.Astrocytes</text>
<text x="701.7" y="2415.4" font-size="15">MP26.NPC.Glioma</text>
<text x="701.7" y="2430.0" font-size="15">MP27.Oligo.Progenitor</text>
<text x="701.7" y="2444.6" font-size="15">MP28.Oligo.normal</text>
<text x="701.7" y="2459.1" font-size="15">MP29.NPC.OPC</text>
<text x="701.7" y="2473.7" font-size="15">MP30.PDAC.classical</text>
<text x="701.7" y="2488.3" font-size="15">MP31.Alveolar</text>
<text x="701.7" y="2502.9" font-size="15">MP32.Skin.pigmentation</text>
<text x="701.7" y="2517.5" font-size="15">MP33.RBCs</text>
<text x="701.7" y="2532.0" font-size="15">MP34.Platelet.activation</text>
<text x="701.7" y="2546.6" font-size="15">MP35.Hemato.related.I</text>
<text x="701.7" y="2561.2" font-size="15">MP36.IG</text>
<text x="701.7" y="2575.8" font-size="15">MP37.Hemato.related.II</text>
<text x="701.7" y="2590.3" font-size="15">MP38.Glutathione</text>
<text x="701.7" y="2604.9" font-size="15">MP39.Metal.response</text>
<text x="701.7" y="2619.5" font-size="15">MP40.PDAC.related</text>
<text x="701.7" y="2634.1" font-size="15">MP41.Unassigned</text>
<text x="507.8" y="2639.5" font-size="14" transform="rotate(90 507.8 2639.5)">MP1</text>
<text x="541.5" y="2639.5" font-size="14" transform="rotate(90 541.5 2639.5)">MP2</text>
<text x="575.2" y="2639.5" font-size="14" transform="rotate(90 575.2 2639.5)">MP3</text>
<text x="608.9" y="2639.5" font-size="14" transform="rotate(90 608.9 2639.5)">MP4</text>
<text x="642.6" y="2639.5" font-size="14" transform="rotate(90 642.6 2639.5)">MP5</text>
<text x="676.3" y="2639.5" font-size="14" transform="rotate(90 676.3 2639.5)">MP6</text>
<text x="936.0" y="2276.9" font-size="23" text-anchor="middle" transform="rotate(-90 936.0 2276.9)">Gavish et al. Metaprograms</text>
<text x="594.3" y="2707.0" font-size="20.5" text-anchor="middle" textLength="192.0" lengthAdjust="spacingAndGlyphs">Metaprogram (MP)</text>
<text x="911.5" y="2484.0" font-size="16" text-anchor="middle">Scaled</text>
<text x="911.5" y="2504.0" font-size="16" text-anchor="middle">Correlation</text>
<defs><linearGradient id="gg20" x1="0" y1="0" x2="0" y2="1"><stop offset="0" stop-color="#0a0a0a"/><stop offset="0.5" stop-color="#7a7a7a"/><stop offset="1" stop-color="#f2f2f2"/></linearGradient></defs>
<rect x="891.40" y="2511.70" width="35.80" height="132.80" fill="url(#gg20)" stroke="#555" stroke-width="1.2"/>
<text x="941.7" y="2525.0" font-size="17.5">1.0</text>
<text x="941.7" y="2649.5" font-size="17.5">0.0</text>
<rect x="1116.80" y="2047.40" width="20.77" height="13.28" fill="#f88185"/>
<rect x="1137.27" y="2047.40" width="20.77" height="13.28" fill="#fdd8d9"/>
<rect x="1157.74" y="2047.40" width="20.77" height="13.28" fill="#fcc3c5"/>
<rect x="1178.21" y="2047.40" width="20.77" height="13.28" fill="#fddfe0"/>
<rect x="1198.68" y="2047.40" width="20.77" height="13.28" fill="#fcc3c5"/>
<rect x="1219.15" y="2047.40" width="20.77" height="13.28" fill="#fddfe0"/>
<rect x="1239.62" y="2047.40" width="20.77" height="13.28" fill="#fdd8d9"/>
<rect x="1260.09" y="2047.40" width="20.77" height="13.28" fill="#fdd8d9"/>
<rect x="1116.80" y="2060.38" width="20.77" height="13.28" fill="#f4444a"/>
<rect x="1137.27" y="2060.38" width="20.77" height="13.28" fill="#faafb2"/>
<rect x="1157.74" y="2060.38" width="20.77" height="13.28" fill="#faa6a8"/>
<rect x="1178.21" y="2060.38" width="20.77" height="13.28" fill="#f7787c"/>
<rect x="1198.68" y="2060.38" width="20.77" height="13.28" fill="#faafb2"/>
<rect x="1239.62" y="2060.38" width="20.77" height="13.28" fill="#f7787c"/>
<rect x="1260.09" y="2060.38" width="20.77" height="13.28" fill="#fccdcf"/>
<rect x="1116.80" y="2073.36" width="20.77" height="13.28" fill="#f99c9f"/>
<rect x="1137.27" y="2073.36" width="20.77" height="13.28" fill="#fdd8d9"/>
<rect x="1157.74" y="2073.36" width="20.77" height="13.28" fill="#fdd8d9"/>
<rect x="1178.21" y="2073.36" width="20.77" height="13.28" fill="#fdd8d9"/>
<rect x="1198.68" y="2073.36" width="20.77" height="13.28" fill="#fdd8d9"/>
<rect x="1239.62" y="2073.36" width="20.77" height="13.28" fill="#fdd8d9"/>
<rect x="1260.09" y="2073.36" width="20.77" height="13.28" fill="#fdd8d9"/>
<rect x="1116.80" y="2086.34" width="20.77" height="13.28" fill="#f7787c"/>
<rect x="1137.27" y="2086.34" width="20.77" height="13.28" fill="#fbb9bb"/>
<rect x="1157.74" y="2086.34" width="20.77" height="13.28" fill="#f99c9f"/>
<rect x="1178.21" y="2086.34" width="20.77" height="13.28" fill="#faa9ac"/>
<rect x="1198.68" y="2086.34" width="20.77" height="13.28" fill="#fbb9bb"/>
<rect x="1219.15" y="2086.34" width="20.77" height="13.28" fill="#faa6a8"/>
<rect x="1239.62" y="2086.34" width="20.77" height="13.28" fill="#fbb9bb"/>
<rect x="1260.09" y="2086.34" width="20.77" height="13.28" fill="#fbb9bb"/>
<rect x="1280.56" y="2086.34" width="20.77" height="13.28" fill="#fbb9bb"/>
<rect x="1116.80" y="2099.32" width="20.77" height="13.28" fill="#f5555a"/>
<rect x="1137.27" y="2099.32" width="20.77" height="13.28" fill="#fccdcf"/>
<rect x="1178.21" y="2099.32" width="20.77" height="13.28" fill="#f7787c"/>
<rect x="1116.80" y="2112.30" width="20.77" height="13.28" fill="#fdd8d9"/>
<rect x="1137.27" y="2112.30" width="20.77" height="13.28" fill="#f88a8d"/>
<rect x="1157.74" y="2112.30" width="20.77" height="13.28" fill="#fdd8d9"/>
<rect x="1178.21" y="2112.30" width="20.77" height="13.28" fill="#fccdcf"/>
<rect x="1198.68" y="2112.30" width="20.77" height="13.28" fill="#fcc3c5"/>
<rect x="1219.15" y="2112.30" width="20.77" height="13.28" fill="#fddfe0"/>
<rect x="1239.62" y="2112.30" width="20.77" height="13.28" fill="#fdd8d9"/>
<rect x="1260.09" y="2112.30" width="20.77" height="13.28" fill="#fdd8d9"/>
<rect x="1116.80" y="2125.28" width="20.77" height="13.28" fill="#fddfe0"/>
<rect x="1137.27" y="2125.28" width="20.77" height="13.28" fill="#f99c9f"/>
<rect x="1178.21" y="2125.28" width="20.77" height="13.28" fill="#fddfe0"/>
<rect x="1198.68" y="2125.28" width="20.77" height="13.28" fill="#fccdcf"/>
<rect x="1219.15" y="2125.28" width="20.77" height="13.28" fill="#fde3e4"/>
<rect x="1239.62" y="2125.28" width="20.77" height="13.28" fill="#fddfe0"/>
<rect x="1260.09" y="2125.28" width="20.77" height="13.28" fill="#fde3e4"/>
<rect x="1116.80" y="2138.26" width="20.77" height="13.28" fill="#fcd2d3"/>
<rect x="1137.27" y="2138.26" width="20.77" height="13.28" fill="#f99c9f"/>
<rect x="1157.74" y="2138.26" width="20.77" height="13.28" fill="#fcc3c5"/>
<rect x="1178.21" y="2138.26" width="20.77" height="13.28" fill="#fcc3c5"/>
<rect x="1198.68" y="2138.26" width="20.77" height="13.28" fill="#fbbdbf"/>
<rect x="1219.15" y="2138.26" width="20.77" height="13.28" fill="#fcd2d3"/>
<rect x="1239.62" y="2138.26" width="20.77" height="13.28" fill="#fdd8d9"/>
<rect x="1260.09" y="2138.26" width="20.77" height="13.28" fill="#fdd8d9"/>
<rect x="1280.56" y="2138.26" width="20.77" height="13.28" fill="#fdd8d9"/>
<rect x="1137.27" y="2151.24" width="20.77" height="13.28" fill="#fddfe0"/>
<rect x="1116.80" y="2164.22" width="20.77" height="13.28" fill="#fcc3c5"/>
<rect x="1137.27" y="2164.22" width="20.77" height="13.28" fill="#faa9ac"/>
<rect x="1157.74" y="2164.22" width="20.77" height="13.28" fill="#fcc3c5"/>
<rect x="1178.21" y="2164.22" width="20.77" height="13.28" fill="#fcd2d3"/>
<rect x="1198.68" y="2164.22" width="20.77" height="13.28" fill="#fcc3c5"/>
<rect x="1219.15" y="2164.22" width="20.77" height="13.28" fill="#fdd8d9"/>
<rect x="1239.62" y="2164.22" width="20.77" height="13.28" fill="#fdd8d9"/>
<rect x="1260.09" y="2164.22" width="20.77" height="13.28" fill="#fdd8d9"/>
<rect x="1116.80" y="2177.20" width="20.77" height="13.28" fill="#fcd2d3"/>
<rect x="1137.27" y="2177.20" width="20.77" height="13.28" fill="#fcd2d3"/>
<rect x="1157.74" y="2177.20" width="20.77" height="13.28" fill="#f87d81"/>
<rect x="1178.21" y="2177.20" width="20.77" height="13.28" fill="#fdd8d9"/>
<rect x="1198.68" y="2177.20" width="20.77" height="13.28" fill="#fdd8d9"/>
<rect x="1219.15" y="2177.20" width="20.77" height="13.28" fill="#fddfe0"/>
<rect x="1239.62" y="2177.20" width="20.77" height="13.28" fill="#fddfe0"/>
<rect x="1260.09" y="2177.20" width="20.77" height="13.28" fill="#fccdcf"/>
<rect x="1280.56" y="2177.20" width="20.77" height="13.28" fill="#fdd8d9"/>
<rect x="1116.80" y="2190.18" width="20.77" height="13.28" fill="#fbb9bb"/>
<rect x="1137.27" y="2190.18" width="20.77" height="13.28" fill="#fbb9bb"/>
<rect x="1157.74" y="2190.18" width="20.77" height="13.28" fill="#faa2a5"/>
<rect x="1178.21" y="2190.18" width="20.77" height="13.28" fill="#fcc9cb"/>
<rect x="1198.68" y="2190.18" width="20.77" height="13.28" fill="#fdd8d9"/>
<rect x="1219.15" y="2190.18" width="20.77" height="13.28" fill="#fdd8d9"/>
<rect x="1239.62" y="2190.18" width="20.77" height="13.28" fill="#fccdcf"/>
<rect x="1260.09" y="2190.18" width="20.77" height="13.28" fill="#fddfe0"/>
<rect x="1280.56" y="2190.18" width="20.77" height="13.28" fill="#fcc3c5"/>
<rect x="1116.80" y="2203.16" width="20.77" height="13.28" fill="#fcc9cb"/>
<rect x="1137.27" y="2203.16" width="20.77" height="13.28" fill="#fbb5b7"/>
<rect x="1157.74" y="2203.16" width="20.77" height="13.28" fill="#faa2a5"/>
<rect x="1178.21" y="2203.16" width="20.77" height="13.28" fill="#fccdcf"/>
<rect x="1198.68" y="2203.16" width="20.77" height="13.28" fill="#fccdcf"/>
<rect x="1219.15" y="2203.16" width="20.77" height="13.28" fill="#fcc9cb"/>
<rect x="1239.62" y="2203.16" width="20.77" height="13.28" fill="#fcc9cb"/>
<rect x="1260.09" y="2203.16" width="20.77" height="13.28" fill="#fcc3c5"/>
<rect x="1280.56" y="2203.16" width="20.77" height="13.28" fill="#faafb2"/>
<rect x="1116.80" y="2216.14" width="20.77" height="13.28" fill="#faafb2"/>
<rect x="1137.27" y="2216.14" width="20.77" height="13.28" fill="#faa9ac"/>
<rect x="1157.74" y="2216.14" width="20.77" height="13.28" fill="#f99c9f"/>
<rect x="1178.21" y="2216.14" width="20.77" height="13.28" fill="#faafb2"/>
<rect x="1219.15" y="2216.14" width="20.77" height="13.28" fill="#fcc9cb"/>
<rect x="1239.62" y="2216.14" width="20.77" height="13.28" fill="#fbb5b7"/>
<rect x="1260.09" y="2216.14" width="20.77" height="13.28" fill="#fbb5b7"/>
<rect x="1280.56" y="2216.14" width="20.77" height="13.28" fill="#faa9ac"/>
<rect x="1116.80" y="2229.12" width="20.77" height="13.28" fill="#fee8e9"/>
<rect x="1137.27" y="2229.12" width="20.77" height="13.28" fill="#fdd8d9"/>
<rect x="1157.74" y="2229.12" width="20.77" height="13.28" fill="#fcc3c5"/>
<rect x="1178.21" y="2229.12" width="20.77" height="13.28" fill="#fddfe0"/>
<rect x="1198.68" y="2229.12" width="20.77" height="13.28" fill="#fddfe0"/>
<rect x="1219.15" y="2229.12" width="20.77" height="13.28" fill="#fdd8d9"/>
<rect x="1239.62" y="2229.12" width="20.77" height="13.28" fill="#fee8e9"/>
<rect x="1260.09" y="2229.12" width="20.77" height="13.28" fill="#fdd8d9"/>
<rect x="1280.56" y="2229.12" width="20.77" height="13.28" fill="#fddfe0"/>
<rect x="1116.80" y="2242.10" width="20.77" height="13.28" fill="#fccdcf"/>
<rect x="1137.27" y="2242.10" width="20.77" height="13.28" fill="#fbb5b7"/>
<rect x="1157.74" y="2242.10" width="20.77" height="13.28" fill="#fcc3c5"/>
<rect x="1178.21" y="2242.10" width="20.77" height="13.28" fill="#f88185"/>
<rect x="1198.68" y="2242.10" width="20.77" height="13.28" fill="#fbb5b7"/>
<rect x="1219.15" y="2242.10" width="20.77" height="13.28" fill="#fcd2d3"/>
<rect x="1239.62" y="2242.10" width="20.77" height="13.28" fill="#fccdcf"/>
<rect x="1260.09" y="2242.10" width="20.77" height="13.28" fill="#fbbdbf"/>
<rect x="1280.56" y="2242.10" width="20.77" height="13.28" fill="#fccdcf"/>
<rect x="1116.80" y="2255.08" width="20.77" height="13.28" fill="#fcd2d3"/>
<rect x="1137.27" y="2255.08" width="20.77" height="13.28" fill="#faafb2"/>
<rect x="1157.74" y="2255.08" width="20.77" height="13.28" fill="#fbb9bb"/>
<rect x="1178.21" y="2255.08" width="20.77" height="13.28" fill="#f87d81"/>
<rect x="1198.68" y="2255.08" width="20.77" height="13.28" fill="#fbbdbf"/>
<rect x="1219.15" y="2255.08" width="20.77" height="13.28" fill="#fde3e4"/>
<rect x="1239.62" y="2255.08" width="20.77" height="13.28" fill="#fccdcf"/>
<rect x="1260.09" y="2255.08" width="20.77" height="13.28" fill="#fbbdbf"/>
<rect x="1280.56" y="2255.08" width="20.77" height="13.28" fill="#fccdcf"/>
<rect x="1116.80" y="2268.06" width="20.77" height="13.28" fill="#fccdcf"/>
<rect x="1137.27" y="2268.06" width="20.77" height="13.28" fill="#fccdcf"/>
<rect x="1157.74" y="2268.06" width="20.77" height="13.28" fill="#fcc9cb"/>
<rect x="1178.21" y="2268.06" width="20.77" height="13.28" fill="#f99c9f"/>
<rect x="1198.68" y="2268.06" width="20.77" height="13.28" fill="#fccdcf"/>
<rect x="1219.15" y="2268.06" width="20.77" height="13.28" fill="#fccdcf"/>
<rect x="1239.62" y="2268.06" width="20.77" height="13.28" fill="#fccdcf"/>
<rect x="1260.09" y="2268.06" width="20.77" height="13.28" fill="#fdd8d9"/>
<rect x="1280.56" y="2268.06" width="20.77" height="13.28" fill="#fccdcf"/>
<rect x="1116.80" y="2281.04" width="20.77" height="13.28" fill="#fbb9bb"/>
<rect x="1137.27" y="2281.04" width="20.77" height="13.28" fill="#fbbdbf"/>
<rect x="1157.74" y="2281.04" width="20.77" height="13.28" fill="#fbb9bb"/>
<rect x="1178.21" y="2281.04" width="20.77" height="13.28" fill="#f88a8d"/>
<rect x="1198.68" y="2281.04" width="20.77" height="13.28" fill="#fbb5b7"/>
<rect x="1219.15" y="2281.04" width="20.77" height="13.28" fill="#faa9ac"/>
<rect x="1239.62" y="2281.04" width="20.77" height="13.28" fill="#fccdcf"/>
<rect x="1260.09" y="2281.04" width="20.77" height="13.28" fill="#faa6a8"/>
<rect x="1280.56" y="2281.04" width="20.77" height="13.28" fill="#fccdcf"/>
<rect x="1137.27" y="2294.02" width="20.77" height="13.28" fill="#fde3e4"/>
<rect x="1178.21" y="2294.02" width="20.77" height="13.28" fill="#fdd8d9"/>
<rect x="1260.09" y="2294.02" width="20.77" height="13.28" fill="#fde3e4"/>
<rect x="1116.80" y="2307.00" width="20.77" height="13.28" fill="#faa9ac"/>
<rect x="1137.27" y="2307.00" width="20.77" height="13.28" fill="#fcc3c5"/>
<rect x="1157.74" y="2307.00" width="20.77" height="13.28" fill="#fcc3c5"/>
<rect x="1178.21" y="2307.00" width="20.77" height="13.28" fill="#faafb2"/>
<rect x="1198.68" y="2307.00" width="20.77" height="13.28" fill="#f7787c"/>
<rect x="1219.15" y="2307.00" width="20.77" height="13.28" fill="#fbbdbf"/>
<rect x="1239.62" y="2307.00" width="20.77" height="13.28" fill="#faafb2"/>
<rect x="1260.09" y="2307.00" width="20.77" height="13.28" fill="#fbb9bb"/>
<rect x="1280.56" y="2307.00" width="20.77" height="13.28" fill="#faafb2"/>
<rect x="1116.80" y="2319.98" width="20.77" height="13.28" fill="#faa2a5"/>
<rect x="1137.27" y="2319.98" width="20.77" height="13.28" fill="#faafb2"/>
<rect x="1157.74" y="2319.98" width="20.77" height="13.28" fill="#fdd8d9"/>
<rect x="1178.21" y="2319.98" width="20.77" height="13.28" fill="#faa9ac"/>
<rect x="1198.68" y="2319.98" width="20.77" height="13.28" fill="#f88185"/>
<rect x="1219.15" y="2319.98" width="20.77" height="13.28" fill="#fdd8d9"/>
<rect x="1239.62" y="2319.98" width="20.77" height="13.28" fill="#faa9ac"/>
<rect x="1260.09" y="2319.98" width="20.77" height="13.28" fill="#fcc3c5"/>
<rect x="1280.56" y="2319.98" width="20.77" height="13.28" fill="#fccdcf"/>
<rect x="1116.80" y="2332.96" width="20.77" height="13.28" fill="#fdd8d9"/>
<rect x="1137.27" y="2332.96" width="20.77" height="13.28" fill="#fcd2d3"/>
<rect x="1157.74" y="2332.96" width="20.77" height="13.28" fill="#fcc9cb"/>
<rect x="1178.21" y="2332.96" width="20.77" height="13.28" fill="#fccdcf"/>
<rect x="1198.68" y="2332.96" width="20.77" height="13.28" fill="#f99c9f"/>
<rect x="1219.15" y="2332.96" width="20.77" height="13.28" fill="#fddfe0"/>
<rect x="1239.62" y="2332.96" width="20.77" height="13.28" fill="#fbbdbf"/>
<rect x="1260.09" y="2332.96" width="20.77" height="13.28" fill="#fccdcf"/>
<rect x="1116.80" y="2345.94" width="20.77" height="13.28" fill="#fdd8d9"/>
<rect x="1137.27" y="2345.94" width="20.77" height="13.28" fill="#fdd8d9"/>
<rect x="1157.74" y="2345.94" width="20.77" height="13.28" fill="#fcc9cb"/>
<rect x="1178.21" y="2345.94" width="20.77" height="13.28" fill="#fcd2d3"/>
<rect x="1198.68" y="2345.94" width="20.77" height="13.28" fill="#f99c9f"/>
<rect x="1219.15" y="2345.94" width="20.77" height="13.28" fill="#fcc3c5"/>
<rect x="1239.62" y="2345.94" width="20.77" height="13.28" fill="#fde3e4"/>
<rect x="1260.09" y="2345.94" width="20.77" height="13.28" fill="#fcc3c5"/>
<rect x="1280.56" y="2345.94" width="20.77" height="13.28" fill="#fcc3c5"/>
<rect x="1116.80" y="2358.92" width="20.77" height="13.28" fill="#fccdcf"/>
<rect x="1137.27" y="2358.92" width="20.77" height="13.28" fill="#fccdcf"/>
<rect x="1157.74" y="2358.92" width="20.77" height="13.28" fill="#fdd8d9"/>
<rect x="1178.21" y="2358.92" width="20.77" height="13.28" fill="#fcd2d3"/>
<rect x="1198.68" y="2358.92" width="20.77" height="13.28" fill="#f99c9f"/>
<rect x="1219.15" y="2358.92" width="20.77" height="13.28" fill="#fdd8d9"/>
<rect x="1239.62" y="2358.92" width="20.77" height="13.28" fill="#fcc3c5"/>
<rect x="1260.09" y="2358.92" width="20.77" height="13.28" fill="#fcd2d3"/>
<rect x="1280.56" y="2358.92" width="20.77" height="13.28" fill="#fcc9cb"/>
<rect x="1116.80" y="2371.90" width="20.77" height="13.28" fill="#fccdcf"/>
<rect x="1137.27" y="2371.90" width="20.77" height="13.28" fill="#fccdcf"/>
<rect x="1157.74" y="2371.90" width="20.77" height="13.28" fill="#fccdcf"/>
<rect x="1178.21" y="2371.90" width="20.77" height="13.28" fill="#fcd2d3"/>
<rect x="1198.68" y="2371.90" width="20.77" height="13.28" fill="#fcd2d3"/>
<rect x="1219.15" y="2371.90" width="20.77" height="13.28" fill="#f99396"/>
<rect x="1239.62" y="2371.90" width="20.77" height="13.28" fill="#fcc9cb"/>
<rect x="1260.09" y="2371.90" width="20.77" height="13.28" fill="#fdd8d9"/>
<rect x="1280.56" y="2371.90" width="20.77" height="13.28" fill="#fcc9cb"/>
<rect x="1137.27" y="2384.88" width="20.77" height="13.28" fill="#fde3e4"/>
<rect x="1157.74" y="2384.88" width="20.77" height="13.28" fill="#fee8e9"/>
<rect x="1219.15" y="2384.88" width="20.77" height="13.28" fill="#fccdcf"/>
<rect x="1260.09" y="2384.88" width="20.77" height="13.28" fill="#fde3e4"/>
<rect x="1137.27" y="2397.86" width="20.77" height="13.28" fill="#fde3e4"/>
<rect x="1219.15" y="2397.86" width="20.77" height="13.28" fill="#fcd2d3"/>
<rect x="1260.09" y="2397.86" width="20.77" height="13.28" fill="#fde3e4"/>
<rect x="1116.80" y="2410.84" width="20.77" height="13.28" fill="#fbb9bb"/>
<rect x="1137.27" y="2410.84" width="20.77" height="13.28" fill="#fbbdbf"/>
<rect x="1157.74" y="2410.84" width="20.77" height="13.28" fill="#fbbdbf"/>
<rect x="1178.21" y="2410.84" width="20.77" height="13.28" fill="#fbbdbf"/>
<rect x="1198.68" y="2410.84" width="20.77" height="13.28" fill="#faafb2"/>
<rect x="1219.15" y="2410.84" width="20.77" height="13.28" fill="#f99c9f"/>
<rect x="1239.62" y="2410.84" width="20.77" height="13.28" fill="#fbb9bb"/>
<rect x="1260.09" y="2410.84" width="20.77" height="13.28" fill="#faafb2"/>
<rect x="1280.56" y="2410.84" width="20.77" height="13.28" fill="#fbb9bb"/>
<rect x="1137.27" y="2423.82" width="20.77" height="13.28" fill="#fdd8d9"/>
<rect x="1157.74" y="2423.82" width="20.77" height="13.28" fill="#fdd8d9"/>
<rect x="1219.15" y="2423.82" width="20.77" height="13.28" fill="#fcc9cb"/>
<rect x="1260.09" y="2423.82" width="20.77" height="13.28" fill="#fddfe0"/>
<rect x="1239.62" y="2436.80" width="20.77" height="13.28" fill="#f99396"/>
<rect x="1116.80" y="2449.78" width="20.77" height="13.28" fill="#fccdcf"/>
<rect x="1137.27" y="2449.78" width="20.77" height="13.28" fill="#fcc3c5"/>
<rect x="1157.74" y="2449.78" width="20.77" height="13.28" fill="#fbbdbf"/>
<rect x="1178.21" y="2449.78" width="20.77" height="13.28" fill="#fbbdbf"/>
<rect x="1198.68" y="2449.78" width="20.77" height="13.28" fill="#fbbdbf"/>
<rect x="1219.15" y="2449.78" width="20.77" height="13.28" fill="#fcd2d3"/>
<rect x="1239.62" y="2449.78" width="20.77" height="13.28" fill="#f99396"/>
<rect x="1260.09" y="2449.78" width="20.77" height="13.28" fill="#faafb2"/>
<rect x="1280.56" y="2449.78" width="20.77" height="13.28" fill="#fdd8d9"/>
<rect x="1116.80" y="2462.76" width="20.77" height="13.28" fill="#f99396"/>
<rect x="1137.27" y="2462.76" width="20.77" height="13.28" fill="#f88a8d"/>
<rect x="1157.74" y="2462.76" width="20.77" height="13.28" fill="#f88a8d"/>
<rect x="1178.21" y="2462.76" width="20.77" height="13.28" fill="#f88a8d"/>
<rect x="1198.68" y="2462.76" width="20.77" height="13.28" fill="#f88488"/>
<rect x="1219.15" y="2462.76" width="20.77" height="13.28" fill="#f88a8d"/>
<rect x="1239.62" y="2462.76" width="20.77" height="13.28" fill="#f76f73"/>
<rect x="1260.09" y="2462.76" width="20.77" height="13.28" fill="#f88185"/>
<rect x="1280.56" y="2462.76" width="20.77" height="13.28" fill="#f99396"/>
<rect x="1116.80" y="2475.74" width="20.77" height="13.28" fill="#f99396"/>
<rect x="1137.27" y="2475.74" width="20.77" height="13.28" fill="#fdd8d9"/>
<rect x="1178.21" y="2475.74" width="20.77" height="13.28" fill="#fdd8d9"/>
<rect x="1198.68" y="2475.74" width="20.77" height="13.28" fill="#fccdcf"/>
<rect x="1219.15" y="2475.74" width="20.77" height="13.28" fill="#fddfe0"/>
<rect x="1239.62" y="2475.74" width="20.77" height="13.28" fill="#f88185"/>
<rect x="1280.56" y="2475.74" width="20.77" height="13.28" fill="#f99396"/>
<rect x="1116.80" y="2488.72" width="20.77" height="13.28" fill="#fdd8d9"/>
<rect x="1137.27" y="2488.72" width="20.77" height="13.28" fill="#fdd8d9"/>
<rect x="1178.21" y="2488.72" width="20.77" height="13.28" fill="#fdd8d9"/>
<rect x="1239.62" y="2488.72" width="20.77" height="13.28" fill="#fcc3c5"/>
<rect x="1260.09" y="2501.70" width="20.77" height="13.28" fill="#faa9ac"/>
<rect x="1260.09" y="2514.68" width="20.77" height="13.28" fill="#faa9ac"/>
<rect x="1116.80" y="2527.66" width="20.77" height="13.28" fill="#fdd8d9"/>
<rect x="1137.27" y="2527.66" width="20.77" height="13.28" fill="#fcc9cb"/>
<rect x="1157.74" y="2527.66" width="20.77" height="13.28" fill="#fccdcf"/>
<rect x="1178.21" y="2527.66" width="20.77" height="13.28" fill="#fcd2d3"/>
<rect x="1198.68" y="2527.66" width="20.77" height="13.28" fill="#fccdcf"/>
<rect x="1219.15" y="2527.66" width="20.77" height="13.28" fill="#fcc9cb"/>
<rect x="1239.62" y="2527.66" width="20.77" height="13.28" fill="#fcd2d3"/>
<rect x="1260.09" y="2527.66" width="20.77" height="13.28" fill="#f88a8d"/>
<rect x="1280.56" y="2527.66" width="20.77" height="13.28" fill="#fdd8d9"/>
<rect x="1260.09" y="2540.64" width="20.77" height="13.28" fill="#fdd8d9"/>
<rect x="1260.09" y="2553.62" width="20.77" height="13.28" fill="#fdd8d9"/>
<rect x="1280.56" y="2566.60" width="20.77" height="13.28" fill="#faa9ac"/>
<rect x="1116.80" y="2579.58" width="20.77" height="13.28" fill="#f88185"/>
<rect x="1137.27" y="2579.58" width="20.77" height="13.28" fill="#f88a8d"/>
<rect x="1157.74" y="2579.58" width="20.77" height="13.28" fill="#f88a8d"/>
<rect x="1178.21" y="2579.58" width="20.77" height="13.28" fill="#f88185"/>
<rect x="1198.68" y="2579.58" width="20.77" height="13.28" fill="#f88185"/>
<rect x="1219.15" y="2579.58" width="20.77" height="13.28" fill="#f88a8d"/>
<rect x="1239.62" y="2579.58" width="20.77" height="13.28" fill="#f99c9f"/>
<rect x="1260.09" y="2579.58" width="20.77" height="13.28" fill="#f99396"/>
<rect x="1280.56" y="2579.58" width="20.77" height="13.28" fill="#f4444a"/>
<rect x="1137.27" y="2592.56" width="20.77" height="13.28" fill="#fee8e9"/>
<rect x="1280.56" y="2592.56" width="20.77" height="13.28" fill="#faa9ac"/>
<rect x="1116.80" y="2605.54" width="20.77" height="13.28" fill="#fccdcf"/>
<rect x="1137.27" y="2605.54" width="20.77" height="13.28" fill="#fccdcf"/>
<rect x="1178.21" y="2605.54" width="20.77" height="13.28" fill="#fccdcf"/>
<rect x="1239.62" y="2605.54" width="20.77" height="13.28" fill="#fccdcf"/>
<rect x="1280.56" y="2605.54" width="20.77" height="13.28" fill="#f99c9f"/>
<rect x="1137.27" y="2618.52" width="20.77" height="13.28" fill="#fde3e4"/>
<rect x="1219.15" y="2618.52" width="20.77" height="13.28" fill="#fde3e4"/>
<rect x="1280.56" y="2618.52" width="20.77" height="13.28" fill="#faafb2"/>
<text x="1111.0" y="2057.6" font-size="10.1" text-anchor="end" textLength="32.6" lengthAdjust="spacingAndGlyphs" font-family="'DejaVu Sans', 'Liberation Sans', sans-serif" stroke="#000" stroke-width="0.32">PEBP1</text>
<rect x="1113.40" y="2053.34" width="2.60" height="1.10" fill="#000"/>
<text x="1111.0" y="2070.6" font-size="10.1" text-anchor="end" textLength="40.5" lengthAdjust="spacingAndGlyphs" font-family="'DejaVu Sans', 'Liberation Sans', sans-serif" stroke="#000" stroke-width="0.32">SEC11C</text>
<rect x="1113.40" y="2066.32" width="2.60" height="1.10" fill="#000"/>
<text x="1111.0" y="2083.5" font-size="10.1" text-anchor="end" textLength="35.9" lengthAdjust="spacingAndGlyphs" font-family="'DejaVu Sans', 'Liberation Sans', sans-serif" stroke="#000" stroke-width="0.32">EPCAM</text>
<rect x="1113.40" y="2079.30" width="2.60" height="1.10" fill="#000"/>
<text x="1111.0" y="2096.5" font-size="10.1" text-anchor="end" textLength="54.3" lengthAdjust="spacingAndGlyphs" font-family="'DejaVu Sans', 'Liberation Sans', sans-serif" stroke="#000" stroke-width="0.32">HSP90AB1</text>
<rect x="1113.40" y="2092.28" width="2.60" height="1.10" fill="#000"/>
<text x="1111.0" y="2109.5" font-size="10.1" text-anchor="end" textLength="30.0" lengthAdjust="spacingAndGlyphs" font-family="'DejaVu Sans', 'Liberation Sans', sans-serif" stroke="#000" stroke-width="0.32">CHGA</text>
<rect x="1113.40" y="2105.26" width="2.60" height="1.10" fill="#000"/>
<text x="1111.0" y="2122.5" font-size="10.1" text-anchor="end" textLength="35.2" lengthAdjust="spacingAndGlyphs" font-family="'DejaVu Sans', 'Liberation Sans', sans-serif" stroke="#000" stroke-width="0.32">PSMA7</text>
<rect x="1113.40" y="2118.24" width="2.60" height="1.10" fill="#000"/>
<text x="1111.0" y="2135.5" font-size="10.1" text-anchor="end" textLength="41.3" lengthAdjust="spacingAndGlyphs" font-family="'DejaVu Sans', 'Liberation Sans', sans-serif" stroke="#000" stroke-width="0.32">RANBP1</text>
<rect x="1113.40" y="2131.22" width="2.60" height="1.10" fill="#000"/>
<text x="1111.0" y="2148.4" font-size="10.1" text-anchor="end" textLength="25.5" lengthAdjust="spacingAndGlyphs" font-family="'DejaVu Sans', 'Liberation Sans', sans-serif" stroke="#000" stroke-width="0.32">EEF2</text>
<rect x="1113.40" y="2144.20" width="2.60" height="1.10" fill="#000"/>
<text x="1111.0" y="2161.4" font-size="10.1" text-anchor="end" textLength="28.0" lengthAdjust="spacingAndGlyphs" font-family="'DejaVu Sans', 'Liberation Sans', sans-serif" stroke="#000" stroke-width="0.32">TYMS</text>
<rect x="1113.40" y="2157.18" width="2.60" height="1.10" fill="#000"/>
<text x="1111.0" y="2174.4" font-size="10.1" text-anchor="end" textLength="21.0" lengthAdjust="spacingAndGlyphs" font-family="'DejaVu Sans', 'Liberation Sans', sans-serif" stroke="#000" stroke-width="0.32">CKB</text>
<rect x="1113.40" y="2170.16" width="2.60" height="1.10" fill="#000"/>
<text x="1111.0" y="2187.4" font-size="10.1" text-anchor="end" textLength="31.3" lengthAdjust="spacingAndGlyphs" font-family="'DejaVu Sans', 'Liberation Sans', sans-serif" stroke="#000" stroke-width="0.32">HINT1</text>
<rect x="1113.40" y="2183.14" width="2.60" height="1.10" fill="#000"/>
<text x="1111.0" y="2200.4" font-size="10.1" text-anchor="end" textLength="39.3" lengthAdjust="spacingAndGlyphs" font-family="'DejaVu Sans', 'Liberation Sans', sans-serif" stroke="#000" stroke-width="0.32">DNAJB1</text>
<rect x="1113.40" y="2196.12" width="2.60" height="1.10" fill="#000"/>
<text x="1111.0" y="2213.3" font-size="10.1" text-anchor="end" textLength="26.2" lengthAdjust="spacingAndGlyphs" font-family="'DejaVu Sans', 'Liberation Sans', sans-serif" stroke="#000" stroke-width="0.32">JUND</text>
<rect x="1113.40" y="2209.10" width="2.60" height="1.10" fill="#000"/>
<text x="1111.0" y="2226.3" font-size="10.1" text-anchor="end" textLength="18.3" lengthAdjust="spacingAndGlyphs" font-family="'DejaVu Sans', 'Liberation Sans', sans-serif" stroke="#000" stroke-width="0.32">JUN</text>
<rect x="1113.40" y="2222.08" width="2.60" height="1.10" fill="#000"/>
<text x="1111.0" y="2239.3" font-size="10.1" text-anchor="end" textLength="21.6" lengthAdjust="spacingAndGlyphs" font-family="'DejaVu Sans', 'Liberation Sans', sans-serif" stroke="#000" stroke-width="0.32">PNN</text>
<rect x="1113.40" y="2235.06" width="2.60" height="1.10" fill="#000"/>
<text x="1111.0" y="2252.3" font-size="10.1" text-anchor="end" textLength="22.5" lengthAdjust="spacingAndGlyphs" font-family="'DejaVu Sans', 'Liberation Sans', sans-serif" stroke="#000" stroke-width="0.32">PPIA</text>
<rect x="1113.40" y="2248.04" width="2.60" height="1.10" fill="#000"/>
<text x="1111.0" y="2265.3" font-size="10.1" text-anchor="end" textLength="34.3" lengthAdjust="spacingAndGlyphs" font-family="'DejaVu Sans', 'Liberation Sans', sans-serif" stroke="#000" stroke-width="0.32">H2AFZ</text>
<rect x="1113.40" y="2261.02" width="2.60" height="1.10" fill="#000"/>
<text x="1111.0" y="2278.2" font-size="10.1" text-anchor="end" textLength="35.4" lengthAdjust="spacingAndGlyphs" font-family="'DejaVu Sans', 'Liberation Sans', sans-serif" stroke="#000" stroke-width="0.32">COX7C</text>
<rect x="1113.40" y="2274.00" width="2.60" height="1.10" fill="#000"/>
<text x="1111.0" y="2291.2" font-size="10.1" text-anchor="end" textLength="38.2" lengthAdjust="spacingAndGlyphs" font-family="'DejaVu Sans', 'Liberation Sans', sans-serif" stroke="#000" stroke-width="0.32">HMGB1</text>
<rect x="1113.40" y="2286.98" width="2.60" height="1.10" fill="#000"/>
<text x="1111.0" y="2304.2" font-size="10.1" text-anchor="end" textLength="36.1" lengthAdjust="spacingAndGlyphs" font-family="'DejaVu Sans', 'Liberation Sans', sans-serif" stroke="#000" stroke-width="0.32">CDKN3</text>
<rect x="1113.40" y="2299.96" width="2.60" height="1.10" fill="#000"/>
<text x="1111.0" y="2317.2" font-size="10.1" text-anchor="end" textLength="31.8" lengthAdjust="spacingAndGlyphs" font-family="'DejaVu Sans', 'Liberation Sans', sans-serif" stroke="#000" stroke-width="0.32">ATP5E</text>
<rect x="1113.40" y="2312.94" width="2.60" height="1.10" fill="#000"/>
<text x="1111.0" y="2330.2" font-size="10.1" text-anchor="end" textLength="41.9" lengthAdjust="spacingAndGlyphs" font-family="'DejaVu Sans', 'Liberation Sans', sans-serif" stroke="#000" stroke-width="0.32">COX7A2</text>
<rect x="1113.40" y="2325.92" width="2.60" height="1.10" fill="#000"/>
<text x="1111.0" y="2343.1" font-size="10.1" text-anchor="end" textLength="21.5" lengthAdjust="spacingAndGlyphs" font-family="'DejaVu Sans', 'Liberation Sans', sans-serif" stroke="#000" stroke-width="0.32">RAN</text>
<rect x="1113.40" y="2338.90" width="2.60" height="1.10" fill="#000"/>
<text x="1111.0" y="2356.1" font-size="10.1" text-anchor="end" textLength="22.4" lengthAdjust="spacingAndGlyphs" font-family="'DejaVu Sans', 'Liberation Sans', sans-serif" stroke="#000" stroke-width="0.32">SON</text>
<rect x="1113.40" y="2351.88" width="2.60" height="1.10" fill="#000"/>
<text x="1111.0" y="2369.1" font-size="10.1" text-anchor="end" textLength="34.3" lengthAdjust="spacingAndGlyphs" font-family="'DejaVu Sans', 'Liberation Sans', sans-serif" stroke="#000" stroke-width="0.32">PFDN5</text>
<rect x="1113.40" y="2364.86" width="2.60" height="1.10" fill="#000"/>
<text x="1111.0" y="2382.1" font-size="10.1" text-anchor="end" textLength="35.6" lengthAdjust="spacingAndGlyphs" font-family="'DejaVu Sans', 'Liberation Sans', sans-serif" stroke="#000" stroke-width="0.32">EIF4A2</text>
<rect x="1113.40" y="2377.84" width="2.60" height="1.10" fill="#000"/>
<text x="1111.0" y="2395.1" font-size="10.1" text-anchor="end" textLength="25.5" lengthAdjust="spacingAndGlyphs" font-family="'DejaVu Sans', 'Liberation Sans', sans-serif" stroke="#000" stroke-width="0.32">BPTF</text>
<rect x="1113.40" y="2390.82" width="2.60" height="1.10" fill="#000"/>
<text x="1111.0" y="2408.0" font-size="10.1" text-anchor="end" textLength="49.7" lengthAdjust="spacingAndGlyphs" font-family="'DejaVu Sans', 'Liberation Sans', sans-serif" stroke="#000" stroke-width="0.32">ANKRD11</text>
<rect x="1113.40" y="2403.80" width="2.60" height="1.10" fill="#000"/>
<text x="1111.0" y="2421.0" font-size="10.1" text-anchor="end" textLength="27.5" lengthAdjust="spacingAndGlyphs" font-family="'DejaVu Sans', 'Liberation Sans', sans-serif" stroke="#000" stroke-width="0.32">MYL6</text>
<rect x="1113.40" y="2416.78" width="2.60" height="1.10" fill="#000"/>
<text x="1111.0" y="2434.0" font-size="10.1" text-anchor="end" textLength="26.8" lengthAdjust="spacingAndGlyphs" font-family="'DejaVu Sans', 'Liberation Sans', sans-serif" stroke="#000" stroke-width="0.32">ATRX</text>
<rect x="1113.40" y="2429.76" width="2.60" height="1.10" fill="#000"/>
<text x="1111.0" y="2447.0" font-size="10.1" text-anchor="end" textLength="24.7" lengthAdjust="spacingAndGlyphs" font-family="'DejaVu Sans', 'Liberation Sans', sans-serif" stroke="#000" stroke-width="0.32">TFF3</text>
<rect x="1113.40" y="2442.74" width="2.60" height="1.10" fill="#000"/>
<text x="1111.0" y="2460.0" font-size="10.1" text-anchor="end" textLength="28.5" lengthAdjust="spacingAndGlyphs" font-family="'DejaVu Sans', 'Liberation Sans', sans-serif" stroke="#000" stroke-width="0.32">LDHA</text>
<rect x="1113.40" y="2455.72" width="2.60" height="1.10" fill="#000"/>
<text x="1111.0" y="2472.9" font-size="10.1" text-anchor="end" textLength="34.9" lengthAdjust="spacingAndGlyphs" font-family="'DejaVu Sans', 'Liberation Sans', sans-serif" stroke="#000" stroke-width="0.32">ACTG1</text>
<rect x="1113.40" y="2468.70" width="2.60" height="1.10" fill="#000"/>
<text x="1111.0" y="2485.9" font-size="10.1" text-anchor="end" textLength="39.8" lengthAdjust="spacingAndGlyphs" font-family="'DejaVu Sans', 'Liberation Sans', sans-serif" stroke="#000" stroke-width="0.32">S100A6</text>
<rect x="1113.40" y="2481.68" width="2.60" height="1.10" fill="#000"/>
<text x="1111.0" y="2498.9" font-size="10.1" text-anchor="end" textLength="27.9" lengthAdjust="spacingAndGlyphs" font-family="'DejaVu Sans', 'Liberation Sans', sans-serif" stroke="#000" stroke-width="0.32">BTG2</text>
<rect x="1113.40" y="2494.66" width="2.60" height="1.10" fill="#000"/>
<text x="1111.0" y="2511.9" font-size="10.1" text-anchor="end" textLength="34.2" lengthAdjust="spacingAndGlyphs" font-family="'DejaVu Sans', 'Liberation Sans', sans-serif" stroke="#000" stroke-width="0.32">TOP2A</text>
<rect x="1113.40" y="2507.64" width="2.60" height="1.10" fill="#000"/>
<text x="1111.0" y="2524.9" font-size="10.1" text-anchor="end" textLength="33.5" lengthAdjust="spacingAndGlyphs" font-family="'DejaVu Sans', 'Liberation Sans', sans-serif" stroke="#000" stroke-width="0.32">CENPF</text>
<rect x="1113.40" y="2520.62" width="2.60" height="1.10" fill="#000"/>
<text x="1111.0" y="2537.8" font-size="10.1" text-anchor="end" textLength="25.8" lengthAdjust="spacingAndGlyphs" font-family="'DejaVu Sans', 'Liberation Sans', sans-serif" stroke="#000" stroke-width="0.32">BTF3</text>
<rect x="1113.40" y="2533.60" width="2.60" height="1.10" fill="#000"/>
<text x="1111.0" y="2550.8" font-size="10.1" text-anchor="end" textLength="31.8" lengthAdjust="spacingAndGlyphs" font-family="'DejaVu Sans', 'Liberation Sans', sans-serif" stroke="#000" stroke-width="0.32">MKI67</text>
<rect x="1113.40" y="2546.58" width="2.60" height="1.10" fill="#000"/>
<text x="1111.0" y="2563.8" font-size="10.1" text-anchor="end" textLength="35.7" lengthAdjust="spacingAndGlyphs" font-family="'DejaVu Sans', 'Liberation Sans', sans-serif" stroke="#000" stroke-width="0.32">CCNB1</text>
<rect x="1113.40" y="2559.56" width="2.60" height="1.10" fill="#000"/>
<text x="1111.0" y="2576.8" font-size="10.1" text-anchor="end" textLength="30.8" lengthAdjust="spacingAndGlyphs" font-family="'DejaVu Sans', 'Liberation Sans', sans-serif" stroke="#000" stroke-width="0.32">HLA-E</text>
<rect x="1113.40" y="2572.54" width="2.60" height="1.10" fill="#000"/>
<text x="1111.0" y="2589.8" font-size="10.1" text-anchor="end" textLength="26.3" lengthAdjust="spacingAndGlyphs" font-family="'DejaVu Sans', 'Liberation Sans', sans-serif" stroke="#000" stroke-width="0.32">FTH1</text>
<rect x="1113.40" y="2585.52" width="2.60" height="1.10" fill="#000"/>
<text x="1111.0" y="2602.7" font-size="10.1" text-anchor="end" textLength="34.4" lengthAdjust="spacingAndGlyphs" font-family="'DejaVu Sans', 'Liberation Sans', sans-serif" stroke="#000" stroke-width="0.32">CXCR4</text>
<rect x="1113.40" y="2598.50" width="2.60" height="1.10" fill="#000"/>
<text x="1111.0" y="2615.7" font-size="10.1" text-anchor="end" textLength="40.5" lengthAdjust="spacingAndGlyphs" font-family="'DejaVu Sans', 'Liberation Sans', sans-serif" stroke="#000" stroke-width="0.32">HSPA1B</text>
<rect x="1113.40" y="2611.48" width="2.60" height="1.10" fill="#000"/>
<text x="1111.0" y="2628.7" font-size="10.1" text-anchor="end" textLength="44.6" lengthAdjust="spacingAndGlyphs" font-family="'DejaVu Sans', 'Liberation Sans', sans-serif" stroke="#000" stroke-width="0.32">ZFP36L2</text>
<rect x="1113.40" y="2624.46" width="2.60" height="1.10" fill="#000"/>
<rect x="1126.48" y="2632.30" width="1.10" height="2.40" fill="#000"/>
<text x="1130.7" y="2638.5" font-size="10" text-anchor="end" textLength="21.0" lengthAdjust="spacingAndGlyphs" transform="rotate(-90 1130.7 2638.5)" font-family="'DejaVu Sans', 'Liberation Sans', sans-serif" stroke="#000" stroke-width="0.3">MP1</text>
<rect x="1146.95" y="2632.30" width="1.10" height="2.40" fill="#000"/>
<text x="1151.2" y="2638.5" font-size="10" text-anchor="end" textLength="21.0" lengthAdjust="spacingAndGlyphs" transform="rotate(-90 1151.2 2638.5)" font-family="'DejaVu Sans', 'Liberation Sans', sans-serif" stroke="#000" stroke-width="0.3">MP2</text>
<rect x="1167.42" y="2632.30" width="1.10" height="2.40" fill="#000"/>
<text x="1171.6" y="2638.5" font-size="10" text-anchor="end" textLength="21.0" lengthAdjust="spacingAndGlyphs" transform="rotate(-90 1171.6 2638.5)" font-family="'DejaVu Sans', 'Liberation Sans', sans-serif" stroke="#000" stroke-width="0.3">MP3</text>
<rect x="1187.89" y="2632.30" width="1.10" height="2.40" fill="#000"/>
<text x="1192.1" y="2638.5" font-size="10" text-anchor="end" textLength="21.0" lengthAdjust="spacingAndGlyphs" transform="rotate(-90 1192.1 2638.5)" font-family="'DejaVu Sans', 'Liberation Sans', sans-serif" stroke="#000" stroke-width="0.3">MP4</text>
<rect x="1208.37" y="2632.30" width="1.10" height="2.40" fill="#000"/>
<text x="1212.6" y="2638.5" font-size="10" text-anchor="end" textLength="21.0" lengthAdjust="spacingAndGlyphs" transform="rotate(-90 1212.6 2638.5)" font-family="'DejaVu Sans', 'Liberation Sans', sans-serif" stroke="#000" stroke-width="0.3">MP5</text>
<rect x="1228.84" y="2632.30" width="1.10" height="2.40" fill="#000"/>
<text x="1233.0" y="2638.5" font-size="10" text-anchor="end" textLength="21.0" lengthAdjust="spacingAndGlyphs" transform="rotate(-90 1233.0 2638.5)" font-family="'DejaVu Sans', 'Liberation Sans', sans-serif" stroke="#000" stroke-width="0.3">MP6</text>
<rect x="1249.31" y="2632.30" width="1.10" height="2.40" fill="#000"/>
<text x="1253.5" y="2638.5" font-size="10" text-anchor="end" textLength="21.0" lengthAdjust="spacingAndGlyphs" transform="rotate(-90 1253.5 2638.5)" font-family="'DejaVu Sans', 'Liberation Sans', sans-serif" stroke="#000" stroke-width="0.3">MP7</text>
<rect x="1269.77" y="2632.30" width="1.10" height="2.40" fill="#000"/>
<text x="1274.0" y="2638.5" font-size="10" text-anchor="end" textLength="21.0" lengthAdjust="spacingAndGlyphs" transform="rotate(-90 1274.0 2638.5)" font-family="'DejaVu Sans', 'Liberation Sans', sans-serif" stroke="#000" stroke-width="0.3">MP8</text>
<rect x="1290.25" y="2632.30" width="1.10" height="2.40" fill="#000"/>
<text x="1294.4" y="2638.5" font-size="10" text-anchor="end" textLength="21.0" lengthAdjust="spacingAndGlyphs" transform="rotate(-90 1294.4 2638.5)" font-family="'DejaVu Sans', 'Liberation Sans', sans-serif" stroke="#000" stroke-width="0.3">MP9</text>
<rect x="1301.40" y="2047.40" width="4.00" height="584.10" fill="#000"/>
<text x="1340.5" y="2095.7" font-size="22.3" text-anchor="middle" transform="rotate(-90 1340.5 2095.7)">Respiration</text>
<text x="1340.5" y="2238.8" font-size="22.3" text-anchor="middle" transform="rotate(-90 1340.5 2238.8)">Cell Cycle</text>
<text x="1340.5" y="2403.7" font-size="22.3" text-anchor="middle" transform="rotate(-90 1340.5 2403.7)">NPC Glioma</text>
<text x="1340.5" y="2518.0" font-size="22.3" text-anchor="middle" transform="rotate(-90 1340.5 2518.0)">EMT</text>
<text x="1340.5" y="2601.4" font-size="22.3" text-anchor="middle" transform="rotate(-90 1340.5 2601.4)">Stress</text>
<text x="1054.0" y="2344.6" font-size="23" text-anchor="middle" transform="rotate(-90 1054.0 2344.6)">Enriched Gene</text>
<text x="1211.6" y="2702.0" font-size="20.5" text-anchor="middle" textLength="189.0" lengthAdjust="spacingAndGlyphs">Metaprogram (MP)</text>
<text x="1402.0" y="2457.4" font-size="16" text-anchor="middle" textLength="82.0" lengthAdjust="spacingAndGlyphs">Normalized</text>
<text x="1402.0" y="2476.9" font-size="16" text-anchor="middle">Gene</text>
<text x="1402.0" y="2496.9" font-size="16" text-anchor="middle" textLength="87.7" lengthAdjust="spacingAndGlyphs">Contribution</text>
<defs><linearGradient id="rg21" x1="0" y1="0" x2="0" y2="1"><stop offset="0" stop-color="#f43c42"/><stop offset="1" stop-color="#ffffff"/></linearGradient></defs>
<rect x="1384.20" y="2508.80" width="35.80" height="130.80" fill="url(#rg21)" stroke="#555" stroke-width="1.2"/>
<text x="1432.8" y="2521.6" font-size="17.5">1.0</text>
<text x="1432.8" y="2644.8" font-size="17.5">0.0</text>
<rect x="1526.60" y="2040.30" width="22.50" height="14.66" fill="#e0e0e0"/>
<rect x="1571.00" y="2040.30" width="22.50" height="14.66" fill="#0c0c0c"/>
<rect x="1593.20" y="2040.30" width="22.50" height="14.66" fill="#e0e0e0"/>
<rect x="1659.80" y="2040.30" width="22.50" height="14.66" fill="#0c0c0c"/>
<rect x="1526.60" y="2054.66" width="22.50" height="14.66" fill="#0c0c0c"/>
<rect x="1571.00" y="2054.66" width="22.50" height="14.66" fill="#e0e0e0"/>
<rect x="1504.40" y="2069.02" width="22.50" height="14.66" fill="#c0c0c0"/>
<rect x="1526.60" y="2069.02" width="22.50" height="14.66" fill="#1c1c1c"/>
<rect x="1548.80" y="2069.02" width="22.50" height="14.66" fill="#9b9b9b"/>
<rect x="1571.00" y="2069.02" width="22.50" height="14.66" fill="#646464"/>
<rect x="1593.20" y="2069.02" width="22.50" height="14.66" fill="#0c0c0c"/>
<rect x="1637.60" y="2069.02" width="22.50" height="14.66" fill="#1c1c1c"/>
<rect x="1659.80" y="2069.02" width="22.50" height="14.66" fill="#c0c0c0"/>
<rect x="1682.00" y="2069.02" width="22.50" height="14.66" fill="#e0e0e0"/>
<rect x="1615.40" y="2083.38" width="22.50" height="14.66" fill="#707070"/>
<rect x="1548.80" y="2097.74" width="22.50" height="14.66" fill="#0c0c0c"/>
<rect x="1637.60" y="2097.74" width="22.50" height="14.66" fill="#1c1c1c"/>
<rect x="1682.00" y="2097.74" width="22.50" height="14.66" fill="#0c0c0c"/>
<rect x="1593.20" y="2112.10" width="22.50" height="14.66" fill="#e0e0e0"/>
<rect x="1637.60" y="2112.10" width="22.50" height="14.66" fill="#0c0c0c"/>
<rect x="1548.80" y="2126.46" width="22.50" height="14.66" fill="#c0c0c0"/>
<rect x="1637.60" y="2126.46" width="22.50" height="14.66" fill="#e0e0e0"/>
<rect x="1682.00" y="2126.46" width="22.50" height="14.66" fill="#c0c0c0"/>
<rect x="1637.60" y="2140.82" width="22.50" height="14.66" fill="#e0e0e0"/>
<rect x="1504.40" y="2155.18" width="22.50" height="14.66" fill="#8a8a8a"/>
<rect x="1548.80" y="2155.18" width="22.50" height="14.66" fill="#c0c0c0"/>
<rect x="1637.60" y="2155.18" width="22.50" height="14.66" fill="#e0e0e0"/>
<rect x="1504.40" y="2169.54" width="22.50" height="14.66" fill="#8a8a8a"/>
<rect x="1548.80" y="2169.54" width="22.50" height="14.66" fill="#c0c0c0"/>
<rect x="1637.60" y="2169.54" width="22.50" height="14.66" fill="#646464"/>
<rect x="1682.00" y="2169.54" width="22.50" height="14.66" fill="#c0c0c0"/>
<rect x="1504.40" y="2226.98" width="22.50" height="14.66" fill="#919191"/>
<rect x="1548.80" y="2226.98" width="22.50" height="14.66" fill="#919191"/>
<rect x="1593.20" y="2226.98" width="22.50" height="14.66" fill="#c0c0c0"/>
<rect x="1637.60" y="2226.98" width="22.50" height="14.66" fill="#707070"/>
<rect x="1682.00" y="2226.98" width="22.50" height="14.66" fill="#e0e0e0"/>
<rect x="1548.80" y="2241.34" width="22.50" height="14.66" fill="#e0e0e0"/>
<rect x="1637.60" y="2241.34" width="22.50" height="14.66" fill="#e0e0e0"/>
<rect x="1682.00" y="2241.34" width="22.50" height="14.66" fill="#e0e0e0"/>
<rect x="1504.40" y="2270.06" width="22.50" height="14.66" fill="#c0c0c0"/>
<rect x="1637.60" y="2270.06" width="22.50" height="14.66" fill="#646464"/>
<rect x="1682.00" y="2270.06" width="22.50" height="14.66" fill="#e0e0e0"/>
<rect x="1593.20" y="2284.42" width="22.50" height="14.66" fill="#e0e0e0"/>
<rect x="1637.60" y="2284.42" width="22.50" height="14.66" fill="#e0e0e0"/>
<rect x="1526.60" y="2313.14" width="22.50" height="14.66" fill="#c0c0c0"/>
<rect x="1548.80" y="2313.14" width="22.50" height="14.66" fill="#c0c0c0"/>
<rect x="1593.20" y="2313.14" width="22.50" height="14.66" fill="#e0e0e0"/>
<rect x="1637.60" y="2313.14" width="22.50" height="14.66" fill="#8a8a8a"/>
<rect x="1504.40" y="2327.50" width="22.50" height="14.66" fill="#0c0c0c"/>
<rect x="1593.20" y="2327.50" width="22.50" height="14.66" fill="#1c1c1c"/>
<rect x="1637.60" y="2327.50" width="22.50" height="14.66" fill="#707070"/>
<rect x="1504.40" y="2356.22" width="22.50" height="14.66" fill="#e0e0e0"/>
<rect x="1637.60" y="2356.22" width="22.50" height="14.66" fill="#e0e0e0"/>
<rect x="1548.80" y="2370.58" width="22.50" height="14.66" fill="#e0e0e0"/>
<rect x="1593.20" y="2370.58" width="22.50" height="14.66" fill="#e0e0e0"/>
<rect x="1637.60" y="2370.58" width="22.50" height="14.66" fill="#e0e0e0"/>
<rect x="1548.80" y="2399.30" width="22.50" height="14.66" fill="#c0c0c0"/>
<rect x="1615.40" y="2399.30" width="22.50" height="14.66" fill="#c0c0c0"/>
<rect x="1548.80" y="2442.38" width="22.50" height="14.66" fill="#c0c0c0"/>
<rect x="1615.40" y="2442.38" width="22.50" height="14.66" fill="#c0c0c0"/>
<rect x="1637.60" y="2442.38" width="22.50" height="14.66" fill="#e0e0e0"/>
<rect x="1682.00" y="2442.38" width="22.50" height="14.66" fill="#e0e0e0"/>
<rect x="1637.60" y="2456.74" width="22.50" height="14.66" fill="#e0e0e0"/>
<rect x="1504.40" y="2499.82" width="22.50" height="14.66" fill="#e0e0e0"/>
<rect x="1593.20" y="2499.82" width="22.50" height="14.66" fill="#e0e0e0"/>
<rect x="1637.60" y="2499.82" width="22.50" height="14.66" fill="#e0e0e0"/>
<rect x="1637.60" y="2514.18" width="22.50" height="14.66" fill="#c0c0c0"/>
<rect x="1548.80" y="2528.54" width="22.50" height="14.66" fill="#e0e0e0"/>
<rect x="1637.60" y="2528.54" width="22.50" height="14.66" fill="#e0e0e0"/>
<rect x="1682.00" y="2528.54" width="22.50" height="14.66" fill="#c0c0c0"/>
<rect x="1637.60" y="2542.90" width="22.50" height="14.66" fill="#e0e0e0"/>
<rect x="1682.00" y="2542.90" width="22.50" height="14.66" fill="#e0e0e0"/>
<rect x="1548.80" y="2585.98" width="22.50" height="14.66" fill="#c0c0c0"/>
<rect x="1637.60" y="2585.98" width="22.50" height="14.66" fill="#e0e0e0"/>
<rect x="1548.80" y="2614.70" width="22.50" height="14.66" fill="#2d2d2d"/>
<rect x="1615.40" y="2614.70" width="22.50" height="14.66" fill="#0c0c0c"/>
<rect x="1637.60" y="2614.70" width="22.50" height="14.66" fill="#707070"/>
<rect x="1682.00" y="2614.70" width="22.50" height="14.66" fill="#c0c0c0"/>
<text x="1707.4" y="2052.7" font-size="14.6">MP1..Cell.Cycle...G2.M</text>
<text x="1707.4" y="2067.1" font-size="14.6">MP2..Cell.Cycle...G1.S</text>
<text x="1707.4" y="2081.5" font-size="14.6">MP3..Cell.Cylce.HMG.rich</text>
<text x="1707.4" y="2095.8" font-size="14.6">MP4..Chromatin</text>
<text x="1707.4" y="2110.2" font-size="14.6">MP5.Stress</text>
<text x="1707.4" y="2124.5" font-size="14.6">MP6.Hypoxia</text>
<text x="1707.4" y="2138.9" font-size="14.6">MP7.Stress..in.vitro.</text>
<text x="1707.4" y="2153.3" font-size="14.6">MP8.Proteasomal.degradation</text>
<text x="1707.4" y="2167.6" font-size="14.6">MP9.Unfolded.protein.response</text>
<text x="1707.4" y="2182.0" font-size="14.6">MP10.Protein.maturation</text>
<text x="1707.4" y="2196.3" font-size="14.6">MP11.Translation.initiation</text>
<text x="1707.4" y="2210.7" font-size="14.6">MP12.EMT.I</text>
<text x="1707.4" y="2225.1" font-size="14.6">MP13.EMT.II</text>
<text x="1707.4" y="2239.4" font-size="14.6">MP14.EMT.III</text>
<text x="1707.4" y="2253.8" font-size="14.6">MP15.EMT.IV</text>
<text x="1707.4" y="2268.1" font-size="14.6">MP16.MES..glioma.</text>
<text x="1707.4" y="2282.5" font-size="14.6">MP17.Interferon.MHC.II..I.</text>
<text x="1707.4" y="2296.9" font-size="14.6">MP18.Interferon.MHC.II..II.</text>
<text x="1707.4" y="2311.2" font-size="14.6">MP19.Epithelial.Senescence</text>
<text x="1707.4" y="2325.6" font-size="14.6">MP20.MYC</text>
<text x="1707.4" y="2339.9" font-size="14.6">MP21.Respiration</text>
<text x="1707.4" y="2354.3" font-size="14.6">MP22.Secreted.I</text>
<text x="1707.4" y="2368.7" font-size="14.6">MP23.Secreted.II</text>
<text x="1707.4" y="2383.0" font-size="14.6">MP24.Cilia</text>
<text x="1707.4" y="2397.4" font-size="14.6">MP25.Astrocytes</text>
<text x="1707.4" y="2411.7" font-size="14.6">MP26.NPC.Glioma</text>
<text x="1707.4" y="2426.1" font-size="14.6">MP27.Oligo.Progenitor</text>
<text x="1707.4" y="2440.5" font-size="14.6">MP28.Oligo.normal</text>
<text x="1707.4" y="2454.8" font-size="14.6">MP29.NPC.OPC</text>
<text x="1707.4" y="2469.2" font-size="14.6">MP30.PDAC.classical</text>
<text x="1707.4" y="2483.5" font-size="14.6">MP31.Alveolar</text>
<text x="1707.4" y="2497.9" font-size="14.6">MP32.Skin.pigmentation</text>
<text x="1707.4" y="2512.3" font-size="14.6">MP33.RBCs</text>
<text x="1707.4" y="2526.6" font-size="14.6">MP34.Platelet.activation</text>
<text x="1707.4" y="2541.0" font-size="14.6">MP35.Hemato.related.I</text>
<text x="1707.4" y="2555.3" font-size="14.6">MP36.IG</text>
<text x="1707.4" y="2569.7" font-size="14.6">MP37.Hemato.related.II</text>
<text x="1707.4" y="2584.1" font-size="14.6">MP38.Glutathione</text>
<text x="1707.4" y="2598.4" font-size="14.6">MP39.Metal.response</text>
<text x="1707.4" y="2612.8" font-size="14.6">MP40.PDAC.related</text>
<text x="1707.4" y="2627.1" font-size="14.6">MP41.Unassigned</text>
<text x="1510.5" y="2633.0" font-size="14" transform="rotate(90 1510.5 2633.0)">MP1</text>
<text x="1532.7" y="2633.0" font-size="14" transform="rotate(90 1532.7 2633.0)">MP2</text>
<text x="1554.9" y="2633.0" font-size="14" transform="rotate(90 1554.9 2633.0)">MP3</text>
<text x="1577.1" y="2633.0" font-size="14" transform="rotate(90 1577.1 2633.0)">MP4</text>
<text x="1599.3" y="2633.0" font-size="14" transform="rotate(90 1599.3 2633.0)">MP5</text>
<text x="1621.5" y="2633.0" font-size="14" transform="rotate(90 1621.5 2633.0)">MP6</text>
<text x="1643.7" y="2633.0" font-size="14" transform="rotate(90 1643.7 2633.0)">MP7</text>
<text x="1665.9" y="2633.0" font-size="14" transform="rotate(90 1665.9 2633.0)">MP8</text>
<text x="1688.1" y="2633.0" font-size="14" transform="rotate(90 1688.1 2633.0)">MP9</text>
<text x="1934.0" y="2278.7" font-size="23" text-anchor="middle" transform="rotate(-90 1934.0 2278.7)">Gavish et al. Metaprograms</text>
<text x="1603.2" y="2705.5" font-size="20.5" text-anchor="middle" textLength="189.0" lengthAdjust="spacingAndGlyphs">Metaprogram (MP)</text>
<text x="1922.2" y="2486.9" font-size="16" text-anchor="middle">Scaled</text>
<text x="1922.2" y="2506.7" font-size="16" text-anchor="middle">Correlation</text>
<defs><linearGradient id="gg22" x1="0" y1="0" x2="0" y2="1"><stop offset="0" stop-color="#0a0a0a"/><stop offset="0.5" stop-color="#7a7a7a"/><stop offset="1" stop-color="#f2f2f2"/></linearGradient></defs>
<rect x="1902.40" y="2514.00" width="35.40" height="132.50" fill="url(#gg22)" stroke="#555" stroke-width="1.2"/>
<text x="1952.0" y="2527.5" font-size="17.5">1.0</text>
<text x="1952.0" y="2651.7" font-size="17.5">0.0</text></svg></body></html>
